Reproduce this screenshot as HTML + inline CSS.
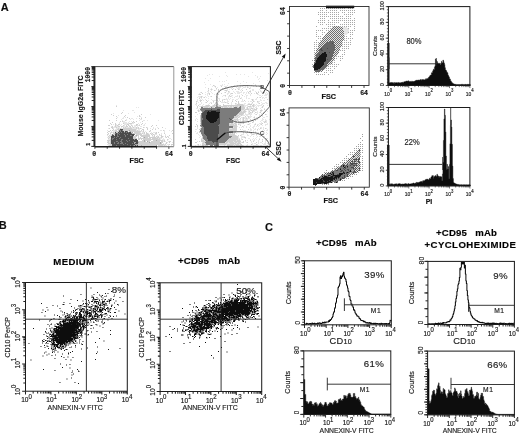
<!DOCTYPE html>
<html lang="en">
<head>
<meta charset="utf-8">
<title>Figure: CD10 / CD95 flow cytometry</title>
<style>
html,body{margin:0;padding:0;background:#fff;}
body{width:520px;height:435px;overflow:hidden;}
svg{display:block;font-family:"Liberation Sans", sans-serif;fill:#111;}
svg text{stroke:#222;stroke-width:.16px;}
svg .m{font-family:"Liberation Mono", "DejaVu Sans Mono", monospace;}
</style>
</head>
<body>
<svg width="520" height="435" viewBox="0 0 520 435">
<rect width="520" height="435" fill="#fff"/>
<g filter="url(#soft)">
<text x="0.8" y="11.1" font-size="11" font-weight="bold">A</text>
<text x="-1.2" y="229.4" font-size="11" font-weight="bold">B</text>
<text x="265" y="230.6" font-size="11" font-weight="bold">C</text>
<path d="M116 106h1v1h-1zM122 112h1v1h-1zM121 113h1v1h-1zM111 114h1v1h-1zM141 114h1v1h-1zM113 115h1v1h-1zM125 115h1v1h-1zM139 115h1v1h-1zM116 116h1v1h-1zM124 116h1v1h-1zM139 116h1v1h-1zM127 117h1v1h-1zM145 117h1v1h-1zM116 118h1v1h-1zM129 118h1v1h-1zM139 118h1v1h-1zM141 118h1v1h-1zM109 120h1v1h-1zM116 120h1v1h-1zM125 120h1v1h-1zM120 121h1v1h-1zM122 121h1v1h-1zM133 121h1v1h-1zM136 121h1v1h-1zM142 121h1v1h-1zM112 122h1v1h-1zM132 122h1v1h-1zM134 122h1v1h-1zM110 123h1v1h-1zM115 123h1v1h-1zM123 123h1v1h-1zM129 123h3v1h-3zM142 123h1v1h-1zM111 124h1v1h-1zM115 124h1v1h-1zM118 124h2v1h-2zM127 124h2v1h-2zM136 124h2v1h-2zM141 124h1v1h-1zM108 125h2v1h-2zM115 125h1v1h-1zM117 125h1v1h-1zM123 125h1v1h-1zM126 125h1v1h-1zM128 125h1v1h-1zM131 125h1v1h-1zM136 125h1v1h-1zM139 125h1v1h-1zM152 125h1v1h-1zM156 125h1v1h-1zM112 126h1v1h-1zM115 126h1v1h-1zM118 126h2v1h-2zM121 126h2v1h-2zM126 126h2v1h-2zM129 126h2v1h-2zM132 126h1v1h-1zM151 126h1v1h-1zM111 127h2v1h-2zM116 127h1v1h-1zM123 127h1v1h-1zM125 127h1v1h-1zM130 127h1v1h-1zM133 127h1v1h-1zM136 127h1v1h-1zM138 127h1v1h-1zM143 127h1v1h-1zM146 127h1v1h-1zM162 127h1v1h-1zM109 128h1v1h-1zM112 128h1v1h-1zM118 128h1v1h-1zM120 128h1v1h-1zM123 128h9v1h-9zM136 128h1v1h-1zM138 128h1v1h-1zM140 128h1v1h-1zM147 128h1v1h-1zM158 128h1v1h-1zM113 129h1v1h-1zM117 129h3v1h-3zM123 129h13v1h-13zM142 129h2v1h-2zM147 129h1v1h-1zM152 129h1v1h-1zM155 129h1v1h-1zM110 130h1v1h-1zM112 130h1v1h-1zM115 130h2v1h-2zM118 130h1v1h-1zM123 130h6v1h-6zM130 130h6v1h-6zM137 130h1v1h-1zM141 130h1v1h-1zM143 130h1v1h-1zM150 130h1v1h-1zM163 130h1v1h-1zM172 130h1v1h-1zM108 131h2v1h-2zM115 131h4v1h-4zM124 131h1v1h-1zM129 131h1v1h-1zM131 131h10v1h-10zM143 131h1v1h-1zM149 131h1v1h-1zM107 132h1v1h-1zM111 132h1v1h-1zM113 132h1v1h-1zM116 132h2v1h-2zM131 132h1v1h-1zM134 132h6v1h-6zM144 132h1v1h-1zM146 132h1v1h-1zM156 132h1v1h-1zM158 132h1v1h-1zM108 133h1v1h-1zM110 133h1v1h-1zM113 133h2v1h-2zM132 133h9v1h-9zM142 133h1v1h-1zM144 133h1v1h-1zM146 133h2v1h-2zM150 133h1v1h-1zM152 133h1v1h-1zM155 133h2v1h-2zM164 133h1v1h-1zM172 133h1v1h-1zM107 134h1v1h-1zM113 134h2v1h-2zM136 134h6v1h-6zM146 134h3v1h-3zM151 134h1v1h-1zM153 134h1v1h-1zM159 134h1v1h-1zM109 135h1v1h-1zM111 135h1v1h-1zM114 135h1v1h-1zM135 135h1v1h-1zM137 135h2v1h-2zM140 135h10v1h-10zM152 135h1v1h-1zM154 135h1v1h-1zM161 135h1v1h-1zM169 135h1v1h-1zM108 136h1v1h-1zM110 136h1v1h-1zM133 136h4v1h-4zM138 136h1v1h-1zM141 136h9v1h-9zM154 136h1v1h-1zM156 136h1v1h-1zM158 136h1v1h-1zM161 136h2v1h-2zM165 136h1v1h-1zM167 136h1v1h-1zM109 137h1v1h-1zM133 137h3v1h-3zM138 137h1v1h-1zM140 137h1v1h-1zM143 137h1v1h-1zM145 137h3v1h-3zM149 137h7v1h-7zM157 137h2v1h-2zM161 137h1v1h-1zM166 137h1v1h-1zM168 137h1v1h-1zM108 138h1v1h-1zM133 138h4v1h-4zM138 138h13v1h-13zM152 138h6v1h-6zM159 138h1v1h-1zM110 139h1v1h-1zM138 139h2v1h-2zM141 139h1v1h-1zM143 139h17v1h-17zM167 139h1v1h-1zM107 140h4v1h-4zM142 140h2v1h-2zM145 140h6v1h-6zM153 140h3v1h-3zM157 140h6v1h-6zM164 140h1v1h-1zM108 141h1v1h-1zM110 141h1v1h-1zM138 141h6v1h-6zM145 141h1v1h-1zM148 141h2v1h-2zM151 141h9v1h-9zM161 141h2v1h-2zM164 141h1v1h-1zM169 141h2v1h-2zM107 142h2v1h-2zM110 142h1v1h-1zM139 142h10v1h-10zM150 142h10v1h-10zM161 142h2v1h-2zM166 142h1v1h-1zM169 142h1v1h-1zM108 143h3v1h-3zM138 143h22v1h-22zM161 143h1v1h-1zM166 143h1v1h-1zM110 144h2v1h-2zM138 144h26v1h-26zM165 144h1v1h-1zM169 144h1v1h-1zM171 144h2v1h-2zM109 145h3v1h-3zM138 145h3v1h-3zM142 145h14v1h-14zM158 145h5v1h-5zM164 145h1v1h-1z" fill="#cfcfcf" shape-rendering="crispEdges"/>
<path d="M119 130h2v1h-2zM122 130h1v1h-1zM120 131h1v1h-1zM127 131h1v1h-1zM119 132h1v1h-1zM121 132h1v1h-1zM124 132h1v1h-1zM126 132h1v1h-1zM128 132h1v1h-1zM115 133h1v1h-1zM117 133h2v1h-2zM131 133h1v1h-1zM112 134h1v1h-1zM117 134h1v1h-1zM119 134h1v1h-1zM124 134h1v1h-1zM127 134h1v1h-1zM134 134h1v1h-1zM117 135h1v1h-1zM125 135h1v1h-1zM130 135h2v1h-2zM117 136h2v1h-2zM125 136h1v1h-1zM114 137h1v1h-1zM116 137h1v1h-1zM120 137h1v1h-1zM112 138h2v1h-2zM119 138h1v1h-1zM128 138h1v1h-1zM112 139h1v1h-1zM116 139h1v1h-1zM121 139h2v1h-2zM121 140h1v1h-1zM126 140h1v1h-1zM129 140h1v1h-1zM116 141h2v1h-2zM120 141h2v1h-2zM127 141h1v1h-1zM133 141h1v1h-1zM114 142h1v1h-1zM118 142h1v1h-1zM121 142h2v1h-2zM114 143h1v1h-1zM117 143h2v1h-2zM120 143h3v1h-3zM125 143h1v1h-1zM132 143h1v1h-1zM123 144h1v1h-1zM127 144h1v1h-1zM116 145h1v1h-1zM130 145h1v1h-1zM133 145h1v1h-1z" fill="#7c7c7c" shape-rendering="crispEdges"/>
<path d="M120 129h3v1h-3zM121 130h1v1h-1zM119 131h1v1h-1zM121 131h3v1h-3zM125 131h2v1h-2zM115 132h1v1h-1zM118 132h1v1h-1zM120 132h1v1h-1zM122 132h2v1h-2zM125 132h1v1h-1zM127 132h1v1h-1zM129 132h2v1h-2zM116 133h1v1h-1zM119 133h12v1h-12zM115 134h2v1h-2zM118 134h1v1h-1zM120 134h4v1h-4zM125 134h2v1h-2zM128 134h6v1h-6zM112 135h2v1h-2zM115 135h2v1h-2zM118 135h7v1h-7zM126 135h4v1h-4zM132 135h2v1h-2zM111 136h6v1h-6zM119 136h6v1h-6zM126 136h7v1h-7zM111 137h3v1h-3zM115 137h1v1h-1zM117 137h3v1h-3zM121 137h12v1h-12zM111 138h1v1h-1zM114 138h5v1h-5zM120 138h8v1h-8zM129 138h4v1h-4zM111 139h1v1h-1zM113 139h3v1h-3zM117 139h4v1h-4zM123 139h11v1h-11zM135 139h2v1h-2zM111 140h10v1h-10zM122 140h4v1h-4zM127 140h2v1h-2zM130 140h8v1h-8zM111 141h5v1h-5zM118 141h2v1h-2zM122 141h5v1h-5zM128 141h5v1h-5zM134 141h4v1h-4zM111 142h3v1h-3zM115 142h3v1h-3zM119 142h2v1h-2zM123 142h11v1h-11zM136 142h2v1h-2zM111 143h3v1h-3zM115 143h2v1h-2zM119 143h1v1h-1zM123 143h2v1h-2zM126 143h6v1h-6zM133 143h1v1h-1zM135 143h3v1h-3zM112 144h11v1h-11zM124 144h3v1h-3zM128 144h7v1h-7zM112 145h4v1h-4zM117 145h13v1h-13zM131 145h2v1h-2zM135 145h1v1h-1zM137 145h1v1h-1z" fill="#4c4c4c" shape-rendering="crispEdges"/>
<path d="M116 105h1v1h-1zM136 107h1v1h-1zM138 107h1v1h-1zM123 110h1v1h-1zM132 110h2v1h-2zM134 112h1v1h-1zM113 113h1v1h-1zM128 113h1v1h-1zM150 114h1v1h-1zM118 115h1v1h-1zM137 116h1v1h-1zM140 116h1v1h-1zM117 117h1v1h-1zM123 117h1v1h-1zM125 117h1v1h-1zM141 117h1v1h-1zM122 118h2v1h-2zM131 118h2v1h-2zM136 118h1v1h-1zM121 119h1v1h-1zM126 119h1v1h-1zM130 119h1v1h-1zM133 119h1v1h-1zM140 119h2v1h-2zM122 120h1v1h-1zM126 120h1v1h-1zM139 120h1v1h-1zM143 120h2v1h-2zM147 120h1v1h-1zM158 120h1v1h-1zM123 121h2v1h-2zM129 121h1v1h-1zM131 121h1v1h-1zM119 122h1v1h-1zM123 122h4v1h-4zM128 122h1v1h-1zM133 122h1v1h-1zM140 122h1v1h-1zM119 123h1v1h-1zM124 123h5v1h-5zM132 123h2v1h-2zM138 123h1v1h-1zM145 123h1v1h-1zM113 124h1v1h-1zM116 124h1v1h-1zM121 124h1v1h-1zM124 124h3v1h-3zM130 124h2v1h-2zM139 124h1v1h-1zM144 124h1v1h-1zM116 125h1v1h-1zM118 125h1v1h-1zM120 125h1v1h-1zM124 125h1v1h-1zM129 125h1v1h-1zM132 125h1v1h-1zM134 125h2v1h-2zM137 125h2v1h-2zM143 125h2v1h-2zM111 126h1v1h-1zM114 126h1v1h-1zM116 126h2v1h-2zM123 126h3v1h-3zM134 126h2v1h-2zM137 126h1v1h-1zM140 126h2v1h-2zM113 127h3v1h-3zM117 127h3v1h-3zM121 127h1v1h-1zM124 127h1v1h-1zM126 127h4v1h-4zM131 127h2v1h-2zM134 127h2v1h-2zM137 127h1v1h-1zM144 127h1v1h-1zM147 127h1v1h-1zM153 127h1v1h-1zM157 127h1v1h-1zM108 128h1v1h-1zM113 128h1v1h-1zM116 128h2v1h-2zM119 128h1v1h-1zM121 128h2v1h-2zM132 128h4v1h-4zM137 128h1v1h-1zM139 128h1v1h-1zM141 128h1v1h-1zM150 128h1v1h-1zM153 128h1v1h-1zM155 128h1v1h-1zM165 128h1v1h-1zM115 129h2v1h-2zM136 129h1v1h-1zM138 129h2v1h-2zM107 130h1v1h-1zM113 130h2v1h-2zM136 130h1v1h-1zM138 130h2v1h-2zM160 130h2v1h-2zM164 130h1v1h-1zM169 130h1v1h-1zM111 131h1v1h-1zM113 131h2v1h-2zM141 131h2v1h-2zM145 131h1v1h-1zM150 131h1v1h-1zM164 131h1v1h-1zM171 131h1v1h-1zM110 132h1v1h-1zM112 132h1v1h-1zM114 132h1v1h-1zM140 132h1v1h-1zM142 132h2v1h-2zM151 132h1v1h-1zM153 132h3v1h-3zM164 132h1v1h-1zM141 133h1v1h-1zM143 133h1v1h-1zM148 133h1v1h-1zM151 133h1v1h-1zM161 133h1v1h-1zM108 134h1v1h-1zM110 134h2v1h-2zM143 134h3v1h-3zM149 134h1v1h-1zM152 134h1v1h-1zM154 134h3v1h-3zM161 134h1v1h-1zM165 134h1v1h-1zM107 135h1v1h-1zM110 135h1v1h-1zM157 135h1v1h-1zM159 135h2v1h-2zM165 135h1v1h-1zM109 136h1v1h-1zM152 136h2v1h-2zM157 136h1v1h-1zM163 136h1v1h-1zM168 136h1v1h-1zM107 137h2v1h-2zM110 137h1v1h-1zM156 137h1v1h-1zM159 137h2v1h-2zM162 137h1v1h-1zM165 137h1v1h-1zM109 138h2v1h-2zM158 138h1v1h-1zM160 138h2v1h-2zM163 138h1v1h-1zM169 138h2v1h-2zM108 139h2v1h-2zM160 139h1v1h-1zM162 139h3v1h-3zM168 139h1v1h-1zM171 139h1v1h-1zM163 140h1v1h-1zM167 140h1v1h-1zM107 141h1v1h-1zM109 141h1v1h-1zM163 141h1v1h-1zM165 141h1v1h-1zM168 141h1v1h-1zM109 142h1v1h-1zM167 142h1v1h-1zM172 142h1v1h-1zM163 143h1v1h-1zM165 143h1v1h-1zM107 144h3v1h-3zM164 144h1v1h-1zM167 144h2v1h-2zM108 145h1v1h-1zM163 145h1v1h-1zM165 145h2v1h-2zM168 145h1v1h-1zM171 145h1v1h-1z" fill="#e6e6e6" shape-rendering="crispEdges"/>
<path d="M129 130h1v1h-1zM130 131h1v1h-1zM132 132h1v1h-1zM136 135h1v1h-1zM144 137h1v1h-1zM134 139h1v1h-1zM144 140h1v1h-1zM156 140h1v1h-1zM144 141h1v1h-1zM147 141h1v1h-1zM134 142h2v1h-2zM138 142h1v1h-1zM149 142h1v1h-1zM160 142h1v1h-1zM134 143h1v1h-1zM160 143h1v1h-1zM135 144h3v1h-3zM134 145h1v1h-1zM136 145h1v1h-1zM141 145h1v1h-1zM156 145h1v1h-1z" fill="#a8a8a8" shape-rendering="crispEdges"/>
<path d="M213 85h1v1h-1zM255 85h1v1h-1zM261 85h1v1h-1zM215 86h1v1h-1zM221 86h1v1h-1zM256 86h1v1h-1zM225 87h1v1h-1zM232 87h1v1h-1zM247 87h1v1h-1zM208 88h1v1h-1zM216 88h1v1h-1zM222 88h1v1h-1zM224 88h1v1h-1zM249 88h1v1h-1zM211 89h1v1h-1zM218 89h1v1h-1zM232 89h1v1h-1zM235 89h1v1h-1zM238 89h1v1h-1zM246 89h1v1h-1zM208 90h1v1h-1zM214 90h1v1h-1zM218 90h1v1h-1zM225 90h2v1h-2zM242 90h1v1h-1zM264 90h1v1h-1zM218 91h1v1h-1zM228 91h1v1h-1zM249 91h2v1h-2zM201 92h1v1h-1zM225 92h1v1h-1zM248 92h1v1h-1zM256 92h1v1h-1zM258 92h1v1h-1zM262 92h1v1h-1zM264 92h1v1h-1zM202 93h1v1h-1zM209 93h1v1h-1zM217 93h1v1h-1zM221 93h1v1h-1zM231 93h2v1h-2zM251 93h1v1h-1zM256 93h2v1h-2zM199 94h2v1h-2zM209 94h1v1h-1zM218 94h1v1h-1zM225 95h1v1h-1zM229 95h1v1h-1zM242 95h1v1h-1zM201 96h1v1h-1zM211 96h1v1h-1zM230 96h1v1h-1zM239 96h1v1h-1zM201 97h1v1h-1zM204 97h1v1h-1zM257 97h1v1h-1zM260 97h1v1h-1zM199 98h1v1h-1zM240 98h1v1h-1zM224 99h1v1h-1zM252 99h1v1h-1zM267 99h1v1h-1zM200 100h2v1h-2zM206 100h1v1h-1zM222 100h1v1h-1zM235 100h1v1h-1zM244 100h1v1h-1zM252 100h1v1h-1zM196 101h1v1h-1zM200 101h1v1h-1zM207 101h1v1h-1zM213 101h1v1h-1zM220 101h1v1h-1zM232 101h1v1h-1zM236 101h1v1h-1zM238 101h1v1h-1zM253 101h1v1h-1zM257 101h1v1h-1zM206 102h1v1h-1zM225 102h1v1h-1zM238 102h1v1h-1zM252 102h1v1h-1zM196 103h1v1h-1zM211 103h1v1h-1zM215 103h1v1h-1zM228 103h1v1h-1zM235 103h1v1h-1zM238 103h1v1h-1zM259 103h1v1h-1zM214 104h1v1h-1zM217 104h1v1h-1zM223 104h1v1h-1zM237 104h6v1h-6zM248 104h4v1h-4zM253 104h1v1h-1zM198 105h1v1h-1zM206 105h4v1h-4zM213 105h4v1h-4zM219 105h2v1h-2zM223 105h21v1h-21zM252 105h2v1h-2zM263 105h1v1h-1zM197 106h1v1h-1zM201 106h8v1h-8zM210 106h5v1h-5zM216 106h11v1h-11zM228 106h1v1h-1zM230 106h2v1h-2zM233 106h1v1h-1zM235 106h3v1h-3zM239 106h1v1h-1zM241 106h3v1h-3zM248 106h3v1h-3zM253 106h1v1h-1zM262 106h1v1h-1zM197 107h1v1h-1zM204 107h4v1h-4zM209 107h1v1h-1zM212 107h2v1h-2zM222 107h1v1h-1zM224 107h4v1h-4zM229 107h3v1h-3zM233 107h1v1h-1zM237 107h2v1h-2zM241 107h4v1h-4zM247 107h1v1h-1zM262 107h1v1h-1zM200 108h1v1h-1zM241 108h4v1h-4zM247 108h1v1h-1zM251 108h2v1h-2zM256 108h1v1h-1zM241 109h3v1h-3zM245 109h4v1h-4zM250 109h1v1h-1zM254 109h3v1h-3zM264 109h1v1h-1zM198 110h1v1h-1zM200 110h1v1h-1zM244 110h1v1h-1zM251 110h1v1h-1zM253 110h1v1h-1zM260 110h2v1h-2zM198 111h1v1h-1zM201 111h1v1h-1zM240 111h2v1h-2zM243 111h3v1h-3zM249 111h1v1h-1zM252 111h1v1h-1zM195 112h2v1h-2zM239 112h6v1h-6zM250 112h1v1h-1zM252 112h1v1h-1zM255 112h1v1h-1zM260 112h1v1h-1zM238 113h6v1h-6zM249 113h1v1h-1zM237 114h1v1h-1zM239 114h4v1h-4zM256 114h1v1h-1zM265 114h1v1h-1zM200 115h1v1h-1zM236 115h3v1h-3zM241 115h1v1h-1zM262 115h1v1h-1zM200 116h1v1h-1zM234 116h4v1h-4zM239 116h1v1h-1zM245 116h1v1h-1zM248 116h1v1h-1zM200 117h1v1h-1zM234 117h3v1h-3zM238 117h1v1h-1zM243 117h1v1h-1zM248 117h1v1h-1zM254 117h1v1h-1zM200 118h1v1h-1zM233 118h1v1h-1zM237 118h1v1h-1zM240 118h1v1h-1zM243 118h1v1h-1zM246 118h1v1h-1zM200 119h1v1h-1zM232 119h1v1h-1zM234 119h4v1h-4zM243 119h1v1h-1zM250 119h1v1h-1zM200 120h1v1h-1zM231 120h2v1h-2zM235 120h1v1h-1zM237 120h1v1h-1zM243 120h1v1h-1zM252 120h1v1h-1zM255 120h1v1h-1zM200 121h1v1h-1zM235 121h2v1h-2zM238 121h1v1h-1zM242 121h2v1h-2zM253 121h1v1h-1zM265 121h1v1h-1zM233 122h1v1h-1zM235 122h2v1h-2zM240 122h2v1h-2zM243 122h1v1h-1zM248 122h1v1h-1zM252 122h1v1h-1zM264 122h1v1h-1zM200 123h1v1h-1zM229 123h1v1h-1zM231 123h2v1h-2zM234 123h2v1h-2zM243 123h1v1h-1zM262 123h1v1h-1zM196 124h1v1h-1zM229 124h5v1h-5zM235 124h2v1h-2zM238 124h1v1h-1zM248 124h1v1h-1zM255 124h1v1h-1zM261 124h1v1h-1zM197 125h1v1h-1zM229 125h8v1h-8zM240 125h1v1h-1zM257 125h1v1h-1zM195 126h1v1h-1zM197 126h1v1h-1zM200 126h1v1h-1zM233 126h4v1h-4zM242 126h1v1h-1zM201 127h1v1h-1zM234 127h3v1h-3zM200 128h1v1h-1zM229 128h1v1h-1zM232 128h5v1h-5zM260 128h1v1h-1zM265 128h1v1h-1zM199 129h2v1h-2zM229 129h8v1h-8zM240 129h1v1h-1zM248 129h1v1h-1zM257 129h1v1h-1zM229 130h8v1h-8zM199 131h1v1h-1zM233 131h3v1h-3zM241 131h1v1h-1zM247 131h1v1h-1zM262 131h1v1h-1zM199 132h1v1h-1zM234 132h2v1h-2zM243 132h1v1h-1zM250 132h2v1h-2zM230 133h1v1h-1zM232 133h1v1h-1zM234 133h1v1h-1zM251 133h1v1h-1zM257 133h1v1h-1zM263 133h1v1h-1zM201 134h1v1h-1zM229 134h6v1h-6zM252 134h2v1h-2zM256 134h1v1h-1zM229 135h7v1h-7zM238 135h1v1h-1zM240 135h1v1h-1zM202 136h1v1h-1zM232 136h6v1h-6zM202 137h1v1h-1zM231 137h7v1h-7zM244 137h2v1h-2zM202 138h1v1h-1zM229 138h9v1h-9zM195 139h1v1h-1zM201 139h1v1h-1zM203 139h1v1h-1zM228 139h10v1h-10zM239 139h1v1h-1zM242 139h1v1h-1zM259 139h1v1h-1zM262 139h1v1h-1zM265 139h2v1h-2zM201 140h3v1h-3zM227 140h9v1h-9zM237 140h3v1h-3zM245 140h1v1h-1zM250 140h1v1h-1zM199 141h1v1h-1zM201 141h5v1h-5zM226 141h7v1h-7zM234 141h7v1h-7zM243 141h1v1h-1zM253 141h1v1h-1zM262 141h1v1h-1zM195 142h2v1h-2zM203 142h2v1h-2zM226 142h2v1h-2zM229 142h5v1h-5zM235 142h2v1h-2zM238 142h2v1h-2zM242 142h2v1h-2zM247 142h1v1h-1zM256 142h1v1h-1zM202 143h2v1h-2zM205 143h1v1h-1zM219 143h8v1h-8zM230 143h6v1h-6zM237 143h4v1h-4zM198 144h1v1h-1zM202 144h4v1h-4zM219 144h7v1h-7zM227 144h7v1h-7zM235 144h4v1h-4zM240 144h2v1h-2zM251 144h1v1h-1zM256 144h1v1h-1zM202 145h2v1h-2zM205 145h3v1h-3zM227 145h6v1h-6zM234 145h1v1h-1zM236 145h7v1h-7zM267 145h1v1h-1z" fill="#cfcfcf" shape-rendering="crispEdges"/>
<path d="M240 106h1v1h-1zM201 107h2v1h-2zM211 107h1v1h-1zM215 107h6v1h-6zM234 107h3v1h-3zM239 107h2v1h-2zM201 108h40v1h-40zM200 109h11v1h-11zM212 109h5v1h-5zM220 109h21v1h-21zM201 110h4v1h-4zM220 110h21v1h-21zM202 111h2v1h-2zM220 111h20v1h-20zM202 112h1v1h-1zM220 112h19v1h-19zM201 113h1v1h-1zM220 113h18v1h-18zM201 114h1v1h-1zM220 114h17v1h-17zM201 115h1v1h-1zM220 115h16v1h-16zM201 116h1v1h-1zM220 116h14v1h-14zM201 117h1v1h-1zM220 117h14v1h-14zM201 118h2v1h-2zM220 118h13v1h-13zM201 119h2v1h-2zM220 119h12v1h-12zM201 120h1v1h-1zM220 120h11v1h-11zM201 121h1v1h-1zM220 121h13v1h-13zM201 122h1v1h-1zM220 122h13v1h-13zM201 123h1v1h-1zM220 123h9v1h-9zM201 124h1v1h-1zM219 124h10v1h-10zM200 125h2v1h-2zM218 125h11v1h-11zM201 126h2v1h-2zM219 126h14v1h-14zM202 127h2v1h-2zM219 127h14v1h-14zM201 128h3v1h-3zM219 128h10v1h-10zM201 129h3v1h-3zM219 129h10v1h-10zM200 130h4v1h-4zM219 130h10v1h-10zM200 131h4v1h-4zM219 131h14v1h-14zM201 132h3v1h-3zM219 132h14v1h-14zM201 133h3v1h-3zM219 133h10v1h-10zM202 134h3v1h-3zM218 134h11v1h-11zM202 135h4v1h-4zM218 135h11v1h-11zM203 136h4v1h-4zM218 136h14v1h-14zM203 137h4v1h-4zM218 137h13v1h-13zM203 138h4v1h-4zM218 138h11v1h-11zM204 139h4v1h-4zM218 139h10v1h-10zM205 140h3v1h-3zM218 140h9v1h-9zM206 141h6v1h-6zM218 141h8v1h-8zM205 142h8v1h-8zM214 142h11v1h-11zM206 143h13v1h-13zM206 144h13v1h-13zM210 145h3v1h-3zM214 145h5v1h-5z" fill="#7c7c7c" shape-rendering="crispEdges"/>
<path d="M211 109h1v1h-1zM217 109h3v1h-3zM205 110h15v1h-15zM204 111h4v1h-4zM209 111h2v1h-2zM216 111h4v1h-4zM203 112h4v1h-4zM202 113h5v1h-5zM219 113h1v1h-1zM202 114h5v1h-5zM219 114h1v1h-1zM202 115h4v1h-4zM219 115h1v1h-1zM202 116h4v1h-4zM219 116h1v1h-1zM202 117h4v1h-4zM219 117h1v1h-1zM203 118h3v1h-3zM218 118h2v1h-2zM203 119h4v1h-4zM217 119h3v1h-3zM202 120h6v1h-6zM217 120h3v1h-3zM202 121h7v1h-7zM216 121h4v1h-4zM202 122h8v1h-8zM214 122h6v1h-6zM202 123h18v1h-18zM202 124h17v1h-17zM202 125h16v1h-16zM203 126h16v1h-16zM204 127h15v1h-15zM204 128h15v1h-15zM204 129h15v1h-15zM204 130h15v1h-15zM204 131h15v1h-15zM204 132h15v1h-15zM204 133h15v1h-15zM205 134h13v1h-13zM206 135h12v1h-12zM207 136h11v1h-11zM207 137h11v1h-11zM207 138h11v1h-11zM208 139h10v1h-10zM208 140h10v1h-10zM212 141h6v1h-6zM213 142h1v1h-1z" fill="#4c4c4c" shape-rendering="crispEdges"/>
<path d="M208 111h1v1h-1zM211 111h5v1h-5zM207 112h13v1h-13zM207 113h12v1h-12zM207 114h12v1h-12zM206 115h13v1h-13zM206 116h13v1h-13zM206 117h13v1h-13zM206 118h12v1h-12zM207 119h10v1h-10zM208 120h9v1h-9zM209 121h7v1h-7zM210 122h4v1h-4z" fill="#151515" shape-rendering="crispEdges"/>
<path d="M225 72h1v1h-1zM252 72h1v1h-1zM268 73h1v1h-1zM209 74h1v1h-1zM212 74h1v1h-1zM236 74h1v1h-1zM240 74h1v1h-1zM244 74h1v1h-1zM207 75h1v1h-1zM226 75h1v1h-1zM255 75h1v1h-1zM219 76h1v1h-1zM227 76h1v1h-1zM248 76h1v1h-1zM257 76h1v1h-1zM260 76h1v1h-1zM257 77h1v1h-1zM205 78h1v1h-1zM210 78h1v1h-1zM259 78h1v1h-1zM258 79h1v1h-1zM208 80h1v1h-1zM226 80h1v1h-1zM267 80h1v1h-1zM219 81h1v1h-1zM222 81h1v1h-1zM224 81h1v1h-1zM237 81h1v1h-1zM243 81h1v1h-1zM259 81h1v1h-1zM204 82h1v1h-1zM246 82h1v1h-1zM228 83h1v1h-1zM240 83h1v1h-1zM253 83h1v1h-1zM269 83h1v1h-1zM205 84h1v1h-1zM210 84h1v1h-1zM222 84h1v1h-1zM224 84h1v1h-1zM255 84h1v1h-1zM214 85h1v1h-1zM220 85h3v1h-3zM227 85h1v1h-1zM234 85h1v1h-1zM237 85h1v1h-1zM240 85h1v1h-1zM243 85h1v1h-1zM247 85h1v1h-1zM251 85h1v1h-1zM258 85h2v1h-2zM268 85h1v1h-1zM212 86h1v1h-1zM214 86h1v1h-1zM224 86h3v1h-3zM231 86h1v1h-1zM237 86h1v1h-1zM240 86h1v1h-1zM242 86h1v1h-1zM245 86h1v1h-1zM247 86h1v1h-1zM253 86h1v1h-1zM259 86h1v1h-1zM205 87h1v1h-1zM215 87h1v1h-1zM217 87h1v1h-1zM236 87h1v1h-1zM238 87h3v1h-3zM243 87h3v1h-3zM248 87h1v1h-1zM250 87h1v1h-1zM211 88h1v1h-1zM226 88h2v1h-2zM231 88h1v1h-1zM233 88h1v1h-1zM237 88h3v1h-3zM242 88h1v1h-1zM250 88h1v1h-1zM260 88h1v1h-1zM208 89h1v1h-1zM210 89h1v1h-1zM212 89h1v1h-1zM216 89h1v1h-1zM220 89h1v1h-1zM227 89h1v1h-1zM229 89h1v1h-1zM239 89h1v1h-1zM241 89h1v1h-1zM252 89h2v1h-2zM259 89h1v1h-1zM211 90h1v1h-1zM215 90h1v1h-1zM224 90h1v1h-1zM227 90h1v1h-1zM240 90h1v1h-1zM250 90h1v1h-1zM252 90h2v1h-2zM260 90h1v1h-1zM266 90h1v1h-1zM207 91h2v1h-2zM210 91h1v1h-1zM226 91h1v1h-1zM229 91h1v1h-1zM233 91h1v1h-1zM236 91h3v1h-3zM241 91h1v1h-1zM247 91h1v1h-1zM255 91h1v1h-1zM258 91h1v1h-1zM260 91h2v1h-2zM263 91h1v1h-1zM200 92h1v1h-1zM205 92h1v1h-1zM208 92h1v1h-1zM211 92h1v1h-1zM219 92h1v1h-1zM224 92h1v1h-1zM228 92h2v1h-2zM234 92h1v1h-1zM237 92h5v1h-5zM243 92h2v1h-2zM246 92h1v1h-1zM250 92h1v1h-1zM261 92h1v1h-1zM266 92h1v1h-1zM199 93h1v1h-1zM207 93h2v1h-2zM212 93h1v1h-1zM216 93h1v1h-1zM218 93h1v1h-1zM227 93h2v1h-2zM230 93h1v1h-1zM235 93h1v1h-1zM237 93h3v1h-3zM243 93h1v1h-1zM246 93h1v1h-1zM248 93h2v1h-2zM254 93h1v1h-1zM265 93h1v1h-1zM267 93h1v1h-1zM198 94h1v1h-1zM205 94h1v1h-1zM207 94h1v1h-1zM214 94h1v1h-1zM216 94h1v1h-1zM227 94h1v1h-1zM230 94h1v1h-1zM241 94h1v1h-1zM245 94h1v1h-1zM250 94h1v1h-1zM257 94h2v1h-2zM265 94h3v1h-3zM207 95h1v1h-1zM223 95h2v1h-2zM231 95h2v1h-2zM237 95h1v1h-1zM239 95h1v1h-1zM246 95h2v1h-2zM250 95h1v1h-1zM259 95h2v1h-2zM262 95h1v1h-1zM264 95h3v1h-3zM198 96h3v1h-3zM202 96h1v1h-1zM205 96h1v1h-1zM208 96h1v1h-1zM210 96h1v1h-1zM216 96h1v1h-1zM222 96h1v1h-1zM225 96h1v1h-1zM228 96h2v1h-2zM231 96h1v1h-1zM235 96h3v1h-3zM244 96h1v1h-1zM246 96h1v1h-1zM261 96h1v1h-1zM197 97h1v1h-1zM199 97h2v1h-2zM203 97h1v1h-1zM206 97h1v1h-1zM217 97h1v1h-1zM228 97h1v1h-1zM232 97h1v1h-1zM234 97h1v1h-1zM239 97h1v1h-1zM241 97h1v1h-1zM246 97h1v1h-1zM259 97h1v1h-1zM262 97h2v1h-2zM265 97h2v1h-2zM201 98h1v1h-1zM208 98h1v1h-1zM218 98h2v1h-2zM226 98h1v1h-1zM228 98h1v1h-1zM230 98h1v1h-1zM238 98h1v1h-1zM241 98h1v1h-1zM246 98h1v1h-1zM248 98h2v1h-2zM256 98h1v1h-1zM262 98h1v1h-1zM264 98h1v1h-1zM197 99h1v1h-1zM200 99h1v1h-1zM202 99h1v1h-1zM205 99h1v1h-1zM211 99h1v1h-1zM219 99h1v1h-1zM222 99h2v1h-2zM225 99h3v1h-3zM229 99h1v1h-1zM232 99h2v1h-2zM236 99h2v1h-2zM242 99h1v1h-1zM251 99h1v1h-1zM253 99h1v1h-1zM255 99h2v1h-2zM260 99h1v1h-1zM197 100h1v1h-1zM199 100h1v1h-1zM203 100h1v1h-1zM208 100h1v1h-1zM212 100h4v1h-4zM217 100h1v1h-1zM219 100h1v1h-1zM227 100h1v1h-1zM232 100h1v1h-1zM242 100h1v1h-1zM253 100h1v1h-1zM260 100h2v1h-2zM263 100h2v1h-2zM197 101h1v1h-1zM218 101h1v1h-1zM222 101h1v1h-1zM224 101h1v1h-1zM227 101h2v1h-2zM241 101h3v1h-3zM245 101h1v1h-1zM248 101h1v1h-1zM250 101h2v1h-2zM254 101h1v1h-1zM258 101h2v1h-2zM196 102h1v1h-1zM198 102h1v1h-1zM201 102h1v1h-1zM205 102h1v1h-1zM210 102h2v1h-2zM213 102h1v1h-1zM215 102h2v1h-2zM221 102h4v1h-4zM226 102h2v1h-2zM231 102h1v1h-1zM257 102h2v1h-2zM261 102h1v1h-1zM265 102h2v1h-2zM201 103h1v1h-1zM209 103h1v1h-1zM217 103h1v1h-1zM227 103h1v1h-1zM231 103h1v1h-1zM236 103h1v1h-1zM239 103h1v1h-1zM244 103h2v1h-2zM248 103h2v1h-2zM251 103h2v1h-2zM258 103h1v1h-1zM262 103h3v1h-3zM266 103h2v1h-2zM195 104h2v1h-2zM199 104h2v1h-2zM203 104h1v1h-1zM208 104h1v1h-1zM215 104h2v1h-2zM218 104h1v1h-1zM231 104h1v1h-1zM235 104h2v1h-2zM243 104h2v1h-2zM247 104h1v1h-1zM254 104h1v1h-1zM256 104h1v1h-1zM261 104h2v1h-2zM196 105h1v1h-1zM202 105h1v1h-1zM205 105h1v1h-1zM212 105h1v1h-1zM218 105h1v1h-1zM244 105h4v1h-4zM250 105h1v1h-1zM254 105h2v1h-2zM257 105h5v1h-5zM267 105h1v1h-1zM199 106h2v1h-2zM209 106h1v1h-1zM215 106h1v1h-1zM227 106h1v1h-1zM229 106h1v1h-1zM232 106h1v1h-1zM234 106h1v1h-1zM238 106h1v1h-1zM244 106h2v1h-2zM247 106h1v1h-1zM251 106h2v1h-2zM254 106h1v1h-1zM256 106h1v1h-1zM258 106h1v1h-1zM263 106h1v1h-1zM203 107h1v1h-1zM208 107h1v1h-1zM210 107h1v1h-1zM214 107h1v1h-1zM221 107h1v1h-1zM223 107h1v1h-1zM228 107h1v1h-1zM232 107h1v1h-1zM246 107h1v1h-1zM249 107h3v1h-3zM253 107h1v1h-1zM255 107h2v1h-2zM261 107h1v1h-1zM196 108h2v1h-2zM199 108h1v1h-1zM246 108h1v1h-1zM248 108h3v1h-3zM253 108h2v1h-2zM257 108h1v1h-1zM260 108h1v1h-1zM264 108h1v1h-1zM198 109h1v1h-1zM244 109h1v1h-1zM249 109h1v1h-1zM252 109h2v1h-2zM261 109h1v1h-1zM197 110h1v1h-1zM199 110h1v1h-1zM241 110h3v1h-3zM245 110h1v1h-1zM248 110h3v1h-3zM252 110h1v1h-1zM254 110h3v1h-3zM262 110h1v1h-1zM199 111h1v1h-1zM242 111h1v1h-1zM246 111h1v1h-1zM248 111h1v1h-1zM253 111h2v1h-2zM257 111h1v1h-1zM260 111h2v1h-2zM265 111h1v1h-1zM267 111h1v1h-1zM245 112h1v1h-1zM248 112h2v1h-2zM251 112h1v1h-1zM256 112h2v1h-2zM259 112h1v1h-1zM263 112h1v1h-1zM199 113h1v1h-1zM245 113h1v1h-1zM248 113h1v1h-1zM250 113h2v1h-2zM254 113h1v1h-1zM257 113h1v1h-1zM261 113h1v1h-1zM263 113h1v1h-1zM197 114h1v1h-1zM238 114h1v1h-1zM243 114h1v1h-1zM245 114h7v1h-7zM255 114h1v1h-1zM259 114h1v1h-1zM266 114h1v1h-1zM239 115h2v1h-2zM242 115h3v1h-3zM246 115h2v1h-2zM250 115h1v1h-1zM259 115h1v1h-1zM261 115h1v1h-1zM195 116h1v1h-1zM238 116h1v1h-1zM240 116h1v1h-1zM247 116h1v1h-1zM249 116h3v1h-3zM254 116h1v1h-1zM259 116h1v1h-1zM262 116h1v1h-1zM266 116h2v1h-2zM237 117h1v1h-1zM239 117h1v1h-1zM241 117h2v1h-2zM244 117h3v1h-3zM249 117h2v1h-2zM253 117h1v1h-1zM256 117h1v1h-1zM263 117h2v1h-2zM196 118h1v1h-1zM234 118h3v1h-3zM242 118h1v1h-1zM244 118h2v1h-2zM247 118h3v1h-3zM254 118h1v1h-1zM262 118h1v1h-1zM195 119h1v1h-1zM197 119h1v1h-1zM233 119h1v1h-1zM238 119h3v1h-3zM242 119h1v1h-1zM245 119h3v1h-3zM257 119h1v1h-1zM262 119h2v1h-2zM265 119h1v1h-1zM269 119h1v1h-1zM195 120h1v1h-1zM233 120h2v1h-2zM236 120h1v1h-1zM238 120h1v1h-1zM240 120h1v1h-1zM242 120h1v1h-1zM244 120h4v1h-4zM253 120h1v1h-1zM261 120h2v1h-2zM265 120h2v1h-2zM197 121h1v1h-1zM233 121h2v1h-2zM239 121h3v1h-3zM260 121h1v1h-1zM263 121h2v1h-2zM266 121h1v1h-1zM200 122h1v1h-1zM234 122h1v1h-1zM238 122h1v1h-1zM244 122h1v1h-1zM253 122h1v1h-1zM261 122h1v1h-1zM265 122h2v1h-2zM230 123h1v1h-1zM233 123h1v1h-1zM236 123h1v1h-1zM238 123h5v1h-5zM249 123h2v1h-2zM255 123h1v1h-1zM259 123h3v1h-3zM267 123h1v1h-1zM200 124h1v1h-1zM234 124h1v1h-1zM239 124h2v1h-2zM247 124h1v1h-1zM249 124h1v1h-1zM254 124h1v1h-1zM257 124h2v1h-2zM260 124h1v1h-1zM265 124h3v1h-3zM244 125h1v1h-1zM250 125h1v1h-1zM254 125h1v1h-1zM259 125h1v1h-1zM262 125h1v1h-1zM265 125h1v1h-1zM237 126h1v1h-1zM243 126h1v1h-1zM246 126h1v1h-1zM250 126h1v1h-1zM253 126h2v1h-2zM256 126h1v1h-1zM258 126h1v1h-1zM197 127h1v1h-1zM233 127h1v1h-1zM239 127h1v1h-1zM241 127h1v1h-1zM243 127h1v1h-1zM246 127h1v1h-1zM249 127h1v1h-1zM252 127h2v1h-2zM260 127h2v1h-2zM263 127h1v1h-1zM197 128h1v1h-1zM230 128h2v1h-2zM250 128h1v1h-1zM253 128h1v1h-1zM255 128h1v1h-1zM258 128h1v1h-1zM261 128h1v1h-1zM263 128h1v1h-1zM266 128h1v1h-1zM195 129h2v1h-2zM242 129h1v1h-1zM250 129h2v1h-2zM254 129h2v1h-2zM259 129h1v1h-1zM263 129h1v1h-1zM267 129h1v1h-1zM243 130h3v1h-3zM250 130h2v1h-2zM253 130h1v1h-1zM257 130h1v1h-1zM262 130h1v1h-1zM264 130h1v1h-1zM266 130h2v1h-2zM195 131h1v1h-1zM236 131h1v1h-1zM242 131h1v1h-1zM249 131h1v1h-1zM253 131h1v1h-1zM255 131h1v1h-1zM197 132h1v1h-1zM200 132h1v1h-1zM233 132h1v1h-1zM245 132h1v1h-1zM247 132h1v1h-1zM249 132h1v1h-1zM255 132h1v1h-1zM258 132h1v1h-1zM260 132h1v1h-1zM264 132h1v1h-1zM266 132h1v1h-1zM196 133h2v1h-2zM229 133h1v1h-1zM231 133h1v1h-1zM233 133h1v1h-1zM236 133h1v1h-1zM243 133h1v1h-1zM246 133h1v1h-1zM250 133h1v1h-1zM258 133h1v1h-1zM260 133h1v1h-1zM262 133h1v1h-1zM264 133h1v1h-1zM267 133h1v1h-1zM198 134h1v1h-1zM241 134h3v1h-3zM247 134h1v1h-1zM251 134h1v1h-1zM254 134h1v1h-1zM257 134h2v1h-2zM261 134h3v1h-3zM266 134h1v1h-1zM199 135h1v1h-1zM236 135h1v1h-1zM241 135h1v1h-1zM247 135h2v1h-2zM251 135h1v1h-1zM256 135h1v1h-1zM261 135h1v1h-1zM200 136h1v1h-1zM238 136h1v1h-1zM241 136h4v1h-4zM250 136h1v1h-1zM253 136h1v1h-1zM257 136h1v1h-1zM259 136h2v1h-2zM264 136h1v1h-1zM199 137h1v1h-1zM238 137h1v1h-1zM241 137h3v1h-3zM256 137h1v1h-1zM263 137h1v1h-1zM201 138h1v1h-1zM238 138h2v1h-2zM241 138h1v1h-1zM245 138h1v1h-1zM248 138h2v1h-2zM253 138h1v1h-1zM255 138h1v1h-1zM259 138h1v1h-1zM264 138h1v1h-1zM266 138h2v1h-2zM202 139h1v1h-1zM238 139h1v1h-1zM241 139h1v1h-1zM250 139h1v1h-1zM252 139h1v1h-1zM254 139h1v1h-1zM256 139h1v1h-1zM204 140h1v1h-1zM236 140h1v1h-1zM240 140h1v1h-1zM247 140h1v1h-1zM253 140h2v1h-2zM258 140h1v1h-1zM262 140h1v1h-1zM265 140h3v1h-3zM197 141h1v1h-1zM233 141h1v1h-1zM245 141h1v1h-1zM251 141h1v1h-1zM258 141h1v1h-1zM265 141h1v1h-1zM267 141h1v1h-1zM202 142h1v1h-1zM225 142h1v1h-1zM228 142h1v1h-1zM234 142h1v1h-1zM237 142h1v1h-1zM240 142h2v1h-2zM246 142h1v1h-1zM251 142h1v1h-1zM258 142h1v1h-1zM260 142h2v1h-2zM265 142h1v1h-1zM204 143h1v1h-1zM227 143h3v1h-3zM236 143h1v1h-1zM252 143h1v1h-1zM254 143h2v1h-2zM258 143h1v1h-1zM262 143h1v1h-1zM264 143h2v1h-2zM267 143h1v1h-1zM197 144h1v1h-1zM200 144h1v1h-1zM226 144h1v1h-1zM234 144h1v1h-1zM239 144h1v1h-1zM247 144h1v1h-1zM252 144h1v1h-1zM257 144h1v1h-1zM263 144h3v1h-3zM195 145h1v1h-1zM198 145h1v1h-1zM204 145h1v1h-1zM224 145h1v1h-1zM233 145h1v1h-1zM235 145h1v1h-1zM243 145h1v1h-1zM246 145h2v1h-2zM253 145h6v1h-6zM260 145h2v1h-2zM266 145h1v1h-1z" fill="#e6e6e6" shape-rendering="crispEdges"/>
<path d="M217 107C217 105.08 216.73 98 217 95.5C217.27 93 217.65 93.05 218.6 92C219.55 90.95 220.38 90.1 222.7 89.2C225.02 88.3 228.95 87.2 232.5 86.6C236.05 86 240.18 85.72 244 85.6C247.82 85.48 252.63 85.8 255.4 85.9C258.17 86 259.73 86.15 260.6 86.2L269.4 91.7L269.5 106.8C268.8 107.57 266.92 109.72 265.3 111.4C263.68 113.08 261.8 115.45 259.8 116.9C257.8 118.35 255.6 119.25 253.3 120.1C251 120.95 248.65 121.65 246 122C243.35 122.35 239.78 122.5 237.4 122.2C235.02 121.9 233.07 120.87 231.7 120.2C230.33 119.53 229.62 118.53 229.2 118.2" fill="none" stroke="#3a3a3a" stroke-width="0.8"/>
<path d="M217 146L217 139.6L225.1 133.1C226.33 132.92 229.85 132.23 232.5 132C235.15 131.77 238.28 131.65 241 131.7C243.72 131.75 246.28 132.08 248.8 132.3C251.32 132.52 254.27 132.65 256.1 133C257.93 133.35 258.42 133.63 259.8 134.4C261.18 135.17 263.03 136.38 264.4 137.6C265.77 138.82 267.15 140.4 268 141.7C268.85 143 269.25 144.78 269.5 145.4" fill="none" stroke="#3a3a3a" stroke-width="0.8"/>
<path d="M217 139.8L225.3 133" stroke="#111" stroke-width="1.4" fill="none"/>
<text x="260.2" y="88.6" font-size="5.4" font-weight="bold" fill="#555">B</text>
<text x="260" y="135.2" font-size="5.6" fill="#444">C</text>
<path d="M320 8h1v1h-1zM322 8h1v1h-1zM324 8h1v1h-1zM326 8h1v1h-1zM328 8h1v1h-1zM330 8h1v1h-1zM332 8h1v1h-1zM334 8h1v1h-1zM336 8h1v1h-1zM338 8h1v1h-1zM340 8h1v1h-1zM342 8h1v1h-1zM344 8h1v1h-1zM348 8h1v1h-1zM350 8h1v1h-1zM352 8h1v1h-1zM320 10h1v1h-1zM322 10h1v1h-1zM326 10h1v1h-1zM330 10h1v1h-1zM332 10h1v1h-1zM334 10h1v1h-1zM336 10h1v1h-1zM340 10h1v1h-1zM342 10h1v1h-1zM344 10h1v1h-1zM346 10h1v1h-1zM348 10h1v1h-1zM350 10h1v1h-1zM352 10h1v1h-1zM354 10h1v1h-1zM318 12h1v1h-1zM320 12h1v1h-1zM322 12h1v1h-1zM324 12h1v1h-1zM326 12h1v1h-1zM328 12h1v1h-1zM330 12h1v1h-1zM332 12h1v1h-1zM334 12h1v1h-1zM336 12h1v1h-1zM338 12h1v1h-1zM342 12h1v1h-1zM344 12h1v1h-1zM348 12h1v1h-1zM350 12h1v1h-1zM352 12h1v1h-1zM354 12h1v1h-1zM318 14h1v1h-1zM320 14h1v1h-1zM322 14h1v1h-1zM324 14h1v1h-1zM326 14h1v1h-1zM330 14h1v1h-1zM332 14h1v1h-1zM334 14h1v1h-1zM336 14h1v1h-1zM338 14h1v1h-1zM344 14h1v1h-1zM346 14h1v1h-1zM348 14h1v1h-1zM350 14h1v1h-1zM352 14h1v1h-1zM320 16h1v1h-1zM322 16h1v1h-1zM324 16h1v1h-1zM326 16h1v1h-1zM328 16h1v1h-1zM330 16h1v1h-1zM332 16h1v1h-1zM334 16h1v1h-1zM336 16h1v1h-1zM338 16h1v1h-1zM340 16h1v1h-1zM342 16h1v1h-1zM346 16h1v1h-1zM348 16h1v1h-1zM350 16h1v1h-1zM320 18h1v1h-1zM322 18h1v1h-1zM324 18h1v1h-1zM330 18h1v1h-1zM332 18h1v1h-1zM334 18h1v1h-1zM336 18h1v1h-1zM338 18h1v1h-1zM340 18h1v1h-1zM342 18h1v1h-1zM344 18h1v1h-1zM346 18h1v1h-1zM348 18h1v1h-1zM350 18h1v1h-1zM354 18h1v1h-1zM318 20h1v1h-1zM320 20h1v1h-1zM322 20h1v1h-1zM324 20h1v1h-1zM328 20h1v1h-1zM332 20h1v1h-1zM334 20h1v1h-1zM336 20h1v1h-1zM338 20h1v1h-1zM340 20h1v1h-1zM342 20h1v1h-1zM344 20h1v1h-1zM346 20h1v1h-1zM348 20h1v1h-1zM350 20h1v1h-1zM352 20h1v1h-1zM354 20h1v1h-1zM318 22h1v1h-1zM320 22h1v1h-1zM322 22h1v1h-1zM324 22h1v1h-1zM328 22h1v1h-1zM330 22h1v1h-1zM332 22h1v1h-1zM334 22h1v1h-1zM336 22h1v1h-1zM338 22h1v1h-1zM344 22h1v1h-1zM346 22h1v1h-1zM348 22h1v1h-1zM350 22h1v1h-1zM352 22h1v1h-1zM354 22h1v1h-1zM320 24h1v1h-1zM322 24h1v1h-1zM326 24h1v1h-1zM328 24h1v1h-1zM330 24h1v1h-1zM332 24h1v1h-1zM334 24h1v1h-1zM340 24h1v1h-1zM342 24h1v1h-1zM344 24h1v1h-1zM346 24h1v1h-1zM348 24h1v1h-1zM350 24h1v1h-1zM352 24h1v1h-1zM354 24h1v1h-1zM316 26h1v1h-1zM328 26h1v1h-1zM330 26h1v1h-1zM332 26h1v1h-1zM340 26h1v1h-1zM342 26h1v1h-1zM344 26h1v1h-1zM346 26h1v1h-1zM348 26h1v1h-1zM350 26h1v1h-1zM354 26h1v1h-1zM322 28h1v1h-1zM324 28h1v1h-1zM326 28h1v1h-1zM328 28h1v1h-1zM330 28h1v1h-1zM348 28h1v1h-1zM354 28h1v1h-1zM316 30h1v1h-1zM318 30h1v1h-1zM320 30h1v1h-1zM322 30h1v1h-1zM326 30h1v1h-1zM328 30h1v1h-1zM350 30h1v1h-1zM352 30h1v1h-1zM354 30h1v1h-1zM316 32h1v1h-1zM322 32h1v1h-1zM324 32h1v1h-1zM348 32h1v1h-1zM350 32h1v1h-1zM352 32h1v1h-1zM316 34h1v1h-1zM322 34h1v1h-1zM350 34h1v1h-1zM352 34h1v1h-1zM316 36h1v1h-1zM318 36h1v1h-1zM320 36h1v1h-1zM344 36h1v1h-1zM346 36h1v1h-1zM350 36h1v1h-1zM318 38h1v1h-1zM320 38h1v1h-1zM344 38h1v1h-1zM346 38h1v1h-1zM348 38h1v1h-1zM350 38h1v1h-1zM352 38h1v1h-1zM316 40h1v1h-1zM320 40h1v1h-1zM344 40h1v1h-1zM346 40h1v1h-1zM350 40h1v1h-1zM314 42h1v1h-1zM316 42h1v1h-1zM318 42h1v1h-1zM342 42h1v1h-1zM344 42h1v1h-1zM346 42h1v1h-1zM348 42h1v1h-1zM350 42h1v1h-1zM314 44h1v1h-1zM316 44h1v1h-1zM318 44h1v1h-1zM342 44h1v1h-1zM344 44h1v1h-1zM346 44h1v1h-1zM348 44h1v1h-1zM350 44h1v1h-1zM314 46h1v1h-1zM316 46h1v1h-1zM342 46h1v1h-1zM344 46h1v1h-1zM346 46h1v1h-1zM348 46h1v1h-1zM314 48h1v1h-1zM316 48h1v1h-1zM342 48h1v1h-1zM344 48h1v1h-1zM346 48h1v1h-1zM348 48h1v1h-1zM314 50h1v1h-1zM340 50h1v1h-1zM342 50h1v1h-1zM344 50h1v1h-1zM314 52h1v1h-1zM344 52h1v1h-1zM314 54h1v1h-1zM342 54h1v1h-1zM344 54h1v1h-1zM314 56h1v1h-1zM336 56h1v1h-1zM338 56h1v1h-1zM340 56h1v1h-1zM342 56h1v1h-1zM336 58h1v1h-1zM340 58h1v1h-1zM342 58h1v1h-1zM312 60h1v1h-1zM334 60h1v1h-1zM340 60h1v1h-1zM332 62h1v1h-1zM334 62h1v1h-1zM312 64h1v1h-1zM330 64h1v1h-1zM332 64h1v1h-1zM334 64h1v1h-1zM336 64h1v1h-1zM338 64h1v1h-1zM312 66h1v1h-1zM328 66h1v1h-1zM330 66h1v1h-1zM332 66h1v1h-1zM334 66h1v1h-1zM336 66h1v1h-1zM326 68h1v1h-1zM328 68h1v1h-1zM330 68h1v1h-1zM334 68h1v1h-1zM326 70h1v1h-1zM328 70h1v1h-1zM330 70h1v1h-1zM332 70h1v1h-1zM314 72h1v1h-1zM316 72h1v1h-1zM318 72h1v1h-1zM324 72h1v1h-1zM326 72h1v1h-1zM330 72h1v1h-1zM332 72h1v1h-1zM316 74h1v1h-1zM318 74h1v1h-1zM320 74h1v1h-1zM322 74h1v1h-1zM324 74h1v1h-1zM328 74h1v1h-1z" fill="#a8a8a8" shape-rendering="crispEdges"/>
<path d="M334 26h1v1h-1zM336 26h1v1h-1zM338 26h1v1h-1zM333 27h1v1h-1zM335 27h1v1h-1zM337 27h1v1h-1zM339 27h1v1h-1zM341 27h1v1h-1zM332 28h1v1h-1zM334 28h1v1h-1zM336 28h1v1h-1zM338 28h1v1h-1zM340 28h1v1h-1zM342 28h1v1h-1zM331 29h1v1h-1zM333 29h1v1h-1zM335 29h1v1h-1zM337 29h1v1h-1zM339 29h1v1h-1zM341 29h1v1h-1zM330 30h1v1h-1zM332 30h1v1h-1zM334 30h1v1h-1zM336 30h1v1h-1zM338 30h1v1h-1zM340 30h1v1h-1zM342 30h1v1h-1zM329 31h1v1h-1zM331 31h1v1h-1zM333 31h1v1h-1zM335 31h1v1h-1zM337 31h1v1h-1zM339 31h1v1h-1zM341 31h1v1h-1zM343 31h1v1h-1zM328 32h1v1h-1zM330 32h1v1h-1zM332 32h1v1h-1zM334 32h1v1h-1zM336 32h1v1h-1zM338 32h1v1h-1zM340 32h1v1h-1zM342 32h1v1h-1zM327 33h1v1h-1zM329 33h1v1h-1zM331 33h1v1h-1zM333 33h1v1h-1zM335 33h1v1h-1zM337 33h1v1h-1zM339 33h1v1h-1zM341 33h1v1h-1zM343 33h1v1h-1zM326 34h1v1h-1zM328 34h1v1h-1zM330 34h1v1h-1zM332 34h1v1h-1zM334 34h1v1h-1zM336 34h1v1h-1zM338 34h1v1h-1zM340 34h1v1h-1zM342 34h1v1h-1zM325 35h1v1h-1zM327 35h1v1h-1zM329 35h1v1h-1zM331 35h1v1h-1zM333 35h1v1h-1zM335 35h1v1h-1zM337 35h1v1h-1zM339 35h1v1h-1zM341 35h1v1h-1zM343 35h1v1h-1zM324 36h1v1h-1zM326 36h1v1h-1zM328 36h1v1h-1zM330 36h1v1h-1zM332 36h1v1h-1zM334 36h1v1h-1zM336 36h1v1h-1zM338 36h1v1h-1zM340 36h1v1h-1zM342 36h1v1h-1zM323 37h1v1h-1zM325 37h1v1h-1zM327 37h1v1h-1zM329 37h1v1h-1zM331 37h1v1h-1zM333 37h1v1h-1zM335 37h1v1h-1zM337 37h1v1h-1zM339 37h1v1h-1zM341 37h1v1h-1zM343 37h1v1h-1zM322 38h1v1h-1zM324 38h1v1h-1zM326 38h1v1h-1zM328 38h1v1h-1zM330 38h1v1h-1zM332 38h1v1h-1zM334 38h1v1h-1zM336 38h1v1h-1zM338 38h1v1h-1zM340 38h1v1h-1zM342 38h1v1h-1zM323 39h1v1h-1zM325 39h1v1h-1zM327 39h1v1h-1zM329 39h1v1h-1zM331 39h1v1h-1zM333 39h1v1h-1zM335 39h1v1h-1zM337 39h1v1h-1zM339 39h1v1h-1zM341 39h1v1h-1zM343 39h1v1h-1zM322 40h1v1h-1zM324 40h1v1h-1zM326 40h1v1h-1zM328 40h1v1h-1zM330 40h1v1h-1zM332 40h1v1h-1zM334 40h1v1h-1zM336 40h1v1h-1zM338 40h1v1h-1zM340 40h1v1h-1zM342 40h1v1h-1zM321 41h1v1h-1zM323 41h1v1h-1zM325 41h1v1h-1zM327 41h1v1h-1zM335 41h1v1h-1zM337 41h1v1h-1zM339 41h1v1h-1zM341 41h1v1h-1zM320 42h1v1h-1zM322 42h1v1h-1zM324 42h1v1h-1zM326 42h1v1h-1zM336 42h1v1h-1zM338 42h1v1h-1zM340 42h1v1h-1zM319 43h1v1h-1zM321 43h1v1h-1zM323 43h1v1h-1zM325 43h1v1h-1zM335 43h1v1h-1zM337 43h1v1h-1zM339 43h1v1h-1zM341 43h1v1h-1zM320 44h1v1h-1zM322 44h1v1h-1zM334 44h1v1h-1zM336 44h1v1h-1zM338 44h1v1h-1zM340 44h1v1h-1zM319 45h1v1h-1zM321 45h1v1h-1zM335 45h1v1h-1zM337 45h1v1h-1zM339 45h1v1h-1zM341 45h1v1h-1zM318 46h1v1h-1zM320 46h1v1h-1zM336 46h1v1h-1zM338 46h1v1h-1zM340 46h1v1h-1zM319 47h1v1h-1zM321 47h1v1h-1zM335 47h1v1h-1zM337 47h1v1h-1zM339 47h1v1h-1zM318 48h1v1h-1zM320 48h1v1h-1zM336 48h1v1h-1zM338 48h1v1h-1zM317 49h1v1h-1zM319 49h1v1h-1zM335 49h1v1h-1zM337 49h1v1h-1zM339 49h1v1h-1zM316 50h1v1h-1zM318 50h1v1h-1zM336 50h1v1h-1zM338 50h1v1h-1zM317 51h1v1h-1zM335 51h1v1h-1zM337 51h1v1h-1zM316 52h1v1h-1zM334 52h1v1h-1zM336 52h1v1h-1zM338 52h1v1h-1zM315 53h1v1h-1zM335 53h1v1h-1zM337 53h1v1h-1zM334 54h1v1h-1zM336 54h1v1h-1zM315 55h1v1h-1zM333 55h1v1h-1zM335 55h1v1h-1zM334 56h1v1h-1zM333 57h1v1h-1zM314 58h1v1h-1zM332 58h1v1h-1zM334 58h1v1h-1zM331 59h1v1h-1zM333 59h1v1h-1zM314 60h1v1h-1zM332 60h1v1h-1zM331 61h1v1h-1zM330 62h1v1h-1zM329 63h1v1h-1zM331 63h1v1h-1zM328 64h1v1h-1zM327 65h1v1h-1zM326 66h1v1h-1zM325 67h1v1h-1zM324 68h1v1h-1zM323 69h1v1h-1zM322 70h1v1h-1zM321 71h1v1h-1z" fill="#6e6e6e" shape-rendering="crispEdges"/>
<path d="M332 43h1v1h-1zM321 48h1v1h-1zM327 48h1v1h-1zM320 49h2v1h-2zM321 50h2v1h-2zM329 52h1v1h-1zM319 54h1v1h-1zM319 55h1v1h-1zM327 59h1v1h-1zM325 61h1v1h-1zM327 63h1v1h-1z" fill="#4c4c4c" shape-rendering="crispEdges"/>
<path d="M324 52h2v1h-2zM322 53h4v1h-4zM321 54h6v1h-6zM320 55h7v1h-7zM319 56h8v1h-8zM318 57h8v1h-8zM317 58h9v1h-9zM317 59h9v1h-9zM316 60h10v1h-10zM316 61h9v1h-9zM316 62h8v1h-8zM315 63h9v1h-9zM314 64h10v1h-10zM314 65h9v1h-9zM314 66h8v1h-8zM314 67h7v1h-7zM314 68h6v1h-6zM314 69h4v1h-4z" fill="#151515" shape-rendering="crispEdges"/>
<path d="M333 26h1v1h-1zM335 26h1v1h-1zM337 26h1v1h-1zM339 26h1v1h-1zM332 27h1v1h-1zM334 27h1v1h-1zM336 27h1v1h-1zM338 27h1v1h-1zM340 27h1v1h-1zM342 27h5v1h-5zM331 28h1v1h-1zM333 28h1v1h-1zM335 28h1v1h-1zM337 28h1v1h-1zM339 28h1v1h-1zM341 28h1v1h-1zM343 28h5v1h-5zM332 29h1v1h-1zM334 29h1v1h-1zM336 29h1v1h-1zM338 29h1v1h-1zM340 29h1v1h-1zM342 29h7v1h-7zM331 30h1v1h-1zM333 30h1v1h-1zM335 30h1v1h-1zM337 30h1v1h-1zM339 30h1v1h-1zM341 30h1v1h-1zM343 30h6v1h-6zM328 31h1v1h-1zM330 31h1v1h-1zM332 31h1v1h-1zM334 31h1v1h-1zM336 31h1v1h-1zM338 31h1v1h-1zM340 31h1v1h-1zM342 31h1v1h-1zM344 31h5v1h-5zM327 32h1v1h-1zM329 32h1v1h-1zM331 32h1v1h-1zM333 32h1v1h-1zM335 32h1v1h-1zM337 32h1v1h-1zM339 32h1v1h-1zM341 32h1v1h-1zM343 32h5v1h-5zM326 33h1v1h-1zM328 33h1v1h-1zM330 33h1v1h-1zM332 33h1v1h-1zM334 33h1v1h-1zM336 33h1v1h-1zM338 33h1v1h-1zM340 33h1v1h-1zM342 33h1v1h-1zM344 33h4v1h-4zM325 34h1v1h-1zM327 34h1v1h-1zM329 34h1v1h-1zM331 34h1v1h-1zM333 34h1v1h-1zM335 34h1v1h-1zM337 34h1v1h-1zM339 34h1v1h-1zM341 34h1v1h-1zM343 34h4v1h-4zM326 35h1v1h-1zM328 35h1v1h-1zM330 35h1v1h-1zM332 35h1v1h-1zM334 35h1v1h-1zM336 35h1v1h-1zM338 35h1v1h-1zM340 35h1v1h-1zM342 35h1v1h-1zM344 35h1v1h-1zM325 36h1v1h-1zM327 36h1v1h-1zM329 36h1v1h-1zM331 36h1v1h-1zM333 36h1v1h-1zM335 36h1v1h-1zM337 36h1v1h-1zM339 36h1v1h-1zM341 36h1v1h-1zM343 36h1v1h-1zM324 37h1v1h-1zM326 37h1v1h-1zM328 37h1v1h-1zM330 37h1v1h-1zM332 37h1v1h-1zM334 37h1v1h-1zM336 37h1v1h-1zM338 37h1v1h-1zM340 37h1v1h-1zM342 37h1v1h-1zM323 38h1v1h-1zM325 38h1v1h-1zM327 38h1v1h-1zM329 38h1v1h-1zM331 38h1v1h-1zM333 38h1v1h-1zM335 38h1v1h-1zM337 38h1v1h-1zM339 38h1v1h-1zM341 38h1v1h-1zM343 38h1v1h-1zM322 39h1v1h-1zM324 39h1v1h-1zM326 39h1v1h-1zM328 39h1v1h-1zM330 39h1v1h-1zM332 39h1v1h-1zM334 39h1v1h-1zM336 39h1v1h-1zM338 39h1v1h-1zM340 39h1v1h-1zM342 39h1v1h-1zM321 40h1v1h-1zM323 40h1v1h-1zM325 40h1v1h-1zM327 40h1v1h-1zM329 40h1v1h-1zM331 40h1v1h-1zM333 40h1v1h-1zM335 40h1v1h-1zM337 40h1v1h-1zM339 40h1v1h-1zM341 40h1v1h-1zM322 41h1v1h-1zM324 41h1v1h-1zM326 41h1v1h-1zM328 41h1v1h-1zM334 41h1v1h-1zM336 41h1v1h-1zM338 41h1v1h-1zM340 41h1v1h-1zM321 42h1v1h-1zM323 42h1v1h-1zM325 42h1v1h-1zM335 42h1v1h-1zM337 42h1v1h-1zM339 42h1v1h-1zM341 42h1v1h-1zM320 43h1v1h-1zM322 43h1v1h-1zM324 43h1v1h-1zM334 43h1v1h-1zM336 43h1v1h-1zM338 43h1v1h-1zM340 43h1v1h-1zM319 44h1v1h-1zM321 44h1v1h-1zM323 44h1v1h-1zM335 44h1v1h-1zM337 44h1v1h-1zM339 44h1v1h-1zM341 44h1v1h-1zM318 45h1v1h-1zM320 45h1v1h-1zM322 45h1v1h-1zM336 45h1v1h-1zM338 45h1v1h-1zM340 45h1v1h-1zM319 46h1v1h-1zM321 46h1v1h-1zM335 46h1v1h-1zM337 46h1v1h-1zM339 46h1v1h-1zM318 47h1v1h-1zM320 47h1v1h-1zM336 47h1v1h-1zM338 47h1v1h-1zM340 47h1v1h-1zM317 48h1v1h-1zM319 48h1v1h-1zM335 48h1v1h-1zM337 48h1v1h-1zM339 48h1v1h-1zM318 49h1v1h-1zM336 49h1v1h-1zM338 49h1v1h-1zM317 50h1v1h-1zM335 50h1v1h-1zM337 50h1v1h-1zM339 50h1v1h-1zM316 51h1v1h-1zM318 51h1v1h-1zM334 51h1v1h-1zM336 51h1v1h-1zM338 51h1v1h-1zM317 52h1v1h-1zM335 52h1v1h-1zM337 52h1v1h-1zM316 53h1v1h-1zM334 53h1v1h-1zM336 53h1v1h-1zM315 54h1v1h-1zM333 54h1v1h-1zM335 54h1v1h-1zM337 54h1v1h-1zM334 55h1v1h-1zM336 55h1v1h-1zM315 56h1v1h-1zM333 56h1v1h-1zM335 56h1v1h-1zM314 57h1v1h-1zM332 57h1v1h-1zM334 57h1v1h-1zM333 58h1v1h-1zM314 59h1v1h-1zM332 59h1v1h-1zM331 60h1v1h-1zM333 60h1v1h-1zM314 61h1v1h-1zM330 61h1v1h-1zM332 61h1v1h-1zM329 62h1v1h-1zM331 62h1v1h-1zM328 63h1v1h-1zM330 63h1v1h-1zM327 64h1v1h-1zM329 64h1v1h-1zM328 65h1v1h-1zM327 66h1v1h-1zM326 67h1v1h-1zM325 68h1v1h-1zM324 69h1v1h-1zM321 70h1v1h-1zM320 71h1v1h-1z" fill="#e6e6e6" shape-rendering="crispEdges"/>
<path d="M329 41h5v1h-5zM327 42h8v1h-8zM326 43h6v1h-6zM333 43h1v1h-1zM324 44h10v1h-10zM323 45h12v1h-12zM322 46h13v1h-13zM322 47h13v1h-13zM322 48h5v1h-5zM328 48h7v1h-7zM322 49h13v1h-13zM319 50h2v1h-2zM323 50h12v1h-12zM319 51h15v1h-15zM318 52h6v1h-6zM326 52h3v1h-3zM330 52h4v1h-4zM317 53h5v1h-5zM326 53h8v1h-8zM316 54h3v1h-3zM320 54h1v1h-1zM327 54h6v1h-6zM316 55h3v1h-3zM327 55h6v1h-6zM316 56h3v1h-3zM327 56h6v1h-6zM315 57h3v1h-3zM326 57h6v1h-6zM315 58h2v1h-2zM326 58h6v1h-6zM315 59h2v1h-2zM326 59h1v1h-1zM328 59h3v1h-3zM315 60h1v1h-1zM326 60h5v1h-5zM315 61h1v1h-1zM326 61h4v1h-4zM314 62h2v1h-2zM324 62h5v1h-5zM314 63h1v1h-1zM324 63h3v1h-3zM324 64h3v1h-3zM313 65h1v1h-1zM323 65h4v1h-4zM313 66h1v1h-1zM322 66h4v1h-4zM313 67h1v1h-1zM321 67h4v1h-4zM320 68h4v1h-4zM318 69h5v1h-5zM314 70h7v1h-7zM315 71h5v1h-5z" fill="#666666" shape-rendering="crispEdges"/>
<rect x="326" y="5.7" width="28.2" height="2.5" fill="#111"/>
<path d="M362 134h1v1h-1zM362 136h1v1h-1zM360 138h1v1h-1zM362 140h1v1h-1zM360 142h1v1h-1zM358 144h1v1h-1zM360 144h1v1h-1zM362 144h1v1h-1zM356 146h1v1h-1zM358 146h1v1h-1zM360 146h1v1h-1zM362 146h1v1h-1zM354 148h1v1h-1zM356 148h1v1h-1zM358 148h1v1h-1zM360 148h1v1h-1zM362 148h1v1h-1zM354 150h1v1h-1zM356 150h1v1h-1zM360 150h1v1h-1zM362 150h1v1h-1zM350 152h1v1h-1zM352 152h1v1h-1zM354 152h1v1h-1zM360 152h1v1h-1zM362 152h1v1h-1zM348 154h1v1h-1zM350 154h1v1h-1zM352 154h1v1h-1zM360 154h1v1h-1zM346 156h1v1h-1zM360 156h1v1h-1zM362 156h1v1h-1zM344 158h1v1h-1zM346 158h1v1h-1zM348 158h1v1h-1zM362 158h1v1h-1zM342 160h1v1h-1zM344 160h1v1h-1zM346 160h1v1h-1zM362 160h1v1h-1zM340 162h1v1h-1zM342 162h1v1h-1zM360 162h1v1h-1zM362 162h1v1h-1zM336 164h1v1h-1zM338 164h1v1h-1zM360 164h1v1h-1zM362 164h1v1h-1zM334 166h1v1h-1zM336 166h1v1h-1zM338 166h1v1h-1zM360 166h1v1h-1zM362 166h1v1h-1zM332 168h1v1h-1zM334 168h1v1h-1zM360 168h1v1h-1zM362 168h1v1h-1zM326 170h1v1h-1zM360 170h1v1h-1zM362 170h1v1h-1zM324 172h1v1h-1zM326 172h1v1h-1zM358 172h1v1h-1zM354 174h1v1h-1zM356 174h1v1h-1zM350 176h1v1h-1zM352 176h1v1h-1zM346 178h1v1h-1zM348 178h1v1h-1zM342 180h1v1h-1zM344 180h1v1h-1zM332 182h1v1h-1zM322 184h1v1h-1zM324 184h1v1h-1zM326 184h1v1h-1zM328 184h1v1h-1z" fill="#a0a0a0" shape-rendering="crispEdges"/>
<path d="M359 149h1v1h-1zM358 150h1v1h-1zM357 151h1v1h-1zM359 151h1v1h-1zM356 152h1v1h-1zM358 152h1v1h-1zM355 153h1v1h-1zM357 153h1v1h-1zM359 153h1v1h-1zM354 154h1v1h-1zM356 154h1v1h-1zM358 154h1v1h-1zM353 155h1v1h-1zM355 155h1v1h-1zM357 155h1v1h-1zM359 155h1v1h-1zM352 156h1v1h-1zM358 156h1v1h-1zM351 157h1v1h-1zM353 157h1v1h-1zM357 157h1v1h-1zM359 157h1v1h-1zM350 158h1v1h-1zM352 158h1v1h-1zM358 158h1v1h-1zM351 159h1v1h-1zM357 159h1v1h-1zM350 160h1v1h-1zM352 160h1v1h-1zM354 160h1v1h-1zM356 160h1v1h-1zM347 161h1v1h-1zM349 161h1v1h-1zM357 161h1v1h-1zM359 161h1v1h-1zM346 162h1v1h-1zM348 162h1v1h-1zM352 162h1v1h-1zM354 162h1v1h-1zM358 162h1v1h-1zM343 163h1v1h-1zM345 163h1v1h-1zM347 163h1v1h-1zM357 163h1v1h-1zM359 163h1v1h-1zM342 164h1v1h-1zM356 164h1v1h-1zM358 164h1v1h-1zM355 165h1v1h-1zM357 165h1v1h-1zM340 166h1v1h-1zM354 166h1v1h-1zM356 166h1v1h-1zM358 166h1v1h-1zM337 167h1v1h-1zM357 167h1v1h-1zM359 167h1v1h-1zM336 168h1v1h-1zM354 168h1v1h-1zM358 168h1v1h-1zM335 169h1v1h-1zM337 169h1v1h-1zM353 169h1v1h-1zM357 169h1v1h-1zM359 169h1v1h-1zM332 170h1v1h-1zM356 170h1v1h-1zM358 170h1v1h-1zM331 171h1v1h-1zM351 171h1v1h-1zM353 171h1v1h-1zM355 171h1v1h-1zM328 172h1v1h-1zM330 172h1v1h-1zM352 172h1v1h-1zM354 172h1v1h-1zM356 172h1v1h-1zM351 173h1v1h-1zM324 174h1v1h-1zM326 174h1v1h-1zM350 174h1v1h-1zM352 174h1v1h-1zM321 175h1v1h-1zM349 175h1v1h-1zM348 176h1v1h-1z" fill="#6e6e6e" shape-rendering="crispEdges"/>
<path d="M343 164h2v1h-2zM349 164h2v1h-2zM353 164h3v1h-3zM342 165h1v1h-1zM345 165h1v1h-1zM347 165h3v1h-3zM351 165h2v1h-2zM342 166h1v1h-1zM344 166h1v1h-1zM346 166h1v1h-1zM348 166h6v1h-6zM339 167h5v1h-5zM346 167h1v1h-1zM348 167h3v1h-3zM339 168h1v1h-1zM341 168h2v1h-2zM344 168h1v1h-1zM346 168h7v1h-7zM338 169h2v1h-2zM341 169h3v1h-3zM345 169h2v1h-2zM349 169h3v1h-3zM334 170h2v1h-2zM338 170h3v1h-3zM343 170h2v1h-2zM346 170h2v1h-2zM349 170h1v1h-1zM332 171h1v1h-1zM334 171h6v1h-6zM342 171h1v1h-1zM344 171h5v1h-5zM331 172h1v1h-1zM334 172h9v1h-9zM345 172h1v1h-1zM349 172h1v1h-1zM328 173h1v1h-1zM331 173h1v1h-1zM334 173h5v1h-5zM345 173h1v1h-1zM347 173h3v1h-3zM327 174h4v1h-4zM334 174h3v1h-3zM343 174h4v1h-4zM348 174h1v1h-1zM322 175h2v1h-2zM325 175h3v1h-3zM331 175h1v1h-1zM341 175h3v1h-3zM345 175h2v1h-2zM320 176h2v1h-2zM323 176h1v1h-1zM329 176h1v1h-1zM341 176h3v1h-3zM345 176h2v1h-2zM320 177h2v1h-2zM340 177h2v1h-2zM343 177h1v1h-1zM345 177h1v1h-1zM317 178h2v1h-2zM320 178h1v1h-1zM337 178h1v1h-1zM339 178h1v1h-1zM341 178h1v1h-1zM344 178h1v1h-1zM335 179h1v1h-1zM337 179h3v1h-3zM341 179h1v1h-1zM333 180h2v1h-2zM336 180h4v1h-4zM331 181h6v1h-6zM334 182h2v1h-2zM337 182h1v1h-1zM323 183h1v1h-1zM327 183h2v1h-2z" fill="#7c7c7c" shape-rendering="crispEdges"/>
<path d="M359 150h1v1h-1zM353 156h2v1h-2zM356 158h1v1h-1zM359 158h1v1h-1zM349 159h1v1h-1zM353 159h4v1h-4zM358 159h2v1h-2zM348 160h1v1h-1zM358 160h1v1h-1zM351 161h2v1h-2zM354 161h2v1h-2zM358 161h1v1h-1zM344 162h1v1h-1zM350 162h1v1h-1zM359 162h1v1h-1zM350 163h7v1h-7zM347 164h1v1h-1zM351 164h2v1h-2zM341 165h1v1h-1zM344 165h1v1h-1zM346 165h1v1h-1zM350 165h1v1h-1zM353 165h2v1h-2zM356 165h1v1h-1zM359 165h1v1h-1zM341 166h1v1h-1zM345 166h1v1h-1zM345 167h1v1h-1zM347 167h1v1h-1zM351 167h3v1h-3zM355 167h1v1h-1zM338 168h1v1h-1zM340 168h1v1h-1zM343 168h1v1h-1zM345 168h1v1h-1zM353 168h1v1h-1zM356 168h1v1h-1zM359 168h1v1h-1zM344 169h1v1h-1zM347 169h2v1h-2zM355 169h1v1h-1zM336 170h2v1h-2zM341 170h2v1h-2zM345 170h1v1h-1zM348 170h1v1h-1zM354 170h1v1h-1zM359 170h1v1h-1zM333 171h1v1h-1zM340 171h2v1h-2zM343 171h1v1h-1zM349 171h1v1h-1zM354 171h1v1h-1zM357 171h1v1h-1zM333 172h1v1h-1zM344 172h1v1h-1zM346 172h1v1h-1zM348 172h1v1h-1zM353 172h1v1h-1zM355 172h1v1h-1zM325 173h1v1h-1zM327 173h1v1h-1zM329 173h1v1h-1zM332 173h1v1h-1zM343 173h1v1h-1zM346 173h1v1h-1zM353 173h1v1h-1zM322 174h1v1h-1zM332 174h1v1h-1zM337 174h2v1h-2zM342 174h1v1h-1zM347 174h1v1h-1zM324 175h1v1h-1zM330 175h1v1h-1zM332 175h1v1h-1zM344 175h1v1h-1zM347 175h1v1h-1zM327 176h2v1h-2zM330 176h1v1h-1zM333 176h2v1h-2zM340 176h1v1h-1zM344 176h1v1h-1zM347 176h1v1h-1zM322 177h1v1h-1zM333 177h1v1h-1zM337 177h1v1h-1zM339 177h1v1h-1zM342 177h1v1h-1zM344 177h1v1h-1zM315 178h2v1h-2zM319 178h1v1h-1zM335 178h1v1h-1zM338 178h1v1h-1zM340 178h1v1h-1zM342 178h2v1h-2zM318 179h2v1h-2zM322 179h1v1h-1zM333 179h1v1h-1zM336 179h1v1h-1zM323 180h1v1h-1zM329 180h1v1h-1zM335 180h1v1h-1zM340 180h1v1h-1zM323 181h2v1h-2zM327 181h1v1h-1zM337 181h1v1h-1zM316 182h1v1h-1zM329 182h2v1h-2zM321 183h2v1h-2zM315 185h1v1h-1z" fill="#4c4c4c" shape-rendering="crispEdges"/>
<path d="M343 165h1v1h-1zM343 166h1v1h-1zM347 166h1v1h-1zM344 167h1v1h-1zM340 169h1v1h-1zM350 170h1v1h-1zM350 171h1v1h-1zM332 172h1v1h-1zM343 172h1v1h-1zM347 172h1v1h-1zM330 173h1v1h-1zM333 173h1v1h-1zM339 173h4v1h-4zM344 173h1v1h-1zM331 174h1v1h-1zM333 174h1v1h-1zM339 174h3v1h-3zM328 175h2v1h-2zM333 175h8v1h-8zM322 176h1v1h-1zM324 176h3v1h-3zM331 176h2v1h-2zM335 176h5v1h-5zM319 177h1v1h-1zM323 177h10v1h-10zM334 177h3v1h-3zM338 177h1v1h-1zM321 178h14v1h-14zM336 178h1v1h-1zM313 179h5v1h-5zM320 179h2v1h-2zM323 179h10v1h-10zM334 179h1v1h-1zM340 179h1v1h-1zM313 180h10v1h-10zM324 180h5v1h-5zM330 180h3v1h-3zM313 181h10v1h-10zM325 181h2v1h-2zM328 181h3v1h-3zM313 182h3v1h-3zM317 182h12v1h-12zM331 182h1v1h-1zM336 182h1v1h-1zM313 183h8v1h-8zM324 183h3v1h-3zM313 184h4v1h-4z" fill="#151515" shape-rendering="crispEdges"/>
<path d="M358 151h1v1h-1zM357 152h1v1h-1zM359 152h1v1h-1zM356 153h1v1h-1zM358 153h1v1h-1zM355 154h1v1h-1zM357 154h1v1h-1zM359 154h1v1h-1zM354 155h1v1h-1zM356 155h1v1h-1zM358 155h1v1h-1zM355 156h1v1h-1zM357 156h1v1h-1zM359 156h1v1h-1zM352 157h1v1h-1zM354 157h1v1h-1zM356 157h1v1h-1zM358 157h1v1h-1zM351 158h1v1h-1zM353 158h1v1h-1zM357 158h1v1h-1zM348 159h1v1h-1zM350 159h1v1h-1zM352 159h1v1h-1zM347 160h1v1h-1zM349 160h1v1h-1zM351 160h1v1h-1zM353 160h1v1h-1zM357 160h1v1h-1zM359 160h1v1h-1zM346 161h1v1h-1zM348 161h1v1h-1zM350 161h1v1h-1zM345 162h1v1h-1zM347 162h1v1h-1zM351 162h1v1h-1zM355 162h1v1h-1zM357 162h1v1h-1zM344 163h1v1h-1zM346 163h1v1h-1zM358 163h1v1h-1zM345 164h1v1h-1zM357 164h1v1h-1zM359 164h1v1h-1zM340 165h1v1h-1zM358 165h1v1h-1zM339 166h1v1h-1zM355 166h1v1h-1zM357 166h1v1h-1zM359 166h1v1h-1zM338 167h1v1h-1zM354 167h1v1h-1zM356 167h1v1h-1zM358 167h1v1h-1zM335 168h1v1h-1zM337 168h1v1h-1zM357 168h1v1h-1zM334 169h1v1h-1zM336 169h1v1h-1zM356 169h1v1h-1zM358 169h1v1h-1zM333 170h1v1h-1zM355 170h1v1h-1zM357 170h1v1h-1zM330 171h1v1h-1zM356 171h1v1h-1zM329 172h1v1h-1zM326 173h1v1h-1zM350 173h1v1h-1zM352 173h1v1h-1zM354 173h1v1h-1zM323 174h1v1h-1zM325 174h1v1h-1zM349 174h1v1h-1zM351 174h1v1h-1zM348 175h1v1h-1zM350 175h1v1h-1zM346 177h1v1h-1z" fill="#e6e6e6" shape-rendering="crispEdges"/>
<path d="M356 156h1v1h-1zM355 157h1v1h-1zM354 158h2v1h-2zM355 160h1v1h-1zM353 161h1v1h-1zM356 161h1v1h-1zM349 162h1v1h-1zM353 162h1v1h-1zM356 162h1v1h-1zM348 163h2v1h-2zM346 164h1v1h-1zM348 164h1v1h-1zM355 168h1v1h-1zM352 169h1v1h-1zM354 169h1v1h-1zM351 170h3v1h-3zM352 171h1v1h-1zM350 172h2v1h-2z" fill="#a8a8a8" shape-rendering="crispEdges"/>
<path d="M94.9 66.6L173.8 66.6" stroke="#333" stroke-width="0.9" fill="none"/>
<path d="M173.8 66.6L173.8 146.4" stroke="#8a8a8a" stroke-width="0.9" fill="none"/>
<path d="M94.9 66.6L94.9 146.4" stroke="#1a1a1a" stroke-width="1" fill="none"/>
<path d="M94.9 146.4L91.3 146.4M94.9 140.39L91.7 140.39M94.9 136.88L91.7 136.88M94.9 134.39L91.7 134.39M94.9 132.46L91.7 132.46M94.9 130.88L91.7 130.88M94.9 129.54L91.7 129.54M94.9 128.38L91.7 128.38M94.9 127.36L91.7 127.36M94.9 126.45L91.3 126.45M94.9 120.44L91.7 120.44M94.9 116.93L91.7 116.93M94.9 114.44L91.7 114.44M94.9 112.51L91.7 112.51M94.9 110.93L91.7 110.93M94.9 109.59L91.7 109.59M94.9 108.43L91.7 108.43M94.9 107.41L91.7 107.41M94.9 106.5L91.3 106.5M94.9 100.49L91.7 100.49M94.9 96.98L91.7 96.98M94.9 94.49L91.7 94.49M94.9 92.56L91.7 92.56M94.9 90.98L91.7 90.98M94.9 89.64L91.7 89.64M94.9 88.48L91.7 88.48M94.9 87.46L91.7 87.46M94.9 86.55L91.3 86.55M94.9 80.54L91.7 80.54M94.9 77.03L91.7 77.03M94.9 74.54L91.7 74.54M94.9 72.61L91.7 72.61M94.9 71.03L91.7 71.03M94.9 69.69L91.7 69.69M94.9 68.53L91.7 68.53M94.9 67.51L91.7 67.51M94.9 66.6L91.3 66.6" stroke="#222" stroke-width="1.0" fill="none"/>
<path d="M94.2 66.6L94.2 146.4" stroke="#222" stroke-width="1.5" fill="none"/>
<path d="M94.9 146.4L94.9 148.8M107.23 146.4L107.23 148.8M119.56 146.4L119.56 148.8M131.88 146.4L131.88 148.8M144.21 146.4L144.21 148.8M156.54 146.4L156.54 148.8M168.87 146.4L168.87 148.8" stroke="#222" stroke-width="0.9" fill="none"/>
<path d="M94.9 146.7L156.9 146.7" stroke="#1a1a1a" stroke-width="1.5" fill="none"/>
<path d="M156.9 146.7L173.8 146.7" stroke="#777" stroke-width="1.1" fill="none"/>
<rect x="191.3" y="66.6" width="79.1" height="79.8" fill="none" stroke="#1a1a1a" stroke-width="1"/>
<path d="M191.3 146.4L187.7 146.4M191.3 140.39L188.1 140.39M191.3 136.88L188.1 136.88M191.3 134.39L188.1 134.39M191.3 132.46L188.1 132.46M191.3 130.88L188.1 130.88M191.3 129.54L188.1 129.54M191.3 128.38L188.1 128.38M191.3 127.36L188.1 127.36M191.3 126.45L187.7 126.45M191.3 120.44L188.1 120.44M191.3 116.93L188.1 116.93M191.3 114.44L188.1 114.44M191.3 112.51L188.1 112.51M191.3 110.93L188.1 110.93M191.3 109.59L188.1 109.59M191.3 108.43L188.1 108.43M191.3 107.41L188.1 107.41M191.3 106.5L187.7 106.5M191.3 100.49L188.1 100.49M191.3 96.98L188.1 96.98M191.3 94.49L188.1 94.49M191.3 92.56L188.1 92.56M191.3 90.98L188.1 90.98M191.3 89.64L188.1 89.64M191.3 88.48L188.1 88.48M191.3 87.46L188.1 87.46M191.3 86.55L187.7 86.55M191.3 80.54L188.1 80.54M191.3 77.03L188.1 77.03M191.3 74.54L188.1 74.54M191.3 72.61L188.1 72.61M191.3 71.03L188.1 71.03M191.3 69.69L188.1 69.69M191.3 68.53L188.1 68.53M191.3 67.51L188.1 67.51M191.3 66.6L187.7 66.6" stroke="#222" stroke-width="1.0" fill="none"/>
<path d="M190.6 66.6L190.6 146.4" stroke="#222" stroke-width="1.5" fill="none"/>
<path d="M191.3 146.4L191.3 148.8M203.66 146.4L203.66 148.8M216.02 146.4L216.02 148.8M228.38 146.4L228.38 148.8M240.74 146.4L240.74 148.8M253.1 146.4L253.1 148.8M265.46 146.4L265.46 148.8" stroke="#222" stroke-width="0.9" fill="none"/>
<path d="M191.3 146.8L270.4 146.8" stroke="#1a1a1a" stroke-width="1.5" fill="none"/>
<rect x="289.5" y="6.5" width="79.5" height="79" fill="none" stroke="#2a2a2a" stroke-width="0.9"/>
<path d="M289.5 85.5L289.5 87.9M301.92 85.5L301.92 87.9M314.34 85.5L314.34 87.9M326.77 85.5L326.77 87.9M339.19 85.5L339.19 87.9M351.61 85.5L351.61 87.9M364.03 85.5L364.03 87.9" stroke="#222" stroke-width="0.9" fill="none"/>
<path d="M289.5 85.5L287.1 85.5M289.5 73.16L287.1 73.16M289.5 60.81L287.1 60.81M289.5 48.47L287.1 48.47M289.5 36.12L287.1 36.12M289.5 23.78L287.1 23.78M289.5 11.44L287.1 11.44" stroke="#222" stroke-width="0.9" fill="none"/>
<rect x="289" y="107.9" width="80.3" height="79.3" fill="none" stroke="#2a2a2a" stroke-width="0.9"/>
<path d="M289 187.2L289 189.6M301.55 187.2L301.55 189.6M314.09 187.2L314.09 189.6M326.64 187.2L326.64 189.6M339.19 187.2L339.19 189.6M351.73 187.2L351.73 189.6M364.28 187.2L364.28 189.6" stroke="#222" stroke-width="0.9" fill="none"/>
<path d="M289 187.2L286.6 187.2M289 174.81L286.6 174.81M289 162.42L286.6 162.42M289 150.03L286.6 150.03M289 137.64L286.6 137.64M289 125.25L286.6 125.25M289 112.86L286.6 112.86" stroke="#222" stroke-width="0.9" fill="none"/>
<text x="83.3" y="136.5" font-size="7" font-weight="bold" transform="rotate(-90 83.3 136.5)">Mouse IgG2a FITC</text>
<text x="184" y="125.3" font-size="7" font-weight="bold" transform="rotate(-90 184 125.3)">CD10 FITC</text>
<text x="90" y="82.2" font-size="6.3" font-weight="bold" transform="rotate(-90 90 82.2)" class="m">1000</text>
<text x="89.6" y="145.8" font-size="5.2" font-weight="bold" transform="rotate(-90 89.6 145.8)">1</text>
<text x="94.2" y="156.2" font-size="6.5" font-weight="bold" text-anchor="middle" class="m">0</text>
<text x="168.9" y="156.2" font-size="6.5" font-weight="bold" text-anchor="middle" class="m">64</text>
<text x="136.65" y="163.3" font-size="7.1" font-weight="bold" text-anchor="middle">FSC</text>
<text x="186.4" y="82.2" font-size="6.3" font-weight="bold" transform="rotate(-90 186.4 82.2)" class="m">1000</text>
<text x="186" y="148.8" font-size="5.2" font-weight="bold" transform="rotate(-90 186 148.8)">.1</text>
<text x="190.6" y="156.2" font-size="6.5" font-weight="bold" text-anchor="middle" class="m">0</text>
<text x="265.5" y="156.2" font-size="6.5" font-weight="bold" text-anchor="middle" class="m">64</text>
<text x="233.15" y="163.3" font-size="7.1" font-weight="bold" text-anchor="middle">FSC</text>
<text x="285.2" y="14.9" font-size="6.4" font-weight="bold" transform="rotate(-90 285.2 14.9)" class="m">64</text>
<text x="285.2" y="87.8" font-size="6.4" font-weight="bold" transform="rotate(-90 285.2 87.8)" class="m">0</text>
<text x="290" y="95.2" font-size="6.5" font-weight="bold" text-anchor="middle" class="m">0</text>
<text x="364.1" y="95.2" font-size="6.5" font-weight="bold" text-anchor="middle" class="m">64</text>
<text x="328.85" y="99.4" font-size="7.3" font-weight="bold" text-anchor="middle">FSC</text>
<text x="284.7" y="116.3" font-size="6.4" font-weight="bold" transform="rotate(-90 284.7 116.3)" class="m">64</text>
<text x="284.7" y="189.5" font-size="6.4" font-weight="bold" transform="rotate(-90 284.7 189.5)" class="m">0</text>
<text x="289.5" y="195.9" font-size="6.5" font-weight="bold" text-anchor="middle" class="m">0</text>
<text x="364.4" y="195.9" font-size="6.5" font-weight="bold" text-anchor="middle" class="m">64</text>
<text x="330.75" y="203" font-size="7.3" font-weight="bold" text-anchor="middle">FSC</text>
<text x="281.5" y="54.4" font-size="6.7" font-weight="bold" transform="rotate(-90 281.5 54.4)">SSC</text>
<text x="281.2" y="155.2" font-size="6.7" font-weight="bold" transform="rotate(-90 281.2 155.2)">SSC</text>
<path d="M262.7 94L283.24 57.68" stroke="#222" stroke-width="0.9" fill="none"/>
<path d="M285.6 53.5L284.72 58.52L281.76 56.84z" fill="#111"/>
<path d="M265.9 147.2L277.98 158.43" stroke="#222" stroke-width="0.9" fill="none"/>
<path d="M281.5 161.7L276.83 159.68L279.14 157.19z" fill="#111"/>
<path d="M388.4 85.5L388.4 82.86L388.9 82.86L388.9 83.05L389.4 83.05L389.4 82.68L389.9 82.68L389.9 82.7L390.4 82.7L390.4 82.54L390.9 82.54L390.9 82.5L391.4 82.5L391.4 82.44L391.9 82.44L391.9 83.06L392.4 83.06L392.4 82.55L392.9 82.55L392.9 82.61L393.4 82.61L393.4 83.15L393.9 83.15L393.9 83.17L394.4 83.17L394.4 82.44L394.9 82.44L394.9 82.55L395.4 82.55L395.4 83.09L395.9 83.09L395.9 83.09L396.4 83.09L396.4 82.58L396.9 82.58L396.9 83.15L397.4 83.15L397.4 82.63L397.9 82.63L397.9 83.02L398.4 83.02L398.4 82.41L398.9 82.41L398.9 83.03L399.4 83.03L399.4 82.77L399.9 82.77L399.9 82.67L400.4 82.67L400.4 83.05L400.9 83.05L400.9 82.61L401.4 82.61L401.4 82.57L401.9 82.57L401.9 82.38L402.4 82.38L402.4 82.17L402.9 82.17L402.9 82.52L403.4 82.52L403.4 82.47L403.9 82.47L403.9 81.58L404.4 81.58L404.4 82.12L404.9 82.12L404.9 81.96L405.4 81.96L405.4 81.35L405.9 81.35L405.9 81.27L406.4 81.27L406.4 80.96L406.9 80.96L406.9 81.44L407.4 81.44L407.4 80.96L407.9 80.96L407.9 81.25L408.4 81.25L408.4 80.76L408.9 80.76L408.9 81.48L409.4 81.48L409.4 81.46L409.9 81.46L409.9 81.46L410.4 81.46L410.4 81.45L410.9 81.45L410.9 81.14L411.4 81.14L411.4 81.63L411.9 81.63L411.9 81.78L412.4 81.78L412.4 81.18L412.9 81.18L412.9 81.5L413.4 81.5L413.4 81.5L413.9 81.5L413.9 81.35L414.4 81.35L414.4 81.34L414.9 81.34L414.9 80.8L415.4 80.8L415.4 80.73L415.9 80.73L415.9 80.23L416.4 80.23L416.4 80.26L416.9 80.26L416.9 80.35L417.4 80.35L417.4 80.21L417.9 80.21L417.9 80.11L418.4 80.11L418.4 79.96L418.9 79.96L418.9 80.48L419.4 80.48L419.4 79.95L419.9 79.95L419.9 79.81L420.4 79.81L420.4 79.59L420.9 79.59L420.9 80.22L421.4 80.22L421.4 79.77L421.9 79.77L421.9 79.55L422.4 79.55L422.4 79.77L422.9 79.77L422.9 79.51L423.4 79.51L423.4 79.99L423.9 79.99L423.9 79.65L424.4 79.65L424.4 79.89L424.9 79.89L424.9 79.88L425.4 79.88L425.4 78.86L425.9 78.86L425.9 79.45L426.4 79.45L426.4 78.64L426.9 78.64L426.9 78.94L427.4 78.94L427.4 78.41L427.9 78.41L427.9 78.13L428.4 78.13L428.4 77.47L428.9 77.47L428.9 76.86L429.4 76.86L429.4 76.62L429.9 76.62L429.9 75.49L430.4 75.49L430.4 75L430.9 75L430.9 75L431.4 75L431.4 72.79L431.9 72.79L431.9 73.08L432.4 73.08L432.4 71.41L432.9 71.41L432.9 70.5L433.4 70.5L433.4 69.19L433.9 69.19L433.9 69.75L434.4 69.75L434.4 67.24L434.9 67.24L434.9 65.77L435.4 65.77L435.4 59L435.9 59L435.9 60.5L436.4 60.5L436.4 63.94L436.9 63.94L436.9 61.5L437.4 61.5L437.4 63L437.9 63L437.9 63.92L438.4 63.92L438.4 63.13L438.9 63.13L438.9 63.06L439.4 63.06L439.4 63.89L439.9 63.89L439.9 63.5L440.4 63.5L440.4 65L440.9 65L440.9 63.42L441.4 63.42L441.4 61.31L441.9 61.31L441.9 62.76L442.4 62.76L442.4 62.73L442.9 62.73L442.9 60L443.4 60L443.4 61.5L443.9 61.5L443.9 63L444.4 63L444.4 64.5L444.9 64.5L444.9 67.65L445.4 67.65L445.4 70.07L445.9 70.07L445.9 70.28L446.4 70.28L446.4 71.36L446.9 71.36L446.9 72.52L447.4 72.52L447.4 72.83L447.9 72.83L447.9 75.03L448.4 75.03L448.4 76L448.9 76L448.9 77.02L449.4 77.02L449.4 78.85L449.9 78.85L449.9 78.98L450.4 78.98L450.4 80.66L450.9 80.66L450.9 81.27L451.4 81.27L451.4 82.27L451.9 82.27L451.9 82.71L452.4 82.71L452.4 83.14L452.9 83.14L452.9 83.53L453.4 83.53L453.4 83.91L453.9 83.91L453.9 84.05L454.4 84.05L454.4 84.2L454.9 84.2L454.9 84.3L455.4 84.3L455.4 84.32L455.9 84.32L455.9 84.39L456.4 84.39L456.4 84.43L456.9 84.43L456.9 84.46L457.4 84.46L457.4 84.47L457.9 84.47L457.9 84.48L458.4 84.48L458.4 84.49L458.9 84.49L458.9 84.49L459.4 84.49L459.4 84.5L459.9 84.5L459.9 84.5L460.4 84.5L460.4 84.59L460.9 84.59L460.9 84.57L461.4 84.57L461.4 84.25L461.9 84.25L461.9 84.41L462.4 84.41L462.4 84.23L462.9 84.23L462.9 84.4L463.4 84.4L463.4 84.53L463.9 84.53L463.9 84.49L464.4 84.49L464.4 84.39L464.9 84.39L464.9 84.57L465.4 84.57L465.4 84.28L465.9 84.28L465.9 84.53L466.4 84.53L466.4 84.46L466.9 84.46L466.9 84.57L467.4 84.57L467.4 84.29L467.9 84.29L467.9 84.21L468.4 84.21L468.4 84.54L468.9 84.54L468.9 84.3L469.4 84.3L469.4 84.38L469.9 84.38L469.9 84.57L470.4 84.57L470.4 85.5z" fill="#0c0c0c" stroke="#0c0c0c" stroke-width="0.4"/>
<path d="M388.4 43L388.4 85.5" stroke="#111" stroke-width="2.2" fill="none"/>
<path d="M388.4 185.9L388.4 184.04L388.9 184.04L388.9 184.18L389.4 184.18L389.4 184.19L389.9 184.19L389.9 183.81L390.4 183.81L390.4 184.41L390.9 184.41L390.9 184.24L391.4 184.24L391.4 183.72L391.9 183.72L391.9 183.76L392.4 183.76L392.4 184.29L392.9 184.29L392.9 184.4L393.4 184.4L393.4 184.26L393.9 184.26L393.9 184.2L394.4 184.2L394.4 184.03L394.9 184.03L394.9 184.02L395.4 184.02L395.4 183.89L395.9 183.89L395.9 183.66L396.4 183.66L396.4 184.04L396.9 184.04L396.9 184.4L397.4 184.4L397.4 184.13L397.9 184.13L397.9 183.63L398.4 183.63L398.4 184.09L398.9 184.09L398.9 184.11L399.4 184.11L399.4 183.61L399.9 183.61L399.9 183.83L400.4 183.83L400.4 184.21L400.9 184.21L400.9 184.08L401.4 184.08L401.4 184.19L401.9 184.19L401.9 184.29L402.4 184.29L402.4 183.89L402.9 183.89L402.9 184.14L403.4 184.14L403.4 184.08L403.9 184.08L403.9 184L404.4 184L404.4 184L404.9 184L404.9 183.55L405.4 183.55L405.4 183.99L405.9 183.99L405.9 183.69L406.4 183.69L406.4 183.91L406.9 183.91L406.9 184.28L407.4 184.28L407.4 184.26L407.9 184.26L407.9 183.56L408.4 183.56L408.4 183.75L408.9 183.75L408.9 183.92L409.4 183.92L409.4 183.93L409.9 183.93L409.9 183.87L410.4 183.87L410.4 184.06L410.9 184.06L410.9 184.08L411.4 184.08L411.4 183.64L411.9 183.64L411.9 183.37L412.4 183.37L412.4 183.9L412.9 183.9L412.9 183.2L413.4 183.2L413.4 182.93L413.9 182.93L413.9 183.39L414.4 183.39L414.4 183.55L414.9 183.55L414.9 183.42L415.4 183.42L415.4 182.9L415.9 182.9L415.9 183.17L416.4 183.17L416.4 182.27L416.9 182.27L416.9 182.68L417.4 182.68L417.4 182.57L417.9 182.57L417.9 182.36L418.4 182.36L418.4 182.91L418.9 182.91L418.9 182.4L419.4 182.4L419.4 181.93L419.9 181.93L419.9 181.79L420.4 181.79L420.4 181.87L420.9 181.87L420.9 181.37L421.4 181.37L421.4 181.85L421.9 181.85L421.9 182.28L422.4 182.28L422.4 181.16L422.9 181.16L422.9 180.59L423.4 180.59L423.4 181.3L423.9 181.3L423.9 180.65L424.4 180.65L424.4 180.63L424.9 180.63L424.9 179.86L425.4 179.86L425.4 180.09L425.9 180.09L425.9 179.02L426.4 179.02L426.4 180.01L426.9 180.01L426.9 179.41L427.4 179.41L427.4 178.99L427.9 178.99L427.9 179.97L428.4 179.97L428.4 179.84L428.9 179.84L428.9 179.22L429.4 179.22L429.4 178.19L429.9 178.19L429.9 178.63L430.4 178.63L430.4 178.78L430.9 178.78L430.9 176.97L431.4 176.97L431.4 176.8L431.9 176.8L431.9 175.58L432.4 175.58L432.4 175.98L432.9 175.98L432.9 175.63L433.4 175.63L433.4 178.2L433.9 178.2L433.9 176.92L434.4 176.92L434.4 176.21L434.9 176.21L434.9 175.89L435.4 175.89L435.4 175.54L435.9 175.54L435.9 176.81L436.4 176.81L436.4 176.15L436.9 176.15L436.9 174.19L437.4 174.19L437.4 175.56L437.9 175.56L437.9 176.65L438.4 176.65L438.4 175.94L438.9 175.94L438.9 177.41L439.4 177.41L439.4 176.53L439.9 176.53L439.9 177L440.4 177L440.4 176.45L440.9 176.45L440.9 176.67L441.4 176.67L441.4 177.08L441.9 177.08L441.9 180.8L442.4 180.8L442.4 173.9L442.9 173.9L442.9 162.26L443.4 162.26L443.4 140.45L443.9 140.45L443.9 119.05L444.4 119.05L444.4 108.99L444.9 108.99L444.9 115.33L445.4 115.33L445.4 131.91L445.9 131.91L445.9 156.1L446.4 156.1L446.4 169.42L446.9 169.42L446.9 164.27L447.4 164.27L447.4 169.25L447.9 169.25L447.9 169.04L448.4 169.04L448.4 166.6L448.9 166.6L448.9 178.86L449.4 178.86L449.4 164.57L449.9 164.57L449.9 143.76L450.4 143.76L450.4 125.16L450.9 125.16L450.9 120.01L451.4 120.01L451.4 127.03L451.9 127.03L451.9 144.33L452.4 144.33L452.4 166.12L452.9 166.12L452.9 178.62L453.4 178.62L453.4 182.48L453.9 182.48L453.9 182.95L454.4 182.95L454.4 183.33L454.9 183.33L454.9 183.62L455.4 183.62L455.4 183.81L455.9 183.81L455.9 184.07L456.4 184.07L456.4 184.03L456.9 184.03L456.9 184.38L457.4 184.38L457.4 184.36L457.9 184.36L457.9 184.4L458.4 184.4L458.4 184.51L458.9 184.51L458.9 184.73L459.4 184.73L459.4 184.66L459.9 184.66L459.9 184.75L460.4 184.75L460.4 184.74L460.9 184.74L460.9 184.83L461.4 184.83L461.4 184.64L461.9 184.64L461.9 184.78L462.4 184.78L462.4 184.93L462.9 184.93L462.9 184.72L463.4 184.72L463.4 184.77L463.9 184.77L463.9 184.69L464.4 184.69L464.4 184.72L464.9 184.72L464.9 184.68L465.4 184.68L465.4 184.96L465.9 184.96L465.9 184.74L466.4 184.74L466.4 184.72L466.9 184.72L466.9 184.9L467.4 184.9L467.4 184.73L467.9 184.73L467.9 184.76L468.4 184.76L468.4 184.84L468.9 184.84L468.9 184.85L469.4 184.85L469.4 184.71L469.9 184.71L469.9 184.89L470.4 184.89L470.4 185.9z" fill="#0c0c0c" stroke="#0c0c0c" stroke-width="0.4"/>
<path d="M388.3 145L388.3 185.9" stroke="#111" stroke-width="2.4" fill="none"/>
<path d="M450.7 107.5L450.7 125" stroke="#222" stroke-width="0.8" fill="none"/>
<rect x="388.4" y="6.6" width="81.5" height="78.9" fill="none" stroke="#1a1a1a" stroke-width="1"/>
<path d="M388.4 85.5L388.4 88.1M394.53 85.5L394.53 87.1M398.12 85.5L398.12 87.1M400.67 85.5L400.67 87.1M402.64 85.5L402.64 87.1M404.25 85.5L404.25 87.1M405.62 85.5L405.62 87.1M406.8 85.5L406.8 87.1M407.84 85.5L407.84 87.1M408.77 85.5L408.77 88.1M414.91 85.5L414.91 87.1M418.5 85.5L418.5 87.1M421.04 85.5L421.04 87.1M423.02 85.5L423.02 87.1M424.63 85.5L424.63 87.1M425.99 85.5L425.99 87.1M427.18 85.5L427.18 87.1M428.22 85.5L428.22 87.1M429.15 85.5L429.15 88.1M435.28 85.5L435.28 87.1M438.87 85.5L438.87 87.1M441.42 85.5L441.42 87.1M443.39 85.5L443.39 87.1M445 85.5L445 87.1M446.37 85.5L446.37 87.1M447.55 85.5L447.55 87.1M448.59 85.5L448.59 87.1M449.52 85.5L449.52 88.1M455.66 85.5L455.66 87.1M459.25 85.5L459.25 87.1M461.79 85.5L461.79 87.1M463.77 85.5L463.77 87.1M465.38 85.5L465.38 87.1M466.74 85.5L466.74 87.1M467.93 85.5L467.93 87.1M468.97 85.5L468.97 87.1M469.9 85.5L469.9 88.1" stroke="#222" stroke-width="0.6" fill="none"/>
<path d="M388.4 85.5L386.9 85.5M388.4 82.34L386.9 82.34M388.4 79.19L386.9 79.19M388.4 76.03L386.9 76.03M388.4 72.88L386.9 72.88M388.4 69.72L386.9 69.72M388.4 66.56L386.9 66.56M388.4 63.41L386.9 63.41M388.4 60.25L386.9 60.25M388.4 57.1L386.9 57.1M388.4 53.94L386.9 53.94M388.4 50.78L386.9 50.78M388.4 47.63L386.9 47.63M388.4 44.47L386.9 44.47M388.4 41.32L386.9 41.32M388.4 38.16L386.9 38.16M388.4 35L386.9 35M388.4 31.85L386.9 31.85M388.4 28.69L386.9 28.69M388.4 25.54L386.9 25.54M388.4 22.38L386.9 22.38M388.4 19.22L386.9 19.22M388.4 16.07L386.9 16.07M388.4 12.91L386.9 12.91M388.4 9.76L386.9 9.76M388.4 6.6L386.9 6.6" stroke="#222" stroke-width="0.7" fill="none"/>
<path d="M388.4 85.5L385.8 85.5M388.4 69.72L385.8 69.72M388.4 53.94L385.8 53.94M388.4 38.16L385.8 38.16M388.4 22.38L385.8 22.38M388.4 6.6L385.8 6.6" stroke="#222" stroke-width="0.8" fill="none"/>
<text transform="translate(384.24 95.6) scale(0.8 1)" font-size="6.2">10<tspan dy="-3.5" font-size="5.4">0</tspan></text>
<text transform="translate(404.64 95.6) scale(0.8 1)" font-size="6.2">10<tspan dy="-3.5" font-size="5.4">1</tspan></text>
<text transform="translate(425.04 95.6) scale(0.8 1)" font-size="6.2">10<tspan dy="-3.5" font-size="5.4">2</tspan></text>
<text transform="translate(445.44 95.6) scale(0.8 1)" font-size="6.2">10<tspan dy="-3.5" font-size="5.4">3</tspan></text>
<text transform="translate(465.84 95.6) scale(0.8 1)" font-size="6.2">10<tspan dy="-3.5" font-size="5.4">4</tspan></text>
<text x="383.6" y="86.23" font-size="5.6" transform="rotate(-90 383.6 86.23)" fill="#222">0</text>
<text x="383.6" y="71.98" font-size="5.6" transform="rotate(-90 383.6 71.98)" fill="#222">20</text>
<text x="383.6" y="56.2" font-size="5.6" transform="rotate(-90 383.6 56.2)" fill="#222">40</text>
<text x="383.6" y="40.42" font-size="5.6" transform="rotate(-90 383.6 40.42)" fill="#222">60</text>
<text x="383.6" y="24.64" font-size="5.6" transform="rotate(-90 383.6 24.64)" fill="#222">80</text>
<text x="383.6" y="10.39" font-size="5.6" transform="rotate(-90 383.6 10.39)" fill="#222">100</text>
<text transform="translate(377.1 56.05) rotate(-90) scale(1.22 1)" font-size="5.2" fill="#222">Counts</text>
<rect x="388.4" y="107.5" width="81.5" height="78.4" fill="none" stroke="#1a1a1a" stroke-width="1"/>
<path d="M388.4 185.9L388.4 188.5M394.53 185.9L394.53 187.5M398.12 185.9L398.12 187.5M400.67 185.9L400.67 187.5M402.64 185.9L402.64 187.5M404.25 185.9L404.25 187.5M405.62 185.9L405.62 187.5M406.8 185.9L406.8 187.5M407.84 185.9L407.84 187.5M408.77 185.9L408.77 188.5M414.91 185.9L414.91 187.5M418.5 185.9L418.5 187.5M421.04 185.9L421.04 187.5M423.02 185.9L423.02 187.5M424.63 185.9L424.63 187.5M425.99 185.9L425.99 187.5M427.18 185.9L427.18 187.5M428.22 185.9L428.22 187.5M429.15 185.9L429.15 188.5M435.28 185.9L435.28 187.5M438.87 185.9L438.87 187.5M441.42 185.9L441.42 187.5M443.39 185.9L443.39 187.5M445 185.9L445 187.5M446.37 185.9L446.37 187.5M447.55 185.9L447.55 187.5M448.59 185.9L448.59 187.5M449.52 185.9L449.52 188.5M455.66 185.9L455.66 187.5M459.25 185.9L459.25 187.5M461.79 185.9L461.79 187.5M463.77 185.9L463.77 187.5M465.38 185.9L465.38 187.5M466.74 185.9L466.74 187.5M467.93 185.9L467.93 187.5M468.97 185.9L468.97 187.5M469.9 185.9L469.9 188.5" stroke="#222" stroke-width="0.6" fill="none"/>
<path d="M388.4 185.9L386.9 185.9M388.4 182.76L386.9 182.76M388.4 179.63L386.9 179.63M388.4 176.49L386.9 176.49M388.4 173.36L386.9 173.36M388.4 170.22L386.9 170.22M388.4 167.08L386.9 167.08M388.4 163.95L386.9 163.95M388.4 160.81L386.9 160.81M388.4 157.68L386.9 157.68M388.4 154.54L386.9 154.54M388.4 151.4L386.9 151.4M388.4 148.27L386.9 148.27M388.4 145.13L386.9 145.13M388.4 142L386.9 142M388.4 138.86L386.9 138.86M388.4 135.72L386.9 135.72M388.4 132.59L386.9 132.59M388.4 129.45L386.9 129.45M388.4 126.32L386.9 126.32M388.4 123.18L386.9 123.18M388.4 120.04L386.9 120.04M388.4 116.91L386.9 116.91M388.4 113.77L386.9 113.77M388.4 110.64L386.9 110.64M388.4 107.5L386.9 107.5" stroke="#222" stroke-width="0.7" fill="none"/>
<path d="M388.4 185.9L385.8 185.9M388.4 170.22L385.8 170.22M388.4 154.54L385.8 154.54M388.4 138.86L385.8 138.86M388.4 123.18L385.8 123.18M388.4 107.5L385.8 107.5" stroke="#222" stroke-width="0.8" fill="none"/>
<text transform="translate(384.24 196) scale(0.8 1)" font-size="6.2">10<tspan dy="-3.5" font-size="5.4">0</tspan></text>
<text transform="translate(404.64 196) scale(0.8 1)" font-size="6.2">10<tspan dy="-3.5" font-size="5.4">1</tspan></text>
<text transform="translate(425.04 196) scale(0.8 1)" font-size="6.2">10<tspan dy="-3.5" font-size="5.4">2</tspan></text>
<text transform="translate(445.44 196) scale(0.8 1)" font-size="6.2">10<tspan dy="-3.5" font-size="5.4">3</tspan></text>
<text transform="translate(465.84 196) scale(0.8 1)" font-size="6.2">10<tspan dy="-3.5" font-size="5.4">4</tspan></text>
<text x="383.6" y="186.63" font-size="5.6" transform="rotate(-90 383.6 186.63)" fill="#222">0</text>
<text x="383.6" y="172.48" font-size="5.6" transform="rotate(-90 383.6 172.48)" fill="#222">20</text>
<text x="383.6" y="156.8" font-size="5.6" transform="rotate(-90 383.6 156.8)" fill="#222">40</text>
<text x="383.6" y="141.12" font-size="5.6" transform="rotate(-90 383.6 141.12)" fill="#222">60</text>
<text x="383.6" y="125.44" font-size="5.6" transform="rotate(-90 383.6 125.44)" fill="#222">80</text>
<text x="383.6" y="111.29" font-size="5.6" transform="rotate(-90 383.6 111.29)" fill="#222">100</text>
<text transform="translate(377.1 156.7) rotate(-90) scale(1.22 1)" font-size="5.2" fill="#222">Counts</text>
<text transform="translate(406.4 44) scale(0.85 1)" font-size="8.9" fill="#222">80%</text>
<text transform="translate(404.6 144.5) scale(0.85 1)" font-size="8.9" fill="#222">22%</text>
<path d="M388.5 63.8L436.3 63.8" stroke="#222" stroke-width="0.9" fill="none"/>
<path d="M388.6 57.5L388.6 69" stroke="#222" stroke-width="1.6" fill="none"/>
<path d="M436.3 58L436.3 66" stroke="#222" stroke-width="0.8" fill="none"/>
<path d="M388.5 164.4L442.5 164.4" stroke="#222" stroke-width="0.9" fill="none"/>
<path d="M442.5 157L442.5 170" stroke="#444" stroke-width="0.8" fill="none"/>
<text x="429" y="204.4" font-size="7" font-weight="bold" text-anchor="middle">PI</text>
<path d="M63.5 335.5h0.95v0.95h-0.95zM69.5 332h0.95v0.95h-0.95zM64 329h0.95v0.95h-0.95zM62.5 341h0.95v0.95h-0.95zM51 341.5h0.95v0.95h-0.95zM60 337.5h0.95v0.95h-0.95zM61.5 333h0.95v0.95h-0.95zM68.5 325.5h0.95v0.95h-0.95zM62 341h0.95v0.95h-0.95zM74 331h0.95v0.95h-0.95zM66.5 326.5h0.95v0.95h-0.95zM71.5 324h0.95v0.95h-0.95zM63.5 327h0.95v0.95h-0.95zM63.5 336.5h0.95v0.95h-0.95zM70 328h0.95v0.95h-0.95zM72.5 325h0.95v0.95h-0.95zM55 344h0.95v0.95h-0.95zM48.5 337.5h0.95v0.95h-0.95zM65 335.5h0.95v0.95h-0.95zM68 328h0.95v0.95h-0.95zM64 325.5h0.95v0.95h-0.95zM79 318.5h0.95v0.95h-0.95zM64.5 331.5h0.95v0.95h-0.95zM73 326.5h0.95v0.95h-0.95zM65.5 329.5h0.95v0.95h-0.95zM64 334h0.95v0.95h-0.95zM66 332h0.95v0.95h-0.95zM65.5 338h0.95v0.95h-0.95zM74 334.5h0.95v0.95h-0.95zM70 329h0.95v0.95h-0.95zM68.5 335h0.95v0.95h-0.95zM63.5 328h0.95v0.95h-0.95zM55 328.5h0.95v0.95h-0.95zM78 329.5h0.95v0.95h-0.95zM55 335.5h0.95v0.95h-0.95zM59.5 333.5h0.95v0.95h-0.95zM69.5 330h0.95v0.95h-0.95zM69 332h0.95v0.95h-0.95zM70 331h0.95v0.95h-0.95zM54.5 338h0.95v0.95h-0.95zM63.5 322.5h0.95v0.95h-0.95zM77.5 328.5h0.95v0.95h-0.95zM67.5 332h0.95v0.95h-0.95zM68 337.5h0.95v0.95h-0.95zM70.5 329h0.95v0.95h-0.95zM60.5 343h0.95v0.95h-0.95zM63 338h0.95v0.95h-0.95zM65 334h0.95v0.95h-0.95zM71 318h0.95v0.95h-0.95zM62 329.5h0.95v0.95h-0.95zM62 337h0.95v0.95h-0.95zM57.5 332h0.95v0.95h-0.95zM67 341.5h0.95v0.95h-0.95zM63 330h0.95v0.95h-0.95zM65 324h0.95v0.95h-0.95zM68.5 334.5h0.95v0.95h-0.95zM64.5 330h0.95v0.95h-0.95zM55 347h0.95v0.95h-0.95zM69 335.5h0.95v0.95h-0.95zM72.5 319h0.95v0.95h-0.95zM64 326h0.95v0.95h-0.95zM69 327h0.95v0.95h-0.95zM68 325.5h0.95v0.95h-0.95zM58 331.5h0.95v0.95h-0.95zM68.5 338h0.95v0.95h-0.95zM47 338h0.95v0.95h-0.95zM60 331.5h0.95v0.95h-0.95zM61 344h0.95v0.95h-0.95zM64.5 340h0.95v0.95h-0.95zM53.5 328.5h0.95v0.95h-0.95zM73 333.5h0.95v0.95h-0.95zM73.5 332h0.95v0.95h-0.95zM56.5 332h0.95v0.95h-0.95zM67 327.5h0.95v0.95h-0.95zM67 326h0.95v0.95h-0.95zM64.5 334.5h0.95v0.95h-0.95zM65.5 332h0.95v0.95h-0.95zM66.5 339h0.95v0.95h-0.95zM64 329.5h0.95v0.95h-0.95zM64 327h0.95v0.95h-0.95zM73 334.5h0.95v0.95h-0.95zM62 328.5h0.95v0.95h-0.95zM57 338h0.95v0.95h-0.95zM55.5 333.5h0.95v0.95h-0.95zM64.5 329h0.95v0.95h-0.95zM68.5 329.5h0.95v0.95h-0.95zM66.5 338h0.95v0.95h-0.95zM71 325.5h0.95v0.95h-0.95zM63.5 339h0.95v0.95h-0.95zM72 323.5h0.95v0.95h-0.95zM68 339.5h0.95v0.95h-0.95zM76 322h0.95v0.95h-0.95zM64 335.5h0.95v0.95h-0.95zM63 334.5h0.95v0.95h-0.95zM72.5 330.5h0.95v0.95h-0.95zM67.5 322.5h0.95v0.95h-0.95zM57 347h0.95v0.95h-0.95zM69.5 332h0.95v0.95h-0.95zM68.5 337h0.95v0.95h-0.95zM68.5 325.5h0.95v0.95h-0.95zM66 319h0.95v0.95h-0.95zM54.5 343.5h0.95v0.95h-0.95zM68.5 324.5h0.95v0.95h-0.95zM68 331.5h0.95v0.95h-0.95zM69.5 335h0.95v0.95h-0.95zM71 327h0.95v0.95h-0.95zM60.5 336.5h0.95v0.95h-0.95zM61 328h0.95v0.95h-0.95zM57 338h0.95v0.95h-0.95zM59 334.5h0.95v0.95h-0.95zM73 332h0.95v0.95h-0.95zM67.5 330.5h0.95v0.95h-0.95zM65.5 335.5h0.95v0.95h-0.95zM64 329.5h0.95v0.95h-0.95zM59 341h0.95v0.95h-0.95zM59.5 342.5h0.95v0.95h-0.95zM69.5 330.5h0.95v0.95h-0.95zM67.5 335.5h0.95v0.95h-0.95zM61.5 334h0.95v0.95h-0.95zM55.5 337.5h0.95v0.95h-0.95zM55.5 332h0.95v0.95h-0.95zM75.5 327h0.95v0.95h-0.95zM58.5 327h0.95v0.95h-0.95zM68.5 331.5h0.95v0.95h-0.95zM62 326.5h0.95v0.95h-0.95zM77 332h0.95v0.95h-0.95zM60 328.5h0.95v0.95h-0.95zM62.5 326.5h0.95v0.95h-0.95zM65.5 333.5h0.95v0.95h-0.95zM65 339.5h0.95v0.95h-0.95zM69 332.5h0.95v0.95h-0.95zM73 329.5h0.95v0.95h-0.95zM74 322h0.95v0.95h-0.95zM71.5 327h0.95v0.95h-0.95zM63.5 331h0.95v0.95h-0.95zM65 328h0.95v0.95h-0.95zM58 342.5h0.95v0.95h-0.95zM66.5 329h0.95v0.95h-0.95zM65 321h0.95v0.95h-0.95zM67 322h0.95v0.95h-0.95zM64 337h0.95v0.95h-0.95zM72 327.5h0.95v0.95h-0.95zM66.5 334.5h0.95v0.95h-0.95zM75 319h0.95v0.95h-0.95zM65.5 327.5h0.95v0.95h-0.95zM72.5 330h0.95v0.95h-0.95zM72 328.5h0.95v0.95h-0.95zM60 333.5h0.95v0.95h-0.95zM65.5 336.5h0.95v0.95h-0.95zM66 330h0.95v0.95h-0.95zM65 324.5h0.95v0.95h-0.95zM56 338h0.95v0.95h-0.95zM78 322h0.95v0.95h-0.95zM67.5 336h0.95v0.95h-0.95zM53 342.5h0.95v0.95h-0.95zM70.5 334.5h0.95v0.95h-0.95zM69.5 328h0.95v0.95h-0.95zM62.5 332h0.95v0.95h-0.95zM59 335.5h0.95v0.95h-0.95zM64 332.5h0.95v0.95h-0.95zM75.5 335h0.95v0.95h-0.95zM70 332h0.95v0.95h-0.95zM70 327.5h0.95v0.95h-0.95zM59 335h0.95v0.95h-0.95zM74 324h0.95v0.95h-0.95zM52 343.5h0.95v0.95h-0.95zM68 329.5h0.95v0.95h-0.95zM60 334h0.95v0.95h-0.95zM79.5 329h0.95v0.95h-0.95zM73.5 328.5h0.95v0.95h-0.95zM70.5 335h0.95v0.95h-0.95zM74.5 335h0.95v0.95h-0.95zM63 335.5h0.95v0.95h-0.95zM65.5 329h0.95v0.95h-0.95zM63.5 329.5h0.95v0.95h-0.95zM66.5 327.5h0.95v0.95h-0.95zM57 332h0.95v0.95h-0.95zM54 342h0.95v0.95h-0.95zM61 334.5h0.95v0.95h-0.95zM56.5 338.5h0.95v0.95h-0.95zM61.5 339h0.95v0.95h-0.95zM70.5 329h0.95v0.95h-0.95zM63.5 328h0.95v0.95h-0.95zM74.5 333.5h0.95v0.95h-0.95zM67.5 330.5h0.95v0.95h-0.95zM70 329.5h0.95v0.95h-0.95zM71 328.5h0.95v0.95h-0.95zM71 340.5h0.95v0.95h-0.95zM69.5 336h0.95v0.95h-0.95zM67.5 339h0.95v0.95h-0.95zM71.5 330h0.95v0.95h-0.95zM71 331h0.95v0.95h-0.95zM68.5 335.5h0.95v0.95h-0.95zM67 330h0.95v0.95h-0.95zM70.5 335h0.95v0.95h-0.95zM66 326.5h0.95v0.95h-0.95zM64.5 336.5h0.95v0.95h-0.95zM63.5 339h0.95v0.95h-0.95zM65.5 330.5h0.95v0.95h-0.95zM69.5 332h0.95v0.95h-0.95zM55.5 334h0.95v0.95h-0.95zM66 331.5h0.95v0.95h-0.95zM72.5 329.5h0.95v0.95h-0.95zM53 328.5h0.95v0.95h-0.95zM64 338h0.95v0.95h-0.95zM69.5 321.5h0.95v0.95h-0.95zM68 327h0.95v0.95h-0.95zM58 328h0.95v0.95h-0.95zM67.5 334.5h0.95v0.95h-0.95zM68.5 327.5h0.95v0.95h-0.95zM66 334h0.95v0.95h-0.95zM68.5 323h0.95v0.95h-0.95zM69 335h0.95v0.95h-0.95zM65 332.5h0.95v0.95h-0.95zM64.5 330.5h0.95v0.95h-0.95zM62 341.5h0.95v0.95h-0.95zM68.5 339h0.95v0.95h-0.95zM70.5 322h0.95v0.95h-0.95zM57 345.5h0.95v0.95h-0.95zM66.5 349h0.95v0.95h-0.95zM58 334h0.95v0.95h-0.95zM66.5 329h0.95v0.95h-0.95zM68.5 339h0.95v0.95h-0.95zM80.5 324h0.95v0.95h-0.95zM60.5 338.5h0.95v0.95h-0.95zM68 329.5h0.95v0.95h-0.95zM73.5 325.5h0.95v0.95h-0.95zM53.5 333.5h0.95v0.95h-0.95zM76 334h0.95v0.95h-0.95zM58.5 332h0.95v0.95h-0.95zM77 323h0.95v0.95h-0.95zM72 335h0.95v0.95h-0.95zM66.5 330.5h0.95v0.95h-0.95zM56.5 346h0.95v0.95h-0.95zM68.5 340h0.95v0.95h-0.95zM65.5 323.5h0.95v0.95h-0.95zM75 323.5h0.95v0.95h-0.95zM78 327.5h0.95v0.95h-0.95zM63 328.5h0.95v0.95h-0.95zM71 329.5h0.95v0.95h-0.95zM61 335h0.95v0.95h-0.95zM69 328.5h0.95v0.95h-0.95zM67 333.5h0.95v0.95h-0.95zM60 325.5h0.95v0.95h-0.95zM68.5 335h0.95v0.95h-0.95zM69 323.5h0.95v0.95h-0.95zM79.5 339h0.95v0.95h-0.95zM64 328.5h0.95v0.95h-0.95zM60.5 338.5h0.95v0.95h-0.95zM59 332.5h0.95v0.95h-0.95zM71 331h0.95v0.95h-0.95zM73 330h0.95v0.95h-0.95zM57 334h0.95v0.95h-0.95zM74 327.5h0.95v0.95h-0.95zM63.5 326h0.95v0.95h-0.95zM65 341.5h0.95v0.95h-0.95zM60.5 342.5h0.95v0.95h-0.95zM68.5 329.5h0.95v0.95h-0.95zM64 334h0.95v0.95h-0.95zM77 334.5h0.95v0.95h-0.95zM64 328h0.95v0.95h-0.95zM76 328.5h0.95v0.95h-0.95zM63 330.5h0.95v0.95h-0.95zM56.5 337h0.95v0.95h-0.95zM69 330.5h0.95v0.95h-0.95zM77.5 323h0.95v0.95h-0.95zM67 336h0.95v0.95h-0.95zM75 325.5h0.95v0.95h-0.95zM69.5 335.5h0.95v0.95h-0.95zM65 337h0.95v0.95h-0.95zM71.5 328h0.95v0.95h-0.95zM74 317h0.95v0.95h-0.95zM72.5 319.5h0.95v0.95h-0.95zM65 324.5h0.95v0.95h-0.95zM55.5 335h0.95v0.95h-0.95zM72.5 323.5h0.95v0.95h-0.95zM55.5 337.5h0.95v0.95h-0.95zM67 324.5h0.95v0.95h-0.95zM74 325h0.95v0.95h-0.95zM65.5 334.5h0.95v0.95h-0.95zM73.5 326.5h0.95v0.95h-0.95zM72 324h0.95v0.95h-0.95zM66 328h0.95v0.95h-0.95zM65.5 345h0.95v0.95h-0.95zM58 330h0.95v0.95h-0.95zM67.5 338.5h0.95v0.95h-0.95zM65.5 335.5h0.95v0.95h-0.95zM69.5 331.5h0.95v0.95h-0.95zM72 329h0.95v0.95h-0.95zM68 324h0.95v0.95h-0.95zM63 340h0.95v0.95h-0.95zM68.5 327h0.95v0.95h-0.95zM76 314h0.95v0.95h-0.95zM65.5 333.5h0.95v0.95h-0.95zM54.5 330h0.95v0.95h-0.95zM64.5 336.5h0.95v0.95h-0.95zM67.5 333h0.95v0.95h-0.95zM61.5 331.5h0.95v0.95h-0.95zM70 325.5h0.95v0.95h-0.95zM75 330h0.95v0.95h-0.95zM68.5 328.5h0.95v0.95h-0.95zM73.5 323h0.95v0.95h-0.95zM60.5 322.5h0.95v0.95h-0.95zM58 336.5h0.95v0.95h-0.95zM72 331h0.95v0.95h-0.95zM60.5 334.5h0.95v0.95h-0.95zM61.5 337.5h0.95v0.95h-0.95zM66.5 326.5h0.95v0.95h-0.95zM68 327h0.95v0.95h-0.95zM59 332h0.95v0.95h-0.95zM67.5 340h0.95v0.95h-0.95zM68.5 329h0.95v0.95h-0.95zM65.5 329.5h0.95v0.95h-0.95zM62.5 346h0.95v0.95h-0.95zM77.5 318.5h0.95v0.95h-0.95zM64 341h0.95v0.95h-0.95zM67.5 329.5h0.95v0.95h-0.95zM66 323h0.95v0.95h-0.95zM70 325h0.95v0.95h-0.95zM56 333h0.95v0.95h-0.95zM56.5 340h0.95v0.95h-0.95zM67 332h0.95v0.95h-0.95zM77.5 338h0.95v0.95h-0.95zM57.5 344.5h0.95v0.95h-0.95zM77.5 319h0.95v0.95h-0.95zM60.5 335h0.95v0.95h-0.95zM55 335h0.95v0.95h-0.95zM65 331h0.95v0.95h-0.95zM67.5 330.5h0.95v0.95h-0.95zM69 335h0.95v0.95h-0.95zM62.5 341.5h0.95v0.95h-0.95zM64 328.5h0.95v0.95h-0.95zM64 343.5h0.95v0.95h-0.95zM64.5 331.5h0.95v0.95h-0.95zM65.5 341.5h0.95v0.95h-0.95zM61.5 334.5h0.95v0.95h-0.95zM60.5 341h0.95v0.95h-0.95zM70 332h0.95v0.95h-0.95zM66.5 326h0.95v0.95h-0.95zM55.5 350h0.95v0.95h-0.95zM70 326.5h0.95v0.95h-0.95zM69.5 328.5h0.95v0.95h-0.95zM74 323h0.95v0.95h-0.95zM73.5 337.5h0.95v0.95h-0.95zM69 322h0.95v0.95h-0.95zM73.5 325.5h0.95v0.95h-0.95zM69 333.5h0.95v0.95h-0.95zM63 338h0.95v0.95h-0.95zM68 325.5h0.95v0.95h-0.95zM69 331.5h0.95v0.95h-0.95zM62 336.5h0.95v0.95h-0.95zM66.5 324h0.95v0.95h-0.95zM63.5 330h0.95v0.95h-0.95zM56 337h0.95v0.95h-0.95zM72.5 327.5h0.95v0.95h-0.95zM62.5 331.5h0.95v0.95h-0.95zM69 327.5h0.95v0.95h-0.95zM75.5 329h0.95v0.95h-0.95zM75.5 322h0.95v0.95h-0.95zM60 335.5h0.95v0.95h-0.95zM67.5 332.5h0.95v0.95h-0.95zM71 335h0.95v0.95h-0.95zM75 341h0.95v0.95h-0.95zM70 331.5h0.95v0.95h-0.95zM58 347h0.95v0.95h-0.95zM65.5 335h0.95v0.95h-0.95zM64 330.5h0.95v0.95h-0.95zM62 335.5h0.95v0.95h-0.95zM71.5 325.5h0.95v0.95h-0.95zM51 344.5h0.95v0.95h-0.95zM48 332.5h0.95v0.95h-0.95zM58 344h0.95v0.95h-0.95zM62.5 336.5h0.95v0.95h-0.95zM72.5 323.5h0.95v0.95h-0.95zM73.5 330.5h0.95v0.95h-0.95zM63 331h0.95v0.95h-0.95zM60 337.5h0.95v0.95h-0.95zM73.5 333h0.95v0.95h-0.95zM58.5 339h0.95v0.95h-0.95zM57 337.5h0.95v0.95h-0.95zM63.5 327h0.95v0.95h-0.95zM76.5 319h0.95v0.95h-0.95zM63.5 334.5h0.95v0.95h-0.95zM60.5 337h0.95v0.95h-0.95zM68 326.5h0.95v0.95h-0.95zM70 329h0.95v0.95h-0.95zM67 328.5h0.95v0.95h-0.95zM69.5 325h0.95v0.95h-0.95zM55 338.5h0.95v0.95h-0.95zM66.5 328.5h0.95v0.95h-0.95zM61.5 333.5h0.95v0.95h-0.95zM74 321.5h0.95v0.95h-0.95zM68.5 334.5h0.95v0.95h-0.95zM79 317.5h0.95v0.95h-0.95zM65 330.5h0.95v0.95h-0.95zM71 334.5h0.95v0.95h-0.95zM71 333.5h0.95v0.95h-0.95zM72.5 326h0.95v0.95h-0.95zM56 342h0.95v0.95h-0.95zM64 344h0.95v0.95h-0.95zM66.5 332h0.95v0.95h-0.95zM63 335h0.95v0.95h-0.95zM74.5 320.5h0.95v0.95h-0.95zM68.5 327.5h0.95v0.95h-0.95zM70.5 318.5h0.95v0.95h-0.95zM69 339.5h0.95v0.95h-0.95zM64.5 335.5h0.95v0.95h-0.95zM61 331h0.95v0.95h-0.95zM67 338.5h0.95v0.95h-0.95zM65 331.5h0.95v0.95h-0.95zM73.5 326h0.95v0.95h-0.95zM69 330.5h0.95v0.95h-0.95zM76 316.5h0.95v0.95h-0.95zM56 327h0.95v0.95h-0.95zM54.5 329h0.95v0.95h-0.95zM71.5 326.5h0.95v0.95h-0.95zM64.5 337h0.95v0.95h-0.95zM67.5 335h0.95v0.95h-0.95zM58 324h0.95v0.95h-0.95zM69.5 325.5h0.95v0.95h-0.95zM61 333h0.95v0.95h-0.95zM67 342.5h0.95v0.95h-0.95zM63 333.5h0.95v0.95h-0.95zM56 341.5h0.95v0.95h-0.95zM63.5 331h0.95v0.95h-0.95zM63.5 337h0.95v0.95h-0.95zM69 333.5h0.95v0.95h-0.95zM66.5 324.5h0.95v0.95h-0.95zM65 327h0.95v0.95h-0.95zM66 331h0.95v0.95h-0.95zM65.5 335h0.95v0.95h-0.95zM69.5 338h0.95v0.95h-0.95zM76.5 333h0.95v0.95h-0.95zM52.5 338h0.95v0.95h-0.95zM68 330h0.95v0.95h-0.95zM84.5 318.5h0.95v0.95h-0.95zM64 333.5h0.95v0.95h-0.95zM67 335.5h0.95v0.95h-0.95zM68 334.5h0.95v0.95h-0.95zM68.5 334h0.95v0.95h-0.95zM64 334.5h0.95v0.95h-0.95zM54 336h0.95v0.95h-0.95zM73 332.5h0.95v0.95h-0.95zM61.5 331h0.95v0.95h-0.95zM64.5 335h0.95v0.95h-0.95zM48.5 336.5h0.95v0.95h-0.95zM64.5 329h0.95v0.95h-0.95zM61 339h0.95v0.95h-0.95zM70.5 342.5h0.95v0.95h-0.95zM68 325h0.95v0.95h-0.95zM72 335.5h0.95v0.95h-0.95zM56 339h0.95v0.95h-0.95zM71 315.5h0.95v0.95h-0.95zM64.5 328.5h0.95v0.95h-0.95zM55.5 337.5h0.95v0.95h-0.95zM81.5 333h0.95v0.95h-0.95zM70 339.5h0.95v0.95h-0.95zM68.5 329.5h0.95v0.95h-0.95zM68.5 329.5h0.95v0.95h-0.95zM68.5 330.5h0.95v0.95h-0.95zM57 326.5h0.95v0.95h-0.95zM63.5 323h0.95v0.95h-0.95zM64.5 329h0.95v0.95h-0.95zM65 333.5h0.95v0.95h-0.95zM69 332h0.95v0.95h-0.95zM54.5 345h0.95v0.95h-0.95zM64 340.5h0.95v0.95h-0.95zM61 331.5h0.95v0.95h-0.95zM70 328.5h0.95v0.95h-0.95zM71.5 333.5h0.95v0.95h-0.95zM66.5 339h0.95v0.95h-0.95zM62.5 332.5h0.95v0.95h-0.95zM67.5 325.5h0.95v0.95h-0.95zM67 332h0.95v0.95h-0.95zM63 334.5h0.95v0.95h-0.95zM64 329.5h0.95v0.95h-0.95zM71.5 332h0.95v0.95h-0.95zM80 325h0.95v0.95h-0.95zM66.5 329h0.95v0.95h-0.95zM72 337.5h0.95v0.95h-0.95zM63 327h0.95v0.95h-0.95zM60 331h0.95v0.95h-0.95zM57 334.5h0.95v0.95h-0.95zM57.5 323.5h0.95v0.95h-0.95zM62.5 334h0.95v0.95h-0.95zM60 321h0.95v0.95h-0.95zM51 341.5h0.95v0.95h-0.95zM61 326h0.95v0.95h-0.95zM64 325.5h0.95v0.95h-0.95zM69 330.5h0.95v0.95h-0.95zM68.5 323h0.95v0.95h-0.95zM69.5 332h0.95v0.95h-0.95zM67 328.5h0.95v0.95h-0.95zM55 336.5h0.95v0.95h-0.95zM66 332.5h0.95v0.95h-0.95zM62 340.5h0.95v0.95h-0.95zM68.5 323.5h0.95v0.95h-0.95zM70 329.5h0.95v0.95h-0.95zM61.5 335.5h0.95v0.95h-0.95zM69.5 331h0.95v0.95h-0.95zM64 327.5h0.95v0.95h-0.95zM68.5 317h0.95v0.95h-0.95zM64.5 340h0.95v0.95h-0.95zM69.5 333h0.95v0.95h-0.95zM70.5 334.5h0.95v0.95h-0.95zM77.5 327.5h0.95v0.95h-0.95zM63.5 331h0.95v0.95h-0.95zM67 335h0.95v0.95h-0.95zM75.5 318.5h0.95v0.95h-0.95zM71.5 334.5h0.95v0.95h-0.95zM62.5 327.5h0.95v0.95h-0.95zM69.5 340h0.95v0.95h-0.95zM80 320h0.95v0.95h-0.95zM62 327h0.95v0.95h-0.95zM66.5 333.5h0.95v0.95h-0.95zM62.5 339h0.95v0.95h-0.95zM61.5 333.5h0.95v0.95h-0.95zM64.5 335h0.95v0.95h-0.95zM73 326h0.95v0.95h-0.95zM58.5 339h0.95v0.95h-0.95zM59.5 340.5h0.95v0.95h-0.95zM70 325.5h0.95v0.95h-0.95zM58 335h0.95v0.95h-0.95zM65.5 332h0.95v0.95h-0.95zM74.5 328h0.95v0.95h-0.95zM59.5 334h0.95v0.95h-0.95zM65.5 334h0.95v0.95h-0.95zM58.5 330.5h0.95v0.95h-0.95zM69.5 330.5h0.95v0.95h-0.95zM68.5 334h0.95v0.95h-0.95zM54 338h0.95v0.95h-0.95zM54.5 337.5h0.95v0.95h-0.95zM66.5 336.5h0.95v0.95h-0.95zM55.5 331h0.95v0.95h-0.95zM71.5 322h0.95v0.95h-0.95zM73 332.5h0.95v0.95h-0.95zM70 330h0.95v0.95h-0.95zM60 340h0.95v0.95h-0.95zM70.5 333.5h0.95v0.95h-0.95zM66.5 334h0.95v0.95h-0.95zM70.5 320h0.95v0.95h-0.95zM65 329h0.95v0.95h-0.95zM66 319.5h0.95v0.95h-0.95zM70.5 329h0.95v0.95h-0.95zM66.5 334.5h0.95v0.95h-0.95zM55.5 337.5h0.95v0.95h-0.95zM52 337.5h0.95v0.95h-0.95zM55.5 335h0.95v0.95h-0.95zM58.5 341.5h0.95v0.95h-0.95zM72.5 331h0.95v0.95h-0.95zM68.5 335h0.95v0.95h-0.95zM65 334h0.95v0.95h-0.95zM61.5 335h0.95v0.95h-0.95zM58 337.5h0.95v0.95h-0.95zM57 344h0.95v0.95h-0.95zM56.5 338.5h0.95v0.95h-0.95zM70.5 325h0.95v0.95h-0.95zM67.5 325.5h0.95v0.95h-0.95zM70 328h0.95v0.95h-0.95zM70 336h0.95v0.95h-0.95zM73.5 332h0.95v0.95h-0.95zM66.5 339h0.95v0.95h-0.95zM70.5 322.5h0.95v0.95h-0.95zM59.5 330h0.95v0.95h-0.95zM58.5 335.5h0.95v0.95h-0.95zM63 328h0.95v0.95h-0.95zM60 343h0.95v0.95h-0.95zM65.5 331h0.95v0.95h-0.95zM66 336h0.95v0.95h-0.95zM67 333.5h0.95v0.95h-0.95zM60 338h0.95v0.95h-0.95zM59.5 333h0.95v0.95h-0.95zM63.5 324.5h0.95v0.95h-0.95zM67 330h0.95v0.95h-0.95zM65.5 318h0.95v0.95h-0.95zM58.5 337.5h0.95v0.95h-0.95zM68.5 326h0.95v0.95h-0.95zM65.5 326h0.95v0.95h-0.95zM67.5 322h0.95v0.95h-0.95zM63 335h0.95v0.95h-0.95zM68 338h0.95v0.95h-0.95zM65.5 335h0.95v0.95h-0.95zM68.5 336h0.95v0.95h-0.95zM55.5 336.5h0.95v0.95h-0.95zM74.5 325.5h0.95v0.95h-0.95zM74 328h0.95v0.95h-0.95zM72.5 335h0.95v0.95h-0.95zM63 334.5h0.95v0.95h-0.95zM59.5 337.5h0.95v0.95h-0.95zM56.5 327.5h0.95v0.95h-0.95zM81 317.5h0.95v0.95h-0.95zM73.5 327h0.95v0.95h-0.95zM61 343h0.95v0.95h-0.95zM72 339h0.95v0.95h-0.95zM69 331h0.95v0.95h-0.95zM68.5 335h0.95v0.95h-0.95zM65 327h0.95v0.95h-0.95zM53 338.5h0.95v0.95h-0.95zM73.5 328.5h0.95v0.95h-0.95zM56 333h0.95v0.95h-0.95zM72 328h0.95v0.95h-0.95zM62.5 332h0.95v0.95h-0.95zM76.5 322.5h0.95v0.95h-0.95zM73 330.5h0.95v0.95h-0.95zM65 337.5h0.95v0.95h-0.95zM67 322h0.95v0.95h-0.95zM58 327.5h0.95v0.95h-0.95zM69 321.5h0.95v0.95h-0.95zM74.5 327h0.95v0.95h-0.95zM77.5 332h0.95v0.95h-0.95zM61.5 325h0.95v0.95h-0.95zM59.5 335.5h0.95v0.95h-0.95zM65.5 344h0.95v0.95h-0.95zM67 328h0.95v0.95h-0.95zM75.5 327h0.95v0.95h-0.95zM67.5 337h0.95v0.95h-0.95zM59 333.5h0.95v0.95h-0.95zM73.5 329h0.95v0.95h-0.95zM69 324.5h0.95v0.95h-0.95zM69 331.5h0.95v0.95h-0.95zM73.5 323h0.95v0.95h-0.95zM66 338h0.95v0.95h-0.95zM68.5 325h0.95v0.95h-0.95zM73.5 335.5h0.95v0.95h-0.95zM58.5 334.5h0.95v0.95h-0.95zM73 333h0.95v0.95h-0.95zM61 335h0.95v0.95h-0.95zM72.5 325.5h0.95v0.95h-0.95zM57.5 333h0.95v0.95h-0.95zM67.5 331.5h0.95v0.95h-0.95zM67.5 326h0.95v0.95h-0.95zM62.5 336h0.95v0.95h-0.95zM55 336h0.95v0.95h-0.95zM63 338h0.95v0.95h-0.95zM72 333.5h0.95v0.95h-0.95zM67 340.5h0.95v0.95h-0.95zM66 331.5h0.95v0.95h-0.95zM60 334h0.95v0.95h-0.95zM68 334h0.95v0.95h-0.95zM66 333.5h0.95v0.95h-0.95zM68 331h0.95v0.95h-0.95zM65.5 343.5h0.95v0.95h-0.95zM64.5 342.5h0.95v0.95h-0.95zM74 333h0.95v0.95h-0.95zM69 327.5h0.95v0.95h-0.95zM55.5 336h0.95v0.95h-0.95zM67 330.5h0.95v0.95h-0.95zM62.5 336.5h0.95v0.95h-0.95zM63.5 339h0.95v0.95h-0.95zM64.5 328.5h0.95v0.95h-0.95zM66.5 327h0.95v0.95h-0.95zM54.5 331h0.95v0.95h-0.95zM81.5 326.5h0.95v0.95h-0.95zM68 329.5h0.95v0.95h-0.95zM57 334.5h0.95v0.95h-0.95zM71 322.5h0.95v0.95h-0.95zM72 332.5h0.95v0.95h-0.95zM75 321h0.95v0.95h-0.95zM62.5 330h0.95v0.95h-0.95zM60 339.5h0.95v0.95h-0.95zM72 330h0.95v0.95h-0.95zM61.5 337.5h0.95v0.95h-0.95zM64 328.5h0.95v0.95h-0.95zM52 344.5h0.95v0.95h-0.95zM58 334.5h0.95v0.95h-0.95zM60 327.5h0.95v0.95h-0.95zM59.5 335.5h0.95v0.95h-0.95zM51 338.5h0.95v0.95h-0.95zM60.5 340.5h0.95v0.95h-0.95zM68.5 336h0.95v0.95h-0.95zM66.5 335.5h0.95v0.95h-0.95zM68.5 332.5h0.95v0.95h-0.95zM68 331h0.95v0.95h-0.95zM73 323h0.95v0.95h-0.95zM71 333h0.95v0.95h-0.95zM66 328.5h0.95v0.95h-0.95zM68 332h0.95v0.95h-0.95zM60.5 338h0.95v0.95h-0.95zM74 326.5h0.95v0.95h-0.95zM56 336h0.95v0.95h-0.95zM64 332h0.95v0.95h-0.95zM73.5 327.5h0.95v0.95h-0.95zM69 334h0.95v0.95h-0.95zM58 330h0.95v0.95h-0.95zM65.5 341.5h0.95v0.95h-0.95zM69 331h0.95v0.95h-0.95zM77 332.5h0.95v0.95h-0.95zM56.5 337h0.95v0.95h-0.95zM73.5 325h0.95v0.95h-0.95zM67.5 324.5h0.95v0.95h-0.95zM62 330h0.95v0.95h-0.95zM68 340.5h0.95v0.95h-0.95zM65.5 330.5h0.95v0.95h-0.95zM65.5 334.5h0.95v0.95h-0.95zM70.5 333h0.95v0.95h-0.95zM68.5 341.5h0.95v0.95h-0.95zM69.5 323h0.95v0.95h-0.95zM66 337h0.95v0.95h-0.95zM67 329h0.95v0.95h-0.95zM64.5 334.5h0.95v0.95h-0.95zM58.5 333.5h0.95v0.95h-0.95zM63 333.5h0.95v0.95h-0.95zM65 335.5h0.95v0.95h-0.95zM70.5 325h0.95v0.95h-0.95zM70 329.5h0.95v0.95h-0.95zM61 336.5h0.95v0.95h-0.95zM51 336h0.95v0.95h-0.95zM60 339.5h0.95v0.95h-0.95zM71 338.5h0.95v0.95h-0.95zM46.5 340h0.95v0.95h-0.95zM53 343.5h0.95v0.95h-0.95zM77.5 332.5h0.95v0.95h-0.95zM62.5 334h0.95v0.95h-0.95zM60.5 333.5h0.95v0.95h-0.95zM68 329.5h0.95v0.95h-0.95zM72 326.5h0.95v0.95h-0.95zM66 324.5h0.95v0.95h-0.95zM63 331.5h0.95v0.95h-0.95zM59.5 333h0.95v0.95h-0.95zM72.5 330h0.95v0.95h-0.95zM66.5 323.5h0.95v0.95h-0.95zM65.5 331.5h0.95v0.95h-0.95zM75 345h0.95v0.95h-0.95zM70 329h0.95v0.95h-0.95zM64.5 334h0.95v0.95h-0.95zM74.5 336.5h0.95v0.95h-0.95zM57 332.5h0.95v0.95h-0.95zM59.5 325h0.95v0.95h-0.95zM70.5 330.5h0.95v0.95h-0.95zM71.5 327h0.95v0.95h-0.95zM60.5 331.5h0.95v0.95h-0.95zM43.5 339h0.95v0.95h-0.95zM60 339.5h0.95v0.95h-0.95zM58.5 336h0.95v0.95h-0.95zM72 329.5h0.95v0.95h-0.95zM64.5 323.5h0.95v0.95h-0.95zM70.5 319h0.95v0.95h-0.95zM67 326h0.95v0.95h-0.95zM71 326.5h0.95v0.95h-0.95zM66 335h0.95v0.95h-0.95zM70.5 336.5h0.95v0.95h-0.95zM65 330h0.95v0.95h-0.95zM63 321h0.95v0.95h-0.95zM62.5 333.5h0.95v0.95h-0.95zM60.5 335.5h0.95v0.95h-0.95zM65 332h0.95v0.95h-0.95zM72 327.5h0.95v0.95h-0.95zM68.5 339h0.95v0.95h-0.95zM69.5 330h0.95v0.95h-0.95zM57 332h0.95v0.95h-0.95zM72.5 322.5h0.95v0.95h-0.95zM69.5 332.5h0.95v0.95h-0.95zM62 328h0.95v0.95h-0.95zM73.5 325.5h0.95v0.95h-0.95zM60.5 341h0.95v0.95h-0.95zM73.5 325.5h0.95v0.95h-0.95zM70 324h0.95v0.95h-0.95zM64 335.5h0.95v0.95h-0.95zM72.5 330.5h0.95v0.95h-0.95zM61.5 339.5h0.95v0.95h-0.95zM72 329.5h0.95v0.95h-0.95zM66 329h0.95v0.95h-0.95zM73 336.5h0.95v0.95h-0.95zM69 334.5h0.95v0.95h-0.95zM51.5 336h0.95v0.95h-0.95zM69 325h0.95v0.95h-0.95zM58.5 338h0.95v0.95h-0.95zM67 339h0.95v0.95h-0.95zM75 325.5h0.95v0.95h-0.95zM71.5 328h0.95v0.95h-0.95zM66.5 340.5h0.95v0.95h-0.95zM70.5 333.5h0.95v0.95h-0.95zM64 333.5h0.95v0.95h-0.95zM62 332h0.95v0.95h-0.95zM82.5 325h0.95v0.95h-0.95zM70.5 324.5h0.95v0.95h-0.95zM69 335h0.95v0.95h-0.95zM55.5 341h0.95v0.95h-0.95zM67.5 333h0.95v0.95h-0.95zM72 319h0.95v0.95h-0.95zM63.5 324.5h0.95v0.95h-0.95zM56 341h0.95v0.95h-0.95zM70 319.5h0.95v0.95h-0.95zM70.5 330h0.95v0.95h-0.95zM69.5 337h0.95v0.95h-0.95zM77 323h0.95v0.95h-0.95zM67.5 327h0.95v0.95h-0.95zM71.5 337.5h0.95v0.95h-0.95zM62.5 335.5h0.95v0.95h-0.95zM63.5 334.5h0.95v0.95h-0.95zM60.5 329h0.95v0.95h-0.95zM56 345.5h0.95v0.95h-0.95zM66.5 328h0.95v0.95h-0.95zM63.5 338h0.95v0.95h-0.95zM70 330h0.95v0.95h-0.95zM66 340.5h0.95v0.95h-0.95zM62.5 336h0.95v0.95h-0.95zM56 329.5h0.95v0.95h-0.95zM61.5 337.5h0.95v0.95h-0.95zM68.5 336.5h0.95v0.95h-0.95zM68 331h0.95v0.95h-0.95zM63 331.5h0.95v0.95h-0.95zM59.5 329.5h0.95v0.95h-0.95zM63.5 328.5h0.95v0.95h-0.95zM67 329.5h0.95v0.95h-0.95zM73.5 328h0.95v0.95h-0.95zM67 332.5h0.95v0.95h-0.95zM54.5 343.5h0.95v0.95h-0.95zM62.5 338h0.95v0.95h-0.95zM64.5 321.5h0.95v0.95h-0.95zM73.5 333.5h0.95v0.95h-0.95zM61 331.5h0.95v0.95h-0.95zM77.5 326h0.95v0.95h-0.95zM70.5 333.5h0.95v0.95h-0.95zM58.5 341.5h0.95v0.95h-0.95zM55.5 336.5h0.95v0.95h-0.95zM73 323h0.95v0.95h-0.95zM83.5 317.5h0.95v0.95h-0.95zM63.5 337.5h0.95v0.95h-0.95zM67.5 341h0.95v0.95h-0.95zM65 333.5h0.95v0.95h-0.95zM63 336h0.95v0.95h-0.95zM65 332.5h0.95v0.95h-0.95zM64 321.5h0.95v0.95h-0.95zM59.5 333h0.95v0.95h-0.95zM70 331h0.95v0.95h-0.95zM63.5 332h0.95v0.95h-0.95zM57 344.5h0.95v0.95h-0.95zM76 321h0.95v0.95h-0.95zM60 335.5h0.95v0.95h-0.95zM57.5 341h0.95v0.95h-0.95zM79 330.5h0.95v0.95h-0.95zM63 329h0.95v0.95h-0.95zM67 327.5h0.95v0.95h-0.95zM71.5 330h0.95v0.95h-0.95zM65.5 333.5h0.95v0.95h-0.95zM67 320h0.95v0.95h-0.95zM70.5 327.5h0.95v0.95h-0.95zM59 333h0.95v0.95h-0.95zM59.5 340h0.95v0.95h-0.95zM64.5 329h0.95v0.95h-0.95zM53 340h0.95v0.95h-0.95zM54.5 328h0.95v0.95h-0.95zM71.5 328h0.95v0.95h-0.95zM70 331.5h0.95v0.95h-0.95zM59.5 338.5h0.95v0.95h-0.95zM49.5 338.5h0.95v0.95h-0.95zM58.5 332.5h0.95v0.95h-0.95zM79 323.5h0.95v0.95h-0.95zM66.5 338h0.95v0.95h-0.95zM74.5 332h0.95v0.95h-0.95zM72 335h0.95v0.95h-0.95zM63.5 326h0.95v0.95h-0.95zM70.5 338.5h0.95v0.95h-0.95zM67 330h0.95v0.95h-0.95zM64.5 323h0.95v0.95h-0.95zM64.5 326h0.95v0.95h-0.95zM71.5 331h0.95v0.95h-0.95zM58.5 330h0.95v0.95h-0.95zM67.5 331h0.95v0.95h-0.95zM77 328.5h0.95v0.95h-0.95zM68.5 329.5h0.95v0.95h-0.95zM68 331h0.95v0.95h-0.95zM77.5 327.5h0.95v0.95h-0.95zM76 321.5h0.95v0.95h-0.95zM69.5 333.5h0.95v0.95h-0.95zM78 331h0.95v0.95h-0.95zM66.5 335h0.95v0.95h-0.95zM74 332.5h0.95v0.95h-0.95zM50 334h0.95v0.95h-0.95zM67 325h0.95v0.95h-0.95zM64.5 331.5h0.95v0.95h-0.95zM65.5 329h0.95v0.95h-0.95zM65.5 325h0.95v0.95h-0.95zM70 321.5h0.95v0.95h-0.95zM65 337.5h0.95v0.95h-0.95zM63 330.5h0.95v0.95h-0.95zM80.5 319h0.95v0.95h-0.95zM78 326.5h0.95v0.95h-0.95zM72 332.5h0.95v0.95h-0.95zM60.5 331.5h0.95v0.95h-0.95zM67 338h0.95v0.95h-0.95zM65 331.5h0.95v0.95h-0.95zM71.5 335h0.95v0.95h-0.95zM56 335.5h0.95v0.95h-0.95zM74 338h0.95v0.95h-0.95zM63 332.5h0.95v0.95h-0.95zM75 334h0.95v0.95h-0.95zM59.5 338.5h0.95v0.95h-0.95zM65.5 338h0.95v0.95h-0.95zM73.5 342.5h0.95v0.95h-0.95zM56 337.5h0.95v0.95h-0.95zM67.5 334h0.95v0.95h-0.95zM67.5 327h0.95v0.95h-0.95zM59 333.5h0.95v0.95h-0.95zM60 337h0.95v0.95h-0.95zM66.5 331h0.95v0.95h-0.95zM70.5 330.5h0.95v0.95h-0.95zM56 337.5h0.95v0.95h-0.95zM61 335.5h0.95v0.95h-0.95zM71 319h0.95v0.95h-0.95zM76.5 318h0.95v0.95h-0.95zM68.5 322.5h0.95v0.95h-0.95zM69 327.5h0.95v0.95h-0.95zM77 330.5h0.95v0.95h-0.95zM71.5 324h0.95v0.95h-0.95zM57 337h0.95v0.95h-0.95zM60.5 330.5h0.95v0.95h-0.95zM69.5 330.5h0.95v0.95h-0.95zM63.5 334.5h0.95v0.95h-0.95zM74.5 326.5h0.95v0.95h-0.95zM70.5 325.5h0.95v0.95h-0.95zM64 326h0.95v0.95h-0.95zM60.5 339.5h0.95v0.95h-0.95zM68.5 329h0.95v0.95h-0.95zM60.5 334.5h0.95v0.95h-0.95zM55 336h0.95v0.95h-0.95zM65.5 335.5h0.95v0.95h-0.95zM65.5 333h0.95v0.95h-0.95zM62 332h0.95v0.95h-0.95zM70 331h0.95v0.95h-0.95zM52.5 338h0.95v0.95h-0.95zM68 326h0.95v0.95h-0.95zM66.5 344.5h0.95v0.95h-0.95zM67.5 327.5h0.95v0.95h-0.95zM72 330h0.95v0.95h-0.95zM64.5 327h0.95v0.95h-0.95zM66 332h0.95v0.95h-0.95zM65.5 333.5h0.95v0.95h-0.95zM66 332.5h0.95v0.95h-0.95zM72 332.5h0.95v0.95h-0.95zM62 344.5h0.95v0.95h-0.95zM62 335h0.95v0.95h-0.95zM71 332.5h0.95v0.95h-0.95zM65.5 328.5h0.95v0.95h-0.95zM70.5 324.5h0.95v0.95h-0.95zM73 331h0.95v0.95h-0.95zM72 341h0.95v0.95h-0.95zM69 340h0.95v0.95h-0.95zM54 340h0.95v0.95h-0.95zM71 325.5h0.95v0.95h-0.95zM68.5 327.5h0.95v0.95h-0.95zM75.5 330.5h0.95v0.95h-0.95zM62.5 333.5h0.95v0.95h-0.95zM61.5 335h0.95v0.95h-0.95zM68.5 343h0.95v0.95h-0.95zM74 322.5h0.95v0.95h-0.95zM69.5 332h0.95v0.95h-0.95zM62 327.5h0.95v0.95h-0.95zM61.5 336.5h0.95v0.95h-0.95zM69 327h0.95v0.95h-0.95zM64.5 334.5h0.95v0.95h-0.95zM71 322.5h0.95v0.95h-0.95zM75.5 331.5h0.95v0.95h-0.95zM71 325h0.95v0.95h-0.95zM59.5 330.5h0.95v0.95h-0.95zM63 321.5h0.95v0.95h-0.95zM70 328.5h0.95v0.95h-0.95zM69.5 330h0.95v0.95h-0.95zM74 329.5h0.95v0.95h-0.95zM80.5 328.5h0.95v0.95h-0.95zM67 338.5h0.95v0.95h-0.95zM74 326.5h0.95v0.95h-0.95zM65.5 345.5h0.95v0.95h-0.95zM57.5 332h0.95v0.95h-0.95zM69.5 331.5h0.95v0.95h-0.95zM64 326h0.95v0.95h-0.95zM64.5 330h0.95v0.95h-0.95zM58 331.5h0.95v0.95h-0.95zM63.5 325h0.95v0.95h-0.95zM68.5 334h0.95v0.95h-0.95zM51.5 342.5h0.95v0.95h-0.95zM61 334.5h0.95v0.95h-0.95zM67 330h0.95v0.95h-0.95zM57.5 329.5h0.95v0.95h-0.95zM70.5 328h0.95v0.95h-0.95zM66.5 321.5h0.95v0.95h-0.95zM66 325.5h0.95v0.95h-0.95zM75 335h0.95v0.95h-0.95zM53 348.5h0.95v0.95h-0.95zM69 330h0.95v0.95h-0.95zM57.5 343h0.95v0.95h-0.95zM60.5 335h0.95v0.95h-0.95zM61 336.5h0.95v0.95h-0.95zM70.5 325.5h0.95v0.95h-0.95zM69.5 336.5h0.95v0.95h-0.95zM57 343.5h0.95v0.95h-0.95zM79.5 324h0.95v0.95h-0.95zM67.5 336h0.95v0.95h-0.95zM66 329h0.95v0.95h-0.95zM59 339h0.95v0.95h-0.95zM62.5 334h0.95v0.95h-0.95zM60.5 329h0.95v0.95h-0.95zM64 331h0.95v0.95h-0.95zM74 323h0.95v0.95h-0.95zM57.5 337.5h0.95v0.95h-0.95zM65.5 336.5h0.95v0.95h-0.95zM57 341h0.95v0.95h-0.95zM66.5 331.5h0.95v0.95h-0.95zM65.5 322h0.95v0.95h-0.95zM74.5 327.5h0.95v0.95h-0.95zM64 337.5h0.95v0.95h-0.95zM60.5 329.5h0.95v0.95h-0.95zM71 346.5h0.95v0.95h-0.95zM62 331.5h0.95v0.95h-0.95zM64 331.5h0.95v0.95h-0.95zM64 335.5h0.95v0.95h-0.95zM75 327h0.95v0.95h-0.95zM66 328h0.95v0.95h-0.95zM63 328h0.95v0.95h-0.95zM63.5 332h0.95v0.95h-0.95zM61.5 341h0.95v0.95h-0.95zM70.5 330h0.95v0.95h-0.95zM59 327h0.95v0.95h-0.95zM58.5 329.5h0.95v0.95h-0.95zM61.5 343h0.95v0.95h-0.95zM64.5 337h0.95v0.95h-0.95zM71.5 333.5h0.95v0.95h-0.95zM64.5 337h0.95v0.95h-0.95zM57.5 327h0.95v0.95h-0.95zM66.5 334.5h0.95v0.95h-0.95zM69 328.5h0.95v0.95h-0.95zM62.5 332.5h0.95v0.95h-0.95zM52.5 351h0.95v0.95h-0.95zM56.5 331.5h0.95v0.95h-0.95zM60 327.5h0.95v0.95h-0.95zM53.5 333h0.95v0.95h-0.95zM65.5 330h0.95v0.95h-0.95zM65.5 335.5h0.95v0.95h-0.95zM66.5 332.5h0.95v0.95h-0.95zM73 329.5h0.95v0.95h-0.95zM71.5 326h0.95v0.95h-0.95zM78.5 323h0.95v0.95h-0.95zM57.5 336h0.95v0.95h-0.95zM65.5 332.5h0.95v0.95h-0.95zM72 328.5h0.95v0.95h-0.95zM66.5 330.5h0.95v0.95h-0.95zM65 333.5h0.95v0.95h-0.95zM62.5 331h0.95v0.95h-0.95zM67.5 333h0.95v0.95h-0.95zM71.5 327h0.95v0.95h-0.95zM62.5 332h0.95v0.95h-0.95zM77 319h0.95v0.95h-0.95zM69 325h0.95v0.95h-0.95zM66.5 339h0.95v0.95h-0.95zM74 334.5h0.95v0.95h-0.95zM67.5 327.5h0.95v0.95h-0.95zM57.5 340.5h0.95v0.95h-0.95zM64 331.5h0.95v0.95h-0.95zM71 328h0.95v0.95h-0.95zM79.5 333h0.95v0.95h-0.95zM47 341h0.95v0.95h-0.95zM68.5 335h0.95v0.95h-0.95zM67.5 323.5h0.95v0.95h-0.95zM61.5 334h0.95v0.95h-0.95zM85 327h0.95v0.95h-0.95zM71 336h0.95v0.95h-0.95zM60 331h0.95v0.95h-0.95zM54 331.5h0.95v0.95h-0.95zM76.5 326.5h0.95v0.95h-0.95zM60.5 333.5h0.95v0.95h-0.95zM58 341.5h0.95v0.95h-0.95zM78 319h0.95v0.95h-0.95zM67 335h0.95v0.95h-0.95zM74.5 325h0.95v0.95h-0.95zM55.5 339.5h0.95v0.95h-0.95zM64.5 329.5h0.95v0.95h-0.95zM60.5 338h0.95v0.95h-0.95zM67 338h0.95v0.95h-0.95zM74.5 333h0.95v0.95h-0.95zM83.5 321h0.95v0.95h-0.95zM57 332h0.95v0.95h-0.95zM63.5 327.5h0.95v0.95h-0.95zM57 339.5h0.95v0.95h-0.95zM72.5 319h0.95v0.95h-0.95zM60.5 338.5h0.95v0.95h-0.95zM74 333.5h0.95v0.95h-0.95zM61.5 337.5h0.95v0.95h-0.95zM72 334.5h0.95v0.95h-0.95zM63 334.5h0.95v0.95h-0.95zM69 334.5h0.95v0.95h-0.95zM45 340h0.95v0.95h-0.95zM60.5 339h0.95v0.95h-0.95zM68 330h0.95v0.95h-0.95zM70 327h0.95v0.95h-0.95zM47.5 343h0.95v0.95h-0.95zM62 332h0.95v0.95h-0.95zM70.5 324.5h0.95v0.95h-0.95zM72 317.5h0.95v0.95h-0.95zM53 340h0.95v0.95h-0.95zM64 330.5h0.95v0.95h-0.95zM71.5 329h0.95v0.95h-0.95zM66 329h0.95v0.95h-0.95zM68 326.5h0.95v0.95h-0.95zM57.5 330.5h0.95v0.95h-0.95zM64.5 341.5h0.95v0.95h-0.95zM59 337h0.95v0.95h-0.95zM67 322.5h0.95v0.95h-0.95zM66 327h0.95v0.95h-0.95zM72.5 328h0.95v0.95h-0.95zM59.5 330.5h0.95v0.95h-0.95zM78.5 329h0.95v0.95h-0.95zM64 320.5h0.95v0.95h-0.95zM63.5 333h0.95v0.95h-0.95zM73.5 326h0.95v0.95h-0.95zM60.5 344.5h0.95v0.95h-0.95zM74.5 326.5h0.95v0.95h-0.95zM56 346h0.95v0.95h-0.95zM60.5 332h0.95v0.95h-0.95zM74 324h0.95v0.95h-0.95zM79 313h0.95v0.95h-0.95zM66 330.5h0.95v0.95h-0.95zM60.5 341.5h0.95v0.95h-0.95zM67 333h0.95v0.95h-0.95zM75 313.5h0.95v0.95h-0.95zM67 331.5h0.95v0.95h-0.95zM66.5 325h0.95v0.95h-0.95zM63 323h0.95v0.95h-0.95zM68 327h0.95v0.95h-0.95zM72.5 320.5h0.95v0.95h-0.95zM62 334h0.95v0.95h-0.95zM66.5 321.5h0.95v0.95h-0.95zM73 322.5h0.95v0.95h-0.95zM60.5 336h0.95v0.95h-0.95zM59 335.5h0.95v0.95h-0.95zM68.5 326h0.95v0.95h-0.95zM55.5 339h0.95v0.95h-0.95zM70.5 325h0.95v0.95h-0.95zM84 326h0.95v0.95h-0.95zM64 333h0.95v0.95h-0.95zM57 340h0.95v0.95h-0.95zM60.5 330.5h0.95v0.95h-0.95zM74 326h0.95v0.95h-0.95zM70.5 330.5h0.95v0.95h-0.95zM70 319.5h0.95v0.95h-0.95zM68 326h0.95v0.95h-0.95zM66.5 326h0.95v0.95h-0.95zM57 338h0.95v0.95h-0.95zM66.5 335.5h0.95v0.95h-0.95zM64 323.5h0.95v0.95h-0.95zM66 336h0.95v0.95h-0.95zM72 325.5h0.95v0.95h-0.95zM66 326.5h0.95v0.95h-0.95zM65.5 335h0.95v0.95h-0.95zM73 321h0.95v0.95h-0.95zM62.5 339.5h0.95v0.95h-0.95zM72 327.5h0.95v0.95h-0.95zM63 337h0.95v0.95h-0.95zM69.5 321.5h0.95v0.95h-0.95zM60.5 334h0.95v0.95h-0.95zM63 331.5h0.95v0.95h-0.95zM70.5 330.5h0.95v0.95h-0.95zM63.5 326h0.95v0.95h-0.95zM60.5 342h0.95v0.95h-0.95zM61.5 338.5h0.95v0.95h-0.95zM63.5 338.5h0.95v0.95h-0.95zM61.5 335.5h0.95v0.95h-0.95zM56 328h0.95v0.95h-0.95zM83 316h0.95v0.95h-0.95zM67 317h0.95v0.95h-0.95zM64 335.5h0.95v0.95h-0.95zM52.5 343h0.95v0.95h-0.95zM74.5 334.5h0.95v0.95h-0.95zM63 326.5h0.95v0.95h-0.95zM51.5 331h0.95v0.95h-0.95zM52.5 338h0.95v0.95h-0.95zM70.5 322.5h0.95v0.95h-0.95zM51.5 339h0.95v0.95h-0.95zM73 334h0.95v0.95h-0.95zM58.5 342h0.95v0.95h-0.95zM69 333h0.95v0.95h-0.95zM64 334.5h0.95v0.95h-0.95zM67.5 329.5h0.95v0.95h-0.95zM58.5 330.5h0.95v0.95h-0.95zM55 348.5h0.95v0.95h-0.95zM71.5 323.5h0.95v0.95h-0.95zM64 336.5h0.95v0.95h-0.95zM70 338.5h0.95v0.95h-0.95zM67.5 322.5h0.95v0.95h-0.95zM65 340.5h0.95v0.95h-0.95zM61.5 334h0.95v0.95h-0.95zM69 339h0.95v0.95h-0.95zM60.5 342h0.95v0.95h-0.95zM51.5 335.5h0.95v0.95h-0.95zM57.5 336h0.95v0.95h-0.95zM55.5 334.5h0.95v0.95h-0.95zM77 335h0.95v0.95h-0.95zM58 334.5h0.95v0.95h-0.95zM68.5 334h0.95v0.95h-0.95zM64.5 331.5h0.95v0.95h-0.95zM60.5 338h0.95v0.95h-0.95zM71.5 326.5h0.95v0.95h-0.95zM71.5 326h0.95v0.95h-0.95zM73 332.5h0.95v0.95h-0.95zM69 334h0.95v0.95h-0.95zM57.5 331h0.95v0.95h-0.95zM60.5 333h0.95v0.95h-0.95zM69 332h0.95v0.95h-0.95zM82 326.5h0.95v0.95h-0.95zM65 337h0.95v0.95h-0.95zM77 331h0.95v0.95h-0.95zM74.5 329.5h0.95v0.95h-0.95zM76 330h0.95v0.95h-0.95zM73 323.5h0.95v0.95h-0.95zM71 331h0.95v0.95h-0.95zM69.5 327h0.95v0.95h-0.95zM75 328h0.95v0.95h-0.95zM72.5 339.5h0.95v0.95h-0.95zM53 330.5h0.95v0.95h-0.95zM54.5 346.5h0.95v0.95h-0.95zM66.5 335.5h0.95v0.95h-0.95zM52 343h0.95v0.95h-0.95zM68 326.5h0.95v0.95h-0.95zM67.5 328h0.95v0.95h-0.95zM65 338.5h0.95v0.95h-0.95zM77 322.5h0.95v0.95h-0.95zM62 325h0.95v0.95h-0.95zM63 324h0.95v0.95h-0.95zM49 340.5h0.95v0.95h-0.95zM66 327h0.95v0.95h-0.95zM65.5 334h0.95v0.95h-0.95zM66.5 328.5h0.95v0.95h-0.95zM74.5 330h0.95v0.95h-0.95zM58.5 332.5h0.95v0.95h-0.95zM65.5 335h0.95v0.95h-0.95zM73 332h0.95v0.95h-0.95zM59 334.5h0.95v0.95h-0.95zM73.5 329h0.95v0.95h-0.95zM57 335h0.95v0.95h-0.95zM69 323.5h0.95v0.95h-0.95zM63 339.5h0.95v0.95h-0.95zM61.5 329.5h0.95v0.95h-0.95zM66 323h0.95v0.95h-0.95zM65 330h0.95v0.95h-0.95zM60 332.5h0.95v0.95h-0.95zM64 332.5h0.95v0.95h-0.95zM61.5 339h0.95v0.95h-0.95zM60 334h0.95v0.95h-0.95zM67.5 330.5h0.95v0.95h-0.95zM59.5 326.5h0.95v0.95h-0.95zM65.5 326h0.95v0.95h-0.95zM63.5 343h0.95v0.95h-0.95zM60.5 340.5h0.95v0.95h-0.95zM52.5 334h0.95v0.95h-0.95zM71 320h0.95v0.95h-0.95zM60 336h0.95v0.95h-0.95zM64 335h0.95v0.95h-0.95zM66 329h0.95v0.95h-0.95zM64 332h0.95v0.95h-0.95zM70.5 325h0.95v0.95h-0.95zM67 339h0.95v0.95h-0.95zM65 333.5h0.95v0.95h-0.95zM68.5 333.5h0.95v0.95h-0.95zM82.5 320h0.95v0.95h-0.95zM63.5 321.5h0.95v0.95h-0.95zM68 325h0.95v0.95h-0.95zM63 336h0.95v0.95h-0.95zM66 326h0.95v0.95h-0.95zM68.5 335.5h0.95v0.95h-0.95zM65 328.5h0.95v0.95h-0.95zM71 326h0.95v0.95h-0.95zM55 340h0.95v0.95h-0.95zM75 328h0.95v0.95h-0.95zM62 337h0.95v0.95h-0.95zM67.5 334h0.95v0.95h-0.95zM56.5 332h0.95v0.95h-0.95zM71.5 335.5h0.95v0.95h-0.95zM65 333h0.95v0.95h-0.95zM65 333.5h0.95v0.95h-0.95zM69 332.5h0.95v0.95h-0.95zM62 341.5h0.95v0.95h-0.95zM58.5 343h0.95v0.95h-0.95zM72 319h0.95v0.95h-0.95zM65 326h0.95v0.95h-0.95zM61 342.5h0.95v0.95h-0.95zM76.5 325h0.95v0.95h-0.95zM66 330h0.95v0.95h-0.95zM83 329h0.95v0.95h-0.95zM54.5 337.5h0.95v0.95h-0.95zM65.5 343h0.95v0.95h-0.95zM72 328h0.95v0.95h-0.95zM75.5 336h0.95v0.95h-0.95zM53.5 338h0.95v0.95h-0.95zM71 328.5h0.95v0.95h-0.95zM67.5 333h0.95v0.95h-0.95zM71.5 330.5h0.95v0.95h-0.95zM69 335.5h0.95v0.95h-0.95zM67 333h0.95v0.95h-0.95zM59.5 331h0.95v0.95h-0.95zM68.5 329h0.95v0.95h-0.95zM65 331h0.95v0.95h-0.95zM61 330h0.95v0.95h-0.95zM68 332.5h0.95v0.95h-0.95zM73.5 328h0.95v0.95h-0.95zM63.5 332h0.95v0.95h-0.95zM60.5 334h0.95v0.95h-0.95zM66 327.5h0.95v0.95h-0.95zM58 335h0.95v0.95h-0.95zM57.5 335.5h0.95v0.95h-0.95zM66 331h0.95v0.95h-0.95zM66 333.5h0.95v0.95h-0.95zM73 327h0.95v0.95h-0.95zM60.5 332.5h0.95v0.95h-0.95zM62.5 324.5h0.95v0.95h-0.95zM74.5 329h0.95v0.95h-0.95zM58 335.5h0.95v0.95h-0.95zM68 336.5h0.95v0.95h-0.95zM73 327.5h0.95v0.95h-0.95zM62 333h0.95v0.95h-0.95zM74 331.5h0.95v0.95h-0.95zM59.5 330.5h0.95v0.95h-0.95zM64 339h0.95v0.95h-0.95zM70 331.5h0.95v0.95h-0.95zM72.5 329.5h0.95v0.95h-0.95zM61 339.5h0.95v0.95h-0.95zM60.5 331h0.95v0.95h-0.95zM76 326h0.95v0.95h-0.95zM56 326h0.95v0.95h-0.95zM71 325.5h0.95v0.95h-0.95zM53.5 343.5h0.95v0.95h-0.95zM68.5 332.5h0.95v0.95h-0.95zM58 339h0.95v0.95h-0.95zM67.5 334h0.95v0.95h-0.95zM70.5 340h0.95v0.95h-0.95zM66 329.5h0.95v0.95h-0.95zM61.5 340.5h0.95v0.95h-0.95zM59.5 330h0.95v0.95h-0.95zM74 329.5h0.95v0.95h-0.95zM69.5 334.5h0.95v0.95h-0.95zM73.5 322.5h0.95v0.95h-0.95zM67.5 331.5h0.95v0.95h-0.95zM64.5 336.5h0.95v0.95h-0.95zM63 329.5h0.95v0.95h-0.95zM67.5 323.5h0.95v0.95h-0.95zM70.5 327.5h0.95v0.95h-0.95zM64 337h0.95v0.95h-0.95zM59.5 334h0.95v0.95h-0.95zM68.5 329.5h0.95v0.95h-0.95zM69 328h0.95v0.95h-0.95zM64.5 330.5h0.95v0.95h-0.95zM58 336.5h0.95v0.95h-0.95zM58.5 326h0.95v0.95h-0.95zM72.5 339.5h0.95v0.95h-0.95zM65 335.5h0.95v0.95h-0.95zM64.5 328.5h0.95v0.95h-0.95zM60 333h0.95v0.95h-0.95zM61 334h0.95v0.95h-0.95zM68 334.5h0.95v0.95h-0.95zM68 319h0.95v0.95h-0.95zM64 344h0.95v0.95h-0.95zM62 335.5h0.95v0.95h-0.95zM66.5 337h0.95v0.95h-0.95zM61 332h0.95v0.95h-0.95zM73 328.5h0.95v0.95h-0.95zM61.5 338.5h0.95v0.95h-0.95zM64.5 338h0.95v0.95h-0.95zM62.5 337h0.95v0.95h-0.95zM58.5 339h0.95v0.95h-0.95zM71 333h0.95v0.95h-0.95zM66 325h0.95v0.95h-0.95zM65.5 333.5h0.95v0.95h-0.95zM62.5 340h0.95v0.95h-0.95zM61 347.5h0.95v0.95h-0.95zM67.5 328h0.95v0.95h-0.95zM62.5 331h0.95v0.95h-0.95zM80.5 320.5h0.95v0.95h-0.95zM57.5 340h0.95v0.95h-0.95zM77 328.5h0.95v0.95h-0.95zM59 340.5h0.95v0.95h-0.95zM59 337h0.95v0.95h-0.95zM69.5 340.5h0.95v0.95h-0.95zM72.5 323.5h0.95v0.95h-0.95zM71 323h0.95v0.95h-0.95zM75.5 329h0.95v0.95h-0.95zM61 330.5h0.95v0.95h-0.95zM69 336h0.95v0.95h-0.95zM61.5 338h0.95v0.95h-0.95zM55.5 344.5h0.95v0.95h-0.95zM65.5 333h0.95v0.95h-0.95zM71.5 327h0.95v0.95h-0.95zM75 332.5h0.95v0.95h-0.95zM69 325h0.95v0.95h-0.95zM69 323.5h0.95v0.95h-0.95zM71 325h0.95v0.95h-0.95zM69 319h0.95v0.95h-0.95zM73.5 329.5h0.95v0.95h-0.95zM74 334h0.95v0.95h-0.95zM61 332.5h0.95v0.95h-0.95zM51 331.5h0.95v0.95h-0.95zM71.5 340h0.95v0.95h-0.95zM65 328.5h0.95v0.95h-0.95zM66 328.5h0.95v0.95h-0.95zM65 331.5h0.95v0.95h-0.95zM58 334h0.95v0.95h-0.95zM65.5 341h0.95v0.95h-0.95zM62.5 329.5h0.95v0.95h-0.95zM68.5 336h0.95v0.95h-0.95zM69.5 330h0.95v0.95h-0.95zM57.5 351.5h0.95v0.95h-0.95zM67 330h0.95v0.95h-0.95zM60.5 327.5h0.95v0.95h-0.95zM50 336h0.95v0.95h-0.95zM72.5 324.5h0.95v0.95h-0.95zM55 331.5h0.95v0.95h-0.95zM72.5 330.5h0.95v0.95h-0.95zM66 331.5h0.95v0.95h-0.95zM64.5 336.5h0.95v0.95h-0.95zM71.5 332h0.95v0.95h-0.95zM64 336h0.95v0.95h-0.95zM76 319h0.95v0.95h-0.95zM72.5 334.5h0.95v0.95h-0.95zM63 329h0.95v0.95h-0.95zM60.5 336h0.95v0.95h-0.95zM65 324h0.95v0.95h-0.95zM69.5 324.5h0.95v0.95h-0.95zM61.5 336.5h0.95v0.95h-0.95zM69 340.5h0.95v0.95h-0.95zM62 344h0.95v0.95h-0.95zM67.5 319h0.95v0.95h-0.95zM55 337.5h0.95v0.95h-0.95zM72 325.5h0.95v0.95h-0.95zM51.5 346.5h0.95v0.95h-0.95zM72 331h0.95v0.95h-0.95zM59 322.5h0.95v0.95h-0.95zM71 331h0.95v0.95h-0.95zM64.5 334h0.95v0.95h-0.95zM70 328.5h0.95v0.95h-0.95zM59.5 333h0.95v0.95h-0.95zM68 337.5h0.95v0.95h-0.95zM60 338.5h0.95v0.95h-0.95zM64.5 324.5h0.95v0.95h-0.95zM55.5 326h0.95v0.95h-0.95zM73.5 325.5h0.95v0.95h-0.95zM61 341.5h0.95v0.95h-0.95zM75 330.5h0.95v0.95h-0.95zM60 334.5h0.95v0.95h-0.95zM69 322.5h0.95v0.95h-0.95zM68.5 323.5h0.95v0.95h-0.95zM73 331h0.95v0.95h-0.95zM70.5 338h0.95v0.95h-0.95zM65 327.5h0.95v0.95h-0.95zM67.5 328.5h0.95v0.95h-0.95zM56 337.5h0.95v0.95h-0.95zM66 330.5h0.95v0.95h-0.95zM74 319h0.95v0.95h-0.95zM60.5 341.5h0.95v0.95h-0.95zM71 327.5h0.95v0.95h-0.95zM56.5 326h0.95v0.95h-0.95zM66.5 335h0.95v0.95h-0.95zM56 335.5h0.95v0.95h-0.95zM59.5 338h0.95v0.95h-0.95zM69 341h0.95v0.95h-0.95zM64.5 338.5h0.95v0.95h-0.95zM68.5 330.5h0.95v0.95h-0.95zM65.5 332.5h0.95v0.95h-0.95zM54.5 335h0.95v0.95h-0.95zM69.5 325.5h0.95v0.95h-0.95zM68 333.5h0.95v0.95h-0.95zM72.5 325.5h0.95v0.95h-0.95zM65 330h0.95v0.95h-0.95zM63.5 333.5h0.95v0.95h-0.95zM60 341.5h0.95v0.95h-0.95zM71.5 322h0.95v0.95h-0.95zM68 326h0.95v0.95h-0.95zM67.5 337.5h0.95v0.95h-0.95zM60 334.5h0.95v0.95h-0.95zM62.5 338.5h0.95v0.95h-0.95zM79 322.5h0.95v0.95h-0.95zM60 329h0.95v0.95h-0.95zM71.5 330.5h0.95v0.95h-0.95zM63.5 339h0.95v0.95h-0.95zM53 340h0.95v0.95h-0.95zM62.5 335.5h0.95v0.95h-0.95zM57 326.5h0.95v0.95h-0.95zM73 322.5h0.95v0.95h-0.95zM67.5 331.5h0.95v0.95h-0.95zM69.5 337.5h0.95v0.95h-0.95zM63.5 332h0.95v0.95h-0.95zM62 337h0.95v0.95h-0.95zM60.5 342h0.95v0.95h-0.95zM55 337h0.95v0.95h-0.95zM53.5 339.5h0.95v0.95h-0.95zM73.5 324.5h0.95v0.95h-0.95zM65.5 333h0.95v0.95h-0.95zM76 327h0.95v0.95h-0.95zM64.5 326h0.95v0.95h-0.95zM60 338h0.95v0.95h-0.95zM76.5 336.5h0.95v0.95h-0.95zM67 323.5h0.95v0.95h-0.95zM74 332h0.95v0.95h-0.95zM58.5 331h0.95v0.95h-0.95zM66.5 334h0.95v0.95h-0.95zM55.5 333.5h0.95v0.95h-0.95zM42 342.5h0.95v0.95h-0.95zM68 325.5h0.95v0.95h-0.95zM55 339h0.95v0.95h-0.95zM66 332h0.95v0.95h-0.95zM70.5 339h0.95v0.95h-0.95zM63.5 329.5h0.95v0.95h-0.95zM71.5 331h0.95v0.95h-0.95zM67 319.5h0.95v0.95h-0.95zM62.5 342.5h0.95v0.95h-0.95zM60 339h0.95v0.95h-0.95zM71 330h0.95v0.95h-0.95zM67 331.5h0.95v0.95h-0.95zM65 333h0.95v0.95h-0.95zM70 324h0.95v0.95h-0.95zM64.5 336h0.95v0.95h-0.95zM70 334h0.95v0.95h-0.95zM67.5 332h0.95v0.95h-0.95zM79.5 330.5h0.95v0.95h-0.95zM52.5 336.5h0.95v0.95h-0.95zM70.5 329.5h0.95v0.95h-0.95zM63.5 330.5h0.95v0.95h-0.95zM71.5 331h0.95v0.95h-0.95zM71 333.5h0.95v0.95h-0.95zM61 337h0.95v0.95h-0.95zM61 335h0.95v0.95h-0.95zM56 328.5h0.95v0.95h-0.95zM58 335h0.95v0.95h-0.95zM68.5 341h0.95v0.95h-0.95zM69 324h0.95v0.95h-0.95zM69 333h0.95v0.95h-0.95zM64.5 340h0.95v0.95h-0.95zM71.5 324h0.95v0.95h-0.95zM67.5 338.5h0.95v0.95h-0.95zM67 337h0.95v0.95h-0.95zM61.5 341h0.95v0.95h-0.95zM60.5 342.5h0.95v0.95h-0.95zM51 348h0.95v0.95h-0.95zM58.5 333.5h0.95v0.95h-0.95zM58 330.5h0.95v0.95h-0.95zM63.5 335h0.95v0.95h-0.95zM67 334h0.95v0.95h-0.95zM61 327.5h0.95v0.95h-0.95zM69.5 326.5h0.95v0.95h-0.95zM67.5 336.5h0.95v0.95h-0.95zM57.5 333.5h0.95v0.95h-0.95zM59.5 338h0.95v0.95h-0.95zM80.5 316h0.95v0.95h-0.95zM73.5 329.5h0.95v0.95h-0.95zM68.5 333h0.95v0.95h-0.95zM61.5 335.5h0.95v0.95h-0.95zM54 344h0.95v0.95h-0.95zM59 332.5h0.95v0.95h-0.95zM53 332.5h0.95v0.95h-0.95zM60 333h0.95v0.95h-0.95zM69.5 336h0.95v0.95h-0.95zM71.5 339h0.95v0.95h-0.95zM60.5 341.5h0.95v0.95h-0.95zM68 341h0.95v0.95h-0.95zM67.5 329h0.95v0.95h-0.95zM71 325h0.95v0.95h-0.95zM70 325.5h0.95v0.95h-0.95zM82 320h0.95v0.95h-0.95zM71 333h0.95v0.95h-0.95zM52.5 336h0.95v0.95h-0.95zM64.5 337.5h0.95v0.95h-0.95zM77.5 335.5h0.95v0.95h-0.95zM72 322.5h0.95v0.95h-0.95zM73 326h0.95v0.95h-0.95zM61 326.5h0.95v0.95h-0.95zM75 326h0.95v0.95h-0.95zM70.5 332h0.95v0.95h-0.95zM65 337.5h0.95v0.95h-0.95zM60.5 335h0.95v0.95h-0.95zM67 329h0.95v0.95h-0.95zM65 323h0.95v0.95h-0.95zM68 323h0.95v0.95h-0.95zM61.5 330.5h0.95v0.95h-0.95zM61 338h0.95v0.95h-0.95zM73 327.5h0.95v0.95h-0.95zM61.5 336h0.95v0.95h-0.95zM68 325h0.95v0.95h-0.95zM59.5 338h0.95v0.95h-0.95zM79.5 318.5h0.95v0.95h-0.95zM56.5 332h0.95v0.95h-0.95zM66.5 327.5h0.95v0.95h-0.95zM71 325h0.95v0.95h-0.95zM66.5 335.5h0.95v0.95h-0.95zM71.5 323.5h0.95v0.95h-0.95zM67 335h0.95v0.95h-0.95zM71.5 326.5h0.95v0.95h-0.95zM71 330h0.95v0.95h-0.95zM72 334h0.95v0.95h-0.95zM48.5 353.5h0.95v0.95h-0.95zM61.5 335h0.95v0.95h-0.95zM58.5 323.5h0.95v0.95h-0.95zM67 332.5h0.95v0.95h-0.95zM62 341.5h0.95v0.95h-0.95zM64 339.5h0.95v0.95h-0.95zM55.5 339h0.95v0.95h-0.95zM68 327.5h0.95v0.95h-0.95zM63.5 337.5h0.95v0.95h-0.95zM70 332h0.95v0.95h-0.95zM68.5 335.5h0.95v0.95h-0.95zM72.5 324h0.95v0.95h-0.95zM59.5 337.5h0.95v0.95h-0.95zM74 332h0.95v0.95h-0.95zM73 323h0.95v0.95h-0.95zM57.5 343h0.95v0.95h-0.95zM69.5 333.5h0.95v0.95h-0.95zM70 340h0.95v0.95h-0.95zM68 334h0.95v0.95h-0.95zM54.5 336.5h0.95v0.95h-0.95zM64 327.5h0.95v0.95h-0.95zM80 332.5h0.95v0.95h-0.95zM64.5 332h0.95v0.95h-0.95zM68 335h0.95v0.95h-0.95zM70.5 337h0.95v0.95h-0.95zM51.5 332h0.95v0.95h-0.95zM70 333h0.95v0.95h-0.95zM76 329.5h0.95v0.95h-0.95zM63 327.5h0.95v0.95h-0.95zM63.5 342h0.95v0.95h-0.95zM66.5 332h0.95v0.95h-0.95zM70.5 333h0.95v0.95h-0.95zM74 332h0.95v0.95h-0.95zM61.5 333h0.95v0.95h-0.95zM67 335h0.95v0.95h-0.95zM67.5 324.5h0.95v0.95h-0.95zM63.5 340.5h0.95v0.95h-0.95zM72.5 322h0.95v0.95h-0.95zM70 333h0.95v0.95h-0.95zM62.5 338h0.95v0.95h-0.95zM64.5 330.5h0.95v0.95h-0.95zM61 344.5h0.95v0.95h-0.95zM75.5 319.5h0.95v0.95h-0.95zM65 324h0.95v0.95h-0.95zM62.5 332h0.95v0.95h-0.95zM66 324.5h0.95v0.95h-0.95zM61 331h0.95v0.95h-0.95zM72 329h0.95v0.95h-0.95zM67.5 334h0.95v0.95h-0.95zM70.5 326h0.95v0.95h-0.95zM71.5 319.5h0.95v0.95h-0.95zM79.5 329.5h0.95v0.95h-0.95zM80.5 330h0.95v0.95h-0.95zM75 338h0.95v0.95h-0.95zM65.5 327.5h0.95v0.95h-0.95zM61.5 332.5h0.95v0.95h-0.95zM61.5 333h0.95v0.95h-0.95zM70 331.5h0.95v0.95h-0.95zM64.5 324.5h0.95v0.95h-0.95zM60.5 334.5h0.95v0.95h-0.95zM54.5 326h0.95v0.95h-0.95zM60.5 338h0.95v0.95h-0.95zM55.5 335.5h0.95v0.95h-0.95zM58 329.5h0.95v0.95h-0.95zM66.5 329h0.95v0.95h-0.95zM68.5 328.5h0.95v0.95h-0.95zM78 327.5h0.95v0.95h-0.95zM60.5 336.5h0.95v0.95h-0.95zM76.5 330h0.95v0.95h-0.95zM62 334.5h0.95v0.95h-0.95zM68 331.5h0.95v0.95h-0.95zM74.5 333.5h0.95v0.95h-0.95zM70.5 330.5h0.95v0.95h-0.95zM70.5 332.5h0.95v0.95h-0.95zM67.5 333h0.95v0.95h-0.95zM68 344.5h0.95v0.95h-0.95zM69 329h0.95v0.95h-0.95zM59.5 332.5h0.95v0.95h-0.95zM68 335h0.95v0.95h-0.95zM65.5 333.5h0.95v0.95h-0.95zM66 333h0.95v0.95h-0.95zM78.5 331.5h0.95v0.95h-0.95zM65 333.5h0.95v0.95h-0.95zM68 332.5h0.95v0.95h-0.95zM61.5 335.5h0.95v0.95h-0.95zM70 326h0.95v0.95h-0.95zM70.5 335h0.95v0.95h-0.95zM66 325h0.95v0.95h-0.95zM66.5 339h0.95v0.95h-0.95zM72.5 324.5h0.95v0.95h-0.95zM65 324.5h0.95v0.95h-0.95zM60.5 334.5h0.95v0.95h-0.95zM58.5 335h0.95v0.95h-0.95zM63.5 339h0.95v0.95h-0.95zM61.5 329.5h0.95v0.95h-0.95zM65.5 331.5h0.95v0.95h-0.95zM68 324h0.95v0.95h-0.95zM63 338.5h0.95v0.95h-0.95zM65.5 320h0.95v0.95h-0.95zM66.5 331h0.95v0.95h-0.95zM72.5 331.5h0.95v0.95h-0.95zM64 330.5h0.95v0.95h-0.95zM67.5 331h0.95v0.95h-0.95zM64 338h0.95v0.95h-0.95zM61.5 328.5h0.95v0.95h-0.95zM64 326h0.95v0.95h-0.95zM68.5 334h0.95v0.95h-0.95zM61.5 333.5h0.95v0.95h-0.95zM58 333h0.95v0.95h-0.95zM62.5 328.5h0.95v0.95h-0.95zM76 317.5h0.95v0.95h-0.95zM63 330.5h0.95v0.95h-0.95zM73 324h0.95v0.95h-0.95zM70.5 330.5h0.95v0.95h-0.95zM65 328.5h0.95v0.95h-0.95zM71 328.5h0.95v0.95h-0.95zM58.5 335.5h0.95v0.95h-0.95zM65.5 327h0.95v0.95h-0.95zM60.5 325.5h0.95v0.95h-0.95zM63 331.5h0.95v0.95h-0.95zM58.5 330h0.95v0.95h-0.95zM74.5 326.5h0.95v0.95h-0.95zM62 330h0.95v0.95h-0.95zM65.5 323.5h0.95v0.95h-0.95zM66.5 332h0.95v0.95h-0.95zM63 327.5h0.95v0.95h-0.95zM61.5 334h0.95v0.95h-0.95zM63 333.5h0.95v0.95h-0.95zM62 340.5h0.95v0.95h-0.95zM64.5 320.5h0.95v0.95h-0.95zM77.5 318h0.95v0.95h-0.95zM77.5 326h0.95v0.95h-0.95zM66.5 333.5h0.95v0.95h-0.95zM56 334.5h0.95v0.95h-0.95zM72 328.5h0.95v0.95h-0.95zM63.5 335.5h0.95v0.95h-0.95zM73 321.5h0.95v0.95h-0.95zM79 312h0.95v0.95h-0.95zM64 329.5h0.95v0.95h-0.95zM60.5 332h0.95v0.95h-0.95zM53.5 335.5h0.95v0.95h-0.95zM73 324.5h0.95v0.95h-0.95zM60 329.5h0.95v0.95h-0.95zM60.5 343.5h0.95v0.95h-0.95zM44.5 347h0.95v0.95h-0.95zM67 333h0.95v0.95h-0.95zM69 341h0.95v0.95h-0.95zM59.5 334.5h0.95v0.95h-0.95zM67.5 334h0.95v0.95h-0.95zM61.5 334.5h0.95v0.95h-0.95zM71.5 320h0.95v0.95h-0.95zM64.5 327h0.95v0.95h-0.95zM64.5 331.5h0.95v0.95h-0.95zM65.5 326.5h0.95v0.95h-0.95zM64.5 334.5h0.95v0.95h-0.95zM72 321.5h0.95v0.95h-0.95zM80.5 321h0.95v0.95h-0.95zM69.5 343.5h0.95v0.95h-0.95zM62 332h0.95v0.95h-0.95zM71 327h0.95v0.95h-0.95zM61 325.5h0.95v0.95h-0.95zM66.5 325.5h0.95v0.95h-0.95zM65 327.5h0.95v0.95h-0.95zM55.5 338.5h0.95v0.95h-0.95zM70.5 327.5h0.95v0.95h-0.95zM60 343.5h0.95v0.95h-0.95zM70 331h0.95v0.95h-0.95zM67 336h0.95v0.95h-0.95zM80 314.5h0.95v0.95h-0.95zM70.5 333.5h0.95v0.95h-0.95zM60 339h0.95v0.95h-0.95zM64.5 330.5h0.95v0.95h-0.95zM67 335.5h0.95v0.95h-0.95zM53 341.5h0.95v0.95h-0.95zM52 340.5h0.95v0.95h-0.95zM73.5 320.5h0.95v0.95h-0.95zM65.5 333h0.95v0.95h-0.95zM66.5 323.5h0.95v0.95h-0.95zM65.5 335h0.95v0.95h-0.95zM69 329.5h0.95v0.95h-0.95zM63 320.5h0.95v0.95h-0.95zM63.5 320.5h0.95v0.95h-0.95zM63 320h0.95v0.95h-0.95zM74.5 335h0.95v0.95h-0.95zM54.5 324.5h0.95v0.95h-0.95zM62.5 327.5h0.95v0.95h-0.95zM66.5 329.5h0.95v0.95h-0.95zM56.5 339h0.95v0.95h-0.95zM71 329.5h0.95v0.95h-0.95zM55 354.5h0.95v0.95h-0.95zM69.5 327.5h0.95v0.95h-0.95zM69.5 330h0.95v0.95h-0.95zM66.5 337h0.95v0.95h-0.95zM67.5 335.5h0.95v0.95h-0.95zM72 331h0.95v0.95h-0.95zM75 319h0.95v0.95h-0.95zM61.5 334.5h0.95v0.95h-0.95zM72 325.5h0.95v0.95h-0.95zM60 323h0.95v0.95h-0.95zM59.5 326.5h0.95v0.95h-0.95zM61 332h0.95v0.95h-0.95zM58 336h0.95v0.95h-0.95zM72 334.5h0.95v0.95h-0.95zM65 332.5h0.95v0.95h-0.95zM64.5 336h0.95v0.95h-0.95zM55.5 334h0.95v0.95h-0.95zM52.5 338.5h0.95v0.95h-0.95zM66 335h0.95v0.95h-0.95zM62.5 331.5h0.95v0.95h-0.95zM62.5 336.5h0.95v0.95h-0.95zM73 326.5h0.95v0.95h-0.95zM75 323.5h0.95v0.95h-0.95zM74.5 337h0.95v0.95h-0.95zM56.5 332.5h0.95v0.95h-0.95zM63 334h0.95v0.95h-0.95zM64.5 327.5h0.95v0.95h-0.95zM70.5 325h0.95v0.95h-0.95zM72.5 329.5h0.95v0.95h-0.95zM65 333h0.95v0.95h-0.95zM73 342h0.95v0.95h-0.95zM71.5 327.5h0.95v0.95h-0.95zM78.5 330h0.95v0.95h-0.95zM68.5 337.5h0.95v0.95h-0.95zM63.5 341h0.95v0.95h-0.95zM67 331h0.95v0.95h-0.95zM72 329h0.95v0.95h-0.95zM66 336.5h0.95v0.95h-0.95zM76.5 325h0.95v0.95h-0.95zM71.5 332.5h0.95v0.95h-0.95zM56 333.5h0.95v0.95h-0.95zM59 333h0.95v0.95h-0.95zM62 327.5h0.95v0.95h-0.95zM65 328.5h0.95v0.95h-0.95zM66 335h0.95v0.95h-0.95zM64 336h0.95v0.95h-0.95zM69.5 328.5h0.95v0.95h-0.95zM65.5 331.5h0.95v0.95h-0.95zM69.5 336h0.95v0.95h-0.95zM78.5 319h0.95v0.95h-0.95zM67 340.5h0.95v0.95h-0.95zM60.5 335h0.95v0.95h-0.95zM58.5 337.5h0.95v0.95h-0.95zM74.5 329h0.95v0.95h-0.95zM62 327.5h0.95v0.95h-0.95zM65 336h0.95v0.95h-0.95zM60 344.5h0.95v0.95h-0.95zM57 335.5h0.95v0.95h-0.95zM54.5 340h0.95v0.95h-0.95zM60 329.5h0.95v0.95h-0.95zM64 338.5h0.95v0.95h-0.95zM59 336h0.95v0.95h-0.95zM64 325h0.95v0.95h-0.95zM62.5 328.5h0.95v0.95h-0.95zM64.5 330.5h0.95v0.95h-0.95zM62 330.5h0.95v0.95h-0.95zM77 334.5h0.95v0.95h-0.95zM74 335.5h0.95v0.95h-0.95zM59 331.5h0.95v0.95h-0.95zM72.5 334h0.95v0.95h-0.95zM77.5 322.5h0.95v0.95h-0.95zM67.5 335.5h0.95v0.95h-0.95zM72 336h0.95v0.95h-0.95zM66 329h0.95v0.95h-0.95zM58 337.5h0.95v0.95h-0.95zM64 344h0.95v0.95h-0.95zM70 323.5h0.95v0.95h-0.95zM68.5 335.5h0.95v0.95h-0.95zM58 336h0.95v0.95h-0.95zM67.5 335.5h0.95v0.95h-0.95zM73.5 332.5h0.95v0.95h-0.95zM64 328h0.95v0.95h-0.95zM67.5 328h0.95v0.95h-0.95zM66 325.5h0.95v0.95h-0.95zM69.5 332h0.95v0.95h-0.95zM70.5 336h0.95v0.95h-0.95zM73 321h0.95v0.95h-0.95zM61.5 338h0.95v0.95h-0.95zM69 330.5h0.95v0.95h-0.95zM70.5 329h0.95v0.95h-0.95zM62.5 336.5h0.95v0.95h-0.95zM66.5 335.5h0.95v0.95h-0.95zM62 340.5h0.95v0.95h-0.95zM67.5 333h0.95v0.95h-0.95zM65.5 334h0.95v0.95h-0.95zM63 331.5h0.95v0.95h-0.95zM72 328.5h0.95v0.95h-0.95zM62.5 334.5h0.95v0.95h-0.95zM67 329h0.95v0.95h-0.95zM51 335h0.95v0.95h-0.95zM76 328h0.95v0.95h-0.95zM69.5 328h0.95v0.95h-0.95zM61.5 329h0.95v0.95h-0.95zM62.5 338.5h0.95v0.95h-0.95zM66 323h0.95v0.95h-0.95zM59.5 334h0.95v0.95h-0.95zM68 327.5h0.95v0.95h-0.95zM67.5 329h0.95v0.95h-0.95zM66 336h0.95v0.95h-0.95zM70.5 334h0.95v0.95h-0.95zM69 335h0.95v0.95h-0.95zM74 328h0.95v0.95h-0.95zM73 319h0.95v0.95h-0.95zM69.5 326.5h0.95v0.95h-0.95zM67.5 325.5h0.95v0.95h-0.95zM67.5 326.5h0.95v0.95h-0.95zM65.5 334.5h0.95v0.95h-0.95zM62 336.5h0.95v0.95h-0.95zM57 331.5h0.95v0.95h-0.95zM72 331.5h0.95v0.95h-0.95zM51.5 332h0.95v0.95h-0.95zM68 325h0.95v0.95h-0.95zM66.5 330.5h0.95v0.95h-0.95zM80 327.5h0.95v0.95h-0.95zM64 329h0.95v0.95h-0.95zM58 332h0.95v0.95h-0.95zM67.5 337.5h0.95v0.95h-0.95zM53.5 338.5h0.95v0.95h-0.95zM70.5 333.5h0.95v0.95h-0.95zM73 319h0.95v0.95h-0.95zM60.5 332.5h0.95v0.95h-0.95zM51.5 334h0.95v0.95h-0.95zM63.5 334h0.95v0.95h-0.95zM67 329.5h0.95v0.95h-0.95zM64 338.5h0.95v0.95h-0.95zM54.5 348h0.95v0.95h-0.95zM71 330h0.95v0.95h-0.95zM66 336h0.95v0.95h-0.95zM61 335.5h0.95v0.95h-0.95zM74 326.5h0.95v0.95h-0.95zM61 332h0.95v0.95h-0.95zM63.5 323.5h0.95v0.95h-0.95zM80.5 335.5h0.95v0.95h-0.95zM68.5 322.5h0.95v0.95h-0.95zM57 331.5h0.95v0.95h-0.95zM73.5 331h0.95v0.95h-0.95zM51 340h0.95v0.95h-0.95zM68 336.5h0.95v0.95h-0.95zM62 324.5h0.95v0.95h-0.95zM71.5 328h0.95v0.95h-0.95zM75 324h0.95v0.95h-0.95zM64 342.5h0.95v0.95h-0.95zM64 342.5h0.95v0.95h-0.95zM52 333.5h0.95v0.95h-0.95zM66 334h0.95v0.95h-0.95zM67.5 331.5h0.95v0.95h-0.95zM69 326h0.95v0.95h-0.95zM53.5 333.5h0.95v0.95h-0.95zM71 328h0.95v0.95h-0.95zM61.5 331.5h0.95v0.95h-0.95zM66 324h0.95v0.95h-0.95zM61 330h0.95v0.95h-0.95zM61 337h0.95v0.95h-0.95zM76.5 334.5h0.95v0.95h-0.95zM72.5 342.5h0.95v0.95h-0.95zM46 335.5h0.95v0.95h-0.95zM54 349.5h0.95v0.95h-0.95zM63 339.5h0.95v0.95h-0.95zM66 332.5h0.95v0.95h-0.95zM66.5 329h0.95v0.95h-0.95zM60 342h0.95v0.95h-0.95zM71 328.5h0.95v0.95h-0.95zM67 339h0.95v0.95h-0.95zM76.5 327h0.95v0.95h-0.95zM71 332.5h0.95v0.95h-0.95zM65 337h0.95v0.95h-0.95zM62 331h0.95v0.95h-0.95zM60 331.5h0.95v0.95h-0.95zM64 331h0.95v0.95h-0.95zM59 340h0.95v0.95h-0.95zM63.5 339h0.95v0.95h-0.95zM79 325.5h0.95v0.95h-0.95zM65.5 319.5h0.95v0.95h-0.95zM67 327h0.95v0.95h-0.95zM67 333h0.95v0.95h-0.95zM76 326.5h0.95v0.95h-0.95zM65 331h0.95v0.95h-0.95zM72 332h0.95v0.95h-0.95zM57.5 339.5h0.95v0.95h-0.95zM71.5 339h0.95v0.95h-0.95zM69 334h0.95v0.95h-0.95zM71.5 324.5h0.95v0.95h-0.95zM74.5 324.5h0.95v0.95h-0.95zM72.5 330h0.95v0.95h-0.95zM63 336h0.95v0.95h-0.95zM69.5 333h0.95v0.95h-0.95zM65.5 327h0.95v0.95h-0.95zM66.5 328.5h0.95v0.95h-0.95zM64.5 328.5h0.95v0.95h-0.95zM77 330.5h0.95v0.95h-0.95zM63.5 325h0.95v0.95h-0.95zM66.5 333h0.95v0.95h-0.95zM65 328h0.95v0.95h-0.95zM66.5 336.5h0.95v0.95h-0.95zM71 332h0.95v0.95h-0.95zM56 333.5h0.95v0.95h-0.95zM79 322.5h0.95v0.95h-0.95zM60 331h0.95v0.95h-0.95zM57 334.5h0.95v0.95h-0.95zM62.5 332h0.95v0.95h-0.95zM77.5 326h0.95v0.95h-0.95zM64.5 325h0.95v0.95h-0.95zM74 324.5h0.95v0.95h-0.95zM57 343.5h0.95v0.95h-0.95zM60 332.5h0.95v0.95h-0.95zM68.5 333.5h0.95v0.95h-0.95zM62 333h0.95v0.95h-0.95zM73 335.5h0.95v0.95h-0.95zM59.5 341h0.95v0.95h-0.95zM55.5 335h0.95v0.95h-0.95zM60.5 331.5h0.95v0.95h-0.95zM63.5 330.5h0.95v0.95h-0.95zM74 331h0.95v0.95h-0.95zM69.5 331.5h0.95v0.95h-0.95zM69 336.5h0.95v0.95h-0.95zM73.5 335h0.95v0.95h-0.95zM59.5 338.5h0.95v0.95h-0.95zM64.5 320h0.95v0.95h-0.95zM88 315.5h0.95v0.95h-0.95zM81 327.5h0.95v0.95h-0.95zM64.5 316.5h0.95v0.95h-0.95zM67.5 334.5h0.95v0.95h-0.95zM75 332h0.95v0.95h-0.95zM68.5 331.5h0.95v0.95h-0.95zM75.5 319h0.95v0.95h-0.95zM69.5 324h0.95v0.95h-0.95zM75 325h0.95v0.95h-0.95zM96.5 318.5h0.95v0.95h-0.95zM80.5 322h0.95v0.95h-0.95zM70 336.5h0.95v0.95h-0.95zM61 327h0.95v0.95h-0.95zM69 338.5h0.95v0.95h-0.95zM54 345h0.95v0.95h-0.95zM69 337h0.95v0.95h-0.95zM60.5 331h0.95v0.95h-0.95zM62.5 328.5h0.95v0.95h-0.95zM79 325.5h0.95v0.95h-0.95zM66.5 341h0.95v0.95h-0.95zM69 322.5h0.95v0.95h-0.95zM73.5 325.5h0.95v0.95h-0.95zM75 327.5h0.95v0.95h-0.95zM74.5 328h0.95v0.95h-0.95zM56 342h0.95v0.95h-0.95zM64 328.5h0.95v0.95h-0.95zM68.5 322.5h0.95v0.95h-0.95zM92.5 310h0.95v0.95h-0.95zM76 322h0.95v0.95h-0.95zM68.5 327h0.95v0.95h-0.95zM68 352.5h0.95v0.95h-0.95zM57.5 333h0.95v0.95h-0.95zM68.5 314h0.95v0.95h-0.95zM81.5 323.5h0.95v0.95h-0.95zM68.5 329h0.95v0.95h-0.95zM63.5 337.5h0.95v0.95h-0.95zM61 339.5h0.95v0.95h-0.95zM42.5 355.5h0.95v0.95h-0.95zM72.5 319h0.95v0.95h-0.95zM66.5 313h0.95v0.95h-0.95zM82.5 317h0.95v0.95h-0.95zM79 321h0.95v0.95h-0.95zM65 337h0.95v0.95h-0.95zM53 334.5h0.95v0.95h-0.95zM60 328h0.95v0.95h-0.95zM60.5 317h0.95v0.95h-0.95zM65.5 316h0.95v0.95h-0.95zM63 320h0.95v0.95h-0.95zM71.5 327.5h0.95v0.95h-0.95zM59.5 347.5h0.95v0.95h-0.95zM80.5 329h0.95v0.95h-0.95zM75 335h0.95v0.95h-0.95zM77 324.5h0.95v0.95h-0.95zM67.5 340.5h0.95v0.95h-0.95zM81.5 323.5h0.95v0.95h-0.95zM74 330.5h0.95v0.95h-0.95zM58.5 342h0.95v0.95h-0.95zM80.5 331.5h0.95v0.95h-0.95zM64.5 335.5h0.95v0.95h-0.95zM74 320h0.95v0.95h-0.95zM46.5 345.5h0.95v0.95h-0.95zM51 344.5h0.95v0.95h-0.95zM77 335h0.95v0.95h-0.95zM72.5 320h0.95v0.95h-0.95zM60.5 341h0.95v0.95h-0.95zM69 327.5h0.95v0.95h-0.95zM72.5 317h0.95v0.95h-0.95zM65 334.5h0.95v0.95h-0.95zM72 317h0.95v0.95h-0.95zM48 340.5h0.95v0.95h-0.95zM61 332h0.95v0.95h-0.95zM79.5 315.5h0.95v0.95h-0.95zM85 325h0.95v0.95h-0.95zM60 327h0.95v0.95h-0.95zM70 321.5h0.95v0.95h-0.95zM71.5 332.5h0.95v0.95h-0.95zM66.5 329.5h0.95v0.95h-0.95zM68 331.5h0.95v0.95h-0.95zM80.5 317.5h0.95v0.95h-0.95zM63.5 327h0.95v0.95h-0.95zM64 334.5h0.95v0.95h-0.95zM79 321h0.95v0.95h-0.95zM68.5 326h0.95v0.95h-0.95zM50 330.5h0.95v0.95h-0.95zM56 332.5h0.95v0.95h-0.95zM66 326.5h0.95v0.95h-0.95zM68 318.5h0.95v0.95h-0.95zM60 345.5h0.95v0.95h-0.95zM61.5 342h0.95v0.95h-0.95zM58 335.5h0.95v0.95h-0.95zM69 333h0.95v0.95h-0.95zM83.5 325h0.95v0.95h-0.95zM75.5 323.5h0.95v0.95h-0.95zM53 340.5h0.95v0.95h-0.95zM64.5 340h0.95v0.95h-0.95zM80 310.5h0.95v0.95h-0.95zM52.5 335h0.95v0.95h-0.95zM62.5 320.5h0.95v0.95h-0.95zM54 339.5h0.95v0.95h-0.95zM71.5 322h0.95v0.95h-0.95zM75.5 313h0.95v0.95h-0.95zM75 315h0.95v0.95h-0.95zM62 330.5h0.95v0.95h-0.95zM76 320h0.95v0.95h-0.95zM65.5 331h0.95v0.95h-0.95zM86 319.5h0.95v0.95h-0.95zM70.5 341h0.95v0.95h-0.95zM69.5 339h0.95v0.95h-0.95zM73.5 322h0.95v0.95h-0.95zM67.5 333.5h0.95v0.95h-0.95zM63 323h0.95v0.95h-0.95zM57.5 329h0.95v0.95h-0.95zM51 346.5h0.95v0.95h-0.95zM77 337.5h0.95v0.95h-0.95zM73 339.5h0.95v0.95h-0.95zM75 310h0.95v0.95h-0.95zM76.5 316.5h0.95v0.95h-0.95zM57 330h0.95v0.95h-0.95zM84.5 327h0.95v0.95h-0.95zM71.5 326.5h0.95v0.95h-0.95zM82.5 328.5h0.95v0.95h-0.95zM68.5 327.5h0.95v0.95h-0.95zM50 336h0.95v0.95h-0.95zM82.5 329.5h0.95v0.95h-0.95zM54 346h0.95v0.95h-0.95zM63.5 337.5h0.95v0.95h-0.95zM59 337.5h0.95v0.95h-0.95zM73.5 333h0.95v0.95h-0.95zM73 332h0.95v0.95h-0.95zM86.5 303h0.95v0.95h-0.95zM66 328h0.95v0.95h-0.95zM61 349h0.95v0.95h-0.95zM77 326h0.95v0.95h-0.95zM60 346h0.95v0.95h-0.95zM50 329.5h0.95v0.95h-0.95zM63.5 335.5h0.95v0.95h-0.95zM78 327h0.95v0.95h-0.95zM53.5 343h0.95v0.95h-0.95zM69.5 347h0.95v0.95h-0.95zM75 323h0.95v0.95h-0.95zM57 330.5h0.95v0.95h-0.95zM67.5 334h0.95v0.95h-0.95zM80.5 327h0.95v0.95h-0.95zM77.5 326h0.95v0.95h-0.95zM67.5 324.5h0.95v0.95h-0.95zM63 342h0.95v0.95h-0.95zM68 335.5h0.95v0.95h-0.95zM69.5 336h0.95v0.95h-0.95zM65.5 336.5h0.95v0.95h-0.95zM69 327h0.95v0.95h-0.95zM74 329.5h0.95v0.95h-0.95zM58.5 336h0.95v0.95h-0.95zM69 325h0.95v0.95h-0.95zM58 337h0.95v0.95h-0.95zM59 333h0.95v0.95h-0.95zM52 335.5h0.95v0.95h-0.95zM75.5 322.5h0.95v0.95h-0.95zM71 318h0.95v0.95h-0.95zM62.5 338h0.95v0.95h-0.95zM65 337.5h0.95v0.95h-0.95zM53.5 333.5h0.95v0.95h-0.95zM49 334.5h0.95v0.95h-0.95zM67 323h0.95v0.95h-0.95zM62.5 322h0.95v0.95h-0.95zM69.5 323.5h0.95v0.95h-0.95zM66.5 329h0.95v0.95h-0.95zM70.5 337h0.95v0.95h-0.95zM46 342h0.95v0.95h-0.95zM69.5 317.5h0.95v0.95h-0.95zM70 335h0.95v0.95h-0.95zM71.5 333.5h0.95v0.95h-0.95zM77 327.5h0.95v0.95h-0.95zM83.5 328h0.95v0.95h-0.95zM42 340h0.95v0.95h-0.95zM76 338h0.95v0.95h-0.95zM57.5 346h0.95v0.95h-0.95zM94.5 308.5h0.95v0.95h-0.95zM69.5 332.5h0.95v0.95h-0.95zM59.5 348h0.95v0.95h-0.95zM70 329h0.95v0.95h-0.95zM73.5 318.5h0.95v0.95h-0.95zM53.5 334.5h0.95v0.95h-0.95zM64.5 335.5h0.95v0.95h-0.95zM59.5 337h0.95v0.95h-0.95zM69 329h0.95v0.95h-0.95zM86.5 321.5h0.95v0.95h-0.95zM59.5 339.5h0.95v0.95h-0.95zM61.5 336h0.95v0.95h-0.95zM63.5 347h0.95v0.95h-0.95zM53.5 340.5h0.95v0.95h-0.95zM64.5 339.5h0.95v0.95h-0.95zM72 325h0.95v0.95h-0.95zM81.5 335h0.95v0.95h-0.95zM93.5 308.5h0.95v0.95h-0.95zM62 329h0.95v0.95h-0.95zM69 322.5h0.95v0.95h-0.95zM85.5 316h0.95v0.95h-0.95zM66.5 334.5h0.95v0.95h-0.95zM73 325.5h0.95v0.95h-0.95zM67.5 325h0.95v0.95h-0.95zM61 339h0.95v0.95h-0.95zM70.5 336.5h0.95v0.95h-0.95zM57 333.5h0.95v0.95h-0.95zM59.5 340h0.95v0.95h-0.95zM73.5 339.5h0.95v0.95h-0.95zM59 331h0.95v0.95h-0.95zM56 330.5h0.95v0.95h-0.95zM67.5 335h0.95v0.95h-0.95zM62 329.5h0.95v0.95h-0.95zM67.5 334h0.95v0.95h-0.95zM62.5 331.5h0.95v0.95h-0.95zM70.5 328.5h0.95v0.95h-0.95zM73 342.5h0.95v0.95h-0.95zM55 340h0.95v0.95h-0.95zM69 332.5h0.95v0.95h-0.95zM54 330h0.95v0.95h-0.95zM61.5 337.5h0.95v0.95h-0.95zM54.5 335.5h0.95v0.95h-0.95zM75.5 322h0.95v0.95h-0.95zM60 324.5h0.95v0.95h-0.95zM66 325h0.95v0.95h-0.95zM64.5 320h0.95v0.95h-0.95zM67 330h0.95v0.95h-0.95zM68.5 332.5h0.95v0.95h-0.95zM71 334.5h0.95v0.95h-0.95zM56 340.5h0.95v0.95h-0.95zM73.5 324h0.95v0.95h-0.95zM53.5 331.5h0.95v0.95h-0.95zM53 344.5h0.95v0.95h-0.95zM75.5 325.5h0.95v0.95h-0.95zM51.5 342h0.95v0.95h-0.95zM79.5 335h0.95v0.95h-0.95zM82.5 322h0.95v0.95h-0.95zM43.5 334h0.95v0.95h-0.95zM77 320.5h0.95v0.95h-0.95zM57.5 342h0.95v0.95h-0.95zM57.5 347h0.95v0.95h-0.95zM56.5 337h0.95v0.95h-0.95zM79 317h0.95v0.95h-0.95zM71.5 338h0.95v0.95h-0.95zM74.5 343h0.95v0.95h-0.95zM63 327.5h0.95v0.95h-0.95zM74.5 326h0.95v0.95h-0.95zM75.5 320.5h0.95v0.95h-0.95zM57 329h0.95v0.95h-0.95zM65 335h0.95v0.95h-0.95zM53 339.5h0.95v0.95h-0.95zM63.5 329h0.95v0.95h-0.95zM64.5 333h0.95v0.95h-0.95zM53 349h0.95v0.95h-0.95zM56 328.5h0.95v0.95h-0.95zM70.5 326h0.95v0.95h-0.95zM71 329.5h0.95v0.95h-0.95zM70.5 337.5h0.95v0.95h-0.95zM69.5 326.5h0.95v0.95h-0.95zM61 333.5h0.95v0.95h-0.95zM61 336.5h0.95v0.95h-0.95zM57 339.5h0.95v0.95h-0.95zM60 321.5h0.95v0.95h-0.95zM62.5 343.5h0.95v0.95h-0.95zM82.5 317.5h0.95v0.95h-0.95zM60.5 339.5h0.95v0.95h-0.95zM57 338.5h0.95v0.95h-0.95zM69.5 326h0.95v0.95h-0.95zM84.5 333.5h0.95v0.95h-0.95zM75.5 334.5h0.95v0.95h-0.95zM61.5 331h0.95v0.95h-0.95zM79.5 330h0.95v0.95h-0.95zM68.5 324h0.95v0.95h-0.95zM65.5 317h0.95v0.95h-0.95zM60.5 325h0.95v0.95h-0.95zM65 328.5h0.95v0.95h-0.95zM52.5 335h0.95v0.95h-0.95zM63.5 331h0.95v0.95h-0.95zM71 319.5h0.95v0.95h-0.95zM78.5 315.5h0.95v0.95h-0.95zM75 327.5h0.95v0.95h-0.95zM77.5 332h0.95v0.95h-0.95zM74 325h0.95v0.95h-0.95zM57 331.5h0.95v0.95h-0.95zM66.5 318h0.95v0.95h-0.95zM70 325h0.95v0.95h-0.95zM79.5 306.5h0.95v0.95h-0.95zM63 320h0.95v0.95h-0.95zM59 336.5h0.95v0.95h-0.95zM71.5 319.5h0.95v0.95h-0.95zM75.5 331h0.95v0.95h-0.95zM71.5 321.5h0.95v0.95h-0.95zM69 326h0.95v0.95h-0.95zM77 317h0.95v0.95h-0.95zM64.5 332h0.95v0.95h-0.95zM69.5 332.5h0.95v0.95h-0.95zM67 330.5h0.95v0.95h-0.95zM58.5 336h0.95v0.95h-0.95zM44 352.5h0.95v0.95h-0.95zM53.5 336h0.95v0.95h-0.95zM68 325h0.95v0.95h-0.95zM57 327.5h0.95v0.95h-0.95zM73.5 336.5h0.95v0.95h-0.95zM81 311h0.95v0.95h-0.95zM61.5 330h0.95v0.95h-0.95zM70 331h0.95v0.95h-0.95zM83.5 327.5h0.95v0.95h-0.95zM62 336.5h0.95v0.95h-0.95zM66 339.5h0.95v0.95h-0.95zM81.5 336.5h0.95v0.95h-0.95zM58.5 328h0.95v0.95h-0.95zM58.5 331h0.95v0.95h-0.95zM54.5 339.5h0.95v0.95h-0.95zM81 317.5h0.95v0.95h-0.95zM65.5 339h0.95v0.95h-0.95zM59 342.5h0.95v0.95h-0.95zM58 347.5h0.95v0.95h-0.95zM77 312.5h0.95v0.95h-0.95zM57.5 336.5h0.95v0.95h-0.95zM68.5 323.5h0.95v0.95h-0.95zM58 336.5h0.95v0.95h-0.95zM62 330h0.95v0.95h-0.95zM63 332h0.95v0.95h-0.95zM77 321.5h0.95v0.95h-0.95zM56.5 331h0.95v0.95h-0.95zM72.5 325.5h0.95v0.95h-0.95zM72 328h0.95v0.95h-0.95zM58 340h0.95v0.95h-0.95zM79 314h0.95v0.95h-0.95zM59.5 332.5h0.95v0.95h-0.95zM69.5 336.5h0.95v0.95h-0.95zM88 311.5h0.95v0.95h-0.95zM66 335.5h0.95v0.95h-0.95zM73 327h0.95v0.95h-0.95zM76 324.5h0.95v0.95h-0.95zM78 333h0.95v0.95h-0.95zM51.5 348.5h0.95v0.95h-0.95zM70.5 326.5h0.95v0.95h-0.95zM71 320h0.95v0.95h-0.95zM64 339h0.95v0.95h-0.95zM85.5 333.5h0.95v0.95h-0.95zM69.5 327.5h0.95v0.95h-0.95zM59 328h0.95v0.95h-0.95zM67 327.5h0.95v0.95h-0.95zM69.5 320h0.95v0.95h-0.95zM58 330.5h0.95v0.95h-0.95zM73.5 327h0.95v0.95h-0.95zM66.5 331.5h0.95v0.95h-0.95zM66 334h0.95v0.95h-0.95zM75 336.5h0.95v0.95h-0.95zM59.5 333h0.95v0.95h-0.95zM82 321.5h0.95v0.95h-0.95zM76.5 318.5h0.95v0.95h-0.95zM60.5 331h0.95v0.95h-0.95zM61.5 341.5h0.95v0.95h-0.95zM81 314.5h0.95v0.95h-0.95zM49 341h0.95v0.95h-0.95zM57.5 333.5h0.95v0.95h-0.95zM84 319.5h0.95v0.95h-0.95zM63.5 335h0.95v0.95h-0.95zM88 322h0.95v0.95h-0.95zM74.5 317.5h0.95v0.95h-0.95zM68.5 320h0.95v0.95h-0.95zM60 340h0.95v0.95h-0.95zM70 340.5h0.95v0.95h-0.95zM68 333.5h0.95v0.95h-0.95zM59 339h0.95v0.95h-0.95zM72 325h0.95v0.95h-0.95zM56 329h0.95v0.95h-0.95zM69.5 322h0.95v0.95h-0.95zM67 337h0.95v0.95h-0.95zM68 332h0.95v0.95h-0.95zM67.5 336.5h0.95v0.95h-0.95zM75 320.5h0.95v0.95h-0.95zM66 342h0.95v0.95h-0.95zM74 337h0.95v0.95h-0.95zM65 334.5h0.95v0.95h-0.95zM60.5 338h0.95v0.95h-0.95zM82 323h0.95v0.95h-0.95zM73 325.5h0.95v0.95h-0.95zM68.5 331h0.95v0.95h-0.95zM59.5 327.5h0.95v0.95h-0.95zM63.5 337h0.95v0.95h-0.95zM67 340.5h0.95v0.95h-0.95zM71.5 335h0.95v0.95h-0.95zM81 329.5h0.95v0.95h-0.95zM56.5 339h0.95v0.95h-0.95zM63 335.5h0.95v0.95h-0.95zM79 329.5h0.95v0.95h-0.95zM62.5 326.5h0.95v0.95h-0.95zM69 314.5h0.95v0.95h-0.95zM76.5 336.5h0.95v0.95h-0.95zM55 339h0.95v0.95h-0.95zM69 326h0.95v0.95h-0.95zM58 336.5h0.95v0.95h-0.95zM83 326h0.95v0.95h-0.95zM69 321h0.95v0.95h-0.95zM95.5 324h0.95v0.95h-0.95zM81 310.5h0.95v0.95h-0.95zM55.5 339.5h0.95v0.95h-0.95zM61.5 337h0.95v0.95h-0.95zM71 326h0.95v0.95h-0.95zM73 315h0.95v0.95h-0.95zM47 336h0.95v0.95h-0.95zM55 328h0.95v0.95h-0.95zM59 333h0.95v0.95h-0.95zM59.5 335.5h0.95v0.95h-0.95zM68 330.5h0.95v0.95h-0.95zM70.5 331h0.95v0.95h-0.95zM70 340h0.95v0.95h-0.95zM50.5 344h0.95v0.95h-0.95zM43.5 341h0.95v0.95h-0.95zM77 325h0.95v0.95h-0.95zM65 323h0.95v0.95h-0.95zM66.5 335h0.95v0.95h-0.95zM56 341h0.95v0.95h-0.95zM66 331.5h0.95v0.95h-0.95zM64 333h0.95v0.95h-0.95zM68.5 327h0.95v0.95h-0.95zM68 334h0.95v0.95h-0.95zM68 339h0.95v0.95h-0.95zM63 325h0.95v0.95h-0.95zM75.5 332.5h0.95v0.95h-0.95zM48 348h0.95v0.95h-0.95zM75 324.5h0.95v0.95h-0.95zM65 346.5h0.95v0.95h-0.95zM68 327h0.95v0.95h-0.95zM57 343.5h0.95v0.95h-0.95zM64.5 338h0.95v0.95h-0.95zM67 335.5h0.95v0.95h-0.95zM56 344h0.95v0.95h-0.95zM59 347h0.95v0.95h-0.95zM58 328h0.95v0.95h-0.95zM54.5 336.5h0.95v0.95h-0.95zM75.5 316h0.95v0.95h-0.95zM74.5 322.5h0.95v0.95h-0.95zM81.5 316.5h0.95v0.95h-0.95zM60 342h0.95v0.95h-0.95zM81.5 323.5h0.95v0.95h-0.95zM84.5 310.5h0.95v0.95h-0.95zM70.5 326.5h0.95v0.95h-0.95zM68.5 328h0.95v0.95h-0.95zM69 326.5h0.95v0.95h-0.95zM53 336h0.95v0.95h-0.95zM81 343.5h0.95v0.95h-0.95zM72.5 318.5h0.95v0.95h-0.95zM83.5 323.5h0.95v0.95h-0.95zM62.5 329h0.95v0.95h-0.95zM69 333h0.95v0.95h-0.95zM55 347.5h0.95v0.95h-0.95zM75.5 331.5h0.95v0.95h-0.95zM40.5 346h0.95v0.95h-0.95zM56 342h0.95v0.95h-0.95zM73 319h0.95v0.95h-0.95zM66.5 333h0.95v0.95h-0.95zM99 294.5h0.95v0.95h-0.95zM65.5 327.5h0.95v0.95h-0.95zM68.5 335.5h0.95v0.95h-0.95zM62 353.5h0.95v0.95h-0.95zM51.5 327.5h0.95v0.95h-0.95zM70.5 323.5h0.95v0.95h-0.95zM88.5 319h0.95v0.95h-0.95zM55 330h0.95v0.95h-0.95zM58 326h0.95v0.95h-0.95zM80 319h0.95v0.95h-0.95zM59.5 334h0.95v0.95h-0.95zM53.5 343h0.95v0.95h-0.95zM79 340.5h0.95v0.95h-0.95zM61.5 346h0.95v0.95h-0.95zM62.5 326h0.95v0.95h-0.95zM66.5 333.5h0.95v0.95h-0.95zM85 320h0.95v0.95h-0.95zM69 321.5h0.95v0.95h-0.95zM52.5 333.5h0.95v0.95h-0.95zM74.5 332.5h0.95v0.95h-0.95zM45.5 332h0.95v0.95h-0.95zM70 326.5h0.95v0.95h-0.95zM59.5 329.5h0.95v0.95h-0.95zM73 321h0.95v0.95h-0.95zM58 342.5h0.95v0.95h-0.95zM67.5 332.5h0.95v0.95h-0.95zM46.5 354.5h0.95v0.95h-0.95zM69.5 327h0.95v0.95h-0.95zM56.5 329.5h0.95v0.95h-0.95zM80.5 323.5h0.95v0.95h-0.95zM78 326h0.95v0.95h-0.95zM59.5 336.5h0.95v0.95h-0.95zM61.5 347h0.95v0.95h-0.95zM57 329.5h0.95v0.95h-0.95zM67 335h0.95v0.95h-0.95zM65.5 318h0.95v0.95h-0.95zM63.5 340.5h0.95v0.95h-0.95zM70 319.5h0.95v0.95h-0.95zM62 338h0.95v0.95h-0.95zM74 339h0.95v0.95h-0.95zM70 318.5h0.95v0.95h-0.95zM69 336.5h0.95v0.95h-0.95zM84 324h0.95v0.95h-0.95zM66.5 325h0.95v0.95h-0.95zM55 339h0.95v0.95h-0.95zM90 316h0.95v0.95h-0.95zM63 328.5h0.95v0.95h-0.95zM67.5 330.5h0.95v0.95h-0.95zM76 331h0.95v0.95h-0.95zM45.5 343h0.95v0.95h-0.95zM64 333.5h0.95v0.95h-0.95zM71 321h0.95v0.95h-0.95zM84 322.5h0.95v0.95h-0.95zM63 333h0.95v0.95h-0.95zM65.5 323h0.95v0.95h-0.95zM61.5 333.5h0.95v0.95h-0.95zM68.5 330h0.95v0.95h-0.95zM67 315h0.95v0.95h-0.95zM73 325.5h0.95v0.95h-0.95zM67.5 334.5h0.95v0.95h-0.95zM55.5 334h0.95v0.95h-0.95zM81 309h0.95v0.95h-0.95zM54 328h0.95v0.95h-0.95zM59 345.5h0.95v0.95h-0.95zM73 332.5h0.95v0.95h-0.95zM62.5 326.5h0.95v0.95h-0.95zM62.5 314.5h0.95v0.95h-0.95zM65.5 339.5h0.95v0.95h-0.95zM75.5 329h0.95v0.95h-0.95zM62 339h0.95v0.95h-0.95zM78 326h0.95v0.95h-0.95zM75 322h0.95v0.95h-0.95zM66 330.5h0.95v0.95h-0.95zM59.5 342h0.95v0.95h-0.95zM55.5 339h0.95v0.95h-0.95zM71 318.5h0.95v0.95h-0.95zM52 352h0.95v0.95h-0.95zM59 345.5h0.95v0.95h-0.95zM63.5 346.5h0.95v0.95h-0.95zM83 323.5h0.95v0.95h-0.95zM67.5 317h0.95v0.95h-0.95zM71 337.5h0.95v0.95h-0.95zM62 337.5h0.95v0.95h-0.95zM78.5 324h0.95v0.95h-0.95zM73 341.5h0.95v0.95h-0.95zM63.5 329.5h0.95v0.95h-0.95zM61 324h0.95v0.95h-0.95zM64 330.5h0.95v0.95h-0.95zM60.5 336h0.95v0.95h-0.95zM66 330h0.95v0.95h-0.95zM63 328h0.95v0.95h-0.95zM57 332.5h0.95v0.95h-0.95zM67.5 339h0.95v0.95h-0.95zM62 346h0.95v0.95h-0.95zM64.5 325.5h0.95v0.95h-0.95zM56.5 344.5h0.95v0.95h-0.95zM65.5 331h0.95v0.95h-0.95zM73.5 328h0.95v0.95h-0.95zM71.5 326.5h0.95v0.95h-0.95zM60 337.5h0.95v0.95h-0.95zM60.5 335.5h0.95v0.95h-0.95zM79.5 323.5h0.95v0.95h-0.95zM54 351.5h0.95v0.95h-0.95zM61 341.5h0.95v0.95h-0.95zM81 314h0.95v0.95h-0.95zM72.5 328.5h0.95v0.95h-0.95zM68 327.5h0.95v0.95h-0.95zM71.5 329h0.95v0.95h-0.95zM67 334h0.95v0.95h-0.95zM70 352h0.95v0.95h-0.95zM77.5 336.5h0.95v0.95h-0.95zM64.5 328h0.95v0.95h-0.95zM76 337.5h0.95v0.95h-0.95zM59.5 328.5h0.95v0.95h-0.95zM73 334.5h0.95v0.95h-0.95zM76.5 312h0.95v0.95h-0.95zM61.5 335h0.95v0.95h-0.95zM69 341h0.95v0.95h-0.95zM52.5 336h0.95v0.95h-0.95zM70 331h0.95v0.95h-0.95zM63.5 342h0.95v0.95h-0.95zM86.5 312h0.95v0.95h-0.95zM72.5 334.5h0.95v0.95h-0.95zM65.5 337h0.95v0.95h-0.95zM67 329h0.95v0.95h-0.95zM69.5 326h0.95v0.95h-0.95zM83 318h0.95v0.95h-0.95zM67 333h0.95v0.95h-0.95zM80.5 332.5h0.95v0.95h-0.95zM61 335h0.95v0.95h-0.95zM52.5 339.5h0.95v0.95h-0.95zM51.5 330.5h0.95v0.95h-0.95zM58.5 319h0.95v0.95h-0.95zM72.5 327h0.95v0.95h-0.95zM76.5 325.5h0.95v0.95h-0.95zM66 325h0.95v0.95h-0.95zM70 327.5h0.95v0.95h-0.95zM62.5 348h0.95v0.95h-0.95zM86.5 319.5h0.95v0.95h-0.95zM68 330h0.95v0.95h-0.95zM62 333.5h0.95v0.95h-0.95zM83.5 320h0.95v0.95h-0.95zM66 341.5h0.95v0.95h-0.95zM68 324.5h0.95v0.95h-0.95zM61 332.5h0.95v0.95h-0.95zM62.5 328h0.95v0.95h-0.95zM61 335.5h0.95v0.95h-0.95zM70 338h0.95v0.95h-0.95zM74 318h0.95v0.95h-0.95zM68 330h0.95v0.95h-0.95zM55 337h0.95v0.95h-0.95zM66.5 342.5h0.95v0.95h-0.95zM95.5 314.5h0.95v0.95h-0.95zM71.5 333.5h0.95v0.95h-0.95zM53.5 329h0.95v0.95h-0.95zM73 321.5h0.95v0.95h-0.95zM72.5 329h0.95v0.95h-0.95zM75 330.5h0.95v0.95h-0.95zM53 334.5h0.95v0.95h-0.95zM68 330h0.95v0.95h-0.95zM83 328h0.95v0.95h-0.95zM74 339h0.95v0.95h-0.95zM42.5 341h0.95v0.95h-0.95zM68 327.5h0.95v0.95h-0.95zM72.5 322.5h0.95v0.95h-0.95zM61 328.5h0.95v0.95h-0.95zM79.5 320.5h0.95v0.95h-0.95zM53.5 343h0.95v0.95h-0.95zM82.5 341h0.95v0.95h-0.95zM67.5 340.5h0.95v0.95h-0.95zM69 326h0.95v0.95h-0.95zM69.5 315.5h0.95v0.95h-0.95zM50.5 338h0.95v0.95h-0.95zM80 313h0.95v0.95h-0.95zM80 325.5h0.95v0.95h-0.95zM80 326h0.95v0.95h-0.95zM59.5 343.5h0.95v0.95h-0.95zM52.5 336h0.95v0.95h-0.95zM64 333h0.95v0.95h-0.95zM73.5 326h0.95v0.95h-0.95zM68.5 337.5h0.95v0.95h-0.95zM61 330h0.95v0.95h-0.95zM70 331.5h0.95v0.95h-0.95zM68 331h0.95v0.95h-0.95zM79.5 320.5h0.95v0.95h-0.95zM59.5 336h0.95v0.95h-0.95zM70 327h0.95v0.95h-0.95zM59 331.5h0.95v0.95h-0.95zM74 323h0.95v0.95h-0.95zM63 345.5h0.95v0.95h-0.95zM83 316.5h0.95v0.95h-0.95zM53.5 337h0.95v0.95h-0.95zM82 308h0.95v0.95h-0.95zM79.5 324h0.95v0.95h-0.95zM76 330.5h0.95v0.95h-0.95zM71 311.5h0.95v0.95h-0.95zM67.5 335.5h0.95v0.95h-0.95zM89.5 315h0.95v0.95h-0.95zM65.5 327.5h0.95v0.95h-0.95zM72.5 337.5h0.95v0.95h-0.95zM58 329h0.95v0.95h-0.95zM64 336h0.95v0.95h-0.95zM64 334.5h0.95v0.95h-0.95zM45.5 351.5h0.95v0.95h-0.95zM75.5 337.5h0.95v0.95h-0.95zM73 320h0.95v0.95h-0.95zM79.5 331.5h0.95v0.95h-0.95zM67.5 336.5h0.95v0.95h-0.95zM74 315.5h0.95v0.95h-0.95zM79.5 326h0.95v0.95h-0.95zM59.5 331.5h0.95v0.95h-0.95zM81.5 332h0.95v0.95h-0.95zM63 333.5h0.95v0.95h-0.95zM65.5 315.5h0.95v0.95h-0.95zM65.5 329.5h0.95v0.95h-0.95zM69.5 338h0.95v0.95h-0.95zM72.5 332h0.95v0.95h-0.95zM66.5 334.5h0.95v0.95h-0.95zM66 329h0.95v0.95h-0.95zM63.5 338h0.95v0.95h-0.95zM69.5 342h0.95v0.95h-0.95zM74.5 321.5h0.95v0.95h-0.95zM76.5 330.5h0.95v0.95h-0.95zM64.5 329.5h0.95v0.95h-0.95zM61.5 336.5h0.95v0.95h-0.95zM47.5 346h0.95v0.95h-0.95zM65 334.5h0.95v0.95h-0.95zM62.5 325.5h0.95v0.95h-0.95zM71.5 332h0.95v0.95h-0.95zM65 323.5h0.95v0.95h-0.95zM87.5 313h0.95v0.95h-0.95zM63 332h0.95v0.95h-0.95zM67.5 326.5h0.95v0.95h-0.95zM75 330.5h0.95v0.95h-0.95zM70 332.5h0.95v0.95h-0.95zM65 326h0.95v0.95h-0.95zM56.5 335h0.95v0.95h-0.95zM87 313h0.95v0.95h-0.95zM70.5 329h0.95v0.95h-0.95zM72 327h0.95v0.95h-0.95zM77 327h0.95v0.95h-0.95zM66.5 335h0.95v0.95h-0.95zM76 327.5h0.95v0.95h-0.95zM82 324h0.95v0.95h-0.95zM60 331h0.95v0.95h-0.95zM73 329h0.95v0.95h-0.95zM60 330h0.95v0.95h-0.95zM63.5 335h0.95v0.95h-0.95zM69.5 323.5h0.95v0.95h-0.95zM74 333.5h0.95v0.95h-0.95zM58 337.5h0.95v0.95h-0.95zM63.5 324h0.95v0.95h-0.95zM66 334h0.95v0.95h-0.95zM63.5 330.5h0.95v0.95h-0.95zM68 331.5h0.95v0.95h-0.95zM54.5 338h0.95v0.95h-0.95zM67 317h0.95v0.95h-0.95zM87.5 334.5h0.95v0.95h-0.95zM77.5 308h0.95v0.95h-0.95zM68 339.5h0.95v0.95h-0.95zM74.5 328h0.95v0.95h-0.95zM57.5 331h0.95v0.95h-0.95zM74 325h0.95v0.95h-0.95zM70 332.5h0.95v0.95h-0.95zM62.5 333.5h0.95v0.95h-0.95zM57 342h0.95v0.95h-0.95zM73.5 311h0.95v0.95h-0.95zM64.5 333.5h0.95v0.95h-0.95zM82.5 323.5h0.95v0.95h-0.95zM52.5 336.5h0.95v0.95h-0.95zM64 331h0.95v0.95h-0.95zM60 335h0.95v0.95h-0.95zM64.5 344.5h0.95v0.95h-0.95zM90.5 321.5h0.95v0.95h-0.95zM65 330h0.95v0.95h-0.95zM52 349.5h0.95v0.95h-0.95zM75.5 326.5h0.95v0.95h-0.95zM54 340.5h0.95v0.95h-0.95zM69 337h0.95v0.95h-0.95zM71.5 327h0.95v0.95h-0.95zM57 331.5h0.95v0.95h-0.95zM73.5 320.5h0.95v0.95h-0.95zM79.5 308.5h0.95v0.95h-0.95zM69 323.5h0.95v0.95h-0.95zM46 328.5h0.95v0.95h-0.95zM54.5 345.5h0.95v0.95h-0.95zM64.5 337.5h0.95v0.95h-0.95zM79 324.5h0.95v0.95h-0.95zM59.5 342h0.95v0.95h-0.95zM65.5 338h0.95v0.95h-0.95zM55 331.5h0.95v0.95h-0.95zM75 328h0.95v0.95h-0.95zM63 327h0.95v0.95h-0.95zM66 328h0.95v0.95h-0.95zM67.5 325.5h0.95v0.95h-0.95zM64 334h0.95v0.95h-0.95zM65.5 329.5h0.95v0.95h-0.95zM118 304.5h0.95v0.95h-0.95zM101 321.5h0.95v0.95h-0.95zM87 322.5h0.95v0.95h-0.95zM100 304h0.95v0.95h-0.95zM82.5 300.5h0.95v0.95h-0.95zM97.5 306.5h0.95v0.95h-0.95zM92.5 308.5h0.95v0.95h-0.95zM110.5 299.5h0.95v0.95h-0.95zM96.5 297h0.95v0.95h-0.95zM109.5 315h0.95v0.95h-0.95zM102 312h0.95v0.95h-0.95zM91.5 304h0.95v0.95h-0.95zM95 299h0.95v0.95h-0.95zM104 307.5h0.95v0.95h-0.95zM91 301h0.95v0.95h-0.95zM100.5 310h0.95v0.95h-0.95zM88.5 309.5h0.95v0.95h-0.95zM102 295h0.95v0.95h-0.95zM95 301.5h0.95v0.95h-0.95zM100.5 311.5h0.95v0.95h-0.95zM102 302.5h0.95v0.95h-0.95zM102 315.5h0.95v0.95h-0.95zM95 309h0.95v0.95h-0.95zM103.5 306.5h0.95v0.95h-0.95zM94 317.5h0.95v0.95h-0.95zM106 303.5h0.95v0.95h-0.95zM100 309.5h0.95v0.95h-0.95zM108.5 317h0.95v0.95h-0.95zM79.5 305.5h0.95v0.95h-0.95zM100 307h0.95v0.95h-0.95zM97 292h0.95v0.95h-0.95zM97 301h0.95v0.95h-0.95zM98 306.5h0.95v0.95h-0.95zM94 314.5h0.95v0.95h-0.95zM95.5 313.5h0.95v0.95h-0.95zM114 312h0.95v0.95h-0.95zM89 310h0.95v0.95h-0.95zM102 301h0.95v0.95h-0.95zM100.5 302.5h0.95v0.95h-0.95zM100.5 295.5h0.95v0.95h-0.95zM91.5 325h0.95v0.95h-0.95zM101 296.5h0.95v0.95h-0.95zM89 316h0.95v0.95h-0.95zM100 306.5h0.95v0.95h-0.95zM102.5 304.5h0.95v0.95h-0.95zM115.5 309h0.95v0.95h-0.95zM100.5 315h0.95v0.95h-0.95zM100.5 314h0.95v0.95h-0.95zM86 305.5h0.95v0.95h-0.95zM107.5 309h0.95v0.95h-0.95zM104.5 302.5h0.95v0.95h-0.95zM109.5 309.5h0.95v0.95h-0.95zM95 314h0.95v0.95h-0.95zM99 305h0.95v0.95h-0.95zM88.5 301.5h0.95v0.95h-0.95zM107.5 319.5h0.95v0.95h-0.95zM109 302.5h0.95v0.95h-0.95zM88.5 307h0.95v0.95h-0.95zM100 309.5h0.95v0.95h-0.95zM107.5 301h0.95v0.95h-0.95zM96.5 313.5h0.95v0.95h-0.95zM97.5 298.5h0.95v0.95h-0.95zM111.5 304.5h0.95v0.95h-0.95zM89.5 313.5h0.95v0.95h-0.95zM104.5 296h0.95v0.95h-0.95zM100 311h0.95v0.95h-0.95zM105 310h0.95v0.95h-0.95zM108.5 289h0.95v0.95h-0.95zM91.5 311h0.95v0.95h-0.95zM89.5 306h0.95v0.95h-0.95zM91.5 311.5h0.95v0.95h-0.95zM95 306.5h0.95v0.95h-0.95zM110 312h0.95v0.95h-0.95zM99.5 301.5h0.95v0.95h-0.95zM91.5 316h0.95v0.95h-0.95zM104 318h0.95v0.95h-0.95zM86 316.5h0.95v0.95h-0.95zM102.5 309h0.95v0.95h-0.95zM95 305h0.95v0.95h-0.95zM98 303h0.95v0.95h-0.95zM104 304h0.95v0.95h-0.95zM90.5 307.5h0.95v0.95h-0.95zM94 301h0.95v0.95h-0.95zM107.5 293h0.95v0.95h-0.95zM105 293h0.95v0.95h-0.95zM88 313h0.95v0.95h-0.95zM93.5 312h0.95v0.95h-0.95zM101 310h0.95v0.95h-0.95zM92.5 318.5h0.95v0.95h-0.95zM104.5 296h0.95v0.95h-0.95zM95.5 318h0.95v0.95h-0.95zM91 313.5h0.95v0.95h-0.95zM97.5 303.5h0.95v0.95h-0.95zM111 291h0.95v0.95h-0.95zM96.5 305h0.95v0.95h-0.95zM90.5 312h0.95v0.95h-0.95zM93 297h0.95v0.95h-0.95zM103 301.5h0.95v0.95h-0.95zM97 309h0.95v0.95h-0.95zM85.5 312h0.95v0.95h-0.95zM106 308h0.95v0.95h-0.95zM102.5 327h0.95v0.95h-0.95zM105 309h0.95v0.95h-0.95zM110.5 308h0.95v0.95h-0.95zM117 304h0.95v0.95h-0.95zM94.5 311h0.95v0.95h-0.95zM89.5 314h0.95v0.95h-0.95zM109 300h0.95v0.95h-0.95zM90 315h0.95v0.95h-0.95zM90.5 315h0.95v0.95h-0.95zM99.5 308.5h0.95v0.95h-0.95zM122.5 301h0.95v0.95h-0.95zM105 299h0.95v0.95h-0.95zM96.5 306h0.95v0.95h-0.95zM89.5 307h0.95v0.95h-0.95zM94.5 315h0.95v0.95h-0.95zM109 301h0.95v0.95h-0.95zM111.5 305h0.95v0.95h-0.95zM115.5 300.5h0.95v0.95h-0.95zM86 304h0.95v0.95h-0.95zM92 301h0.95v0.95h-0.95zM89.5 306.5h0.95v0.95h-0.95zM99 310h0.95v0.95h-0.95zM95 313h0.95v0.95h-0.95zM85 311.5h0.95v0.95h-0.95zM105.5 303h0.95v0.95h-0.95zM104 299.5h0.95v0.95h-0.95zM102.5 302.5h0.95v0.95h-0.95zM97.5 301h0.95v0.95h-0.95zM98 303h0.95v0.95h-0.95zM108.5 310.5h0.95v0.95h-0.95zM98.5 304h0.95v0.95h-0.95zM107 307h0.95v0.95h-0.95zM97 317h0.95v0.95h-0.95zM100 308.5h0.95v0.95h-0.95zM95.5 301.5h0.95v0.95h-0.95zM107.5 300.5h0.95v0.95h-0.95zM92.5 310h0.95v0.95h-0.95zM103 301h0.95v0.95h-0.95zM113 299h0.95v0.95h-0.95zM104 313.5h0.95v0.95h-0.95zM100.5 309h0.95v0.95h-0.95zM105 313h0.95v0.95h-0.95zM106 313h0.95v0.95h-0.95zM104 322h0.95v0.95h-0.95zM90.5 313h0.95v0.95h-0.95zM99 299.5h0.95v0.95h-0.95zM87.5 306h0.95v0.95h-0.95zM89.5 312.5h0.95v0.95h-0.95zM103.5 318h0.95v0.95h-0.95zM84 320h0.95v0.95h-0.95zM83 312h0.95v0.95h-0.95zM115 312h0.95v0.95h-0.95zM102 321.5h0.95v0.95h-0.95zM89 302.5h0.95v0.95h-0.95zM83.5 319.5h0.95v0.95h-0.95zM105 313.5h0.95v0.95h-0.95zM106.5 301h0.95v0.95h-0.95zM104 305.5h0.95v0.95h-0.95zM92.5 299h0.95v0.95h-0.95zM96.5 310.5h0.95v0.95h-0.95zM90.5 308.5h0.95v0.95h-0.95zM102.5 297.5h0.95v0.95h-0.95zM97.5 320.5h0.95v0.95h-0.95zM96.5 299h0.95v0.95h-0.95zM110.5 308h0.95v0.95h-0.95zM96 301h0.95v0.95h-0.95zM87.5 304.5h0.95v0.95h-0.95zM113 316h0.95v0.95h-0.95zM93.5 294h0.95v0.95h-0.95zM109.5 308.5h0.95v0.95h-0.95zM118.5 310.5h0.95v0.95h-0.95zM102 300.5h0.95v0.95h-0.95zM106.5 308h0.95v0.95h-0.95zM97.5 307h0.95v0.95h-0.95zM114 302.5h0.95v0.95h-0.95zM107.5 311h0.95v0.95h-0.95zM82.5 310.5h0.95v0.95h-0.95zM107.5 310.5h0.95v0.95h-0.95zM110 299.5h0.95v0.95h-0.95zM100.5 303h0.95v0.95h-0.95zM93.5 311h0.95v0.95h-0.95zM108 307.5h0.95v0.95h-0.95zM93.5 302.5h0.95v0.95h-0.95zM91 319h0.95v0.95h-0.95zM97 316.5h0.95v0.95h-0.95zM108.5 311.5h0.95v0.95h-0.95zM101.5 304.5h0.95v0.95h-0.95zM104.5 304.5h0.95v0.95h-0.95zM95 311h0.95v0.95h-0.95zM111.5 318h0.95v0.95h-0.95zM97 308h0.95v0.95h-0.95zM89.5 313h0.95v0.95h-0.95zM92.5 317.5h0.95v0.95h-0.95zM89 314.5h0.95v0.95h-0.95zM102.5 309.5h0.95v0.95h-0.95zM94.5 299.5h0.95v0.95h-0.95zM95.5 316h0.95v0.95h-0.95zM68.5 330h0.95v0.95h-0.95zM101 316h0.95v0.95h-0.95zM116 315.5h0.95v0.95h-0.95zM95 301h0.95v0.95h-0.95zM106.5 314.5h0.95v0.95h-0.95zM98.5 315.5h0.95v0.95h-0.95zM88.5 309.5h0.95v0.95h-0.95zM95.5 308.5h0.95v0.95h-0.95zM107.5 308.5h0.95v0.95h-0.95zM98 302h0.95v0.95h-0.95zM103.5 306h0.95v0.95h-0.95zM101.5 299h0.95v0.95h-0.95zM92.5 317h0.95v0.95h-0.95zM101.5 310h0.95v0.95h-0.95zM95 313.5h0.95v0.95h-0.95zM101 311h0.95v0.95h-0.95zM106.5 305h0.95v0.95h-0.95zM99.5 310h0.95v0.95h-0.95zM104 309h0.95v0.95h-0.95zM85 299h0.95v0.95h-0.95zM104 301h0.95v0.95h-0.95zM86 313.5h0.95v0.95h-0.95zM103 304h0.95v0.95h-0.95zM98.5 311h0.95v0.95h-0.95zM119.5 297h0.95v0.95h-0.95zM94 311h0.95v0.95h-0.95zM101.5 308.5h0.95v0.95h-0.95zM102 309.5h0.95v0.95h-0.95zM96 313h0.95v0.95h-0.95zM88.5 307h0.95v0.95h-0.95zM113.5 296h0.95v0.95h-0.95zM96 306h0.95v0.95h-0.95zM105 310h0.95v0.95h-0.95zM111 306h0.95v0.95h-0.95zM97.5 316h0.95v0.95h-0.95zM100 305h0.95v0.95h-0.95zM124.5 313.5h0.95v0.95h-0.95zM99 311.5h0.95v0.95h-0.95zM98.5 307.5h0.95v0.95h-0.95zM99 309h0.95v0.95h-0.95zM100 314h0.95v0.95h-0.95zM103 308h0.95v0.95h-0.95zM97.5 311.5h0.95v0.95h-0.95zM84.5 311.5h0.95v0.95h-0.95zM110.5 298h0.95v0.95h-0.95zM110 308h0.95v0.95h-0.95zM89 312h0.95v0.95h-0.95zM108.5 299h0.95v0.95h-0.95zM109 301h0.95v0.95h-0.95zM114 294.5h0.95v0.95h-0.95zM105 304.5h0.95v0.95h-0.95zM97.5 303.5h0.95v0.95h-0.95zM95 313h0.95v0.95h-0.95zM97.5 314.5h0.95v0.95h-0.95zM86.5 315.5h0.95v0.95h-0.95zM92 305.5h0.95v0.95h-0.95zM100.5 312h0.95v0.95h-0.95zM101 313.5h0.95v0.95h-0.95zM93 308h0.95v0.95h-0.95zM94 301.5h0.95v0.95h-0.95zM103.5 304h0.95v0.95h-0.95zM95.5 306.5h0.95v0.95h-0.95zM114 307h0.95v0.95h-0.95zM97.5 315.5h0.95v0.95h-0.95zM93.5 305h0.95v0.95h-0.95zM91.5 315.5h0.95v0.95h-0.95zM102.5 303h0.95v0.95h-0.95zM90 315.5h0.95v0.95h-0.95zM102 308h0.95v0.95h-0.95zM99 315h0.95v0.95h-0.95zM96 302.5h0.95v0.95h-0.95zM86 324h0.95v0.95h-0.95zM68 325.5h0.95v0.95h-0.95zM90 310h0.95v0.95h-0.95zM110 300h0.95v0.95h-0.95zM95 318h0.95v0.95h-0.95zM77.5 325h0.95v0.95h-0.95zM80.5 317h0.95v0.95h-0.95zM89.5 313h0.95v0.95h-0.95zM90 320h0.95v0.95h-0.95zM83.5 326h0.95v0.95h-0.95zM75.5 312h0.95v0.95h-0.95zM102 302h0.95v0.95h-0.95zM92 316.5h0.95v0.95h-0.95zM89 313h0.95v0.95h-0.95zM102 319.5h0.95v0.95h-0.95zM72.5 316.5h0.95v0.95h-0.95zM87 311h0.95v0.95h-0.95zM82.5 304h0.95v0.95h-0.95zM82 323h0.95v0.95h-0.95zM85.5 318.5h0.95v0.95h-0.95zM64 342.5h0.95v0.95h-0.95zM85.5 319.5h0.95v0.95h-0.95zM79.5 330.5h0.95v0.95h-0.95zM77.5 320h0.95v0.95h-0.95zM80.5 305h0.95v0.95h-0.95zM66 326.5h0.95v0.95h-0.95zM94 316h0.95v0.95h-0.95zM86.5 324.5h0.95v0.95h-0.95zM82.5 311.5h0.95v0.95h-0.95zM80 316.5h0.95v0.95h-0.95zM96.5 324.5h0.95v0.95h-0.95zM71.5 328.5h0.95v0.95h-0.95zM85 311.5h0.95v0.95h-0.95zM77.5 322h0.95v0.95h-0.95zM86.5 330.5h0.95v0.95h-0.95zM66.5 339h0.95v0.95h-0.95zM69.5 321.5h0.95v0.95h-0.95zM99 300h0.95v0.95h-0.95zM73 310h0.95v0.95h-0.95zM87 310.5h0.95v0.95h-0.95zM85.5 322h0.95v0.95h-0.95zM88.5 317h0.95v0.95h-0.95zM90.5 328h0.95v0.95h-0.95zM92.5 300h0.95v0.95h-0.95zM67 328.5h0.95v0.95h-0.95zM85.5 326.5h0.95v0.95h-0.95zM84 309.5h0.95v0.95h-0.95zM65 319h0.95v0.95h-0.95zM91 310.5h0.95v0.95h-0.95zM93 310.5h0.95v0.95h-0.95zM81.5 317.5h0.95v0.95h-0.95zM83.5 315h0.95v0.95h-0.95zM94.5 299h0.95v0.95h-0.95zM86.5 316h0.95v0.95h-0.95zM79.5 312h0.95v0.95h-0.95zM84.5 315h0.95v0.95h-0.95zM87.5 320.5h0.95v0.95h-0.95zM101.5 307h0.95v0.95h-0.95zM80 314h0.95v0.95h-0.95zM68 320.5h0.95v0.95h-0.95zM74.5 323h0.95v0.95h-0.95zM96.5 310h0.95v0.95h-0.95zM81 315.5h0.95v0.95h-0.95zM83.5 313.5h0.95v0.95h-0.95zM76.5 327h0.95v0.95h-0.95zM62 320.5h0.95v0.95h-0.95zM79 323h0.95v0.95h-0.95zM69 325.5h0.95v0.95h-0.95zM79 313.5h0.95v0.95h-0.95zM93.5 298.5h0.95v0.95h-0.95zM96 306.5h0.95v0.95h-0.95zM85.5 312.5h0.95v0.95h-0.95zM94 306.5h0.95v0.95h-0.95zM95 306h0.95v0.95h-0.95zM94.5 311h0.95v0.95h-0.95zM83 311h0.95v0.95h-0.95zM95 316h0.95v0.95h-0.95zM87.5 325h0.95v0.95h-0.95zM91.5 319h0.95v0.95h-0.95zM80.5 307.5h0.95v0.95h-0.95zM96.5 306.5h0.95v0.95h-0.95zM65 327h0.95v0.95h-0.95zM72 317.5h0.95v0.95h-0.95zM83.5 308h0.95v0.95h-0.95zM90 314.5h0.95v0.95h-0.95zM92.5 296.5h0.95v0.95h-0.95zM62 329.5h0.95v0.95h-0.95zM84.5 316.5h0.95v0.95h-0.95zM95.5 310h0.95v0.95h-0.95zM92.5 315.5h0.95v0.95h-0.95zM74.5 324h0.95v0.95h-0.95zM86.5 314h0.95v0.95h-0.95zM91.5 295.5h0.95v0.95h-0.95zM84.5 333.5h0.95v0.95h-0.95zM85 320h0.95v0.95h-0.95zM81 319h0.95v0.95h-0.95zM77.5 316h0.95v0.95h-0.95zM93.5 309.5h0.95v0.95h-0.95zM93 327.5h0.95v0.95h-0.95zM79.5 316.5h0.95v0.95h-0.95zM68.5 316.5h0.95v0.95h-0.95zM69 325.5h0.95v0.95h-0.95zM91.5 311.5h0.95v0.95h-0.95zM82.5 308.5h0.95v0.95h-0.95zM96 320.5h0.95v0.95h-0.95zM80.5 324h0.95v0.95h-0.95zM95.5 299h0.95v0.95h-0.95zM79.5 322.5h0.95v0.95h-0.95zM84.5 313.5h0.95v0.95h-0.95zM84 306h0.95v0.95h-0.95zM65.5 323.5h0.95v0.95h-0.95zM82.5 323h0.95v0.95h-0.95zM73 334.5h0.95v0.95h-0.95zM85.5 306.5h0.95v0.95h-0.95zM76 320.5h0.95v0.95h-0.95zM84.5 306h0.95v0.95h-0.95zM82 325.5h0.95v0.95h-0.95zM75 340.5h0.95v0.95h-0.95zM79 316.5h0.95v0.95h-0.95zM85.5 322.5h0.95v0.95h-0.95zM80 328.5h0.95v0.95h-0.95zM90.5 309h0.95v0.95h-0.95zM83 327h0.95v0.95h-0.95zM73.5 315.5h0.95v0.95h-0.95zM93 312.5h0.95v0.95h-0.95zM81.5 323h0.95v0.95h-0.95zM76 328.5h0.95v0.95h-0.95zM86 315h0.95v0.95h-0.95zM74 316h0.95v0.95h-0.95zM87 311h0.95v0.95h-0.95zM65 329.5h0.95v0.95h-0.95zM91 318h0.95v0.95h-0.95zM77.5 324h0.95v0.95h-0.95zM71.5 330.5h0.95v0.95h-0.95zM83 317.5h0.95v0.95h-0.95zM100.5 311h0.95v0.95h-0.95zM77.5 322.5h0.95v0.95h-0.95zM88.5 323.5h0.95v0.95h-0.95zM80.5 321.5h0.95v0.95h-0.95zM86.5 314h0.95v0.95h-0.95zM95 320h0.95v0.95h-0.95zM102.5 314h0.95v0.95h-0.95zM91.5 325h0.95v0.95h-0.95zM98.5 317h0.95v0.95h-0.95zM85.5 312.5h0.95v0.95h-0.95zM78 319.5h0.95v0.95h-0.95zM97 314h0.95v0.95h-0.95zM82.5 330h0.95v0.95h-0.95zM89 312.5h0.95v0.95h-0.95zM69 324h0.95v0.95h-0.95zM101 311h0.95v0.95h-0.95zM76.5 332h0.95v0.95h-0.95zM75 320h0.95v0.95h-0.95zM84.5 311.5h0.95v0.95h-0.95zM91 307.5h0.95v0.95h-0.95zM101 317h0.95v0.95h-0.95zM88.5 315.5h0.95v0.95h-0.95zM90.5 318.5h0.95v0.95h-0.95zM81 310h0.95v0.95h-0.95zM59.5 321.5h0.95v0.95h-0.95zM86 320h0.95v0.95h-0.95zM81 334h0.95v0.95h-0.95zM49.5 328h0.95v0.95h-0.95zM76.5 320h0.95v0.95h-0.95zM71 328.5h0.95v0.95h-0.95zM90.5 287.5h0.95v0.95h-0.95zM94.5 308h0.95v0.95h-0.95zM91 306h0.95v0.95h-0.95zM77 333.5h0.95v0.95h-0.95zM78.5 314.5h0.95v0.95h-0.95zM89.5 312.5h0.95v0.95h-0.95zM101.5 315h0.95v0.95h-0.95zM93 298h0.95v0.95h-0.95zM68.5 322.5h0.95v0.95h-0.95zM81 316.5h0.95v0.95h-0.95zM85 320.5h0.95v0.95h-0.95zM73.5 321.5h0.95v0.95h-0.95zM77.5 316.5h0.95v0.95h-0.95zM82 321h0.95v0.95h-0.95zM84 319h0.95v0.95h-0.95zM73 312h0.95v0.95h-0.95zM77.5 322.5h0.95v0.95h-0.95zM77 320h0.95v0.95h-0.95zM87 309h0.95v0.95h-0.95zM81.5 326.5h0.95v0.95h-0.95zM96.5 315.5h0.95v0.95h-0.95zM75 315.5h0.95v0.95h-0.95zM92 317.5h0.95v0.95h-0.95zM96 303h0.95v0.95h-0.95zM98 320.5h0.95v0.95h-0.95zM75.5 329h0.95v0.95h-0.95zM87.5 330h0.95v0.95h-0.95zM110 316h0.95v0.95h-0.95zM83 320.5h0.95v0.95h-0.95zM88 300h0.95v0.95h-0.95zM79.5 319.5h0.95v0.95h-0.95zM79.5 313.5h0.95v0.95h-0.95zM83.5 306h0.95v0.95h-0.95zM82.5 319h0.95v0.95h-0.95zM81.5 309h0.95v0.95h-0.95zM62 332.5h0.95v0.95h-0.95zM53.5 318h0.95v0.95h-0.95zM45 331h0.95v0.95h-0.95zM42.5 309.5h0.95v0.95h-0.95zM44 345h0.95v0.95h-0.95zM72.5 320.5h0.95v0.95h-0.95zM59.5 308h0.95v0.95h-0.95zM63.5 304h0.95v0.95h-0.95zM59 316.5h0.95v0.95h-0.95zM57.5 340.5h0.95v0.95h-0.95zM51 323.5h0.95v0.95h-0.95zM62 311.5h0.95v0.95h-0.95zM62.5 321h0.95v0.95h-0.95zM69.5 303h0.95v0.95h-0.95zM63.5 322.5h0.95v0.95h-0.95zM59.5 318.5h0.95v0.95h-0.95zM71 306h0.95v0.95h-0.95zM91 314h0.95v0.95h-0.95zM39 319.5h0.95v0.95h-0.95zM51.5 339h0.95v0.95h-0.95zM75.5 309h0.95v0.95h-0.95zM41 303h0.95v0.95h-0.95zM74.5 317.5h0.95v0.95h-0.95zM93 321.5h0.95v0.95h-0.95zM44.5 315.5h0.95v0.95h-0.95zM68 340.5h0.95v0.95h-0.95zM66 327.5h0.95v0.95h-0.95zM83 303h0.95v0.95h-0.95zM80 311.5h0.95v0.95h-0.95zM74 307.5h0.95v0.95h-0.95zM80 328h0.95v0.95h-0.95zM77 300h0.95v0.95h-0.95zM61.5 324.5h0.95v0.95h-0.95zM74 320h0.95v0.95h-0.95zM59 316h0.95v0.95h-0.95zM91.5 317.5h0.95v0.95h-0.95zM77 322h0.95v0.95h-0.95zM76.5 309h0.95v0.95h-0.95zM49.5 333.5h0.95v0.95h-0.95zM79.5 305h0.95v0.95h-0.95zM70.5 299h0.95v0.95h-0.95zM85 312h0.95v0.95h-0.95zM68.5 324.5h0.95v0.95h-0.95zM71.5 325.5h0.95v0.95h-0.95zM62.5 304h0.95v0.95h-0.95zM53 336.5h0.95v0.95h-0.95zM60 324h0.95v0.95h-0.95zM49 325.5h0.95v0.95h-0.95zM76 319h0.95v0.95h-0.95zM62 331h0.95v0.95h-0.95zM68.5 329h0.95v0.95h-0.95zM64.5 319h0.95v0.95h-0.95zM76.5 342.5h0.95v0.95h-0.95zM65 320h0.95v0.95h-0.95zM87 312h0.95v0.95h-0.95zM86 311h0.95v0.95h-0.95zM73 316.5h0.95v0.95h-0.95zM46.5 307h0.95v0.95h-0.95zM69.5 316.5h0.95v0.95h-0.95zM47.5 309.5h0.95v0.95h-0.95zM68 326.5h0.95v0.95h-0.95zM65 329h0.95v0.95h-0.95zM67.5 326h0.95v0.95h-0.95zM65 316h0.95v0.95h-0.95zM78.5 323h0.95v0.95h-0.95zM84 318h0.95v0.95h-0.95zM74.5 339.5h0.95v0.95h-0.95zM54 314.5h0.95v0.95h-0.95zM65 329.5h0.95v0.95h-0.95zM80.5 315h0.95v0.95h-0.95zM67.5 315.5h0.95v0.95h-0.95zM79 318h0.95v0.95h-0.95zM57 315h0.95v0.95h-0.95zM28.5 343h0.95v0.95h-0.95zM52.5 305h0.95v0.95h-0.95zM56.5 323h0.95v0.95h-0.95zM71 339.5h0.95v0.95h-0.95zM64 313.5h0.95v0.95h-0.95zM65.5 315h0.95v0.95h-0.95zM57 324h0.95v0.95h-0.95zM58.5 324.5h0.95v0.95h-0.95zM72.5 338h0.95v0.95h-0.95zM81.5 305.5h0.95v0.95h-0.95zM75.5 340.5h0.95v0.95h-0.95zM63 295.5h0.95v0.95h-0.95zM64 312h0.95v0.95h-0.95zM45 311h0.95v0.95h-0.95zM61.5 321h0.95v0.95h-0.95zM81 331h0.95v0.95h-0.95zM78 325h0.95v0.95h-0.95zM85 303h0.95v0.95h-0.95zM88 304h0.95v0.95h-0.95zM80.5 310.5h0.95v0.95h-0.95zM65.5 322h0.95v0.95h-0.95zM83.5 309h0.95v0.95h-0.95zM47.5 324h0.95v0.95h-0.95zM63 319.5h0.95v0.95h-0.95zM87 314h0.95v0.95h-0.95zM76 330h0.95v0.95h-0.95zM82 330.5h0.95v0.95h-0.95zM79 337h0.95v0.95h-0.95zM61 330h0.95v0.95h-0.95zM46.5 333h0.95v0.95h-0.95zM78 305.5h0.95v0.95h-0.95zM63.5 302h0.95v0.95h-0.95zM76.5 312.5h0.95v0.95h-0.95zM80.5 309h0.95v0.95h-0.95zM74 329h0.95v0.95h-0.95zM33 328h0.95v0.95h-0.95zM84 318.5h0.95v0.95h-0.95zM106 295.5h0.95v0.95h-0.95zM63 341.5h0.95v0.95h-0.95zM50 341h0.95v0.95h-0.95zM51 319h0.95v0.95h-0.95zM60.5 310.5h0.95v0.95h-0.95zM70 313.5h0.95v0.95h-0.95zM67.5 338.5h0.95v0.95h-0.95zM68 315.5h0.95v0.95h-0.95zM61.5 335.5h0.95v0.95h-0.95zM49 320.5h0.95v0.95h-0.95zM77.5 335.5h0.95v0.95h-0.95zM60.5 348.5h0.95v0.95h-0.95zM97 346.5h0.95v0.95h-0.95zM91 331.5h0.95v0.95h-0.95zM58 340.5h0.95v0.95h-0.95zM110 334h0.95v0.95h-0.95zM103.5 340.5h0.95v0.95h-0.95zM65.5 322.5h0.95v0.95h-0.95zM68.5 324h0.95v0.95h-0.95zM95 342h0.95v0.95h-0.95zM102 302h0.95v0.95h-0.95zM82.5 329h0.95v0.95h-0.95zM54 340.5h0.95v0.95h-0.95zM66.5 378.5h0.95v0.95h-0.95zM119.5 348h0.95v0.95h-0.95zM67.5 356.5h0.95v0.95h-0.95zM78.5 315.5h0.95v0.95h-0.95zM79 309.5h0.95v0.95h-0.95zM30.5 359.5h0.95v0.95h-0.95zM88 334h0.95v0.95h-0.95zM41.5 312h0.95v0.95h-0.95zM79 342.5h0.95v0.95h-0.95zM91.5 297h0.95v0.95h-0.95zM101.5 305h0.95v0.95h-0.95zM102.5 323.5h0.95v0.95h-0.95zM82.5 329.5h0.95v0.95h-0.95zM76.5 323.5h0.95v0.95h-0.95zM96.5 331h0.95v0.95h-0.95zM72.5 357h0.95v0.95h-0.95zM53 346.5h0.95v0.95h-0.95zM104.5 316h0.95v0.95h-0.95zM93.5 322h0.95v0.95h-0.95zM61 356h0.95v0.95h-0.95zM75.5 318h0.95v0.95h-0.95zM80.5 294h0.95v0.95h-0.95zM51.5 355h0.95v0.95h-0.95zM110 330h0.95v0.95h-0.95zM51 335h0.95v0.95h-0.95zM93.5 318h0.95v0.95h-0.95zM90.5 325h0.95v0.95h-0.95zM73 373.5h0.95v0.95h-0.95zM99.5 325.5h0.95v0.95h-0.95zM54.5 358h0.95v0.95h-0.95zM50 319.5h0.95v0.95h-0.95zM50.5 324h0.95v0.95h-0.95zM54.5 370h0.95v0.95h-0.95zM54 328h0.95v0.95h-0.95zM65.5 359h0.95v0.95h-0.95zM72 351h0.95v0.95h-0.95zM82 344h0.95v0.95h-0.95zM95 312h0.95v0.95h-0.95zM111 305.5h0.95v0.95h-0.95zM99 338h0.95v0.95h-0.95zM57 305.5h0.95v0.95h-0.95zM54.5 332h0.95v0.95h-0.95zM97.5 311h0.95v0.95h-0.95zM64 350h0.95v0.95h-0.95zM96 353h0.95v0.95h-0.95zM67 313.5h0.95v0.95h-0.95zM81 348.5h0.95v0.95h-0.95zM70.5 331.5h0.95v0.95h-0.95zM79.5 317.5h0.95v0.95h-0.95zM97 351.5h0.95v0.95h-0.95zM63 348h0.95v0.95h-0.95zM103.5 323h0.95v0.95h-0.95zM82.5 326h0.95v0.95h-0.95zM87 347.5h0.95v0.95h-0.95zM68.5 333.5h0.95v0.95h-0.95zM108 349h0.95v0.95h-0.95zM66 364.5h0.95v0.95h-0.95zM72 370.5h0.95v0.95h-0.95zM78 370.5h0.95v0.95h-0.95zM71 377.5h0.95v0.95h-0.95zM63.5 357h0.95v0.95h-0.95zM69.5 364h0.95v0.95h-0.95zM71.5 374.5h0.95v0.95h-0.95zM69.5 367.5h0.95v0.95h-0.95zM70.5 359.5h0.95v0.95h-0.95zM95 359h0.95v0.95h-0.95zM65.5 349h0.95v0.95h-0.95zM71.5 372h0.95v0.95h-0.95zM78.5 371h0.95v0.95h-0.95zM74.5 382h0.95v0.95h-0.95zM59.5 382h0.95v0.95h-0.95zM75 346.5h0.95v0.95h-0.95zM77 369h0.95v0.95h-0.95zM78 383h0.95v0.95h-0.95zM60 363.5h0.95v0.95h-0.95zM68 353.5h0.95v0.95h-0.95zM62 367h0.95v0.95h-0.95zM43 369h0.95v0.95h-0.95zM81 361h0.95v0.95h-0.95zM55 335h0.95v0.95h-0.95z" fill="#111"/>
<path d="M254 309.5h1v1h-1zM231 303h1v1h-1zM231.5 308.5h1v1h-1zM252.5 309.5h1v1h-1zM230.5 309h1v1h-1zM240 307h1v1h-1zM244.5 301.5h1v1h-1zM224 305h1v1h-1zM243.5 305h1v1h-1zM236 310h1v1h-1zM244 313h1v1h-1zM247 309h1v1h-1zM223 312h1v1h-1zM221 307.5h1v1h-1zM250 311h1v1h-1zM234.5 305.5h1v1h-1zM218.5 311h1v1h-1zM235.5 312.5h1v1h-1zM244.5 302.5h1v1h-1zM241 312h1v1h-1zM240 302.5h1v1h-1zM242 301h1v1h-1zM241 305h1v1h-1zM239.5 303h1v1h-1zM226 310.5h1v1h-1zM228 316.5h1v1h-1zM229.5 314h1v1h-1zM240.5 305.5h1v1h-1zM234.5 312.5h1v1h-1zM231.5 302.5h1v1h-1zM241 298h1v1h-1zM240 311.5h1v1h-1zM243 313.5h1v1h-1zM247 310h1v1h-1zM240 302h1v1h-1zM243.5 309.5h1v1h-1zM249.5 304.5h1v1h-1zM244.5 306.5h1v1h-1zM234 306.5h1v1h-1zM253 303.5h1v1h-1zM243 306h1v1h-1zM252.5 301h1v1h-1zM257.5 310h1v1h-1zM254 308h1v1h-1zM228 308h1v1h-1zM227 304.5h1v1h-1zM242 320.5h1v1h-1zM243.5 313.5h1v1h-1zM228.5 305h1v1h-1zM229.5 308h1v1h-1zM245.5 312h1v1h-1zM235.5 313h1v1h-1zM239 305h1v1h-1zM217.5 298.5h1v1h-1zM244.5 307h1v1h-1zM252 312h1v1h-1zM233 311h1v1h-1zM248.5 309h1v1h-1zM237 311h1v1h-1zM242 301.5h1v1h-1zM246 305h1v1h-1zM239 304h1v1h-1zM235 307.5h1v1h-1zM238 307h1v1h-1zM230.5 303.5h1v1h-1zM237.5 304.5h1v1h-1zM247 309.5h1v1h-1zM231 314h1v1h-1zM251.5 307h1v1h-1zM253 300.5h1v1h-1zM233 310h1v1h-1zM223 313.5h1v1h-1zM247 315h1v1h-1zM242.5 314.5h1v1h-1zM233.5 301.5h1v1h-1zM251.5 314h1v1h-1zM247.5 299h1v1h-1zM229.5 308h1v1h-1zM230.5 306h1v1h-1zM234.5 295h1v1h-1zM245.5 307.5h1v1h-1zM248 306.5h1v1h-1zM251 309h1v1h-1zM243.5 308h1v1h-1zM245.5 307.5h1v1h-1zM252.5 302.5h1v1h-1zM233.5 309h1v1h-1zM246.5 308h1v1h-1zM223.5 304.5h1v1h-1zM227 305h1v1h-1zM236.5 309h1v1h-1zM249.5 303.5h1v1h-1zM243 304.5h1v1h-1zM243.5 300h1v1h-1zM246.5 305.5h1v1h-1zM228.5 303.5h1v1h-1zM249 309.5h1v1h-1zM240.5 311.5h1v1h-1zM222.5 314h1v1h-1zM216 306h1v1h-1zM243.5 303.5h1v1h-1zM249 310h1v1h-1zM254.5 299h1v1h-1zM253.5 303.5h1v1h-1zM253.5 312.5h1v1h-1zM229 316h1v1h-1zM228 302.5h1v1h-1zM239 302.5h1v1h-1zM244 310.5h1v1h-1zM228.5 314h1v1h-1zM239.5 306h1v1h-1zM248 314.5h1v1h-1zM216.5 306.5h1v1h-1zM249 298.5h1v1h-1zM227 303.5h1v1h-1zM222.5 308h1v1h-1zM248 309.5h1v1h-1zM239 309h1v1h-1zM255.5 299h1v1h-1zM241.5 310.5h1v1h-1zM241.5 308.5h1v1h-1zM247 306.5h1v1h-1zM226 310h1v1h-1zM245 309h1v1h-1zM239.5 307.5h1v1h-1zM235.5 305.5h1v1h-1zM234 309.5h1v1h-1zM249.5 309.5h1v1h-1zM244.5 297.5h1v1h-1zM254.5 294.5h1v1h-1zM239.5 305.5h1v1h-1zM224.5 308.5h1v1h-1zM249 307.5h1v1h-1zM237.5 313h1v1h-1zM246 305h1v1h-1zM236 310h1v1h-1zM240.5 312.5h1v1h-1zM230.5 302.5h1v1h-1zM237 308.5h1v1h-1zM243.5 307.5h1v1h-1zM243.5 310.5h1v1h-1zM252.5 304h1v1h-1zM212 302h1v1h-1zM240 310.5h1v1h-1zM228 301h1v1h-1zM235 307h1v1h-1zM235 306h1v1h-1zM238.5 315h1v1h-1zM245.5 310.5h1v1h-1zM249 313h1v1h-1zM233 317.5h1v1h-1zM223 302.5h1v1h-1zM222.5 309.5h1v1h-1zM231.5 307h1v1h-1zM237 308h1v1h-1zM235.5 314h1v1h-1zM245.5 304h1v1h-1zM239 303.5h1v1h-1zM227 305h1v1h-1zM246 314h1v1h-1zM247.5 314.5h1v1h-1zM215.5 304.5h1v1h-1zM230.5 306h1v1h-1zM247.5 305h1v1h-1zM250 307.5h1v1h-1zM235.5 301h1v1h-1zM237 310h1v1h-1zM248 313h1v1h-1zM248.5 307.5h1v1h-1zM234.5 305.5h1v1h-1zM229 304.5h1v1h-1zM236.5 308h1v1h-1zM225.5 316.5h1v1h-1zM247 301h1v1h-1zM230.5 306h1v1h-1zM248 304h1v1h-1zM244.5 315h1v1h-1zM235 308.5h1v1h-1zM230.5 303.5h1v1h-1zM236.5 306.5h1v1h-1zM238 303.5h1v1h-1zM236.5 317h1v1h-1zM242 308.5h1v1h-1zM245 300.5h1v1h-1zM242 313.5h1v1h-1zM244 309.5h1v1h-1zM237 307.5h1v1h-1zM241 305.5h1v1h-1zM223.5 317.5h1v1h-1zM249 308h1v1h-1zM226.5 310.5h1v1h-1zM247 303h1v1h-1zM220.5 309h1v1h-1zM235 307.5h1v1h-1zM225.5 315h1v1h-1zM206 309h1v1h-1zM242 310.5h1v1h-1zM243 307.5h1v1h-1zM255.5 311h1v1h-1zM231 309h1v1h-1zM214 309.5h1v1h-1zM230 306.5h1v1h-1zM225 311h1v1h-1zM245 307.5h1v1h-1zM245.5 305h1v1h-1zM248 312h1v1h-1zM240 307.5h1v1h-1zM240 306h1v1h-1zM238 313h1v1h-1zM230.5 307.5h1v1h-1zM240.5 307h1v1h-1zM233 308h1v1h-1zM239.5 302.5h1v1h-1zM251.5 313.5h1v1h-1zM253.5 311.5h1v1h-1zM244.5 311h1v1h-1zM242 311h1v1h-1zM241.5 308h1v1h-1zM238.5 309h1v1h-1zM228.5 313h1v1h-1zM237 313.5h1v1h-1zM253.5 308h1v1h-1zM220 312h1v1h-1zM247 308.5h1v1h-1zM237 306h1v1h-1zM242 310h1v1h-1zM229.5 296.5h1v1h-1zM245 307.5h1v1h-1zM233 304.5h1v1h-1zM226.5 303h1v1h-1zM230.5 300.5h1v1h-1zM234 303.5h1v1h-1zM248.5 307h1v1h-1zM230.5 306.5h1v1h-1zM254.5 308.5h1v1h-1zM249 300h1v1h-1zM246 304.5h1v1h-1zM256 307.5h1v1h-1zM239.5 312h1v1h-1zM247 305h1v1h-1zM236 312h1v1h-1zM236 317h1v1h-1zM258.5 315.5h1v1h-1zM247 306h1v1h-1zM232 304.5h1v1h-1zM239.5 302h1v1h-1zM214.5 307h1v1h-1zM234.5 303h1v1h-1zM239.5 311.5h1v1h-1zM255.5 304h1v1h-1zM252.5 301h1v1h-1zM239.5 303h1v1h-1zM242 305h1v1h-1zM240.5 311.5h1v1h-1zM241 299.5h1v1h-1zM237.5 305h1v1h-1zM251.5 311.5h1v1h-1zM232.5 307.5h1v1h-1zM247 308.5h1v1h-1zM233 302h1v1h-1zM248.5 299h1v1h-1zM252.5 304.5h1v1h-1zM224 306.5h1v1h-1zM245.5 307.5h1v1h-1zM246 307h1v1h-1zM237.5 302.5h1v1h-1zM222 304h1v1h-1zM246.5 304.5h1v1h-1zM243.5 306.5h1v1h-1zM237 304h1v1h-1zM231 311.5h1v1h-1zM233 307.5h1v1h-1zM231.5 309.5h1v1h-1zM251 310h1v1h-1zM251 315h1v1h-1zM244 312.5h1v1h-1zM217.5 310.5h1v1h-1zM248 297h1v1h-1zM236 311h1v1h-1zM234 306h1v1h-1zM239 307h1v1h-1zM236 311h1v1h-1zM228 313.5h1v1h-1zM240 312h1v1h-1zM228.5 302h1v1h-1zM239 305.5h1v1h-1zM244.5 312h1v1h-1zM235 296h1v1h-1zM242 311h1v1h-1zM252 306.5h1v1h-1zM245 304h1v1h-1zM238 299h1v1h-1zM234.5 307h1v1h-1zM243.5 298.5h1v1h-1zM229.5 314h1v1h-1zM247.5 305h1v1h-1zM247 306h1v1h-1zM237 309.5h1v1h-1zM239.5 311h1v1h-1zM244 302.5h1v1h-1zM235 306.5h1v1h-1zM246.5 310h1v1h-1zM230 308.5h1v1h-1zM229.5 307.5h1v1h-1zM227 301.5h1v1h-1zM232 305.5h1v1h-1zM248 303h1v1h-1zM258 307.5h1v1h-1zM246.5 306h1v1h-1zM219 309h1v1h-1zM243.5 300.5h1v1h-1zM232 311.5h1v1h-1zM234.5 311.5h1v1h-1zM243.5 313h1v1h-1zM238 309h1v1h-1zM236.5 310h1v1h-1zM236 311.5h1v1h-1zM236 304h1v1h-1zM229.5 309.5h1v1h-1zM239.5 308h1v1h-1zM239 311h1v1h-1zM245.5 297h1v1h-1zM248 311.5h1v1h-1zM238.5 305h1v1h-1zM228 311h1v1h-1zM252.5 302h1v1h-1zM244 307.5h1v1h-1zM233 305.5h1v1h-1zM238.5 313.5h1v1h-1zM235.5 303h1v1h-1zM245.5 308h1v1h-1zM240.5 304h1v1h-1zM252 306.5h1v1h-1zM233 310.5h1v1h-1zM234.5 302h1v1h-1zM227 315h1v1h-1zM240 311.5h1v1h-1zM232 299.5h1v1h-1zM244 309.5h1v1h-1zM232 315h1v1h-1zM242.5 320h1v1h-1zM245.5 302h1v1h-1zM236.5 305.5h1v1h-1zM236.5 307.5h1v1h-1zM233 307h1v1h-1zM245.5 304.5h1v1h-1zM247 307h1v1h-1zM233.5 309h1v1h-1zM248.5 308.5h1v1h-1zM244 305.5h1v1h-1zM254.5 306.5h1v1h-1zM256.5 314h1v1h-1zM238.5 306h1v1h-1zM238 306h1v1h-1zM226.5 304h1v1h-1zM232 313h1v1h-1zM236 305.5h1v1h-1zM231.5 314.5h1v1h-1zM215.5 307.5h1v1h-1zM237.5 315h1v1h-1zM233.5 305h1v1h-1zM229.5 305h1v1h-1zM238 300h1v1h-1zM230 312.5h1v1h-1zM238 306h1v1h-1zM238 313.5h1v1h-1zM248.5 313.5h1v1h-1zM249.5 308h1v1h-1zM245.5 309.5h1v1h-1zM241.5 313h1v1h-1zM249.5 303.5h1v1h-1zM220.5 307h1v1h-1zM230.5 303h1v1h-1zM239 303h1v1h-1zM232.5 306.5h1v1h-1zM236.5 305h1v1h-1zM235.5 306.5h1v1h-1zM237 307.5h1v1h-1zM232 309.5h1v1h-1zM241.5 308.5h1v1h-1zM237.5 302.5h1v1h-1zM239 309.5h1v1h-1zM228 307.5h1v1h-1zM249.5 310h1v1h-1zM253.5 304.5h1v1h-1zM247.5 303h1v1h-1zM228 309h1v1h-1zM230.5 312h1v1h-1zM240.5 307h1v1h-1zM223.5 304.5h1v1h-1zM238 315.5h1v1h-1zM240 306h1v1h-1zM237 314h1v1h-1zM228.5 306.5h1v1h-1zM231 316.5h1v1h-1zM229 311.5h1v1h-1zM235.5 316.5h1v1h-1zM240 306h1v1h-1zM252 303.5h1v1h-1zM247.5 305h1v1h-1zM249 302.5h1v1h-1zM228.5 313.5h1v1h-1zM245 308.5h1v1h-1zM232.5 302h1v1h-1zM237.5 309h1v1h-1zM236 305h1v1h-1zM225.5 312.5h1v1h-1zM226 301.5h1v1h-1zM229 310h1v1h-1zM254 309h1v1h-1zM221 310.5h1v1h-1zM239 308h1v1h-1zM238 308h1v1h-1zM230 312h1v1h-1zM231.5 314.5h1v1h-1zM245.5 306h1v1h-1zM225 309h1v1h-1zM240 301h1v1h-1zM240.5 307h1v1h-1zM215.5 312.5h1v1h-1zM217 307.5h1v1h-1zM234.5 299.5h1v1h-1zM232 308.5h1v1h-1zM224.5 306.5h1v1h-1zM228 313.5h1v1h-1zM231.5 306.5h1v1h-1zM246.5 298h1v1h-1zM230 306h1v1h-1zM242.5 312h1v1h-1zM251 304.5h1v1h-1zM247.5 307h1v1h-1zM242 304h1v1h-1zM242 303h1v1h-1zM223 310h1v1h-1zM237 308h1v1h-1zM224 304h1v1h-1zM237.5 315.5h1v1h-1zM249.5 312.5h1v1h-1zM251 310h1v1h-1zM239 306h1v1h-1zM238.5 304h1v1h-1zM237.5 312h1v1h-1zM251.5 308.5h1v1h-1zM229.5 312.5h1v1h-1zM231.5 309.5h1v1h-1zM250 305h1v1h-1zM239.5 290.5h1v1h-1zM249 304h1v1h-1zM252 306.5h1v1h-1zM228.5 308.5h1v1h-1zM237 310h1v1h-1zM234.5 309.5h1v1h-1zM237 297.5h1v1h-1zM239 306.5h1v1h-1zM245.5 301.5h1v1h-1zM239.5 309.5h1v1h-1zM225.5 302h1v1h-1zM237 309h1v1h-1zM242.5 310.5h1v1h-1zM220 315.5h1v1h-1zM256.5 308h1v1h-1zM241 307.5h1v1h-1zM226.5 304h1v1h-1zM230.5 308h1v1h-1zM248.5 313h1v1h-1zM219 308h1v1h-1zM236.5 316h1v1h-1zM245 306h1v1h-1zM247 303.5h1v1h-1zM245 301h1v1h-1zM226.5 307h1v1h-1zM242 308.5h1v1h-1zM239 316h1v1h-1zM246 305.5h1v1h-1zM254.5 303h1v1h-1zM236.5 304.5h1v1h-1zM245 312.5h1v1h-1zM240.5 314.5h1v1h-1zM224.5 304.5h1v1h-1zM245.5 300h1v1h-1zM236 306h1v1h-1zM224.5 302.5h1v1h-1zM250 316.5h1v1h-1zM237.5 305h1v1h-1zM234 303.5h1v1h-1zM223 305.5h1v1h-1zM238 308.5h1v1h-1zM234.5 304.5h1v1h-1zM238.5 308.5h1v1h-1zM252.5 306h1v1h-1zM231 306.5h1v1h-1zM221 299.5h1v1h-1zM237 300.5h1v1h-1zM237 308.5h1v1h-1zM246.5 313.5h1v1h-1zM228.5 308h1v1h-1zM227 312h1v1h-1zM233 303h1v1h-1zM231 308.5h1v1h-1zM231.5 308h1v1h-1zM247 304.5h1v1h-1zM230.5 307.5h1v1h-1zM229 308h1v1h-1zM225 308h1v1h-1zM251 302.5h1v1h-1zM223 315h1v1h-1zM237 325h1v1h-1zM251.5 317h1v1h-1zM248 308.5h1v1h-1zM250 304h1v1h-1zM248.5 307.5h1v1h-1zM232.5 307.5h1v1h-1zM237 306.5h1v1h-1zM223.5 319h1v1h-1zM229 306.5h1v1h-1zM243.5 318.5h1v1h-1zM229.5 314.5h1v1h-1zM237.5 317h1v1h-1zM245.5 311.5h1v1h-1zM243.5 302h1v1h-1zM219 311h1v1h-1zM227 310.5h1v1h-1zM245 314h1v1h-1zM252 313.5h1v1h-1zM247 299.5h1v1h-1zM229.5 312.5h1v1h-1zM250 310h1v1h-1zM243.5 306.5h1v1h-1zM240 308.5h1v1h-1zM257 301.5h1v1h-1zM244 305.5h1v1h-1zM247.5 306.5h1v1h-1zM238 304.5h1v1h-1zM242.5 314h1v1h-1zM246 305h1v1h-1zM226 303.5h1v1h-1zM231.5 312.5h1v1h-1zM233 303.5h1v1h-1zM235.5 313h1v1h-1zM229.5 309.5h1v1h-1zM236 306h1v1h-1zM246 307.5h1v1h-1zM246 304.5h1v1h-1zM243 304.5h1v1h-1zM240 308.5h1v1h-1zM225 315.5h1v1h-1zM248.5 311h1v1h-1zM248.5 303.5h1v1h-1zM242 312.5h1v1h-1zM229 305h1v1h-1zM222 311h1v1h-1zM241 302h1v1h-1zM229.5 312.5h1v1h-1zM231.5 300.5h1v1h-1zM253 316h1v1h-1zM247.5 313h1v1h-1zM235 307h1v1h-1zM235 307h1v1h-1zM238.5 309h1v1h-1zM230 304h1v1h-1zM238 311h1v1h-1zM237 307h1v1h-1zM249.5 305h1v1h-1zM237 302.5h1v1h-1zM240 309h1v1h-1zM244.5 303h1v1h-1zM239.5 315.5h1v1h-1zM234 309h1v1h-1zM247 305.5h1v1h-1zM233.5 315.5h1v1h-1zM252 300.5h1v1h-1zM236.5 300h1v1h-1zM232.5 311h1v1h-1zM235.5 304.5h1v1h-1zM242 310.5h1v1h-1zM246.5 311h1v1h-1zM245.5 310h1v1h-1zM243 305.5h1v1h-1zM236.5 306h1v1h-1zM229.5 305h1v1h-1zM233 310.5h1v1h-1zM243.5 309h1v1h-1zM224.5 308.5h1v1h-1zM242 313h1v1h-1zM231 309.5h1v1h-1zM224 305h1v1h-1zM247.5 301.5h1v1h-1zM241 309.5h1v1h-1zM249.5 307h1v1h-1zM246.5 301h1v1h-1zM235.5 305.5h1v1h-1zM230.5 310.5h1v1h-1zM232.5 315.5h1v1h-1zM237 313.5h1v1h-1zM244.5 305h1v1h-1zM216 308.5h1v1h-1zM242 307h1v1h-1zM249 310h1v1h-1zM243.5 311h1v1h-1zM246.5 317h1v1h-1zM238 313h1v1h-1zM242 308h1v1h-1zM249.5 309.5h1v1h-1zM233 312.5h1v1h-1zM227.5 303h1v1h-1zM246.5 309h1v1h-1zM222 313h1v1h-1zM234 310.5h1v1h-1zM235 304h1v1h-1zM230.5 304.5h1v1h-1zM231 301.5h1v1h-1zM225.5 311.5h1v1h-1zM243 311.5h1v1h-1zM234 302h1v1h-1zM246 311h1v1h-1zM226.5 309.5h1v1h-1zM227 309.5h1v1h-1zM234.5 304.5h1v1h-1zM221.5 309h1v1h-1zM252 308h1v1h-1zM235.5 305.5h1v1h-1zM242 313.5h1v1h-1zM244 305h1v1h-1zM241 311.5h1v1h-1zM225 322h1v1h-1zM236.5 302.5h1v1h-1zM238 305.5h1v1h-1zM230.5 311h1v1h-1zM241.5 307h1v1h-1zM232.5 311.5h1v1h-1zM236 307.5h1v1h-1zM228 306.5h1v1h-1zM236.5 312.5h1v1h-1zM241.5 307h1v1h-1zM241.5 308h1v1h-1zM226 306h1v1h-1zM238.5 306.5h1v1h-1zM234.5 305h1v1h-1zM240 313.5h1v1h-1zM241.5 313.5h1v1h-1zM239 314h1v1h-1zM246.5 315.5h1v1h-1zM228 309h1v1h-1zM249 301.5h1v1h-1zM232.5 305h1v1h-1zM241 305.5h1v1h-1zM232.5 301.5h1v1h-1zM222.5 311h1v1h-1zM240 305.5h1v1h-1zM233.5 315h1v1h-1zM235.5 305.5h1v1h-1zM222.5 319h1v1h-1zM232 309h1v1h-1zM221 312h1v1h-1zM234 313.5h1v1h-1zM244 305.5h1v1h-1zM226 312h1v1h-1zM243.5 306h1v1h-1zM232.5 305h1v1h-1zM231.5 311h1v1h-1zM240.5 315h1v1h-1zM239 310h1v1h-1zM235.5 313h1v1h-1zM234 311.5h1v1h-1zM247.5 306.5h1v1h-1zM227 303.5h1v1h-1zM234 311h1v1h-1zM244 301.5h1v1h-1zM246 308.5h1v1h-1zM249 309.5h1v1h-1zM252.5 307.5h1v1h-1zM223.5 305.5h1v1h-1zM234 302h1v1h-1zM231.5 307.5h1v1h-1zM234.5 307.5h1v1h-1zM250 310.5h1v1h-1zM248.5 304.5h1v1h-1zM245.5 307h1v1h-1zM237 307h1v1h-1zM248 309h1v1h-1zM256 306h1v1h-1zM247 304h1v1h-1zM236 300.5h1v1h-1zM245.5 307.5h1v1h-1zM254 310.5h1v1h-1zM237.5 311.5h1v1h-1zM233 310.5h1v1h-1zM221 307h1v1h-1zM227.5 308.5h1v1h-1zM242.5 312h1v1h-1zM236 303h1v1h-1zM233 309h1v1h-1zM224.5 309.5h1v1h-1zM257.5 310.5h1v1h-1zM221.5 306h1v1h-1zM251.5 307.5h1v1h-1zM230 304.5h1v1h-1zM248.5 302h1v1h-1zM247 309h1v1h-1zM229.5 304.5h1v1h-1zM247.5 296h1v1h-1zM240.5 307.5h1v1h-1zM231.5 312.5h1v1h-1zM232 310.5h1v1h-1zM225.5 304.5h1v1h-1zM232.5 306.5h1v1h-1zM223.5 309h1v1h-1zM234.5 305h1v1h-1zM251.5 308h1v1h-1zM246.5 306h1v1h-1zM246 312h1v1h-1zM256.5 307h1v1h-1zM247 314h1v1h-1zM227.5 315.5h1v1h-1zM246.5 318.5h1v1h-1zM237.5 314.5h1v1h-1zM207.5 309.5h1v1h-1zM235.5 304.5h1v1h-1zM248.5 318h1v1h-1zM242 310.5h1v1h-1zM252.5 307.5h1v1h-1zM226 300h1v1h-1zM253 298h1v1h-1zM242 311h1v1h-1zM252 296.5h1v1h-1zM237 308.5h1v1h-1zM235 307h1v1h-1zM237 310.5h1v1h-1zM229 309h1v1h-1zM238.5 304h1v1h-1zM236 310h1v1h-1zM237.5 306h1v1h-1zM237.5 309h1v1h-1zM240 310h1v1h-1zM249.5 302h1v1h-1zM231.5 303.5h1v1h-1zM231.5 308h1v1h-1zM231.5 311h1v1h-1zM242 304h1v1h-1zM245 307h1v1h-1zM238.5 311h1v1h-1zM237 315h1v1h-1zM233 312h1v1h-1zM244 310h1v1h-1zM238 303.5h1v1h-1zM247.5 313h1v1h-1zM249 303h1v1h-1zM230 309.5h1v1h-1zM244.5 307.5h1v1h-1zM227 303.5h1v1h-1zM249 299h1v1h-1zM232.5 316.5h1v1h-1zM242 312.5h1v1h-1zM225 314h1v1h-1zM236 300h1v1h-1zM247 298h1v1h-1zM217 317.5h1v1h-1zM237 307.5h1v1h-1zM244 308.5h1v1h-1zM253.5 310.5h1v1h-1zM246 294h1v1h-1zM231.5 292.5h1v1h-1zM255.5 301.5h1v1h-1zM251 306h1v1h-1zM224 308h1v1h-1zM249.5 299.5h1v1h-1zM252 303h1v1h-1zM230.5 304h1v1h-1zM236.5 308h1v1h-1zM246 305h1v1h-1zM243.5 309.5h1v1h-1zM243.5 303.5h1v1h-1zM236 311.5h1v1h-1zM233 306h1v1h-1zM238 307.5h1v1h-1zM231.5 313.5h1v1h-1zM239.5 310h1v1h-1zM242 302.5h1v1h-1zM232.5 312.5h1v1h-1zM237 306.5h1v1h-1zM249 304h1v1h-1zM237 308.5h1v1h-1zM237.5 306h1v1h-1zM257 310h1v1h-1zM248 304h1v1h-1zM256.5 303h1v1h-1zM233.5 312.5h1v1h-1zM224 306h1v1h-1zM236.5 312h1v1h-1zM237 302.5h1v1h-1zM246.5 311h1v1h-1zM238 312h1v1h-1zM233.5 316h1v1h-1zM224.5 305h1v1h-1zM241.5 311h1v1h-1zM237 304h1v1h-1zM237.5 304h1v1h-1zM252 314h1v1h-1zM236 312h1v1h-1zM251 307.5h1v1h-1zM236 306h1v1h-1zM233.5 307h1v1h-1zM244 312h1v1h-1zM239 306h1v1h-1zM243.5 304h1v1h-1zM240 302h1v1h-1zM249 306.5h1v1h-1zM239.5 309.5h1v1h-1zM245.5 312h1v1h-1zM240.5 300h1v1h-1zM222.5 321.5h1v1h-1zM245 301.5h1v1h-1zM222.5 315.5h1v1h-1zM235.5 311.5h1v1h-1zM238.5 310h1v1h-1zM240 305.5h1v1h-1zM229.5 311.5h1v1h-1zM224 312h1v1h-1zM243.5 311h1v1h-1zM244.5 309.5h1v1h-1zM229.5 313h1v1h-1zM232.5 309.5h1v1h-1zM227 314.5h1v1h-1zM257 304.5h1v1h-1zM234 311.5h1v1h-1zM229.5 306.5h1v1h-1zM223 299.5h1v1h-1zM222.5 308h1v1h-1zM233.5 308.5h1v1h-1zM237.5 309.5h1v1h-1zM249 303.5h1v1h-1zM239 311h1v1h-1zM242.5 314.5h1v1h-1zM246 308h1v1h-1zM243 312h1v1h-1zM222.5 297h1v1h-1zM228 313h1v1h-1zM217 317.5h1v1h-1zM242.5 303h1v1h-1zM250.5 306.5h1v1h-1zM251.5 308.5h1v1h-1zM241 305.5h1v1h-1zM235.5 307h1v1h-1zM249.5 311.5h1v1h-1zM245.5 313.5h1v1h-1zM228 303h1v1h-1zM240.5 298h1v1h-1zM238.5 308.5h1v1h-1zM235 309h1v1h-1zM242 316.5h1v1h-1zM237 309.5h1v1h-1zM251.5 297h1v1h-1zM234.5 316h1v1h-1zM235.5 310h1v1h-1zM240 311h1v1h-1zM237.5 318.5h1v1h-1zM253.5 303h1v1h-1zM237.5 308.5h1v1h-1zM223 307.5h1v1h-1zM232 302h1v1h-1zM224 312h1v1h-1zM230.5 312.5h1v1h-1zM234.5 304h1v1h-1zM227.5 307.5h1v1h-1zM240.5 308.5h1v1h-1zM234 316.5h1v1h-1zM239.5 303.5h1v1h-1zM218 305h1v1h-1zM239.5 309h1v1h-1zM250 304.5h1v1h-1zM251.5 299h1v1h-1zM253.5 300.5h1v1h-1zM216.5 305.5h1v1h-1zM244.5 300.5h1v1h-1zM226 318.5h1v1h-1zM224 297h1v1h-1zM236 306h1v1h-1zM232 309h1v1h-1zM256.5 308h1v1h-1zM239.5 307h1v1h-1zM243 314h1v1h-1zM227 299.5h1v1h-1zM241 302.5h1v1h-1zM233.5 303.5h1v1h-1zM238 305h1v1h-1zM224.5 311h1v1h-1zM226.5 308.5h1v1h-1zM242 306h1v1h-1zM236 310h1v1h-1zM244 305.5h1v1h-1zM231.5 306.5h1v1h-1zM238 315h1v1h-1zM236.5 302h1v1h-1zM247.5 300.5h1v1h-1zM240 306.5h1v1h-1zM253.5 302h1v1h-1zM229.5 309h1v1h-1zM230.5 320.5h1v1h-1zM243.5 311.5h1v1h-1zM236.5 305.5h1v1h-1zM238 304.5h1v1h-1zM239 302.5h1v1h-1zM232.5 309h1v1h-1zM235 304.5h1v1h-1zM233.5 309h1v1h-1zM232.5 299.5h1v1h-1zM225 300.5h1v1h-1zM249.5 304h1v1h-1zM239.5 313.5h1v1h-1zM233 307.5h1v1h-1zM237.5 305.5h1v1h-1zM243.5 313.5h1v1h-1zM232.5 303h1v1h-1zM237 301h1v1h-1zM246 305h1v1h-1zM227 309.5h1v1h-1zM242 311.5h1v1h-1zM250 308h1v1h-1zM229 312h1v1h-1zM243 314h1v1h-1zM234.5 307.5h1v1h-1zM235.5 298.5h1v1h-1zM246.5 305h1v1h-1zM240.5 309.5h1v1h-1zM225 311h1v1h-1zM245 306h1v1h-1zM225 305.5h1v1h-1zM219 313.5h1v1h-1zM235 307.5h1v1h-1zM223.5 307.5h1v1h-1zM242 300.5h1v1h-1zM242 307.5h1v1h-1zM245.5 301.5h1v1h-1zM243 304.5h1v1h-1zM257.5 296h1v1h-1zM236.5 305h1v1h-1zM249.5 302.5h1v1h-1zM223.5 306.5h1v1h-1zM227.5 320.5h1v1h-1zM229.5 306h1v1h-1zM236.5 310.5h1v1h-1zM219 305h1v1h-1zM226 313h1v1h-1zM232.5 307.5h1v1h-1zM234 317h1v1h-1zM255.5 304.5h1v1h-1zM221.5 310.5h1v1h-1zM231 301h1v1h-1zM241 303.5h1v1h-1zM232 299.5h1v1h-1zM252 317h1v1h-1zM235 306.5h1v1h-1zM228 309h1v1h-1zM242 317h1v1h-1zM254.5 303h1v1h-1zM229 306h1v1h-1zM225 303h1v1h-1zM226.5 304.5h1v1h-1zM240.5 308.5h1v1h-1zM248 308h1v1h-1zM257.5 308h1v1h-1zM225 303.5h1v1h-1zM239 298.5h1v1h-1zM249.5 313h1v1h-1zM247.5 310.5h1v1h-1zM244.5 305.5h1v1h-1zM257.5 296.5h1v1h-1zM240.5 312h1v1h-1zM248.5 313h1v1h-1zM241 301.5h1v1h-1zM243.5 303h1v1h-1zM215.5 304.5h1v1h-1zM250.5 306.5h1v1h-1zM232.5 302.5h1v1h-1zM239.5 314h1v1h-1zM236.5 308h1v1h-1zM238 318h1v1h-1zM230.5 307h1v1h-1zM232.5 310.5h1v1h-1zM252 300.5h1v1h-1zM208 315h1v1h-1zM237 310.5h1v1h-1zM243 306h1v1h-1zM250 302.5h1v1h-1zM248.5 303.5h1v1h-1zM244 311.5h1v1h-1zM257 301h1v1h-1zM238 312.5h1v1h-1zM245 308.5h1v1h-1zM241.5 304h1v1h-1zM236 308h1v1h-1zM222.5 305.5h1v1h-1zM218.5 310.5h1v1h-1zM250 301.5h1v1h-1zM236 299.5h1v1h-1zM249.5 312h1v1h-1zM238.5 307.5h1v1h-1zM244 299h1v1h-1zM238 298.5h1v1h-1zM242 303.5h1v1h-1zM234.5 306h1v1h-1zM238.5 305.5h1v1h-1zM237.5 310.5h1v1h-1zM252 311h1v1h-1zM238.5 308.5h1v1h-1zM244.5 309h1v1h-1zM239 309.5h1v1h-1zM253 302.5h1v1h-1zM234.5 304h1v1h-1zM246 306h1v1h-1zM223.5 305h1v1h-1zM234 306h1v1h-1zM230 307h1v1h-1zM238 307.5h1v1h-1zM218 303.5h1v1h-1zM251 300.5h1v1h-1zM229 297.5h1v1h-1zM232 306.5h1v1h-1zM237.5 305.5h1v1h-1zM248 310.5h1v1h-1zM254 305.5h1v1h-1zM234 308h1v1h-1zM238.5 302h1v1h-1zM234.5 303h1v1h-1zM226.5 312h1v1h-1zM232.5 304h1v1h-1zM235.5 302h1v1h-1zM244.5 309.5h1v1h-1zM248.5 311.5h1v1h-1zM242.5 306h1v1h-1zM234.5 308.5h1v1h-1zM221 314h1v1h-1zM239.5 306h1v1h-1zM238.5 312.5h1v1h-1zM230.5 312h1v1h-1zM231.5 314h1v1h-1zM232 317h1v1h-1zM255.5 303h1v1h-1zM242.5 308h1v1h-1zM242.5 311h1v1h-1zM245 304.5h1v1h-1zM242 308.5h1v1h-1zM248 306.5h1v1h-1zM221.5 308h1v1h-1zM255.5 313h1v1h-1zM246 312.5h1v1h-1zM244.5 308h1v1h-1zM231 313.5h1v1h-1zM239.5 305h1v1h-1zM231.5 312.5h1v1h-1zM237 295.5h1v1h-1zM235.5 304.5h1v1h-1zM228 316h1v1h-1zM236 311.5h1v1h-1zM257.5 304.5h1v1h-1zM235 295h1v1h-1zM253 309h1v1h-1zM243 304h1v1h-1zM225.5 305.5h1v1h-1zM241.5 307h1v1h-1zM234.5 305h1v1h-1zM224 306h1v1h-1zM240.5 314.5h1v1h-1zM235 307h1v1h-1zM240.5 304h1v1h-1zM247.5 309h1v1h-1zM242 308h1v1h-1zM237 309.5h1v1h-1zM246.5 304.5h1v1h-1zM228 310h1v1h-1zM230.5 302.5h1v1h-1zM242.5 302.5h1v1h-1zM249.5 302.5h1v1h-1zM220 304h1v1h-1zM234.5 308h1v1h-1zM234 302.5h1v1h-1zM251.5 308.5h1v1h-1zM237 304h1v1h-1zM238.5 311h1v1h-1zM243 305h1v1h-1zM238 306h1v1h-1zM235.5 310h1v1h-1zM246 312h1v1h-1zM255 311h1v1h-1zM240.5 309h1v1h-1zM239 306h1v1h-1zM237 309.5h1v1h-1zM242 307h1v1h-1zM232 313.5h1v1h-1zM231 310h1v1h-1zM233 310h1v1h-1zM238 305h1v1h-1zM229 321.5h1v1h-1zM228 306h1v1h-1zM243 309.5h1v1h-1zM230 301.5h1v1h-1zM242 317h1v1h-1zM257.5 304.5h1v1h-1zM244.5 302.5h1v1h-1zM239.5 307h1v1h-1zM235.5 309.5h1v1h-1zM235.5 306h1v1h-1zM254.5 312h1v1h-1zM254.5 311.5h1v1h-1zM234 311.5h1v1h-1zM233 321h1v1h-1zM230 311h1v1h-1zM246.5 311h1v1h-1zM252 297.5h1v1h-1zM232.5 310h1v1h-1zM248 316.5h1v1h-1zM233 313h1v1h-1zM253.5 311h1v1h-1zM241 306h1v1h-1zM227.5 310h1v1h-1zM254 316.5h1v1h-1zM237.5 305.5h1v1h-1zM226 308.5h1v1h-1zM231 299.5h1v1h-1zM250.5 306h1v1h-1zM242.5 307h1v1h-1zM229 303h1v1h-1zM239 313.5h1v1h-1zM239.5 306.5h1v1h-1zM254 314h1v1h-1zM257 313.5h1v1h-1zM230 307h1v1h-1zM231 314.5h1v1h-1zM249 312h1v1h-1zM242 301h1v1h-1zM228 304.5h1v1h-1zM247 302h1v1h-1zM255 303.5h1v1h-1zM236.5 303.5h1v1h-1zM244 308.5h1v1h-1zM248 303h1v1h-1zM228.5 303.5h1v1h-1zM231.5 306h1v1h-1zM235.5 309h1v1h-1zM234 299.5h1v1h-1zM233 304h1v1h-1zM254 295.5h1v1h-1zM233 302.5h1v1h-1zM246 316.5h1v1h-1zM234 301.5h1v1h-1zM217 305h1v1h-1zM232.5 313h1v1h-1zM227.5 306h1v1h-1zM244.5 310h1v1h-1zM234.5 303.5h1v1h-1zM219.5 304h1v1h-1zM243 312.5h1v1h-1zM236 308.5h1v1h-1zM249 305h1v1h-1zM229.5 302h1v1h-1zM232.5 307.5h1v1h-1zM234.5 298.5h1v1h-1zM238 311h1v1h-1zM242.5 293h1v1h-1zM244 309h1v1h-1zM239 306h1v1h-1zM237.5 303.5h1v1h-1zM242.5 296h1v1h-1zM233 311h1v1h-1zM232.5 313h1v1h-1zM244.5 313.5h1v1h-1zM249.5 309.5h1v1h-1zM228.5 304h1v1h-1zM251 298h1v1h-1zM234 305h1v1h-1zM245 315.5h1v1h-1zM236 311.5h1v1h-1zM240 303h1v1h-1zM250.5 306.5h1v1h-1zM254.5 307h1v1h-1zM247 312h1v1h-1zM222 314.5h1v1h-1zM251 305h1v1h-1zM220 315h1v1h-1zM234.5 304h1v1h-1zM237.5 309.5h1v1h-1zM218.5 306.5h1v1h-1zM241.5 303h1v1h-1zM251 306h1v1h-1zM246.5 309.5h1v1h-1zM242.5 306.5h1v1h-1zM221 305.5h1v1h-1zM224.5 313.5h1v1h-1zM240.5 310h1v1h-1zM245 310h1v1h-1zM236 318.5h1v1h-1zM220 306.5h1v1h-1zM243.5 308h1v1h-1zM221.5 309h1v1h-1zM242 314.5h1v1h-1zM216.5 311h1v1h-1zM246 310.5h1v1h-1zM248.5 296h1v1h-1zM234 305h1v1h-1zM225 312.5h1v1h-1zM236 311h1v1h-1zM243 309.5h1v1h-1zM249 308.5h1v1h-1zM235.5 315h1v1h-1zM240 308.5h1v1h-1zM243.5 307h1v1h-1zM238 307.5h1v1h-1zM235.5 311h1v1h-1zM235.5 311h1v1h-1zM245 306h1v1h-1zM249.5 310h1v1h-1zM206 306.5h1v1h-1zM232 314h1v1h-1zM246 305.5h1v1h-1zM245.5 310h1v1h-1zM243.5 311.5h1v1h-1zM257 307.5h1v1h-1zM239.5 309h1v1h-1zM232 309.5h1v1h-1zM233 302h1v1h-1zM242.5 304h1v1h-1zM247 297.5h1v1h-1zM236 306h1v1h-1zM237.5 315h1v1h-1zM235 307.5h1v1h-1zM233 308h1v1h-1zM251 309.5h1v1h-1zM231 305.5h1v1h-1zM249.5 300.5h1v1h-1zM245.5 308h1v1h-1zM250 306.5h1v1h-1zM249 305.5h1v1h-1zM244.5 309h1v1h-1zM244 304h1v1h-1zM235.5 317.5h1v1h-1zM245 314.5h1v1h-1zM246.5 303.5h1v1h-1zM216 300.5h1v1h-1zM235 312h1v1h-1zM233.5 310h1v1h-1zM247.5 308h1v1h-1zM248 313h1v1h-1zM233 307.5h1v1h-1zM245 314h1v1h-1zM227.5 309h1v1h-1zM224.5 317.5h1v1h-1zM235 313h1v1h-1zM234.5 308.5h1v1h-1zM240.5 304.5h1v1h-1zM236.5 299h1v1h-1zM251.5 307h1v1h-1zM242.5 303h1v1h-1zM247 309.5h1v1h-1zM243 305.5h1v1h-1zM239 302h1v1h-1zM236.5 305.5h1v1h-1zM240.5 304h1v1h-1zM231 314h1v1h-1zM242 305.5h1v1h-1zM254.5 311h1v1h-1zM247.5 299.5h1v1h-1zM225.5 315.5h1v1h-1zM245 306.5h1v1h-1zM241 306.5h1v1h-1zM247.5 303h1v1h-1zM237 307h1v1h-1zM234.5 314h1v1h-1zM255 318h1v1h-1zM235.5 309h1v1h-1zM237 306.5h1v1h-1zM229 302h1v1h-1zM226 307h1v1h-1zM237 306.5h1v1h-1zM238 305h1v1h-1zM227 301.5h1v1h-1zM251 306h1v1h-1zM250.5 311h1v1h-1zM238.5 305.5h1v1h-1zM243.5 314h1v1h-1zM232.5 307.5h1v1h-1zM226 314.5h1v1h-1zM241.5 305h1v1h-1zM229.5 309.5h1v1h-1zM241.5 309.5h1v1h-1zM241.5 305.5h1v1h-1zM251.5 307h1v1h-1zM227.5 312.5h1v1h-1zM250.5 306.5h1v1h-1zM228.5 312.5h1v1h-1zM249.5 310h1v1h-1zM236 312h1v1h-1zM257 313h1v1h-1zM237 311h1v1h-1zM248 310.5h1v1h-1zM252 308h1v1h-1zM236 309h1v1h-1zM235 303.5h1v1h-1zM234.5 313h1v1h-1zM256.5 309.5h1v1h-1zM255 309h1v1h-1zM226.5 305.5h1v1h-1zM245 304h1v1h-1zM243 307.5h1v1h-1zM246.5 307.5h1v1h-1zM240.5 313h1v1h-1zM256.5 300.5h1v1h-1zM239 311.5h1v1h-1zM254.5 305.5h1v1h-1zM243.5 303.5h1v1h-1zM245.5 307h1v1h-1zM235 312h1v1h-1zM245.5 310h1v1h-1zM246 307h1v1h-1zM245 300.5h1v1h-1zM238 312.5h1v1h-1zM239.5 308h1v1h-1zM250.5 310h1v1h-1zM218.5 305.5h1v1h-1zM225 299.5h1v1h-1zM236 299.5h1v1h-1zM243 306h1v1h-1zM246.5 310.5h1v1h-1zM253.5 303h1v1h-1zM249 307.5h1v1h-1zM251.5 305.5h1v1h-1zM251 314.5h1v1h-1zM236.5 313h1v1h-1zM238 309h1v1h-1zM235 300h1v1h-1zM221 305h1v1h-1zM237.5 306.5h1v1h-1zM231.5 310.5h1v1h-1zM230.5 311h1v1h-1zM229.5 309.5h1v1h-1zM243.5 307.5h1v1h-1zM247.5 293.5h1v1h-1zM243 305.5h1v1h-1zM230 302.5h1v1h-1zM252.5 297.5h1v1h-1zM251 303.5h1v1h-1zM227 309.5h1v1h-1zM226 302.5h1v1h-1zM248.5 298.5h1v1h-1zM248.5 310h1v1h-1zM245 308.5h1v1h-1zM220 308.5h1v1h-1zM231 303h1v1h-1zM249.5 316.5h1v1h-1zM240.5 301.5h1v1h-1zM244.5 304.5h1v1h-1zM230 308h1v1h-1zM227 304.5h1v1h-1zM245.5 310h1v1h-1zM243.5 297.5h1v1h-1zM224 303.5h1v1h-1zM241.5 305.5h1v1h-1zM226 312.5h1v1h-1zM233.5 302h1v1h-1zM232 322.5h1v1h-1zM237 309h1v1h-1zM245.5 307.5h1v1h-1zM234 312h1v1h-1zM232 307.5h1v1h-1zM237.5 309.5h1v1h-1zM241.5 316h1v1h-1zM239 314h1v1h-1zM242 305.5h1v1h-1zM246.5 304h1v1h-1zM223 314.5h1v1h-1zM227 312h1v1h-1zM247.5 314h1v1h-1zM228 304h1v1h-1zM229 301.5h1v1h-1zM248.5 314h1v1h-1zM235.5 317.5h1v1h-1zM235 302.5h1v1h-1zM244.5 306.5h1v1h-1zM238.5 308.5h1v1h-1zM243.5 306.5h1v1h-1zM241 308.5h1v1h-1zM241.5 305.5h1v1h-1zM240.5 310.5h1v1h-1zM232 308.5h1v1h-1zM212.5 305h1v1h-1zM252.5 299h1v1h-1zM234.5 304h1v1h-1zM236.5 310h1v1h-1zM238.5 308h1v1h-1zM216 310h1v1h-1zM227 303h1v1h-1zM243.5 302.5h1v1h-1zM237.5 310.5h1v1h-1zM242.5 303h1v1h-1zM224.5 301h1v1h-1zM259 307h1v1h-1zM240.5 303h1v1h-1zM229 305h1v1h-1zM227.5 299.5h1v1h-1zM240.5 294h1v1h-1zM250 304.5h1v1h-1zM248 310.5h1v1h-1zM227 307.5h1v1h-1zM236 305h1v1h-1zM257 308h1v1h-1zM249 306h1v1h-1zM240 300h1v1h-1zM237.5 309.5h1v1h-1zM242.5 313h1v1h-1zM246.5 304.5h1v1h-1zM249.5 306.5h1v1h-1zM240.5 307h1v1h-1zM252.5 314h1v1h-1zM251 299h1v1h-1zM254 312.5h1v1h-1zM240 312h1v1h-1zM237 306h1v1h-1zM241.5 303.5h1v1h-1zM239.5 318h1v1h-1zM241.5 311.5h1v1h-1zM217 309.5h1v1h-1zM257 301.5h1v1h-1zM214 309.5h1v1h-1zM241.5 306h1v1h-1zM246.5 310.5h1v1h-1zM229.5 317.5h1v1h-1zM231 312.5h1v1h-1zM233.5 310h1v1h-1zM218.5 310.5h1v1h-1zM227 302h1v1h-1zM236.5 304.5h1v1h-1zM241.5 306.5h1v1h-1zM253.5 314h1v1h-1zM247.5 311h1v1h-1zM252.5 304h1v1h-1zM235 308.5h1v1h-1zM226.5 305.5h1v1h-1zM223 310.5h1v1h-1zM236.5 308.5h1v1h-1zM231.5 310.5h1v1h-1zM245.5 304h1v1h-1zM233.5 306.5h1v1h-1zM233.5 306.5h1v1h-1zM224 311.5h1v1h-1zM256.5 303.5h1v1h-1zM247 306h1v1h-1zM224 313.5h1v1h-1zM225 314.5h1v1h-1zM240 305.5h1v1h-1zM238 302h1v1h-1zM248 301h1v1h-1zM241.5 311.5h1v1h-1zM244 303.5h1v1h-1zM243.5 307.5h1v1h-1zM239 306.5h1v1h-1zM240 307h1v1h-1zM242.5 304.5h1v1h-1zM239.5 298.5h1v1h-1zM211.5 310.5h1v1h-1zM235.5 310.5h1v1h-1zM236 309h1v1h-1zM240 316.5h1v1h-1zM224.5 309.5h1v1h-1zM251 302h1v1h-1zM250.5 305h1v1h-1zM219 316.5h1v1h-1zM225 306h1v1h-1zM212.5 305.5h1v1h-1zM219 317h1v1h-1zM220 322.5h1v1h-1zM216.5 308h1v1h-1zM204.5 319h1v1h-1zM221 313h1v1h-1zM220.5 310h1v1h-1zM192 320.5h1v1h-1zM199 312h1v1h-1zM208 317h1v1h-1zM215.5 310.5h1v1h-1zM213 312.5h1v1h-1zM203.5 308.5h1v1h-1zM213.5 316.5h1v1h-1zM208 303h1v1h-1zM201 312.5h1v1h-1zM217.5 307.5h1v1h-1zM206 313.5h1v1h-1zM214 306.5h1v1h-1zM216 307h1v1h-1zM194.5 315h1v1h-1zM215.5 314h1v1h-1zM203 318.5h1v1h-1zM208.5 312h1v1h-1zM198 319h1v1h-1zM224.5 318h1v1h-1zM198 313.5h1v1h-1zM217.5 315.5h1v1h-1zM230.5 304h1v1h-1zM207.5 307h1v1h-1zM192 310.5h1v1h-1zM215 308.5h1v1h-1zM212 309.5h1v1h-1zM204 315.5h1v1h-1zM211.5 307h1v1h-1zM213.5 307.5h1v1h-1zM211 312h1v1h-1zM206.5 312.5h1v1h-1zM204 311h1v1h-1zM209 322h1v1h-1zM194.5 318h1v1h-1zM227 305h1v1h-1zM212.5 307.5h1v1h-1zM203 315.5h1v1h-1zM198.5 312h1v1h-1zM219 307h1v1h-1zM207.5 311h1v1h-1zM198.5 310h1v1h-1zM213.5 310.5h1v1h-1zM195 313.5h1v1h-1zM216 304h1v1h-1zM214.5 305.5h1v1h-1zM215 311h1v1h-1zM216 314h1v1h-1zM229.5 304h1v1h-1zM208.5 315h1v1h-1zM210 314.5h1v1h-1zM227.5 308h1v1h-1zM210 315h1v1h-1zM208 317.5h1v1h-1zM206.5 314.5h1v1h-1zM202.5 308.5h1v1h-1zM229 301.5h1v1h-1zM210 319h1v1h-1zM208 310h1v1h-1zM230 314h1v1h-1zM208.5 314.5h1v1h-1zM207 321h1v1h-1zM189 326.5h1v1h-1zM206 307.5h1v1h-1zM205 315.5h1v1h-1zM207.5 317h1v1h-1zM196.5 311.5h1v1h-1zM212.5 310h1v1h-1zM221.5 311h1v1h-1zM193.5 325.5h1v1h-1zM204.5 311h1v1h-1zM201.5 322.5h1v1h-1zM205.5 312h1v1h-1zM203 312.5h1v1h-1zM209.5 317.5h1v1h-1zM208.5 300h1v1h-1zM198 309h1v1h-1zM216 317.5h1v1h-1zM200 314h1v1h-1zM209 309.5h1v1h-1zM201.5 311.5h1v1h-1zM216 311h1v1h-1zM217.5 318.5h1v1h-1zM203.5 313.5h1v1h-1zM199.5 313.5h1v1h-1zM207 318.5h1v1h-1zM210 321h1v1h-1zM205 310h1v1h-1zM208 316.5h1v1h-1zM213 318h1v1h-1zM223 309h1v1h-1zM203 309.5h1v1h-1zM220.5 303.5h1v1h-1zM209 314.5h1v1h-1zM214 311h1v1h-1zM209.5 314.5h1v1h-1zM223 303h1v1h-1zM202 316h1v1h-1zM222 314.5h1v1h-1zM215.5 307.5h1v1h-1zM205 311.5h1v1h-1zM198.5 319.5h1v1h-1zM205 313h1v1h-1zM198 317h1v1h-1zM207 313.5h1v1h-1zM219.5 311h1v1h-1zM207 312h1v1h-1zM214.5 322.5h1v1h-1zM207.5 307.5h1v1h-1zM224 303h1v1h-1zM214.5 310.5h1v1h-1zM208.5 323h1v1h-1zM198 309.5h1v1h-1zM206.5 313h1v1h-1zM201.5 311h1v1h-1zM203.5 307h1v1h-1zM190 314.5h1v1h-1zM216 308h1v1h-1zM213.5 315.5h1v1h-1zM219.5 310.5h1v1h-1zM196 306h1v1h-1zM217 312.5h1v1h-1zM225 304h1v1h-1zM196.5 320h1v1h-1zM208 310.5h1v1h-1zM217 312.5h1v1h-1zM220.5 306h1v1h-1zM208.5 317h1v1h-1zM208 310h1v1h-1zM217 314.5h1v1h-1zM216.5 305.5h1v1h-1zM211 320.5h1v1h-1zM225.5 309h1v1h-1zM211 311.5h1v1h-1zM212 317h1v1h-1zM227.5 309.5h1v1h-1zM225 299h1v1h-1zM224 317h1v1h-1zM206.5 314h1v1h-1zM217.5 311h1v1h-1zM208.5 305h1v1h-1zM197.5 320.5h1v1h-1zM204.5 308.5h1v1h-1zM202.5 308.5h1v1h-1zM205.5 300h1v1h-1zM199 317.5h1v1h-1zM219.5 313.5h1v1h-1zM214 304.5h1v1h-1zM207.5 314h1v1h-1zM228 308.5h1v1h-1zM217.5 310h1v1h-1zM194 321.5h1v1h-1zM202 307.5h1v1h-1zM209.5 305.5h1v1h-1zM196.5 323.5h1v1h-1zM214 309.5h1v1h-1zM211.5 316h1v1h-1zM216.5 306.5h1v1h-1zM204.5 324.5h1v1h-1zM197 320.5h1v1h-1zM207 320h1v1h-1zM201 316h1v1h-1zM195 316h1v1h-1zM214 305h1v1h-1zM192 310h1v1h-1zM223 308.5h1v1h-1zM220.5 307h1v1h-1zM220 314.5h1v1h-1zM211.5 317.5h1v1h-1zM209 319h1v1h-1zM207.5 313h1v1h-1zM196.5 316h1v1h-1zM210 311.5h1v1h-1zM209 331.5h1v1h-1zM215.5 309h1v1h-1zM201 309h1v1h-1zM209.5 306.5h1v1h-1zM216 308.5h1v1h-1zM232 312.5h1v1h-1zM213.5 313.5h1v1h-1zM204 314h1v1h-1zM212 306h1v1h-1zM210.5 307h1v1h-1zM214.5 313.5h1v1h-1zM213 307.5h1v1h-1zM212.5 302.5h1v1h-1zM214 311.5h1v1h-1zM199 317.5h1v1h-1zM220.5 314.5h1v1h-1zM208.5 303h1v1h-1zM207 312h1v1h-1zM199 312.5h1v1h-1zM200.5 314h1v1h-1zM203.5 310.5h1v1h-1zM222 315.5h1v1h-1zM223.5 308h1v1h-1zM209 311h1v1h-1zM211.5 317h1v1h-1zM198.5 319h1v1h-1zM220 317.5h1v1h-1zM213.5 310h1v1h-1zM197 307h1v1h-1zM213 305.5h1v1h-1zM201.5 316h1v1h-1zM211 308h1v1h-1zM210.5 310h1v1h-1zM218.5 311h1v1h-1zM202.5 320h1v1h-1zM204 321h1v1h-1zM198 320.5h1v1h-1zM215 314.5h1v1h-1zM214.5 300.5h1v1h-1zM200.5 315h1v1h-1zM207 316.5h1v1h-1zM225 311.5h1v1h-1zM206.5 314h1v1h-1zM219.5 313.5h1v1h-1zM197.5 318h1v1h-1zM189.5 317.5h1v1h-1zM214 319.5h1v1h-1zM212 318h1v1h-1zM212 312.5h1v1h-1zM209 309.5h1v1h-1zM206 323.5h1v1h-1zM208 307h1v1h-1zM216 313.5h1v1h-1zM209 305.5h1v1h-1zM208 319h1v1h-1zM209 315h1v1h-1zM209.5 310h1v1h-1zM213 311.5h1v1h-1zM229 315.5h1v1h-1zM219 315.5h1v1h-1zM208.5 310h1v1h-1zM205 319h1v1h-1zM200.5 311.5h1v1h-1zM205.5 312.5h1v1h-1zM209 305.5h1v1h-1zM202 321h1v1h-1zM213.5 310.5h1v1h-1zM211 315.5h1v1h-1zM199 315h1v1h-1zM218 309h1v1h-1zM211 317.5h1v1h-1zM207 312h1v1h-1zM207.5 307h1v1h-1zM205.5 310.5h1v1h-1zM209.5 311h1v1h-1zM216.5 306.5h1v1h-1zM206.5 304h1v1h-1zM213 318.5h1v1h-1zM224.5 304h1v1h-1zM213 306h1v1h-1zM206 319.5h1v1h-1zM222 310.5h1v1h-1zM207.5 315.5h1v1h-1zM213 308h1v1h-1zM209.5 304h1v1h-1zM197.5 315.5h1v1h-1zM192 319h1v1h-1zM202.5 308.5h1v1h-1zM210 311.5h1v1h-1zM202 315.5h1v1h-1zM200 312.5h1v1h-1zM206 314.5h1v1h-1zM207 314.5h1v1h-1zM203.5 315h1v1h-1zM195.5 310h1v1h-1zM207 313.5h1v1h-1zM212 308.5h1v1h-1zM209 309.5h1v1h-1zM209 313.5h1v1h-1zM214.5 311.5h1v1h-1zM207 315h1v1h-1zM197.5 317h1v1h-1zM204.5 310h1v1h-1zM213.5 317.5h1v1h-1zM220 308.5h1v1h-1zM210.5 310.5h1v1h-1zM202 309h1v1h-1zM207 321h1v1h-1zM222.5 309h1v1h-1zM216.5 316h1v1h-1zM210 300h1v1h-1zM212 308.5h1v1h-1zM200 314h1v1h-1zM201.5 325.5h1v1h-1zM217 312.5h1v1h-1zM217.5 304h1v1h-1zM221.5 317h1v1h-1zM189 312h1v1h-1zM223.5 312.5h1v1h-1zM231.5 305.5h1v1h-1zM236 309h1v1h-1zM249 309.5h1v1h-1zM214.5 319h1v1h-1zM232.5 308.5h1v1h-1zM243 307.5h1v1h-1zM216.5 312h1v1h-1zM231.5 311h1v1h-1zM223.5 309.5h1v1h-1zM217 327.5h1v1h-1zM204 313.5h1v1h-1zM226 308h1v1h-1zM232.5 308.5h1v1h-1zM221.5 325h1v1h-1zM205.5 324.5h1v1h-1zM227.5 319.5h1v1h-1zM243 298.5h1v1h-1zM226 310h1v1h-1zM238.5 305h1v1h-1zM214 316.5h1v1h-1zM252 306h1v1h-1zM246 306.5h1v1h-1zM210 318h1v1h-1zM229 309.5h1v1h-1zM209 312.5h1v1h-1zM225 320h1v1h-1zM215 313h1v1h-1zM205.5 316h1v1h-1zM209.5 322h1v1h-1zM209.5 323h1v1h-1zM228.5 314h1v1h-1zM220.5 303.5h1v1h-1zM233.5 304.5h1v1h-1zM213 313.5h1v1h-1zM229 319h1v1h-1zM228 315.5h1v1h-1zM229.5 319.5h1v1h-1zM218.5 314.5h1v1h-1zM243 307h1v1h-1zM219.5 314h1v1h-1zM234.5 305.5h1v1h-1zM225.5 308.5h1v1h-1zM232.5 312.5h1v1h-1zM231.5 325h1v1h-1zM220.5 323h1v1h-1zM237 307.5h1v1h-1zM228.5 316.5h1v1h-1zM218.5 316.5h1v1h-1zM226 312.5h1v1h-1zM229 306h1v1h-1zM201.5 322.5h1v1h-1zM221.5 318h1v1h-1zM229.5 318h1v1h-1zM222 312h1v1h-1zM213 317.5h1v1h-1zM222 312.5h1v1h-1zM224.5 316h1v1h-1zM228.5 322h1v1h-1zM202.5 321h1v1h-1zM184.5 322.5h1v1h-1zM210.5 326h1v1h-1zM232.5 310h1v1h-1zM231.5 308h1v1h-1zM235.5 304h1v1h-1zM242 306h1v1h-1zM217 317h1v1h-1zM229 307h1v1h-1zM208.5 321.5h1v1h-1zM238.5 320h1v1h-1zM203.5 322.5h1v1h-1zM196.5 328.5h1v1h-1zM238 309.5h1v1h-1zM221 315.5h1v1h-1zM228.5 315h1v1h-1zM232.5 309.5h1v1h-1zM218 302.5h1v1h-1zM228 313.5h1v1h-1zM229.5 311h1v1h-1zM220 311h1v1h-1zM204 319.5h1v1h-1zM215.5 318h1v1h-1zM225 311h1v1h-1zM241 308.5h1v1h-1zM228.5 311.5h1v1h-1zM227.5 306.5h1v1h-1zM196 318h1v1h-1zM228.5 320h1v1h-1zM233 311h1v1h-1zM227 309.5h1v1h-1zM217.5 317h1v1h-1zM225 309.5h1v1h-1zM217.5 320h1v1h-1zM221 311.5h1v1h-1zM226.5 320h1v1h-1zM206 322h1v1h-1zM229 312.5h1v1h-1zM220.5 310h1v1h-1zM237.5 306h1v1h-1zM230 315h1v1h-1zM215.5 312.5h1v1h-1zM229 325h1v1h-1zM236.5 310.5h1v1h-1zM233.5 305.5h1v1h-1zM204 328h1v1h-1zM214 322h1v1h-1zM210 308.5h1v1h-1zM235.5 310.5h1v1h-1zM216 311h1v1h-1zM230 309h1v1h-1zM231.5 309h1v1h-1zM194 324.5h1v1h-1zM216 315h1v1h-1zM206.5 315h1v1h-1zM225.5 318.5h1v1h-1zM205.5 320h1v1h-1zM202.5 320h1v1h-1zM208 320.5h1v1h-1zM211 320h1v1h-1zM219 308.5h1v1h-1zM212 316.5h1v1h-1zM225 311h1v1h-1zM220.5 322h1v1h-1zM213.5 310.5h1v1h-1zM186.5 326h1v1h-1zM203.5 319.5h1v1h-1zM240 312h1v1h-1zM242 305.5h1v1h-1zM223.5 317.5h1v1h-1zM244.5 309h1v1h-1zM218.5 313.5h1v1h-1zM206.5 315.5h1v1h-1zM211 326h1v1h-1zM231.5 318h1v1h-1zM227 313.5h1v1h-1zM253 300h1v1h-1zM224 317.5h1v1h-1zM230 311h1v1h-1zM213.5 324.5h1v1h-1zM235.5 300.5h1v1h-1zM217 331h1v1h-1zM207 312.5h1v1h-1zM210.5 310.5h1v1h-1zM216.5 318.5h1v1h-1zM220 320.5h1v1h-1zM211 315h1v1h-1zM224 310h1v1h-1zM225 300h1v1h-1zM221.5 316h1v1h-1zM231.5 313h1v1h-1zM217 327h1v1h-1zM243 300h1v1h-1zM222 317h1v1h-1zM224 310.5h1v1h-1zM204.5 314.5h1v1h-1zM249.5 301.5h1v1h-1zM229.5 317.5h1v1h-1zM231 314.5h1v1h-1zM195 318.5h1v1h-1zM237.5 302.5h1v1h-1zM244 311.5h1v1h-1zM225 318.5h1v1h-1zM233 311.5h1v1h-1zM218 320.5h1v1h-1zM220.5 321h1v1h-1zM217 319.5h1v1h-1zM196 331h1v1h-1zM207 312h1v1h-1zM213 319.5h1v1h-1zM203 315h1v1h-1zM229.5 311h1v1h-1zM215.5 309.5h1v1h-1zM242.5 317.5h1v1h-1zM198.5 325h1v1h-1zM222.5 309h1v1h-1zM227 319h1v1h-1zM230.5 303h1v1h-1zM228.5 315.5h1v1h-1zM195.5 326h1v1h-1zM235.5 305h1v1h-1zM223.5 305.5h1v1h-1zM220.5 311h1v1h-1zM235 314h1v1h-1zM227 319h1v1h-1zM230.5 311h1v1h-1zM209.5 317.5h1v1h-1zM227 303h1v1h-1zM204.5 323.5h1v1h-1zM223 314.5h1v1h-1zM239.5 315h1v1h-1zM245.5 295.5h1v1h-1zM222.5 318.5h1v1h-1zM245 306.5h1v1h-1zM207.5 321h1v1h-1zM227 308h1v1h-1zM219.5 307.5h1v1h-1zM220.5 322.5h1v1h-1zM230 308h1v1h-1zM218 324h1v1h-1zM225 316h1v1h-1zM214.5 319.5h1v1h-1zM207 311.5h1v1h-1zM209.5 315h1v1h-1zM213 312h1v1h-1zM223.5 316h1v1h-1zM233.5 306.5h1v1h-1zM235.5 304.5h1v1h-1zM202 317h1v1h-1zM219.5 315h1v1h-1zM228.5 308h1v1h-1zM207 323h1v1h-1zM246.5 312.5h1v1h-1zM216 314h1v1h-1zM234 314h1v1h-1zM228 311h1v1h-1zM244 309h1v1h-1zM224 306.5h1v1h-1zM235.5 312h1v1h-1zM229 311.5h1v1h-1zM209 324.5h1v1h-1zM210 315h1v1h-1zM245 305.5h1v1h-1zM231 315h1v1h-1zM214 320.5h1v1h-1zM234.5 313.5h1v1h-1zM228 306h1v1h-1zM224.5 309h1v1h-1zM234.5 319h1v1h-1zM196.5 318.5h1v1h-1zM225 315h1v1h-1zM227.5 318h1v1h-1zM223.5 311.5h1v1h-1zM217 309.5h1v1h-1zM222 315.5h1v1h-1zM237.5 305h1v1h-1zM216.5 322h1v1h-1zM213.5 305h1v1h-1zM223.5 325h1v1h-1zM235.5 314h1v1h-1zM233 308.5h1v1h-1zM183 327.5h1v1h-1zM201.5 320.5h1v1h-1zM205.5 320h1v1h-1zM229 314h1v1h-1zM223.5 319.5h1v1h-1zM236.5 316.5h1v1h-1zM220.5 306h1v1h-1zM219.5 311h1v1h-1zM239 308.5h1v1h-1zM232.5 297.5h1v1h-1zM219 315.5h1v1h-1zM239 314h1v1h-1zM232 311h1v1h-1zM210.5 315h1v1h-1zM223.5 304.5h1v1h-1zM241.5 310.5h1v1h-1zM220 319.5h1v1h-1zM204.5 305h1v1h-1zM251 307h1v1h-1zM236.5 306.5h1v1h-1zM247 313.5h1v1h-1zM224 308.5h1v1h-1zM205.5 312.5h1v1h-1zM233.5 315.5h1v1h-1zM236 311h1v1h-1zM222.5 313h1v1h-1zM195.5 322h1v1h-1zM250 303h1v1h-1zM226 317h1v1h-1zM210.5 321.5h1v1h-1zM238 302h1v1h-1zM243.5 305h1v1h-1zM195.5 316h1v1h-1zM254 298.5h1v1h-1zM239 313h1v1h-1zM205.5 324h1v1h-1zM204 328h1v1h-1zM248.5 309.5h1v1h-1zM228 308.5h1v1h-1zM221 323.5h1v1h-1zM215 324h1v1h-1zM221.5 315h1v1h-1zM231.5 310.5h1v1h-1zM224.5 333.5h1v1h-1zM237 313.5h1v1h-1zM239 308h1v1h-1zM224 317h1v1h-1zM199.5 317h1v1h-1zM237.5 312h1v1h-1zM231.5 309.5h1v1h-1zM227.5 308.5h1v1h-1zM225.5 311.5h1v1h-1zM221.5 322h1v1h-1zM227 311.5h1v1h-1zM207 318.5h1v1h-1zM230.5 315h1v1h-1zM230.5 311h1v1h-1zM221 309h1v1h-1zM250.5 303.5h1v1h-1zM242.5 302.5h1v1h-1zM217.5 318h1v1h-1zM215.5 317h1v1h-1zM213.5 325h1v1h-1zM227.5 311h1v1h-1zM210.5 325h1v1h-1zM211 328h1v1h-1zM226.5 324.5h1v1h-1zM212.5 321h1v1h-1zM234.5 313.5h1v1h-1zM237.5 298.5h1v1h-1zM231.5 308.5h1v1h-1zM222 313.5h1v1h-1zM240.5 315.5h1v1h-1zM237.5 308.5h1v1h-1zM221 324h1v1h-1zM205 319h1v1h-1zM235 295.5h1v1h-1zM219.5 315h1v1h-1zM212.5 321h1v1h-1zM234.5 313.5h1v1h-1zM240 300h1v1h-1zM195.5 320h1v1h-1zM209.5 322h1v1h-1zM221.5 313.5h1v1h-1zM218 316h1v1h-1zM189 330h1v1h-1zM226.5 318h1v1h-1zM231.5 311.5h1v1h-1zM192 322.5h1v1h-1zM220.5 315.5h1v1h-1zM252.5 298h1v1h-1zM192.5 323h1v1h-1zM207 314.5h1v1h-1zM223 314.5h1v1h-1zM218.5 319.5h1v1h-1zM216 317.5h1v1h-1zM226.5 310.5h1v1h-1zM221 317h1v1h-1zM243 311h1v1h-1zM229.5 304h1v1h-1zM217.5 316h1v1h-1zM220 308.5h1v1h-1zM219 316h1v1h-1zM233.5 314.5h1v1h-1zM221 321h1v1h-1zM207.5 309h1v1h-1zM213 321.5h1v1h-1zM224.5 312h1v1h-1zM227 319h1v1h-1zM226 319.5h1v1h-1zM224.5 310.5h1v1h-1zM256 305.5h1v1h-1zM238 316.5h1v1h-1zM201 317.5h1v1h-1zM232.5 307h1v1h-1zM206 311.5h1v1h-1zM212.5 312.5h1v1h-1zM235.5 311h1v1h-1zM233 309h1v1h-1zM216.5 319h1v1h-1zM243 301.5h1v1h-1zM236 313.5h1v1h-1zM225 308.5h1v1h-1zM206.5 316.5h1v1h-1zM190.5 328h1v1h-1zM206 311.5h1v1h-1zM199.5 318h1v1h-1zM229 316.5h1v1h-1zM206 319.5h1v1h-1zM206.5 328h1v1h-1zM235.5 311h1v1h-1zM206 331.5h1v1h-1zM207 326h1v1h-1zM211 321h1v1h-1zM225.5 313.5h1v1h-1zM217 317h1v1h-1zM226 315h1v1h-1zM242 300h1v1h-1zM206 317.5h1v1h-1zM208.5 316.5h1v1h-1zM224.5 318.5h1v1h-1zM227.5 320h1v1h-1zM218.5 323h1v1h-1zM212.5 313.5h1v1h-1zM234.5 312.5h1v1h-1zM221.5 313h1v1h-1zM224 320.5h1v1h-1zM221.5 304.5h1v1h-1zM221 325h1v1h-1zM232.5 309h1v1h-1zM234 308.5h1v1h-1zM207.5 314h1v1h-1zM237 302h1v1h-1zM208.5 324.5h1v1h-1zM228 308.5h1v1h-1zM229 307h1v1h-1zM208.5 321.5h1v1h-1zM214 315.5h1v1h-1zM236.5 297h1v1h-1zM223 320.5h1v1h-1zM203.5 314h1v1h-1zM227 303.5h1v1h-1zM233.5 308h1v1h-1zM225.5 324h1v1h-1zM204 321h1v1h-1zM211 325.5h1v1h-1zM221.5 320h1v1h-1zM200 325h1v1h-1zM215 313h1v1h-1zM225.5 307h1v1h-1zM222 307h1v1h-1zM194.5 315.5h1v1h-1zM213.5 316h1v1h-1zM199.5 326h1v1h-1zM233 309.5h1v1h-1zM222 313h1v1h-1zM217.5 322h1v1h-1zM208.5 318h1v1h-1zM247 313h1v1h-1zM227.5 321h1v1h-1zM216 317.5h1v1h-1zM228 306h1v1h-1zM223 313h1v1h-1zM245 306.5h1v1h-1zM235.5 310h1v1h-1zM213 320h1v1h-1zM213 308.5h1v1h-1zM226 313.5h1v1h-1zM194 329h1v1h-1zM218.5 309h1v1h-1zM222 320h1v1h-1zM216 321.5h1v1h-1zM229 305.5h1v1h-1zM215.5 301.5h1v1h-1zM208.5 323.5h1v1h-1zM228.5 319.5h1v1h-1zM249.5 306.5h1v1h-1zM202.5 317h1v1h-1zM199 334.5h1v1h-1zM236 313h1v1h-1zM232 312h1v1h-1zM255 303.5h1v1h-1zM226.5 311h1v1h-1zM228 324h1v1h-1zM213 314.5h1v1h-1zM222.5 315h1v1h-1zM225 306.5h1v1h-1zM228 305.5h1v1h-1zM214.5 310h1v1h-1zM225.5 313h1v1h-1zM225 313.5h1v1h-1zM215 311h1v1h-1zM211 321h1v1h-1zM211.5 312h1v1h-1zM197.5 318.5h1v1h-1zM231.5 298h1v1h-1zM222 321.5h1v1h-1zM221.5 315h1v1h-1zM250 305h1v1h-1zM224.5 316.5h1v1h-1zM228 320h1v1h-1zM211.5 326h1v1h-1zM223 322h1v1h-1zM220 316h1v1h-1zM238.5 319h1v1h-1zM210 316.5h1v1h-1zM233 314.5h1v1h-1zM245 307.5h1v1h-1zM229.5 310h1v1h-1zM245.5 308h1v1h-1zM192.5 315h1v1h-1zM222 319.5h1v1h-1zM216.5 319h1v1h-1zM236.5 305h1v1h-1zM229.5 308h1v1h-1zM218 315.5h1v1h-1zM237 314.5h1v1h-1zM206 327h1v1h-1zM213.5 313.5h1v1h-1zM208.5 318.5h1v1h-1zM224 318h1v1h-1zM205.5 312h1v1h-1zM245.5 298h1v1h-1zM227.5 321h1v1h-1zM225.5 310.5h1v1h-1zM235 318.5h1v1h-1zM222.5 313.5h1v1h-1zM216.5 311.5h1v1h-1zM233.5 310h1v1h-1zM227 318h1v1h-1zM232.5 306h1v1h-1zM227.5 309h1v1h-1zM237 310h1v1h-1zM232.5 311.5h1v1h-1zM199.5 323.5h1v1h-1zM205 306.5h1v1h-1zM215.5 327.5h1v1h-1zM252 305.5h1v1h-1zM245.5 304h1v1h-1zM246.5 306h1v1h-1zM223 318h1v1h-1zM230.5 316h1v1h-1zM206.5 314h1v1h-1zM221 316h1v1h-1zM218 318.5h1v1h-1zM227 309h1v1h-1zM228.5 319.5h1v1h-1zM211.5 321.5h1v1h-1zM225.5 309h1v1h-1zM220 303.5h1v1h-1zM240 310.5h1v1h-1zM218.5 309h1v1h-1zM220 317h1v1h-1zM245.5 313h1v1h-1zM218 317.5h1v1h-1zM195 330.5h1v1h-1zM212 318.5h1v1h-1zM201 322.5h1v1h-1zM231.5 308.5h1v1h-1zM219 311h1v1h-1zM227 312.5h1v1h-1zM220.5 316.5h1v1h-1zM214 318h1v1h-1zM221 319h1v1h-1zM222 319h1v1h-1zM218 311.5h1v1h-1zM209.5 316h1v1h-1zM203.5 314h1v1h-1zM246 307h1v1h-1zM235 306.5h1v1h-1zM234 304h1v1h-1zM223 308.5h1v1h-1zM216 328.5h1v1h-1zM234 309h1v1h-1zM211 321h1v1h-1zM229.5 311.5h1v1h-1zM214.5 313h1v1h-1zM188.5 325h1v1h-1zM209 310.5h1v1h-1zM205 306.5h1v1h-1zM225.5 307.5h1v1h-1zM230.5 309h1v1h-1zM206.5 319h1v1h-1zM222 313.5h1v1h-1zM216.5 315.5h1v1h-1zM194.5 327h1v1h-1zM209 315h1v1h-1zM225.5 321h1v1h-1zM245 305.5h1v1h-1zM232 306h1v1h-1zM221.5 309.5h1v1h-1zM231 305.5h1v1h-1zM207.5 325.5h1v1h-1zM215 323h1v1h-1zM232 301.5h1v1h-1zM217 315.5h1v1h-1zM236.5 298.5h1v1h-1zM211 326.5h1v1h-1zM230 305h1v1h-1zM254 294.5h1v1h-1zM214.5 321h1v1h-1zM206.5 309.5h1v1h-1zM221 312.5h1v1h-1zM240.5 308h1v1h-1zM224 308.5h1v1h-1zM226.5 310.5h1v1h-1zM237.5 317h1v1h-1zM218.5 310h1v1h-1zM233 308.5h1v1h-1zM219.5 312h1v1h-1zM233.5 318h1v1h-1zM228 319h1v1h-1zM241 308.5h1v1h-1zM247.5 317h1v1h-1zM217.5 318h1v1h-1zM220.5 311h1v1h-1zM226 311.5h1v1h-1zM182.5 324.5h1v1h-1zM239.5 302h1v1h-1zM225 318h1v1h-1zM225 320h1v1h-1zM225.5 314h1v1h-1zM203 317.5h1v1h-1zM247 302h1v1h-1zM229 308h1v1h-1zM215.5 321.5h1v1h-1zM214.5 313h1v1h-1zM256.5 293h1v1h-1zM223.5 294h1v1h-1zM219 319.5h1v1h-1zM230.5 312h1v1h-1zM209.5 314.5h1v1h-1zM225 318h1v1h-1zM200.5 326h1v1h-1zM242 317h1v1h-1zM239.5 304.5h1v1h-1zM205 321h1v1h-1zM214 325h1v1h-1zM214.5 313h1v1h-1zM229.5 310.5h1v1h-1zM236 308h1v1h-1zM235.5 304.5h1v1h-1zM212.5 315.5h1v1h-1zM226 309h1v1h-1zM248 297.5h1v1h-1zM222.5 318h1v1h-1zM233 317h1v1h-1zM209 312.5h1v1h-1zM211 322.5h1v1h-1zM213 315h1v1h-1zM233.5 312h1v1h-1zM230 322.5h1v1h-1zM220 319h1v1h-1zM257.5 308h1v1h-1zM222 321.5h1v1h-1zM244 312.5h1v1h-1zM205.5 319h1v1h-1zM218.5 319.5h1v1h-1zM200.5 317h1v1h-1zM226 309.5h1v1h-1zM255 302h1v1h-1zM242 303.5h1v1h-1zM215.5 319.5h1v1h-1zM225.5 306h1v1h-1zM226 309.5h1v1h-1zM232.5 313.5h1v1h-1zM208.5 321.5h1v1h-1zM225.5 313h1v1h-1zM219.5 297.5h1v1h-1zM214.5 316h1v1h-1zM205 307.5h1v1h-1zM207.5 319h1v1h-1zM214 314h1v1h-1zM239 306h1v1h-1zM229 310h1v1h-1zM246 307h1v1h-1zM222.5 322.5h1v1h-1zM246.5 304.5h1v1h-1zM217.5 323.5h1v1h-1zM212 320h1v1h-1zM213 321.5h1v1h-1zM224.5 318.5h1v1h-1zM208.5 326.5h1v1h-1zM218 316.5h1v1h-1zM217 315h1v1h-1zM202.5 332h1v1h-1zM208 325h1v1h-1zM201 314.5h1v1h-1zM220.5 315.5h1v1h-1zM210 316.5h1v1h-1zM234.5 305.5h1v1h-1zM229 317.5h1v1h-1zM239 296.5h1v1h-1zM237 304h1v1h-1zM244.5 300h1v1h-1zM222 306h1v1h-1zM242 309h1v1h-1zM241.5 307h1v1h-1zM227 309h1v1h-1zM234 300.5h1v1h-1zM247.5 303h1v1h-1zM222 306.5h1v1h-1zM208.5 316h1v1h-1zM249.5 312h1v1h-1zM196.5 333.5h1v1h-1zM204 321.5h1v1h-1zM238 309h1v1h-1zM227.5 313h1v1h-1zM232 309h1v1h-1zM232 307.5h1v1h-1zM216.5 327.5h1v1h-1zM231.5 317h1v1h-1zM218.5 311.5h1v1h-1zM232.5 298h1v1h-1zM207.5 324.5h1v1h-1zM201 319h1v1h-1zM196.5 314.5h1v1h-1zM233.5 320h1v1h-1zM222 304.5h1v1h-1zM220 315h1v1h-1zM205 313.5h1v1h-1zM223.5 310h1v1h-1zM221 310h1v1h-1zM220.5 317h1v1h-1zM237.5 307h1v1h-1zM208 319h1v1h-1zM235.5 308.5h1v1h-1zM221.5 312.5h1v1h-1zM221 313h1v1h-1zM238.5 303.5h1v1h-1zM216 328h1v1h-1zM218.5 312h1v1h-1zM220.5 305h1v1h-1zM222.5 315.5h1v1h-1zM219 321.5h1v1h-1zM213.5 321.5h1v1h-1zM218 317h1v1h-1zM220 315.5h1v1h-1zM239 316h1v1h-1zM233.5 311.5h1v1h-1zM207 318h1v1h-1zM219.5 319.5h1v1h-1zM233.5 305h1v1h-1zM215.5 317.5h1v1h-1zM225.5 317.5h1v1h-1zM193.5 324h1v1h-1zM221.5 320h1v1h-1zM224 305h1v1h-1zM217.5 312h1v1h-1zM210.5 321h1v1h-1zM242 309.5h1v1h-1zM235.5 313h1v1h-1zM201.5 317.5h1v1h-1zM225 313h1v1h-1zM238 296h1v1h-1zM206 325.5h1v1h-1zM239.5 310.5h1v1h-1zM221.5 317h1v1h-1zM240.5 300.5h1v1h-1zM215 317h1v1h-1zM221 310h1v1h-1zM220 324h1v1h-1zM218 308h1v1h-1zM223.5 312.5h1v1h-1zM227.5 309h1v1h-1zM218.5 309h1v1h-1zM208.5 314h1v1h-1zM227.5 314h1v1h-1zM216 306h1v1h-1zM195 319.5h1v1h-1zM241 309.5h1v1h-1zM238 308h1v1h-1zM231.5 309.5h1v1h-1zM220 316.5h1v1h-1zM216 309h1v1h-1zM233.5 307.5h1v1h-1zM202 321h1v1h-1zM218.5 316.5h1v1h-1zM224 310.5h1v1h-1zM229.5 300.5h1v1h-1zM211.5 312h1v1h-1zM215 319h1v1h-1zM241.5 313.5h1v1h-1zM233 320.5h1v1h-1zM258 313h1v1h-1zM230 311h1v1h-1zM214 303.5h1v1h-1zM221 306.5h1v1h-1zM214 316.5h1v1h-1zM202 322h1v1h-1zM220.5 318h1v1h-1zM210 310.5h1v1h-1zM209 319h1v1h-1zM227.5 316.5h1v1h-1zM220 314h1v1h-1zM223 316.5h1v1h-1zM236.5 300h1v1h-1zM220.5 307h1v1h-1zM210.5 313.5h1v1h-1zM203.5 316.5h1v1h-1zM209.5 327h1v1h-1zM224.5 314h1v1h-1zM230 307h1v1h-1zM236.5 314h1v1h-1zM210 318h1v1h-1zM198.5 314.5h1v1h-1zM231 319h1v1h-1zM229 316.5h1v1h-1zM221.5 312.5h1v1h-1zM223.5 314h1v1h-1zM236.5 313h1v1h-1zM230.5 311.5h1v1h-1zM235.5 312h1v1h-1zM257.5 302.5h1v1h-1zM244 312.5h1v1h-1zM211.5 322h1v1h-1zM207.5 333.5h1v1h-1zM229.5 315h1v1h-1zM220.5 317.5h1v1h-1zM210 316h1v1h-1zM237.5 305.5h1v1h-1zM213.5 323.5h1v1h-1zM216 317.5h1v1h-1zM211.5 321.5h1v1h-1zM236 315.5h1v1h-1zM232 312h1v1h-1zM227.5 311h1v1h-1zM251 308h1v1h-1zM206.5 310h1v1h-1zM218 310h1v1h-1zM237 312h1v1h-1zM222.5 310h1v1h-1zM222 313h1v1h-1zM226 322.5h1v1h-1zM204.5 316.5h1v1h-1zM229 299h1v1h-1zM195.5 326h1v1h-1zM200.5 322h1v1h-1zM200 331.5h1v1h-1zM196.5 330.5h1v1h-1zM209 322h1v1h-1zM204 314.5h1v1h-1zM206 323.5h1v1h-1zM200.5 330.5h1v1h-1zM200.5 326h1v1h-1zM196.5 313.5h1v1h-1zM203.5 328h1v1h-1zM193 321h1v1h-1zM207.5 323.5h1v1h-1zM194 337h1v1h-1zM198 333.5h1v1h-1zM199.5 329h1v1h-1zM208.5 317.5h1v1h-1zM196.5 327h1v1h-1zM189 332h1v1h-1zM208.5 327h1v1h-1zM184 325h1v1h-1zM191.5 324h1v1h-1zM205 331h1v1h-1zM208.5 334h1v1h-1zM192.5 317.5h1v1h-1zM186 329.5h1v1h-1zM196.5 330h1v1h-1zM196 329h1v1h-1zM200 323.5h1v1h-1zM208.5 318.5h1v1h-1zM192 319.5h1v1h-1zM203 326.5h1v1h-1zM211 321.5h1v1h-1zM205.5 327.5h1v1h-1zM210.5 319h1v1h-1zM213.5 319h1v1h-1zM207.5 319h1v1h-1zM199.5 324.5h1v1h-1zM206 327.5h1v1h-1zM200.5 321.5h1v1h-1zM193 329.5h1v1h-1zM192.5 329.5h1v1h-1zM207 327h1v1h-1zM218.5 313h1v1h-1zM204.5 318.5h1v1h-1zM191 323.5h1v1h-1zM209 319h1v1h-1zM202.5 328.5h1v1h-1zM218 315.5h1v1h-1zM193 325h1v1h-1zM195 331h1v1h-1zM204.5 324.5h1v1h-1zM207.5 325.5h1v1h-1zM197 319.5h1v1h-1zM208 331h1v1h-1zM201 323.5h1v1h-1zM211 320h1v1h-1zM198 323.5h1v1h-1zM196 323h1v1h-1zM207.5 318h1v1h-1zM205 315h1v1h-1zM197.5 325.5h1v1h-1zM212 316h1v1h-1zM201 324.5h1v1h-1zM199.5 328h1v1h-1zM199 325.5h1v1h-1zM192.5 331.5h1v1h-1zM206.5 323h1v1h-1zM211.5 320h1v1h-1zM192 331.5h1v1h-1zM209 318h1v1h-1zM193.5 327h1v1h-1zM203.5 316.5h1v1h-1zM195 318.5h1v1h-1zM193.5 323.5h1v1h-1zM199 319.5h1v1h-1zM201 326.5h1v1h-1zM194.5 325.5h1v1h-1zM215 312.5h1v1h-1zM196.5 323.5h1v1h-1zM200 330h1v1h-1zM191 318.5h1v1h-1zM208 315h1v1h-1zM203.5 318.5h1v1h-1zM212 321h1v1h-1zM206 324.5h1v1h-1zM204 326h1v1h-1zM202.5 324h1v1h-1zM194.5 318.5h1v1h-1zM195.5 318.5h1v1h-1zM195.5 323h1v1h-1zM212 318.5h1v1h-1zM193 329.5h1v1h-1zM185.5 326h1v1h-1zM185.5 319.5h1v1h-1zM200 324h1v1h-1zM214 316.5h1v1h-1zM198.5 323.5h1v1h-1zM202 317.5h1v1h-1zM198 329.5h1v1h-1zM201.5 332.5h1v1h-1zM194.5 328h1v1h-1zM203 321.5h1v1h-1zM192 336h1v1h-1zM196 321.5h1v1h-1zM201 319h1v1h-1zM187.5 329h1v1h-1zM201 333h1v1h-1zM197.5 322h1v1h-1zM197 323h1v1h-1zM205 330.5h1v1h-1zM198.5 328.5h1v1h-1zM201.5 326h1v1h-1zM208.5 327.5h1v1h-1zM191 328.5h1v1h-1zM203.5 324.5h1v1h-1zM227 319h1v1h-1zM206.5 320h1v1h-1zM201.5 323.5h1v1h-1zM195.5 330h1v1h-1zM191 324h1v1h-1zM226.5 307.5h1v1h-1zM208.5 325.5h1v1h-1zM202.5 324h1v1h-1zM196.5 319.5h1v1h-1zM205.5 313.5h1v1h-1zM201 328h1v1h-1zM191 329.5h1v1h-1zM190 330h1v1h-1zM186 329.5h1v1h-1zM199.5 325h1v1h-1zM204.5 317.5h1v1h-1zM215 321h1v1h-1zM199 323.5h1v1h-1zM201.5 322h1v1h-1zM201.5 319h1v1h-1zM192 324.5h1v1h-1zM203 328h1v1h-1zM202 329h1v1h-1zM199 324h1v1h-1zM194 334h1v1h-1zM217 316.5h1v1h-1zM201 326h1v1h-1zM208 321.5h1v1h-1zM193.5 326.5h1v1h-1zM199.5 326h1v1h-1zM207 324.5h1v1h-1zM212 321.5h1v1h-1zM199.5 326.5h1v1h-1zM196.5 320h1v1h-1zM193 324.5h1v1h-1zM199.5 318.5h1v1h-1zM206 325.5h1v1h-1zM200.5 334h1v1h-1zM198.5 322h1v1h-1zM217.5 317.5h1v1h-1zM210 319h1v1h-1zM195.5 322h1v1h-1zM197.5 327.5h1v1h-1zM206.5 337.5h1v1h-1zM200.5 327.5h1v1h-1zM187 334.5h1v1h-1zM214 316h1v1h-1zM194.5 333h1v1h-1zM204.5 317.5h1v1h-1zM204.5 322.5h1v1h-1zM196 322.5h1v1h-1zM204 321.5h1v1h-1zM214 323h1v1h-1zM194 329h1v1h-1zM195.5 326.5h1v1h-1zM188 328.5h1v1h-1zM190.5 323h1v1h-1zM199.5 328h1v1h-1zM218.5 321.5h1v1h-1zM199 324h1v1h-1zM201 333h1v1h-1zM204 322.5h1v1h-1zM191 322h1v1h-1zM199.5 327h1v1h-1zM202.5 322.5h1v1h-1zM196 319.5h1v1h-1zM194.5 328h1v1h-1zM215.5 321h1v1h-1zM198.5 318h1v1h-1zM201.5 325.5h1v1h-1zM192.5 326h1v1h-1zM208 326.5h1v1h-1zM197.5 328h1v1h-1zM194 325.5h1v1h-1zM212.5 320h1v1h-1zM208 325h1v1h-1zM190.5 326.5h1v1h-1zM188.5 334h1v1h-1zM195.5 319.5h1v1h-1zM199.5 326.5h1v1h-1zM216.5 309.5h1v1h-1zM198.5 323.5h1v1h-1zM182 329.5h1v1h-1zM197.5 327h1v1h-1zM197 323.5h1v1h-1zM207.5 328h1v1h-1zM191.5 320.5h1v1h-1zM209.5 323h1v1h-1zM189 321.5h1v1h-1zM199 321.5h1v1h-1zM200.5 327h1v1h-1zM215.5 313.5h1v1h-1zM194 321.5h1v1h-1zM195 329.5h1v1h-1zM211.5 324h1v1h-1zM200.5 322.5h1v1h-1zM198 329.5h1v1h-1zM195.5 325h1v1h-1zM189.5 328h1v1h-1zM200 328.5h1v1h-1zM183.5 331h1v1h-1zM194.5 331.5h1v1h-1zM199.5 323.5h1v1h-1zM195.5 332.5h1v1h-1zM199 322.5h1v1h-1zM191 325.5h1v1h-1zM205 328h1v1h-1zM194.5 333.5h1v1h-1zM204 323.5h1v1h-1zM206.5 323.5h1v1h-1zM205.5 327h1v1h-1zM182.5 334.5h1v1h-1zM201.5 328.5h1v1h-1zM197 329h1v1h-1zM209.5 322h1v1h-1zM190.5 325.5h1v1h-1zM192 319.5h1v1h-1zM211 320.5h1v1h-1zM199 320h1v1h-1zM198 320h1v1h-1zM192.5 328h1v1h-1zM207 324.5h1v1h-1zM203 326h1v1h-1zM205 323.5h1v1h-1zM197 323.5h1v1h-1zM200.5 327h1v1h-1zM208 327.5h1v1h-1zM202 319.5h1v1h-1zM206 329.5h1v1h-1zM211 324.5h1v1h-1zM199.5 328.5h1v1h-1zM189 324h1v1h-1zM198 328h1v1h-1zM194 318h1v1h-1zM195 336h1v1h-1zM200 321h1v1h-1zM199 333.5h1v1h-1zM208 327h1v1h-1zM206.5 322h1v1h-1zM196 323h1v1h-1zM208 321.5h1v1h-1zM196.5 328h1v1h-1zM198.5 331h1v1h-1zM207.5 316.5h1v1h-1zM210 324h1v1h-1zM212 331h1v1h-1zM214.5 320h1v1h-1zM185 329.5h1v1h-1zM200 315.5h1v1h-1zM196 330.5h1v1h-1zM207.5 318h1v1h-1zM197 326.5h1v1h-1zM196 321h1v1h-1zM202 327.5h1v1h-1zM191.5 331h1v1h-1zM203 332.5h1v1h-1zM199.5 326h1v1h-1zM203.5 319.5h1v1h-1zM214.5 315.5h1v1h-1zM206.5 324h1v1h-1zM190 334.5h1v1h-1zM194.5 317.5h1v1h-1zM205 327h1v1h-1zM206.5 320h1v1h-1zM206 330.5h1v1h-1zM195 319.5h1v1h-1zM212.5 316h1v1h-1zM189 324h1v1h-1zM197.5 327h1v1h-1zM194.5 324.5h1v1h-1zM220.5 324.5h1v1h-1zM212 322h1v1h-1zM202.5 322h1v1h-1zM197 322.5h1v1h-1zM190 326.5h1v1h-1zM210 313.5h1v1h-1zM194.5 329.5h1v1h-1zM214 321.5h1v1h-1zM202.5 318h1v1h-1zM204.5 319.5h1v1h-1zM207 322h1v1h-1zM204 324.5h1v1h-1zM200.5 328.5h1v1h-1zM201 325.5h1v1h-1zM206.5 320h1v1h-1zM200 325h1v1h-1zM209.5 334h1v1h-1zM195 330.5h1v1h-1zM203.5 327.5h1v1h-1zM189 327h1v1h-1zM201.5 319h1v1h-1zM204 325.5h1v1h-1zM202.5 330.5h1v1h-1zM209 322h1v1h-1zM199 337.5h1v1h-1zM194 330h1v1h-1zM201 329h1v1h-1zM200 335h1v1h-1zM191 329.5h1v1h-1zM203 318.5h1v1h-1zM202.5 327h1v1h-1zM192.5 330.5h1v1h-1zM189.5 333.5h1v1h-1zM194.5 324.5h1v1h-1zM195 323.5h1v1h-1zM183.5 325h1v1h-1zM194.5 325h1v1h-1zM207 322.5h1v1h-1zM211 327h1v1h-1zM211.5 322h1v1h-1zM203.5 319.5h1v1h-1zM198 317h1v1h-1zM209 321h1v1h-1zM206 323h1v1h-1zM212 323.5h1v1h-1zM200 329h1v1h-1zM202.5 327.5h1v1h-1zM206.5 321h1v1h-1zM195.5 317h1v1h-1zM192 319.5h1v1h-1zM206 321h1v1h-1zM195.5 326h1v1h-1zM207 322h1v1h-1zM200 327h1v1h-1zM194.5 320h1v1h-1zM193 330h1v1h-1zM209.5 324.5h1v1h-1zM189 330.5h1v1h-1zM212.5 315h1v1h-1zM199 331.5h1v1h-1zM192.5 336h1v1h-1zM194.5 326h1v1h-1zM195 323h1v1h-1zM192.5 324h1v1h-1zM200.5 323h1v1h-1zM177 328.5h1v1h-1zM196 330h1v1h-1zM202.5 330h1v1h-1zM190 327h1v1h-1zM200.5 322h1v1h-1zM205 323h1v1h-1zM205 324h1v1h-1zM188 337.5h1v1h-1zM201.5 326.5h1v1h-1zM205.5 321h1v1h-1zM197 321h1v1h-1zM206 319h1v1h-1zM185.5 326h1v1h-1zM189 332h1v1h-1zM201 322h1v1h-1zM199.5 323.5h1v1h-1zM208.5 321.5h1v1h-1zM200.5 326.5h1v1h-1zM201.5 322.5h1v1h-1zM194.5 326.5h1v1h-1zM196.5 328h1v1h-1zM198 328.5h1v1h-1zM198 324h1v1h-1zM212 317.5h1v1h-1zM203.5 322.5h1v1h-1zM212.5 319.5h1v1h-1zM191.5 325h1v1h-1zM195.5 325.5h1v1h-1zM198.5 331.5h1v1h-1zM199.5 331h1v1h-1zM201 324h1v1h-1zM194 320h1v1h-1zM205 322.5h1v1h-1zM208 328h1v1h-1zM193.5 330.5h1v1h-1zM207 326h1v1h-1zM204 327.5h1v1h-1zM204 328h1v1h-1zM212 317.5h1v1h-1zM192 327h1v1h-1zM198 323h1v1h-1zM197 330h1v1h-1zM202 327.5h1v1h-1zM200 327.5h1v1h-1zM196.5 318h1v1h-1zM194 327h1v1h-1zM190.5 320.5h1v1h-1zM199 325.5h1v1h-1zM204 322h1v1h-1zM203.5 313.5h1v1h-1zM198.5 326h1v1h-1zM205.5 315.5h1v1h-1zM198.5 325.5h1v1h-1zM210 323.5h1v1h-1zM203.5 322.5h1v1h-1zM200 327h1v1h-1zM196 324h1v1h-1zM198 319.5h1v1h-1zM193 327h1v1h-1zM209 323h1v1h-1zM200.5 321h1v1h-1zM196.5 328.5h1v1h-1zM194.5 325h1v1h-1zM201.5 328.5h1v1h-1zM199 324.5h1v1h-1zM197.5 323h1v1h-1zM192 318.5h1v1h-1zM194.5 323h1v1h-1zM190 330.5h1v1h-1zM204 318h1v1h-1zM209.5 330h1v1h-1zM204.5 325.5h1v1h-1zM195 325h1v1h-1zM199.5 336.5h1v1h-1zM197 330h1v1h-1zM209 325h1v1h-1zM201.5 318.5h1v1h-1zM199.5 318.5h1v1h-1zM186.5 329.5h1v1h-1zM194 323h1v1h-1zM198.5 322.5h1v1h-1zM200 327.5h1v1h-1zM195 322h1v1h-1zM209 323.5h1v1h-1zM197 319.5h1v1h-1zM209.5 326.5h1v1h-1zM219 318.5h1v1h-1zM209.5 329.5h1v1h-1zM206.5 325h1v1h-1zM197 324h1v1h-1zM218 323.5h1v1h-1zM195 334h1v1h-1zM190 321h1v1h-1zM201.5 321h1v1h-1zM205.5 331h1v1h-1zM193.5 325h1v1h-1zM201.5 319.5h1v1h-1zM181.5 321.5h1v1h-1zM192.5 326.5h1v1h-1zM205.5 328.5h1v1h-1zM201.5 330.5h1v1h-1zM204.5 321.5h1v1h-1zM196.5 321.5h1v1h-1zM209.5 318.5h1v1h-1zM201.5 333.5h1v1h-1zM203 316h1v1h-1zM198.5 320h1v1h-1zM194.5 329.5h1v1h-1zM187.5 329h1v1h-1zM207.5 318.5h1v1h-1zM203.5 332.5h1v1h-1zM196.5 317h1v1h-1zM206.5 327h1v1h-1zM207.5 325h1v1h-1zM207.5 320h1v1h-1zM204.5 323h1v1h-1zM195 333h1v1h-1zM210.5 320.5h1v1h-1zM191.5 326h1v1h-1zM193.5 326.5h1v1h-1zM201 327.5h1v1h-1zM199.5 323.5h1v1h-1zM205 320.5h1v1h-1zM197 322h1v1h-1zM203 328h1v1h-1zM195.5 333.5h1v1h-1zM207.5 327h1v1h-1zM195.5 326h1v1h-1zM190.5 324h1v1h-1zM201 319h1v1h-1zM203.5 329.5h1v1h-1zM203 322h1v1h-1zM199 329.5h1v1h-1zM199 323h1v1h-1zM203.5 327h1v1h-1zM204 326.5h1v1h-1zM201 316h1v1h-1zM204 318.5h1v1h-1zM209 320.5h1v1h-1zM185 330h1v1h-1zM196.5 332h1v1h-1zM197 321.5h1v1h-1zM196.5 318.5h1v1h-1zM206 328h1v1h-1zM193 323.5h1v1h-1zM200 324h1v1h-1zM209 315h1v1h-1zM202 328h1v1h-1zM219 317h1v1h-1zM211 326.5h1v1h-1zM188.5 331h1v1h-1zM207.5 320h1v1h-1zM202.5 328h1v1h-1zM201 319.5h1v1h-1zM197 326h1v1h-1zM199 323h1v1h-1zM199.5 324.5h1v1h-1zM212.5 326.5h1v1h-1zM182 330.5h1v1h-1zM196 323h1v1h-1zM197.5 323h1v1h-1zM209.5 316h1v1h-1zM202.5 333h1v1h-1zM188 327h1v1h-1zM202 324.5h1v1h-1zM215.5 322.5h1v1h-1zM192.5 327.5h1v1h-1zM203.5 314.5h1v1h-1zM219.5 316h1v1h-1zM200.5 325.5h1v1h-1zM201.5 323.5h1v1h-1zM203 320h1v1h-1zM194 335h1v1h-1zM189.5 320.5h1v1h-1zM194 328h1v1h-1zM202 323.5h1v1h-1zM211 315.5h1v1h-1zM210 313.5h1v1h-1zM215 323.5h1v1h-1zM204.5 320.5h1v1h-1zM192.5 326.5h1v1h-1zM196 327h1v1h-1zM202 319h1v1h-1zM195.5 332.5h1v1h-1zM199 326.5h1v1h-1zM212.5 314h1v1h-1zM186 320.5h1v1h-1zM192 327h1v1h-1zM201 326h1v1h-1zM182 334.5h1v1h-1zM202 322.5h1v1h-1zM195 336h1v1h-1zM203.5 329h1v1h-1zM210 320.5h1v1h-1zM193.5 328.5h1v1h-1zM204 328h1v1h-1zM198.5 326h1v1h-1zM199 324.5h1v1h-1zM194.5 328h1v1h-1zM203 320h1v1h-1zM226 312.5h1v1h-1zM196 323.5h1v1h-1zM206 328.5h1v1h-1zM192 326h1v1h-1zM202 310.5h1v1h-1zM195.5 329h1v1h-1zM206.5 326.5h1v1h-1zM194 326h1v1h-1zM201.5 320.5h1v1h-1zM228.5 303.5h1v1h-1zM169.5 326h1v1h-1zM211 310h1v1h-1zM222.5 303.5h1v1h-1zM182.5 329.5h1v1h-1zM226 329h1v1h-1zM229.5 309h1v1h-1zM210.5 308.5h1v1h-1zM203.5 305.5h1v1h-1zM222.5 326.5h1v1h-1zM234.5 316.5h1v1h-1zM234.5 318.5h1v1h-1zM227 311h1v1h-1zM205 342h1v1h-1zM224.5 314h1v1h-1zM256.5 302.5h1v1h-1zM222.5 316.5h1v1h-1zM246 294h1v1h-1zM189 320.5h1v1h-1zM249.5 302h1v1h-1zM222.5 311.5h1v1h-1zM239 328.5h1v1h-1zM237.5 319h1v1h-1zM221 322.5h1v1h-1zM208 323h1v1h-1zM234.5 299h1v1h-1zM227 313.5h1v1h-1zM228 313.5h1v1h-1zM234 321h1v1h-1zM210.5 333.5h1v1h-1zM234 304h1v1h-1zM224 319h1v1h-1zM218 319h1v1h-1zM244.5 307.5h1v1h-1zM249.5 294.5h1v1h-1zM208 325.5h1v1h-1zM213 322h1v1h-1zM239.5 308.5h1v1h-1zM215.5 316.5h1v1h-1zM189.5 304h1v1h-1zM180 324h1v1h-1zM233 294h1v1h-1zM199 325h1v1h-1zM206.5 322.5h1v1h-1zM195.5 306.5h1v1h-1zM219.5 321.5h1v1h-1zM220 302h1v1h-1zM228 316h1v1h-1zM183 320.5h1v1h-1zM215 322h1v1h-1zM212 310h1v1h-1zM205 309.5h1v1h-1zM194 324.5h1v1h-1zM247.5 312h1v1h-1zM169 334h1v1h-1zM214 311h1v1h-1zM196.5 314.5h1v1h-1zM234.5 301h1v1h-1zM197.5 318h1v1h-1zM233.5 319.5h1v1h-1zM245 319h1v1h-1zM243.5 297.5h1v1h-1zM247.5 299h1v1h-1zM242.5 297.5h1v1h-1zM246 300h1v1h-1zM192.5 312h1v1h-1zM213.5 315h1v1h-1zM247.5 327h1v1h-1zM243 321h1v1h-1zM223 302.5h1v1h-1zM191.5 322.5h1v1h-1zM231 300.5h1v1h-1zM236 301h1v1h-1zM237 300h1v1h-1zM234.5 294.5h1v1h-1zM218.5 321h1v1h-1zM245.5 292h1v1h-1zM219.5 312h1v1h-1zM241.5 304.5h1v1h-1zM210 326h1v1h-1zM234 311h1v1h-1zM240 295.5h1v1h-1zM231.5 329.5h1v1h-1zM189 333.5h1v1h-1zM208.5 321.5h1v1h-1zM222 307h1v1h-1zM219 305h1v1h-1zM251 305h1v1h-1zM230.5 317h1v1h-1zM214.5 312.5h1v1h-1zM191.5 316h1v1h-1zM220.5 321h1v1h-1zM240.5 310h1v1h-1zM206.5 328h1v1h-1zM230.5 313.5h1v1h-1zM200.5 332h1v1h-1zM237.5 302h1v1h-1zM181 334.5h1v1h-1zM172.5 329h1v1h-1zM182.5 317h1v1h-1zM227.5 332.5h1v1h-1zM252 312h1v1h-1zM206 337h1v1h-1zM208 317h1v1h-1zM245.5 289.5h1v1h-1zM231 307h1v1h-1zM202.5 313h1v1h-1zM224.5 341h1v1h-1zM228.5 294.5h1v1h-1zM237 300.5h1v1h-1zM244 304h1v1h-1zM227 322.5h1v1h-1zM246 315.5h1v1h-1zM226.5 308.5h1v1h-1zM220 336h1v1h-1zM241.5 313h1v1h-1zM221 315.5h1v1h-1zM223.5 308.5h1v1h-1zM232 315h1v1h-1zM234.5 324.5h1v1h-1zM209 337h1v1h-1zM244.5 301.5h1v1h-1zM212 319h1v1h-1zM219.5 315.5h1v1h-1zM207.5 312.5h1v1h-1zM215 310h1v1h-1zM218.5 321h1v1h-1zM225 316.5h1v1h-1zM213.5 310h1v1h-1zM239.5 298.5h1v1h-1zM255.5 310.5h1v1h-1zM229.5 304h1v1h-1zM214.5 330.5h1v1h-1zM213.5 318.5h1v1h-1zM245 321.5h1v1h-1zM223 320.5h1v1h-1zM216.5 317.5h1v1h-1zM214 325.5h1v1h-1zM243 312h1v1h-1zM237 284h1v1h-1zM241 291.5h1v1h-1zM196.5 315h1v1h-1zM196 326.5h1v1h-1zM193 306.5h1v1h-1zM215.5 297h1v1h-1zM211.5 321h1v1h-1zM194 302.5h1v1h-1zM236 299h1v1h-1zM210.5 308.5h1v1h-1zM174 328h1v1h-1zM237 327h1v1h-1zM189.5 342h1v1h-1zM252.5 301.5h1v1h-1zM196 315h1v1h-1zM213 302.5h1v1h-1zM219 318h1v1h-1zM208 324.5h1v1h-1zM236.5 333h1v1h-1zM202.5 330.5h1v1h-1zM165.5 336h1v1h-1zM218 351h1v1h-1zM177 330.5h1v1h-1zM206 327.5h1v1h-1zM234.5 320h1v1h-1zM242 303h1v1h-1zM193 338.5h1v1h-1zM214 319.5h1v1h-1zM211 355h1v1h-1zM187.5 336.5h1v1h-1zM236 311.5h1v1h-1zM218 328h1v1h-1zM226.5 351.5h1v1h-1zM198.5 323h1v1h-1zM257.5 326.5h1v1h-1zM233.5 312.5h1v1h-1zM183.5 343h1v1h-1zM182 308h1v1h-1zM233 328h1v1h-1zM221.5 328h1v1h-1zM204 305h1v1h-1zM196 321h1v1h-1zM222 322.5h1v1h-1zM187.5 315h1v1h-1zM221 347h1v1h-1zM212 317h1v1h-1zM213 357.5h1v1h-1zM238 313h1v1h-1zM210 324h1v1h-1zM194.5 312.5h1v1h-1zM231.5 334h1v1h-1zM171 337h1v1h-1zM235.5 312.5h1v1h-1zM169.5 351h1v1h-1zM197 331.5h1v1h-1zM220 329h1v1h-1zM214.5 338h1v1h-1zM232.5 313.5h1v1h-1zM213 307.5h1v1h-1zM199 346h1v1h-1zM194 326.5h1v1h-1zM210 327.5h1v1h-1z" fill="#0c0c0c"/>
<rect x="25.5" y="282.5" width="101.8" height="108.7" fill="none" stroke="#1a1a1a" stroke-width="1"/>
<path d="M86.4 282.5L86.4 391.2" stroke="#222" stroke-width="0.9" fill="none"/>
<path d="M25.5 319.2L127.3 319.2" stroke="#222" stroke-width="0.9" fill="none"/>
<path d="M25.5 391.2L25.5 394.6M33.16 391.2L33.16 393.4M37.64 391.2L37.64 393.4M40.82 391.2L40.82 393.4M43.29 391.2L43.29 393.4M45.3 391.2L45.3 393.4M47.01 391.2L47.01 393.4M48.48 391.2L48.48 393.4M49.79 391.2L49.79 393.4M50.95 391.2L50.95 394.6M58.61 391.2L58.61 393.4M63.09 391.2L63.09 393.4M66.27 391.2L66.27 393.4M68.74 391.2L68.74 393.4M70.75 391.2L70.75 393.4M72.46 391.2L72.46 393.4M73.93 391.2L73.93 393.4M75.24 391.2L75.24 393.4M76.4 391.2L76.4 394.6M84.06 391.2L84.06 393.4M88.54 391.2L88.54 393.4M91.72 391.2L91.72 393.4M94.19 391.2L94.19 393.4M96.2 391.2L96.2 393.4M97.91 391.2L97.91 393.4M99.38 391.2L99.38 393.4M100.69 391.2L100.69 393.4M101.85 391.2L101.85 394.6M109.51 391.2L109.51 393.4M113.99 391.2L113.99 393.4M117.17 391.2L117.17 393.4M119.64 391.2L119.64 393.4M121.65 391.2L121.65 393.4M123.36 391.2L123.36 393.4M124.83 391.2L124.83 393.4M126.14 391.2L126.14 393.4M127.3 391.2L127.3 394.6" stroke="#222" stroke-width="1.05" fill="none"/>
<path d="M25.5 391.2L22.1 391.2M25.5 383.02L23.3 383.02M25.5 378.23L23.3 378.23M25.5 374.84L23.3 374.84M25.5 372.21L23.3 372.21M25.5 370.05L23.3 370.05M25.5 368.23L23.3 368.23M25.5 366.66L23.3 366.66M25.5 365.27L23.3 365.27M25.5 364.02L22.1 364.02M25.5 355.84L23.3 355.84M25.5 351.06L23.3 351.06M25.5 347.66L23.3 347.66M25.5 345.03L23.3 345.03M25.5 342.88L23.3 342.88M25.5 341.06L23.3 341.06M25.5 339.48L23.3 339.48M25.5 338.09L23.3 338.09M25.5 336.85L22.1 336.85M25.5 328.67L23.3 328.67M25.5 323.88L23.3 323.88M25.5 320.49L23.3 320.49M25.5 317.86L23.3 317.86M25.5 315.7L23.3 315.7M25.5 313.88L23.3 313.88M25.5 312.31L23.3 312.31M25.5 310.92L23.3 310.92M25.5 309.68L22.1 309.68M25.5 301.49L23.3 301.49M25.5 296.71L23.3 296.71M25.5 293.31L23.3 293.31M25.5 290.68L23.3 290.68M25.5 288.53L23.3 288.53M25.5 286.71L23.3 286.71M25.5 285.13L23.3 285.13M25.5 283.74L23.3 283.74M25.5 282.5L22.1 282.5" stroke="#222" stroke-width="1.05" fill="none"/>
<text transform="translate(21.15 402.4) scale(0.9 1)" font-size="7.3">10<tspan dy="-3.6" font-size="6.8">0</tspan></text>
<text transform="translate(20.4 395.35) rotate(-90) scale(0.9 1)" font-size="7.3">10<tspan dy="-4.2" font-size="6.8">0</tspan></text>
<text transform="translate(46.27 402.4) scale(0.9 1)" font-size="7.3">10<tspan dy="-3.6" font-size="6.8">1</tspan></text>
<text transform="translate(20.4 368.43) rotate(-90) scale(0.9 1)" font-size="7.3">10<tspan dy="-4.2" font-size="6.8">1</tspan></text>
<text transform="translate(71.4 402.4) scale(0.9 1)" font-size="7.3">10<tspan dy="-3.6" font-size="6.8">2</tspan></text>
<text transform="translate(20.4 341.5) rotate(-90) scale(0.9 1)" font-size="7.3">10<tspan dy="-4.2" font-size="6.8">2</tspan></text>
<text transform="translate(96.52 402.4) scale(0.9 1)" font-size="7.3">10<tspan dy="-3.6" font-size="6.8">3</tspan></text>
<text transform="translate(20.4 314.58) rotate(-90) scale(0.9 1)" font-size="7.3">10<tspan dy="-4.2" font-size="6.8">3</tspan></text>
<text transform="translate(121.65 402.4) scale(0.9 1)" font-size="7.3">10<tspan dy="-3.6" font-size="6.8">4</tspan></text>
<text transform="translate(20.4 287.65) rotate(-90) scale(0.9 1)" font-size="7.3">10<tspan dy="-4.2" font-size="6.8">4</tspan></text>
<text x="47.6" y="410.4" font-size="6.95" fill="#222">ANNEXIN-V FITC</text>
<text x="9.6" y="337.3" font-size="7" text-anchor="middle" transform="rotate(-90 9.6 337.3)" fill="#222">CD10 PerCP</text>
<rect x="160.1" y="282.8" width="101.6" height="108.7" fill="none" stroke="#1a1a1a" stroke-width="1"/>
<path d="M221.1 282.8L221.1 391.5" stroke="#222" stroke-width="0.9" fill="none"/>
<path d="M160.1 319.2L261.7 319.2" stroke="#222" stroke-width="0.9" fill="none"/>
<path d="M160.1 391.5L160.1 394.9M167.75 391.5L167.75 393.7M172.22 391.5L172.22 393.7M175.39 391.5L175.39 393.7M177.85 391.5L177.85 393.7M179.87 391.5L179.87 393.7M181.57 391.5L181.57 393.7M183.04 391.5L183.04 393.7M184.34 391.5L184.34 393.7M185.5 391.5L185.5 394.9M193.15 391.5L193.15 393.7M197.62 391.5L197.62 393.7M200.79 391.5L200.79 393.7M203.25 391.5L203.25 393.7M205.27 391.5L205.27 393.7M206.97 391.5L206.97 393.7M208.44 391.5L208.44 393.7M209.74 391.5L209.74 393.7M210.9 391.5L210.9 394.9M218.55 391.5L218.55 393.7M223.02 391.5L223.02 393.7M226.19 391.5L226.19 393.7M228.65 391.5L228.65 393.7M230.67 391.5L230.67 393.7M232.37 391.5L232.37 393.7M233.84 391.5L233.84 393.7M235.14 391.5L235.14 393.7M236.3 391.5L236.3 394.9M243.95 391.5L243.95 393.7M248.42 391.5L248.42 393.7M251.59 391.5L251.59 393.7M254.05 391.5L254.05 393.7M256.07 391.5L256.07 393.7M257.77 391.5L257.77 393.7M259.24 391.5L259.24 393.7M260.54 391.5L260.54 393.7M261.7 391.5L261.7 394.9" stroke="#222" stroke-width="1.05" fill="none"/>
<path d="M160.1 391.5L156.7 391.5M160.1 383.32L157.9 383.32M160.1 378.53L157.9 378.53M160.1 375.14L157.9 375.14M160.1 372.51L157.9 372.51M160.1 370.35L157.9 370.35M160.1 368.53L157.9 368.53M160.1 366.96L157.9 366.96M160.1 365.57L157.9 365.57M160.1 364.32L156.7 364.32M160.1 356.14L157.9 356.14M160.1 351.36L157.9 351.36M160.1 347.96L157.9 347.96M160.1 345.33L157.9 345.33M160.1 343.18L157.9 343.18M160.1 341.36L157.9 341.36M160.1 339.78L157.9 339.78M160.1 338.39L157.9 338.39M160.1 337.15L156.7 337.15M160.1 328.97L157.9 328.97M160.1 324.18L157.9 324.18M160.1 320.79L157.9 320.79M160.1 318.16L157.9 318.16M160.1 316L157.9 316M160.1 314.18L157.9 314.18M160.1 312.61L157.9 312.61M160.1 311.22L157.9 311.22M160.1 309.98L156.7 309.98M160.1 301.79L157.9 301.79M160.1 297.01L157.9 297.01M160.1 293.61L157.9 293.61M160.1 290.98L157.9 290.98M160.1 288.83L157.9 288.83M160.1 287.01L157.9 287.01M160.1 285.43L157.9 285.43M160.1 284.04L157.9 284.04M160.1 282.8L156.7 282.8" stroke="#222" stroke-width="1.05" fill="none"/>
<text transform="translate(155.75 402.7) scale(0.9 1)" font-size="7.3">10<tspan dy="-3.6" font-size="6.8">0</tspan></text>
<text transform="translate(155 395.65) rotate(-90) scale(0.9 1)" font-size="7.3">10<tspan dy="-4.2" font-size="6.8">0</tspan></text>
<text transform="translate(180.82 402.7) scale(0.9 1)" font-size="7.3">10<tspan dy="-3.6" font-size="6.8">1</tspan></text>
<text transform="translate(155 368.73) rotate(-90) scale(0.9 1)" font-size="7.3">10<tspan dy="-4.2" font-size="6.8">1</tspan></text>
<text transform="translate(205.9 402.7) scale(0.9 1)" font-size="7.3">10<tspan dy="-3.6" font-size="6.8">2</tspan></text>
<text transform="translate(155 341.8) rotate(-90) scale(0.9 1)" font-size="7.3">10<tspan dy="-4.2" font-size="6.8">2</tspan></text>
<text transform="translate(230.97 402.7) scale(0.9 1)" font-size="7.3">10<tspan dy="-3.6" font-size="6.8">3</tspan></text>
<text transform="translate(155 314.88) rotate(-90) scale(0.9 1)" font-size="7.3">10<tspan dy="-4.2" font-size="6.8">3</tspan></text>
<text transform="translate(256.05 402.7) scale(0.9 1)" font-size="7.3">10<tspan dy="-3.6" font-size="6.8">4</tspan></text>
<text transform="translate(155 287.95) rotate(-90) scale(0.9 1)" font-size="7.3">10<tspan dy="-4.2" font-size="6.8">4</tspan></text>
<text x="182.6" y="410.4" font-size="6.95" fill="#222">ANNEXIN-V FITC</text>
<text x="144.2" y="337.3" font-size="7" text-anchor="middle" transform="rotate(-90 144.2 337.3)" fill="#222">CD10 PerCP</text>
<text x="53.3" y="264.8" font-size="9.6" font-weight="bold" letter-spacing="0.38" fill="#000">MEDIUM</text>
<text y="263.9" font-size="9.6" font-weight="bold" letter-spacing="0.2" fill="#000"><tspan x="178.0">+CD95</tspan> <tspan x="218.5">mAb</tspan></text>
<text x="111.7" y="293.4" font-size="9.8" fill="#222">8%</text>
<text x="236.2" y="294.1" font-size="9.8" fill="#222">50%</text>
<path d="M304.5 323.98L305 323.98L305 323.9L305.5 323.9L305.5 323.92L306 323.92L306 324.17L306.5 324.17L306.5 323.28L307 323.28L307 323.44L307.5 323.44L307.5 323.78L308 323.78L308 323.65L308.5 323.65L308.5 324.16L309 324.16L309 323.82L309.5 323.82L309.5 323.51L310 323.51L310 323.48L310.5 323.48L310.5 323.63L311 323.63L311 324.05L311.5 324.05L311.5 323.94L312 323.94L312 323.09L312.5 323.09L312.5 323.72L313 323.72L313 323.52L313.5 323.52L313.5 323.77L314 323.77L314 323.27L314.5 323.27L314.5 323.23L315 323.23L315 323.69L315.5 323.69L315.5 323.87L316 323.87L316 323.61L316.5 323.61L316.5 323.84L317 323.84L317 323.58L317.5 323.58L317.5 323.08L318 323.08L318 323.49L318.5 323.49L318.5 323.22L319 323.22L319 322.96L319.5 322.96L319.5 322.86L320 322.86L320 323.52L320.5 323.52L320.5 323.19L321 323.19L321 323.57L321.5 323.57L321.5 323.15L322 323.15L322 323.12L322.5 323.12L322.5 322.29L323 322.29L323 322.95L323.5 322.95L323.5 322.57L324 322.57L324 322.89L324.5 322.89L324.5 322.1L325 322.1L325 322.7L325.5 322.7L325.5 322.73L326 322.73L326 321.91L326.5 321.91L326.5 322.02L327 322.02L327 321.94L327.5 321.94L327.5 322.02L328 322.02L328 322.03L328.5 322.03L328.5 320.75L329 320.75L329 321.46L329.5 321.46L329.5 320.04L330 320.04L330 320.56L330.5 320.56L330.5 319.49L331 319.49L331 319.18L331.5 319.18L331.5 317.96L332 317.96L332 317.41L332.5 317.41L332.5 316.54L333 316.54L333 313.95L333.5 313.95L333.5 312.59L334 312.59L334 311.61L334.5 311.61L334.5 308.58L335 308.58L335 307.27L335.5 307.27L335.5 303.34L336 303.34L336 302.01L336.5 302.01L336.5 298.22L337 298.22L337 297.19L337.5 297.19L337.5 295.06L338 295.06L338 287.62L338.5 287.62L338.5 286.49L339 286.49L339 285.66L339.5 285.66L339.5 283.76L340 283.76L340 277.13L340.5 277.13L340.5 275.86L341 275.86L341 278.41L341.5 278.41L341.5 276.86L342 276.86L342 276.81L342.5 276.81L342.5 274.96L343 274.96L343 273.48L343.5 273.48L343.5 272.3L344 272.3L344 276.09L344.5 276.09L344.5 277.85L345 277.85L345 278.49L345.5 278.49L345.5 279.28L346 279.28L346 281.43L346.5 281.43L346.5 284.66L347 284.66L347 285.65L347.5 285.65L347.5 287.96L348 287.96L348 290.88L348.5 290.88L348.5 291.67L349 291.67L349 295.9L349.5 295.9L349.5 296.59L350 296.59L350 299.69L350.5 299.69L350.5 300.49L351 300.49L351 304L351.5 304L351.5 303.99L352 303.99L352 305.84L352.5 305.84L352.5 306.04L353 306.04L353 307.36L353.5 307.36L353.5 310.03L354 310.03L354 309.71L354.5 309.71L354.5 310.66L355 310.66L355 312.8L355.5 312.8L355.5 313.28L356 313.28L356 314.35L356.5 314.35L356.5 314.95L357 314.95L357 315.93L357.5 315.93L357.5 316.04L358 316.04L358 316.42L358.5 316.42L358.5 316.82L359 316.82L359 318.11L359.5 318.11L359.5 318.62L360 318.62L360 318.83L360.5 318.83L360.5 319.97L361 319.97L361 320.31L361.5 320.31L361.5 320.56L362 320.56L362 320.55L362.5 320.55L362.5 320.68L363 320.68L363 320.87L363.5 320.87L363.5 321.83L364 321.83L364 321.67L364.5 321.67L364.5 321.37L365 321.37L365 322.19L365.5 322.19L365.5 322.27L366 322.27L366 322.89L366.5 322.89L366.5 322.72L367 322.72L367 322.57L367.5 322.57L367.5 323.05L368 323.05L368 323.31L368.5 323.31L368.5 322.71L369 322.71L369 322.61L369.5 322.61L369.5 323.2L370 323.2L370 322.85L370.5 322.85L370.5 323.44L371 323.44L371 322.94L371.5 322.94L371.5 323.6L372 323.6L372 323.76L372.5 323.76L372.5 323.57L373 323.57L373 323.17L373.5 323.17L373.5 323.96L374 323.96L374 323.68L374.5 323.68L374.5 323.38L375 323.38L375 323.85L375.5 323.85L375.5 323.22L376 323.22L376 323.53L376.5 323.53L376.5 323.48L377 323.48L377 323.51L377.5 323.51L377.5 323.47L378 323.47L378 323.67L378.5 323.67L378.5 323.86L379 323.86L379 323.74L379.5 323.74L379.5 323.45L380 323.45L380 324.14L380.5 324.14L380.5 323.68L381 323.68L381 323.35L381.5 323.35L381.5 324.12L382 324.12L382 323.77L382.5 323.77L382.5 323.51L383 323.51L383 323.67L383.5 323.67L383.5 323.85L384 323.85L384 323.48L384.5 323.48L384.5 323.87L385 323.87L385 324.09L385.5 324.09L385.5 323.58L386 323.58L386 323.89L386.5 323.89L386.5 323.45L387 323.45L387 323.75L387.5 323.75L387.5 323.77L388 323.77L388 324.05L388.5 324.05L388.5 323.56L389 323.56L389 323.95L389.5 323.95L389.5 322.74L390 322.74L390 320.3L390.5 320.3L390.5 320.69L391 320.69L391 320.42L391.5 320.42" fill="none" stroke="#111" stroke-width="1.05" stroke-linejoin="round"/>
<path d="M427.9 323.82L428.4 323.82L428.4 323.87L428.9 323.87L428.9 323.93L429.4 323.93L429.4 323.89L429.9 323.89L429.9 323.84L430.4 323.84L430.4 323.95L430.9 323.95L430.9 323.97L431.4 323.97L431.4 323.78L431.9 323.78L431.9 323.75L432.4 323.75L432.4 323.85L432.9 323.85L432.9 323.78L433.4 323.78L433.4 323.69L433.9 323.69L433.9 323.9L434.4 323.9L434.4 323.77L434.9 323.77L434.9 323.4L435.4 323.4L435.4 323.38L435.9 323.38L435.9 323.64L436.4 323.64L436.4 323.61L436.9 323.61L436.9 323.43L437.4 323.43L437.4 323.64L437.9 323.64L437.9 323.2L438.4 323.2L438.4 323.13L438.9 323.13L438.9 323.68L439.4 323.68L439.4 323.7L439.9 323.7L439.9 323.23L440.4 323.23L440.4 322.91L440.9 322.91L440.9 323.33L441.4 323.33L441.4 323.58L441.9 323.58L441.9 323.59L442.4 323.59L442.4 322.66L442.9 322.66L442.9 323.36L443.4 323.36L443.4 322.55L443.9 322.55L443.9 322.75L444.4 322.75L444.4 322.81L444.9 322.81L444.9 323.09L445.4 323.09L445.4 322.66L445.9 322.66L445.9 322.81L446.4 322.81L446.4 322.17L446.9 322.17L446.9 322.1L447.4 322.1L447.4 321.85L447.9 321.85L447.9 321.84L448.4 321.84L448.4 321.48L448.9 321.48L448.9 321.84L449.4 321.84L449.4 321.34L449.9 321.34L449.9 320.02L450.4 320.02L450.4 320.24L450.9 320.24L450.9 319.03L451.4 319.03L451.4 318.35L451.9 318.35L451.9 317.57L452.4 317.57L452.4 316.34L452.9 316.34L452.9 314.53L453.4 314.53L453.4 312.98L453.9 312.98L453.9 310.98L454.4 310.98L454.4 308.74L454.9 308.74L454.9 305.78L455.4 305.78L455.4 301.86L455.9 301.86L455.9 298.48L456.4 298.48L456.4 295.8L456.9 295.8L456.9 291.27L457.4 291.27L457.4 288.71L457.9 288.71L457.9 284.84L458.4 284.84L458.4 283.53L458.9 283.53L458.9 280.91L459.4 280.91L459.4 277.26L459.9 277.26L459.9 268.36L460.4 268.36L460.4 269.64L460.9 269.64L460.9 267.23L461.4 267.23L461.4 262.3L461.9 262.3L461.9 263.85L462.4 263.85L462.4 262.3L462.9 262.3L462.9 262.3L463.4 262.3L463.4 264.03L463.9 264.03L463.9 262.3L464.4 262.3L464.4 268.01L464.9 268.01L464.9 265.25L465.4 265.25L465.4 274.06L465.9 274.06L465.9 280.71L466.4 280.71L466.4 283.46L466.9 283.46L466.9 290.58L467.4 290.58L467.4 295.5L467.9 295.5L467.9 299.76L468.4 299.76L468.4 302.71L468.9 302.71L468.9 306.93L469.4 306.93L469.4 308.02L469.9 308.02L469.9 311.2L470.4 311.2L470.4 312.99L470.9 312.99L470.9 314.82L471.4 314.82L471.4 315.7L471.9 315.7L471.9 316.34L472.4 316.34L472.4 317.43L472.9 317.43L472.9 317.97L473.4 317.97L473.4 318.33L473.9 318.33L473.9 318.77L474.4 318.77L474.4 318.92L474.9 318.92L474.9 319.72L475.4 319.72L475.4 320.07L475.9 320.07L475.9 320.56L476.4 320.56L476.4 320.65L476.9 320.65L476.9 320.53L477.4 320.53L477.4 321.52L477.9 321.52L477.9 321.69L478.4 321.69L478.4 321.61L478.9 321.61L478.9 322.17L479.4 322.17L479.4 321.99L479.9 321.99L479.9 322.54L480.4 322.54L480.4 322.59L480.9 322.59L480.9 322.64L481.4 322.64L481.4 322.42L481.9 322.42L481.9 322.37L482.4 322.37L482.4 322.61L482.9 322.61L482.9 322.94L483.4 322.94L483.4 322.78L483.9 322.78L483.9 322.83L484.4 322.83L484.4 323.29L484.9 323.29L484.9 323.33L485.4 323.33L485.4 323.64L485.9 323.64L485.9 323.44L486.4 323.44L486.4 323.53L486.9 323.53L486.9 323.06L487.4 323.06L487.4 323.8L487.9 323.8L487.9 323.7L488.4 323.7L488.4 322.97L488.9 322.97L488.9 323.33L489.4 323.33L489.4 323.49L489.9 323.49L489.9 323.63L490.4 323.63L490.4 323.32L490.9 323.32L490.9 323.31L491.4 323.31L491.4 323.48L491.9 323.48L491.9 323.29L492.4 323.29L492.4 323.03L492.9 323.03L492.9 323.85L493.4 323.85L493.4 323.13L493.9 323.13L493.9 323.57L494.4 323.57L494.4 323.2L494.9 323.2L494.9 323.43L495.4 323.43L495.4 323.48L495.9 323.48L495.9 323.25L496.4 323.25L496.4 323.9L496.9 323.9L496.9 323.94L497.4 323.94L497.4 323.5L497.9 323.5L497.9 323.66L498.4 323.66L498.4 323.76L498.9 323.76L498.9 323.5L499.4 323.5L499.4 323.35L499.9 323.35L499.9 323.7L500.4 323.7L500.4 323.05L500.9 323.05L500.9 323.21L501.4 323.21L501.4 323.67L501.9 323.67L501.9 323.25L502.4 323.25L502.4 323.98L502.9 323.98L502.9 323.89L503.4 323.89L503.4 323.23L503.9 323.23L503.9 323.31L504.4 323.31L504.4 323.33L504.9 323.33L504.9 323.4L505.4 323.4L505.4 323.71L505.9 323.71L505.9 323.53L506.4 323.53L506.4 323.84L506.9 323.84L506.9 323.76L507.4 323.76L507.4 323.73L507.9 323.73L507.9 323.55L508.4 323.55L508.4 323.59L508.9 323.59L508.9 323.2L509.4 323.2L509.4 323.35L509.9 323.35L509.9 323.48L510.4 323.48L510.4 323.66L510.9 323.66L510.9 323.39L511.4 323.39L511.4 323.78L511.9 323.78L511.9 323.93L512.4 323.93L512.4 323.45L512.9 323.45L512.9 323.38L513.4 323.38L513.4 323.2L513.9 323.2" fill="none" stroke="#111" stroke-width="1.05" stroke-linejoin="round"/>
<path d="M303.8 414.4L303.8 379.4L304.3 379.4L304.3 379.4L304.8 379.4L304.8 394.4L305.3 394.4L305.3 394.4L305.8 394.4L305.8 401.1L306.3 401.1L306.3 402.35L306.8 402.35L306.8 401.58L307.3 401.58L307.3 402.14L307.8 402.14L307.8 403.81L308.3 403.81L308.3 403.89L308.8 403.89L308.8 402.98L309.3 402.98L309.3 401.8L309.8 401.8L309.8 402.2L310.3 402.2L310.3 401.29L310.8 401.29L310.8 401.45L311.3 401.45L311.3 401.83L311.8 401.83L311.8 403.99L312.3 403.99L312.3 404.3L312.8 404.3L312.8 405.78L313.3 405.78L313.3 404.61L313.8 404.61L313.8 405.55L314.3 405.55L314.3 403.28L314.8 403.28L314.8 402.82L315.3 402.82L315.3 403.14L315.8 403.14L315.8 402.42L316.3 402.42L316.3 404.33L316.8 404.33L316.8 403.8L317.3 403.8L317.3 406.36L317.8 406.36L317.8 405.55L318.3 405.55L318.3 406.03L318.8 406.03L318.8 404.5L319.3 404.5L319.3 403.48L319.8 403.48L319.8 404.11L320.3 404.11L320.3 402.38L320.8 402.38L320.8 403.78L321.3 403.78L321.3 403.85L321.8 403.85L321.8 405.49L322.3 405.49L322.3 404.83L322.8 404.83L322.8 406.38L323.3 406.38L323.3 405.82L323.8 405.82L323.8 405L324.3 405L324.3 404.26L324.8 404.26L324.8 402.47L325.3 402.47L325.3 402.33L325.8 402.33L325.8 402.54L326.3 402.54L326.3 403.9L326.8 403.9L326.8 405.8L327.3 405.8L327.3 406.23L327.8 406.23L327.8 405.41L328.3 405.41L328.3 404.08L328.8 404.08L328.8 404.47L329.3 404.47L329.3 402.77L329.8 402.77L329.8 403.14L330.3 403.14L330.3 402.69L330.8 402.69L330.8 402.88L331.3 402.88L331.3 403.07L331.8 403.07L331.8 403.71L332.3 403.71L332.3 405.06L332.8 405.06L332.8 404.16L333.3 404.16L333.3 402.45L333.8 402.45L333.8 402.57L334.3 402.57L334.3 401.26L334.8 401.26L334.8 400.42L335.3 400.42L335.3 401.77L335.8 401.77L335.8 401.04L336.3 401.04L336.3 403.33L336.8 403.33L336.8 403.03L337.3 403.03L337.3 403.62L337.8 403.62L337.8 402.65L338.3 402.65L338.3 399.76L338.8 399.76L338.8 399.36L339.3 399.36L339.3 399.97L339.8 399.97L339.8 398.8L340.3 398.8L340.3 398.6L340.8 398.6L340.8 400.8L341.3 400.8L341.3 400.18L341.8 400.18L341.8 400.78L342.3 400.78L342.3 399.3L342.8 399.3L342.8 398.92L343.3 398.92L343.3 398.92L343.8 398.92L343.8 395.35L344.3 395.35L344.3 396.98L344.8 396.98L344.8 395.6L345.3 395.6L345.3 396.32L345.8 396.32L345.8 395.86L346.3 395.86L346.3 398.28L346.8 398.28L346.8 397.84L347.3 397.84L347.3 396.35L347.8 396.35L347.8 394.57L348.3 394.57L348.3 394.3L348.8 394.3L348.8 393.08L349.3 393.08L349.3 394.33L349.8 394.33L349.8 393.62L350.3 393.62L350.3 395.09L350.8 395.09L350.8 396.92L351.3 396.92L351.3 397.37L351.8 397.37L351.8 397.51L352.3 397.51L352.3 397.32L352.8 397.32L352.8 397.02L353.3 397.02L353.3 393.52L353.8 393.52L353.8 396.62L354.3 396.62L354.3 393.38L354.8 393.38L354.8 396.41L355.3 396.41L355.3 396.43L355.8 396.43L355.8 397.93L356.3 397.93L356.3 399.27L356.8 399.27L356.8 398.71L357.3 398.71L357.3 398.38L357.8 398.38L357.8 399.06L358.3 399.06L358.3 397.18L358.8 397.18L358.8 400.21L359.3 400.21L359.3 399.8L359.8 399.8L359.8 401.53L360.3 401.53L360.3 402.14L360.8 402.14L360.8 404.49L361.3 404.49L361.3 405.46L361.8 405.46L361.8 405.77L362.3 405.77L362.3 406.01L362.8 406.01L362.8 406.85L363.3 406.85L363.3 407.02L363.8 407.02L363.8 407.4L364.3 407.4L364.3 408.92L364.8 408.92L364.8 409.89L365.3 409.89L365.3 410.6L365.8 410.6L365.8 411.19L366.3 411.19L366.3 411.35L366.8 411.35L366.8 411.86L367.3 411.86L367.3 411.87L367.8 411.87L367.8 412.01L368.3 412.01L368.3 412.55L368.8 412.55L368.8 412.67L369.3 412.67L369.3 413.08L369.8 413.08L369.8 413.37L370.3 413.37L370.3 413.54L370.8 413.54L370.8 413.75L371.3 413.75L371.3 413.92L371.8 413.92L371.8 413.94L372.3 413.94L372.3 413.9L372.8 413.9L372.8 413.9L373.3 413.9L373.3 413.9L373.8 413.9L373.8 413.9L374.3 413.9L374.3 413.9L374.8 413.9L374.8 413.9L375.3 413.9L375.3 413.9L375.8 413.9L375.8 413.9L376.3 413.9L376.3 413.9L376.8 413.9L376.8 413.9L377.3 413.9L377.3 413.9L377.8 413.9L377.8 413.9L378.3 413.9L378.3 413.9L378.8 413.9L378.8 413.9L379.3 413.9L379.3 413.9L379.8 413.9L379.8 413.9L380.3 413.9L380.3 413.9L380.8 413.9L380.8 413.9L381.3 413.9L381.3 413.9L381.8 413.9L381.8 413.9L382.3 413.9L382.3 413.9L382.8 413.9L382.8 413.9L383.3 413.9L383.3 413.9L383.8 413.9L383.8 413.9L384.3 413.9L384.3 413.9L384.8 413.9L384.8 413.9L385.3 413.9L385.3 413.9L385.8 413.9L385.8 413.9L386.3 413.9L386.3 413.9L386.8 413.9L386.8 413.9L387.3 413.9L387.3 413.9L387.8 413.9L387.8 413.9L388.3 413.9L388.3 413.9L388.8 413.9L388.8 413.9L389.3 413.9L389.3 413.9L389.8 413.9L389.8 413.9L390.3 413.9L390.3 413.9L390.8 413.9L390.8 414.4z" fill="#0c0c0c" stroke="#0c0c0c" stroke-width="0.4"/>
<path d="M427.6 414.8L427.6 368.8L428.1 368.8L428.1 368.8L428.6 368.8L428.6 368.8L429.1 368.8L429.1 401.11L429.6 401.11L429.6 403.5L430.1 403.5L430.1 403L430.6 403L430.6 401.38L431.1 401.38L431.1 399.5L431.6 399.5L431.6 395.57L432.1 395.57L432.1 394.15L432.6 394.15L432.6 391.25L433.1 391.25L433.1 391.6L433.6 391.6L433.6 390.03L434.1 390.03L434.1 390.5L434.6 390.5L434.6 393.84L435.1 393.84L435.1 395.28L435.6 395.28L435.6 394.48L436.1 394.48L436.1 393.02L436.6 393.02L436.6 388.84L437.1 388.84L437.1 389.48L437.6 389.48L437.6 385.83L438.1 385.83L438.1 384.49L438.6 384.49L438.6 382.84L439.1 382.84L439.1 387.51L439.6 387.51L439.6 386.33L440.1 386.33L440.1 390.41L440.6 390.41L440.6 393.4L441.1 393.4L441.1 392.28L441.6 392.28L441.6 391.66L442.1 391.66L442.1 392.31L442.6 392.31L442.6 393.67L443.1 393.67L443.1 388.45L443.6 388.45L443.6 390.49L444.1 390.49L444.1 389.51L444.6 389.51L444.6 390.08L445.1 390.08L445.1 393.69L445.6 393.69L445.6 394.67L446.1 394.67L446.1 396.3L446.6 396.3L446.6 397.86L447.1 397.86L447.1 397.61L447.6 397.61L447.6 393.5L448.1 393.5L448.1 393.31L448.6 393.31L448.6 389.77L449.1 389.77L449.1 392.49L449.6 392.49L449.6 391.34L450.1 391.34L450.1 392.63L450.6 392.63L450.6 390.5L451.1 390.5L451.1 392.57L451.6 392.57L451.6 393.05L452.1 393.05L452.1 394.94L452.6 394.94L452.6 395.96L453.1 395.96L453.1 393L453.6 393L453.6 391.98L454.1 391.98L454.1 391.23L454.6 391.23L454.6 387.9L455.1 387.9L455.1 389.27L455.6 389.27L455.6 391.25L456.1 391.25L456.1 391.32L456.6 391.32L456.6 391.51L457.1 391.51L457.1 393.2L457.6 393.2L457.6 396.32L458.1 396.32L458.1 397.97L458.6 397.97L458.6 394.19L459.1 394.19L459.1 395.94L459.6 395.94L459.6 392.96L460.1 392.96L460.1 394.5L460.6 394.5L460.6 390.79L461.1 390.79L461.1 393.95L461.6 393.95L461.6 396.06L462.1 396.06L462.1 398.42L462.6 398.42L462.6 398.21L463.1 398.21L463.1 396.42L463.6 396.42L463.6 397.92L464.1 397.92L464.1 397.1L464.6 397.1L464.6 393.53L465.1 393.53L465.1 389.7L465.6 389.7L465.6 390.78L466.1 390.78L466.1 389.27L466.6 389.27L466.6 388.56L467.1 388.56L467.1 392.41L467.6 392.41L467.6 391.55L468.1 391.55L468.1 393.75L468.6 393.75L468.6 395.68L469.1 395.68L469.1 395.4L469.6 395.4L469.6 390.11L470.1 390.11L470.1 390.75L470.6 390.75L470.6 389.71L471.1 389.71L471.1 387.24L471.6 387.24L471.6 389.46L472.1 389.46L472.1 391.41L472.6 391.41L472.6 394.54L473.1 394.54L473.1 394.64L473.6 394.64L473.6 398.45L474.1 398.45L474.1 398.18L474.6 398.18L474.6 396.55L475.1 396.55L475.1 396.1L475.6 396.1L475.6 396.71L476.1 396.71L476.1 395.08L476.6 395.08L476.6 392.16L477.1 392.16L477.1 392.15L477.6 392.15L477.6 395.93L478.1 395.93L478.1 393.38L478.6 393.38L478.6 398.6L479.1 398.6L479.1 399.27L479.6 399.27L479.6 399.6L480.1 399.6L480.1 397.3L480.6 397.3L480.6 395.35L481.1 395.35L481.1 393.22L481.6 393.22L481.6 395.15L482.1 395.15L482.1 393.33L482.6 393.33L482.6 396.43L483.1 396.43L483.1 396.6L483.6 396.6L483.6 399.71L484.1 399.71L484.1 401.38L484.6 401.38L484.6 403.76L485.1 403.76L485.1 403.07L485.6 403.07L485.6 405.06L486.1 405.06L486.1 403.95L486.6 403.95L486.6 405.15L487.1 405.15L487.1 405.2L487.6 405.2L487.6 405.99L488.1 405.99L488.1 407.34L488.6 407.34L488.6 408.07L489.1 408.07L489.1 409.25L489.6 409.25L489.6 410.96L490.1 410.96L490.1 411.58L490.6 411.58L490.6 411.52L491.1 411.52L491.1 412.31L491.6 412.31L491.6 412.18L492.1 412.18L492.1 412.27L492.6 412.27L492.6 412.15L493.1 412.15L493.1 412.78L493.6 412.78L493.6 412.87L494.1 412.87L494.1 413.16L494.6 413.16L494.6 413.48L495.1 413.48L495.1 413.9L495.6 413.9L495.6 413.87L496.1 413.87L496.1 414.1L496.6 414.1L496.6 414.1L497.1 414.1L497.1 414.19L497.6 414.19L497.6 414.27L498.1 414.27L498.1 414.31L498.6 414.31L498.6 414.4L499.1 414.4L499.1 414.3L499.6 414.3L499.6 414.3L500.1 414.3L500.1 414.3L500.6 414.3L500.6 414.3L501.1 414.3L501.1 414.3L501.6 414.3L501.6 414.3L502.1 414.3L502.1 414.3L502.6 414.3L502.6 414.3L503.1 414.3L503.1 414.3L503.6 414.3L503.6 414.3L504.1 414.3L504.1 414.3L504.6 414.3L504.6 414.3L505.1 414.3L505.1 414.3L505.6 414.3L505.6 414.3L506.1 414.3L506.1 414.3L506.6 414.3L506.6 414.3L507.1 414.3L507.1 414.3L507.6 414.3L507.6 414.3L508.1 414.3L508.1 414.3L508.6 414.3L508.6 414.3L509.1 414.3L509.1 414.3L509.6 414.3L509.6 414.3L510.1 414.3L510.1 414.3L510.6 414.3L510.6 414.3L511.1 414.3L511.1 414.3L511.6 414.3L511.6 414.3L512.1 414.3L512.1 414.3L512.6 414.3L512.6 414.3L513.1 414.3L513.1 414.3L513.6 414.3L513.6 414.3L514.1 414.3L514.1 414.3L514.6 414.3L514.6 414.8z" fill="#0c0c0c" stroke="#0c0c0c" stroke-width="0.4"/>
<rect x="304.5" y="260.8" width="86.8" height="64" fill="none" stroke="#1a1a1a" stroke-width="1"/>
<path d="M304.5 324.8L304.5 328M311.03 324.8L311.03 326.8M314.85 324.8L314.85 326.8M317.56 324.8L317.56 326.8M319.67 324.8L319.67 326.8M321.39 324.8L321.39 326.8M322.84 324.8L322.84 326.8M324.1 324.8L324.1 326.8M325.21 324.8L325.21 326.8M326.2 324.8L326.2 328M332.73 324.8L332.73 326.8M336.55 324.8L336.55 326.8M339.26 324.8L339.26 326.8M341.37 324.8L341.37 326.8M343.09 324.8L343.09 326.8M344.54 324.8L344.54 326.8M345.8 324.8L345.8 326.8M346.91 324.8L346.91 326.8M347.9 324.8L347.9 328M354.43 324.8L354.43 326.8M358.25 324.8L358.25 326.8M360.96 324.8L360.96 326.8M363.07 324.8L363.07 326.8M364.79 324.8L364.79 326.8M366.24 324.8L366.24 326.8M367.5 324.8L367.5 326.8M368.61 324.8L368.61 326.8M369.6 324.8L369.6 328M376.13 324.8L376.13 326.8M379.95 324.8L379.95 326.8M382.66 324.8L382.66 326.8M384.77 324.8L384.77 326.8M386.49 324.8L386.49 326.8M387.94 324.8L387.94 326.8M389.2 324.8L389.2 326.8M390.31 324.8L390.31 326.8M391.3 324.8L391.3 328" stroke="#222" stroke-width="0.95" fill="none"/>
<path d="M304.5 324.8L302.3 324.8M304.5 322.24L302.3 322.24M304.5 319.68L302.3 319.68M304.5 317.12L302.3 317.12M304.5 314.56L302.3 314.56M304.5 312L302.3 312M304.5 309.44L302.3 309.44M304.5 306.88L302.3 306.88M304.5 304.32L302.3 304.32M304.5 301.76L302.3 301.76M304.5 299.2L302.3 299.2M304.5 296.64L302.3 296.64M304.5 294.08L302.3 294.08M304.5 291.52L302.3 291.52M304.5 288.96L302.3 288.96M304.5 286.4L302.3 286.4M304.5 283.84L302.3 283.84M304.5 281.28L302.3 281.28M304.5 278.72L302.3 278.72M304.5 276.16L302.3 276.16M304.5 273.6L302.3 273.6M304.5 271.04L302.3 271.04M304.5 268.48L302.3 268.48M304.5 265.92L302.3 265.92M304.5 263.36L302.3 263.36M304.5 260.8L302.3 260.8" stroke="#222" stroke-width="1.0" fill="none"/>
<path d="M304.5 324.8L300.9 324.8M304.5 312L300.9 312M304.5 299.2L300.9 299.2M304.5 286.4L300.9 286.4M304.5 273.6L300.9 273.6M304.5 260.8L300.9 260.8" stroke="#222" stroke-width="1.0" fill="none"/>
<text transform="translate(300.1 336.1) scale(0.9 1)" font-size="7.1">10<tspan dy="-3.9" font-size="6.6">0</tspan></text>
<text transform="translate(323.7 336.1) scale(0.9 1)" font-size="7.1">10<tspan dy="-3.9" font-size="6.6">1</tspan></text>
<text transform="translate(343.5 336.1) scale(0.9 1)" font-size="7.1">10<tspan dy="-3.9" font-size="6.6">2</tspan></text>
<text transform="translate(364.4 336.1) scale(0.9 1)" font-size="7.1">10<tspan dy="-3.9" font-size="6.6">3</tspan></text>
<text transform="translate(385.3 336.1) scale(0.9 1)" font-size="7.1">10<tspan dy="-3.9" font-size="6.6">4</tspan></text>
<text transform="translate(300.1 263.8) rotate(-90) scale(0.9 1)" font-size="7.6" fill="#222">50</text>
<text transform="translate(299.5 324.55) rotate(-90) scale(0.9 1)" font-size="7" fill="#222">0</text>
<text x="291" y="292.8" font-size="7.2" text-anchor="middle" transform="rotate(-90 291 292.8)" fill="#222">Counts</text>
<rect x="427.9" y="261.4" width="86.5" height="63.1" fill="none" stroke="#1a1a1a" stroke-width="1"/>
<path d="M427.9 324.5L427.9 327.7M434.41 324.5L434.41 326.5M438.22 324.5L438.22 326.5M440.92 324.5L440.92 326.5M443.02 324.5L443.02 326.5M444.73 324.5L444.73 326.5M446.18 324.5L446.18 326.5M447.43 324.5L447.43 326.5M448.54 324.5L448.54 326.5M449.52 324.5L449.52 327.7M456.03 324.5L456.03 326.5M459.84 324.5L459.84 326.5M462.54 324.5L462.54 326.5M464.64 324.5L464.64 326.5M466.35 324.5L466.35 326.5M467.8 324.5L467.8 326.5M469.05 324.5L469.05 326.5M470.16 324.5L470.16 326.5M471.15 324.5L471.15 327.7M477.66 324.5L477.66 326.5M481.47 324.5L481.47 326.5M484.17 324.5L484.17 326.5M486.27 324.5L486.27 326.5M487.98 324.5L487.98 326.5M489.43 324.5L489.43 326.5M490.68 324.5L490.68 326.5M491.79 324.5L491.79 326.5M492.77 324.5L492.77 327.7M499.28 324.5L499.28 326.5M503.09 324.5L503.09 326.5M505.79 324.5L505.79 326.5M507.89 324.5L507.89 326.5M509.6 324.5L509.6 326.5M511.05 324.5L511.05 326.5M512.3 324.5L512.3 326.5M513.41 324.5L513.41 326.5M514.4 324.5L514.4 327.7" stroke="#222" stroke-width="0.95" fill="none"/>
<path d="M427.9 324.5L425.5 324.5M427.9 316.61L425.5 316.61M427.9 308.73L425.5 308.73M427.9 300.84L425.5 300.84M427.9 292.95L425.5 292.95M427.9 285.06L425.5 285.06M427.9 277.17L425.5 277.17M427.9 269.29L425.5 269.29M427.9 261.4L425.5 261.4" stroke="#222" stroke-width="1.0" fill="none"/>
<path d="M427.9 324.5L424.3 324.5M427.9 308.73L424.3 308.73M427.9 292.95L424.3 292.95M427.9 277.17L424.3 277.17M427.9 261.4L424.3 261.4" stroke="#222" stroke-width="1.0" fill="none"/>
<text transform="translate(423.5 335.8) scale(0.9 1)" font-size="7.1">10<tspan dy="-3.9" font-size="6.6">0</tspan></text>
<text transform="translate(447.1 335.8) scale(0.9 1)" font-size="7.1">10<tspan dy="-3.9" font-size="6.6">1</tspan></text>
<text transform="translate(466.9 335.8) scale(0.9 1)" font-size="7.1">10<tspan dy="-3.9" font-size="6.6">2</tspan></text>
<text transform="translate(487.8 335.8) scale(0.9 1)" font-size="7.1">10<tspan dy="-3.9" font-size="6.6">3</tspan></text>
<text transform="translate(508.7 335.8) scale(0.9 1)" font-size="7.1">10<tspan dy="-3.9" font-size="6.6">4</tspan></text>
<text transform="translate(423.5 264.4) rotate(-90) scale(0.9 1)" font-size="7.6" fill="#222">80</text>
<text transform="translate(422.9 324.25) rotate(-90) scale(0.9 1)" font-size="7" fill="#222">0</text>
<text x="414.5" y="292.95" font-size="7.2" text-anchor="middle" transform="rotate(-90 414.5 292.95)" fill="#222">Counts</text>
<rect x="303.8" y="350.9" width="87" height="63.5" fill="none" stroke="#1a1a1a" stroke-width="1"/>
<path d="M303.8 414.4L303.8 417.6M310.35 414.4L310.35 416.4M314.18 414.4L314.18 416.4M316.89 414.4L316.89 416.4M319 414.4L319 416.4M320.72 414.4L320.72 416.4M322.18 414.4L322.18 416.4M323.44 414.4L323.44 416.4M324.55 414.4L324.55 416.4M325.55 414.4L325.55 417.6M332.1 414.4L332.1 416.4M335.93 414.4L335.93 416.4M338.64 414.4L338.64 416.4M340.75 414.4L340.75 416.4M342.47 414.4L342.47 416.4M343.93 414.4L343.93 416.4M345.19 414.4L345.19 416.4M346.3 414.4L346.3 416.4M347.3 414.4L347.3 417.6M353.85 414.4L353.85 416.4M357.68 414.4L357.68 416.4M360.39 414.4L360.39 416.4M362.5 414.4L362.5 416.4M364.22 414.4L364.22 416.4M365.68 414.4L365.68 416.4M366.94 414.4L366.94 416.4M368.05 414.4L368.05 416.4M369.05 414.4L369.05 417.6M375.6 414.4L375.6 416.4M379.43 414.4L379.43 416.4M382.14 414.4L382.14 416.4M384.25 414.4L384.25 416.4M385.97 414.4L385.97 416.4M387.43 414.4L387.43 416.4M388.69 414.4L388.69 416.4M389.8 414.4L389.8 416.4M390.8 414.4L390.8 417.6" stroke="#222" stroke-width="0.95" fill="none"/>
<path d="M303.8 414.4L301.4 414.4M303.8 406.46L301.4 406.46M303.8 398.52L301.4 398.52M303.8 390.59L301.4 390.59M303.8 382.65L301.4 382.65M303.8 374.71L301.4 374.71M303.8 366.77L301.4 366.77M303.8 358.84L301.4 358.84M303.8 350.9L301.4 350.9" stroke="#222" stroke-width="1.0" fill="none"/>
<path d="M303.8 414.4L300.2 414.4M303.8 398.52L300.2 398.52M303.8 382.65L300.2 382.65M303.8 366.77L300.2 366.77M303.8 350.9L300.2 350.9" stroke="#222" stroke-width="1.0" fill="none"/>
<text transform="translate(299.4 425.4) scale(0.9 1)" font-size="7.1">10<tspan dy="-3.9" font-size="6.6">0</tspan></text>
<text transform="translate(323 425.4) scale(0.9 1)" font-size="7.1">10<tspan dy="-3.9" font-size="6.6">1</tspan></text>
<text transform="translate(342.8 425.4) scale(0.9 1)" font-size="7.1">10<tspan dy="-3.9" font-size="6.6">2</tspan></text>
<text transform="translate(363.7 425.4) scale(0.9 1)" font-size="7.1">10<tspan dy="-3.9" font-size="6.6">3</tspan></text>
<text transform="translate(384.6 425.4) scale(0.9 1)" font-size="7.1">10<tspan dy="-3.9" font-size="6.6">4</tspan></text>
<text transform="translate(299.4 353.9) rotate(-90) scale(0.9 1)" font-size="7.6" fill="#222">80</text>
<text transform="translate(298.8 414.15) rotate(-90) scale(0.9 1)" font-size="7" fill="#222">0</text>
<text x="290.3" y="382.35" font-size="7.2" text-anchor="middle" transform="rotate(-90 290.3 382.35)" fill="#222">Counts</text>
<rect x="427.6" y="351.1" width="86.8" height="63.7" fill="none" stroke="#1a1a1a" stroke-width="1"/>
<path d="M427.6 414.8L427.6 418M434.13 414.8L434.13 416.8M437.95 414.8L437.95 416.8M440.66 414.8L440.66 416.8M442.77 414.8L442.77 416.8M444.49 414.8L444.49 416.8M445.94 414.8L445.94 416.8M447.2 414.8L447.2 416.8M448.31 414.8L448.31 416.8M449.3 414.8L449.3 418M455.83 414.8L455.83 416.8M459.65 414.8L459.65 416.8M462.36 414.8L462.36 416.8M464.47 414.8L464.47 416.8M466.19 414.8L466.19 416.8M467.64 414.8L467.64 416.8M468.9 414.8L468.9 416.8M470.01 414.8L470.01 416.8M471 414.8L471 418M477.53 414.8L477.53 416.8M481.35 414.8L481.35 416.8M484.06 414.8L484.06 416.8M486.17 414.8L486.17 416.8M487.89 414.8L487.89 416.8M489.34 414.8L489.34 416.8M490.6 414.8L490.6 416.8M491.71 414.8L491.71 416.8M492.7 414.8L492.7 418M499.23 414.8L499.23 416.8M503.05 414.8L503.05 416.8M505.76 414.8L505.76 416.8M507.87 414.8L507.87 416.8M509.59 414.8L509.59 416.8M511.04 414.8L511.04 416.8M512.3 414.8L512.3 416.8M513.41 414.8L513.41 416.8M514.4 414.8L514.4 418" stroke="#222" stroke-width="0.95" fill="none"/>
<path d="M427.6 414.8L425.4 414.8M427.6 412.25L425.4 412.25M427.6 409.7L425.4 409.7M427.6 407.16L425.4 407.16M427.6 404.61L425.4 404.61M427.6 402.06L425.4 402.06M427.6 399.51L425.4 399.51M427.6 396.96L425.4 396.96M427.6 394.42L425.4 394.42M427.6 391.87L425.4 391.87M427.6 389.32L425.4 389.32M427.6 386.77L425.4 386.77M427.6 384.22L425.4 384.22M427.6 381.68L425.4 381.68M427.6 379.13L425.4 379.13M427.6 376.58L425.4 376.58M427.6 374.03L425.4 374.03M427.6 371.48L425.4 371.48M427.6 368.94L425.4 368.94M427.6 366.39L425.4 366.39M427.6 363.84L425.4 363.84M427.6 361.29L425.4 361.29M427.6 358.74L425.4 358.74M427.6 356.2L425.4 356.2M427.6 353.65L425.4 353.65M427.6 351.1L425.4 351.1" stroke="#222" stroke-width="1.0" fill="none"/>
<path d="M427.6 414.8L424 414.8M427.6 402.06L424 402.06M427.6 389.32L424 389.32M427.6 376.58L424 376.58M427.6 363.84L424 363.84M427.6 351.1L424 351.1" stroke="#222" stroke-width="1.0" fill="none"/>
<text transform="translate(423.2 425.8) scale(0.9 1)" font-size="7.1">10<tspan dy="-3.9" font-size="6.6">0</tspan></text>
<text transform="translate(446.8 425.8) scale(0.9 1)" font-size="7.1">10<tspan dy="-3.9" font-size="6.6">1</tspan></text>
<text transform="translate(466.6 425.8) scale(0.9 1)" font-size="7.1">10<tspan dy="-3.9" font-size="6.6">2</tspan></text>
<text transform="translate(487.5 425.8) scale(0.9 1)" font-size="7.1">10<tspan dy="-3.9" font-size="6.6">3</tspan></text>
<text transform="translate(508.4 425.8) scale(0.9 1)" font-size="7.1">10<tspan dy="-3.9" font-size="6.6">4</tspan></text>
<text transform="translate(423.2 354.1) rotate(-90) scale(0.9 1)" font-size="7.6" fill="#222">50</text>
<text transform="translate(422.6 414.55) rotate(-90) scale(0.9 1)" font-size="7" fill="#222">0</text>
<text x="414.2" y="382.65" font-size="7.2" text-anchor="middle" transform="rotate(-90 414.2 382.65)" fill="#222">Counts</text>
<text x="329.6" y="344.1" font-size="9.3" fill="#222" letter-spacing="0.2">CD<tspan font-size="7.3">10</tspan></text>
<text x="453.2" y="344.1" font-size="9.3" fill="#222" letter-spacing="0.2">CD<tspan font-size="7.3">10</tspan></text>
<text x="319.6" y="432.8" font-size="6.8" fill="#222">ANNEXIN-V FITC</text>
<text x="442.7" y="433.2" font-size="6.8" fill="#222">ANNEXIN-V FITC</text>
<text y="246.1" font-size="9.6" font-weight="bold" letter-spacing="0.2" fill="#000"><tspan x="315.9">+CD95</tspan> <tspan x="355.0">mAb</tspan></text>
<text y="235.8" font-size="9.6" font-weight="bold" letter-spacing="0.2" fill="#000"><tspan x="436.0">+CD95</tspan> <tspan x="475.2">mAb</tspan></text>
<text x="424.5" y="248" font-size="9.6" font-weight="bold" letter-spacing="0.44" fill="#000">+CYCLOHEXIMIDE</text>
<text x="364.3" y="278" font-size="9.7" letter-spacing="0.3" fill="#222">39%</text>
<text x="493.3" y="278.6" font-size="9.7" letter-spacing="0.3" fill="#222">9%</text>
<text x="363.8" y="367.4" font-size="9.7" letter-spacing="0.3" fill="#222">61%</text>
<text x="487.2" y="367.6" font-size="9.7" letter-spacing="0.3" fill="#222">66%</text>
<path d="M344.4 304.8L391.3 304.8" stroke="#222" stroke-width="0.9" fill="none"/>
<path d="M344.4 298.3L344.4 311" stroke="#222" stroke-width="0.9" fill="none"/>
<text x="370.8" y="313.2" font-size="6.7" letter-spacing="0.6" fill="#222">M1</text>
<path d="M468.5 305.3L514.4 305.3" stroke="#222" stroke-width="0.9" fill="none"/>
<path d="M468.5 303.5L468.5 311.8" stroke="#222" stroke-width="0.9" fill="none"/>
<text x="494.2" y="313.4" font-size="6.7" letter-spacing="0.6" fill="#222">M1</text>
<path d="M327.3 384.2L390.8 384.2" stroke="#222" stroke-width="0.9" fill="none"/>
<path d="M327.3 377.7L327.3 390.4" stroke="#222" stroke-width="0.9" fill="none"/>
<text x="359.7" y="392.3" font-size="6.7" letter-spacing="0.6" fill="#222">M1</text>
<path d="M451 384.5L514.4 384.5" stroke="#222" stroke-width="0.9" fill="none"/>
<path d="M451 377.8L451 389.5" stroke="#222" stroke-width="0.9" fill="none"/>
<text x="483" y="392.3" font-size="6.7" letter-spacing="0.6" fill="#222">M1</text>
</g>
<defs><filter id="soft" x="0" y="0" width="520" height="435" filterUnits="userSpaceOnUse"><feGaussianBlur stdDeviation="0.35"/></filter></defs>
</svg>
</body>
</html>
